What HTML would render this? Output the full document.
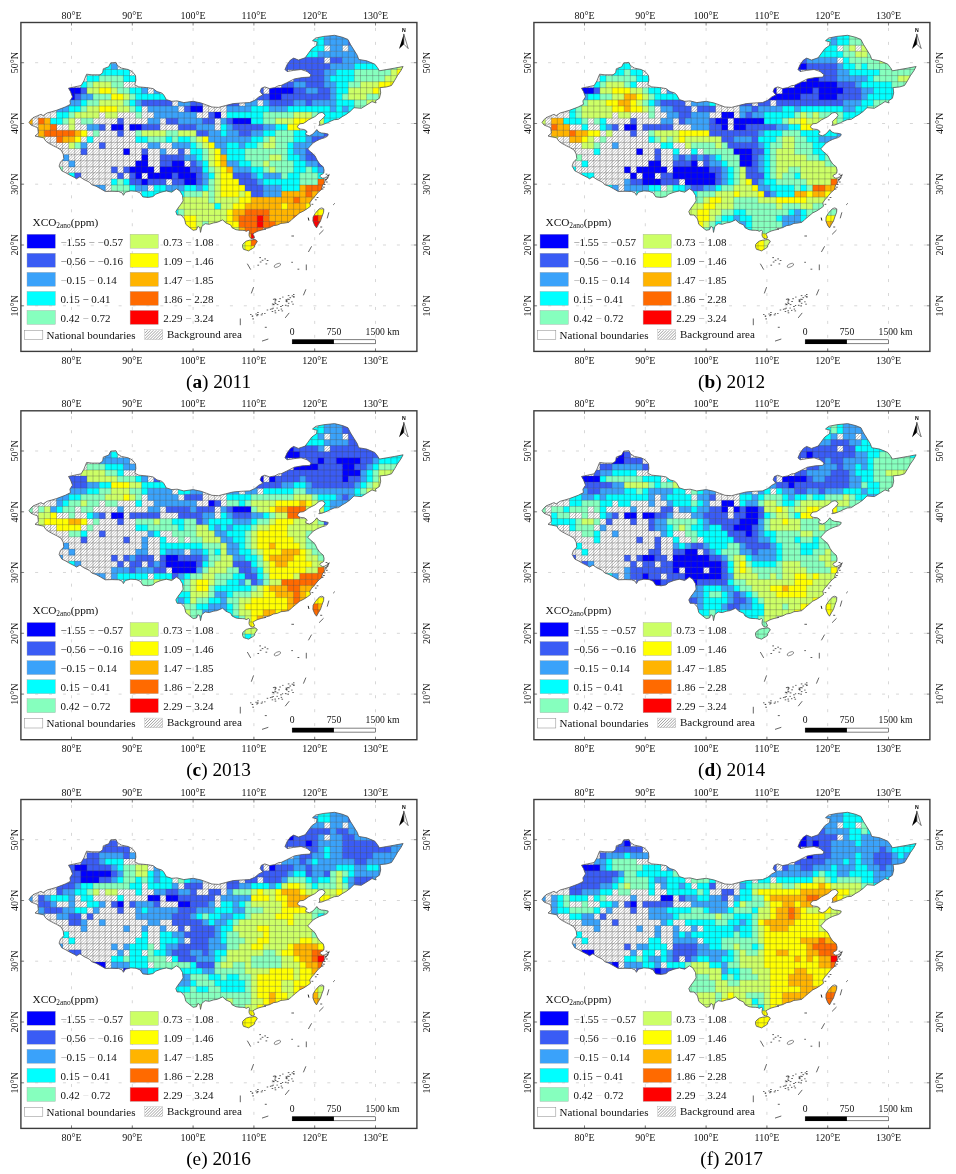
<!DOCTYPE html>
<html lang="en"><head><meta charset="utf-8"><title>XCO2 anomaly maps</title>
<style>html,body{margin:0;padding:0;background:#fff}svg{display:block}.t{font-family:"Liberation Serif",serif;fill:#111}.c{font-family:"Liberation Serif",serif;fill:#000;font-size:19.3px}</style></head><body>
<svg width="956" height="1174" viewBox="0 0 956 1174">
<defs>
<clipPath id="cn"><polygon points="29,122.4 31,119.7 33,117.7 37.7,115.7 41.1,114.3 43.1,115.7 47.1,113 51.8,111.7 56.5,110.3 65.2,107 70.5,104.3 69.9,100.9 72.5,96.9 70.5,91.6 68.5,88.2 74.5,86.9 81.2,85.5 83.9,80.9 86.6,74.2 91.9,74.8 100,74.8 102.7,72.8 103.3,68.8 108.7,66.8 110.7,62.8 116,62.4 117.4,65.5 121.4,68.1 128.1,69.5 132.1,71.5 135.5,75.5 135.9,80.2 134.8,84.9 138.8,86.9 146.8,87.6 153,88.6 157,91.6 161.7,92.9 163.7,94.9 166.4,99.6 171.7,101.3 177.1,100.9 183.8,102.6 193.2,101.3 201.2,103 206.6,105 211.9,107 218.6,107.4 225.3,105.6 233.3,103.6 241.4,103 249.4,102.6 254.8,100.3 258.8,96.9 262.8,94.9 260.1,91.6 261.4,88.2 264.8,86.9 269.5,88.6 274.8,87.6 278.9,85.5 281,85.5 286.4,82.9 294.4,78.9 302.4,77.5 309.8,77.1 311.1,74.8 307.1,71.5 301.1,69.5 293.7,70.4 287,71.5 285,69.5 287,64.8 290.4,60.1 293.7,58.1 298.4,60.1 305.1,57.8 307.8,54.1 311.8,48.7 316.5,45.4 317.1,42 312.5,40.7 315.8,38 323.8,36.4 334.6,35.3 342.6,37.3 347.9,39.4 350.6,44.7 354,50.1 357.3,55.4 358.7,59.4 366.7,60.8 374.7,64.1 377.4,67.5 379.4,70.8 386.8,69.5 394.8,68.1 403.1,66.5 400.8,70.8 397.5,75.5 394.8,80.2 391.5,85.5 386.8,86.9 380.1,87.6 380.7,92.9 379.4,98.3 375.4,100.9 376.1,103 372,101.6 366.7,105 361.3,108.3 354,107.7 350.2,111.4 346.2,114.4 342.2,116.7 338.2,119.4 334.2,119.7 330.2,121.4 327.5,122.8 324.1,124.1 321.5,125.1 318.8,125.4 319.8,124.1 319.5,121.4 321.5,119.4 323.5,117.7 325.1,115.4 324.1,113.7 322.1,112.4 319.1,113.1 316.8,115.1 314.8,116.7 311.4,118.4 308.1,120.1 306.1,121.8 303.4,123.4 300,123.8 298.4,125.1 297.4,126.8 298.7,128.4 300.7,129.1 304.4,129.5 306.4,130.8 307.1,132.1 305.7,133.5 306.1,134.8 309.4,135.8 312.1,134.5 314.8,132.1 316.8,129.5 318.8,132 321.5,133 324.8,133.3 328.2,134.1 327.8,135.8 325.5,137.5 322.1,138.5 319.5,139.5 316.8,140.8 313.4,142.8 310.1,146.2 307.7,148.9 310.1,151.5 312.8,153.5 314.8,156 315.1,156 317.1,160.1 319.8,164.1 323.2,166.8 324.1,170.1 323.8,173 322.6,174 320.5,174.9 319.9,176.1 320.9,177.4 322.6,178.2 324.3,178 326.8,176.7 329.3,174.4 327.2,179 325.1,180.9 324.3,183.4 322.6,185.1 322,187.2 321.8,189.3 319.7,191 317.6,193.1 315.5,195.6 313.8,197.7 311.7,200 309.8,202.9 310.5,206.2 307.8,208.3 303.8,210.9 299.7,212.9 295.7,216.3 291.7,219.6 289,222.3 285,223 281,223.4 277.5,225 273.5,225.7 269.5,227.7 264.1,229 266,229.1 264.2,229.5 261.1,230.2 258,231.1 256.1,232 254.2,233 252.9,234.2 253.9,235.8 254.5,237.7 252.6,238.8 250.7,238.3 249.5,236.7 249,235.2 249.2,233 249.5,231.4 248.6,230.2 246,231.4 245.1,230.6 242.3,230.3 239.1,230.2 236,229.7 232,227.7 230.7,225 226,223 222.6,219.9 217.3,222.3 213.2,223 209.2,224.3 205.2,223.7 201.9,226.3 200.5,232.4 199.9,227.7 197.9,226.3 196.5,229.7 193.2,230.3 189.8,227.7 185.8,224.3 184.5,219 181.1,215 177.1,215 175.8,211.6 177.8,208.3 180.4,204.9 183.1,200.9 182.5,195.5 179.8,190.9 176.4,188.8 171.7,192.2 166.4,190.9 161,192.2 155.7,194.2 153,196.6 148.2,197.5 142.8,196.9 140.1,192.9 136.1,191.3 130.8,190.9 125.4,192.2 123.4,195.3 122.1,192.9 118.7,191.5 112,191.3 105.3,191.5 100.6,188.8 96,186.2 91.9,184.8 89.3,182.1 83.9,179.5 79.9,176.8 76.5,178.8 74.5,177.5 69.2,174.8 65.8,172.8 61.8,170.8 59.1,166.1 60.5,162.1 63.8,158.7 63.2,154 61.1,150 56.5,147.3 53.8,146 48.4,143.1 45.8,141.1 43.7,137.8 38.4,136.8 35,136 38.4,133.1 37.7,127.7 34.4,126.4 31,125"/><polygon points="249.5,240.2 252.3,239.9 254.8,239.4 256.7,240.5 257.3,241.5 256.1,243.3 254.8,245.2 254.5,247.1 252.3,248.7 250.1,249.9 248.6,250.9 246.4,250.2 243.5,249.3 242.6,247.1 242.6,244.6 244.2,242.7 246.4,241.1"/><polygon points="321.8,207.9 323.8,208.9 323.6,212.3 321.8,217 320.5,221 318.5,224.3 316.5,227.9 314.5,225 312.9,221 313.1,217 315.1,213.6 317.8,210.3 319.8,208.5"/></clipPath><clipPath id="lg"><rect x="145" y="330.2" width="17.8" height="9.2"/></clipPath></defs>
<rect width="956" height="1174" fill="#fff"/>
<g transform="translate(0 0)">
<path d="M71.5 22.5V351.4M132.3 22.5V351.4M193.1 22.5V351.4M253.9 22.5V351.4M314.7 22.5V351.4M375.5 22.5V351.4" stroke="#cdcdcd" stroke-width="0.8" stroke-dasharray="3 10.95" stroke-dashoffset="8.5" fill="none"/><path d="M20.9 305.8H416.9M20.9 245H416.9M20.9 184.2H416.9M20.9 123.5H416.9M20.9 62.7H416.9" stroke="#cdcdcd" stroke-width="0.8" stroke-dasharray="3 10.914" stroke-dashoffset="13.6" fill="none"/><path d="M71.5 22.5v3M71.5 351.4v-3M132.3 22.5v3M132.3 351.4v-3M193.1 22.5v3M193.1 351.4v-3M253.9 22.5v3M253.9 351.4v-3M314.7 22.5v3M314.7 351.4v-3M375.5 22.5v3M375.5 351.4v-3M20.9 305.8h3M416.9 305.8h-3M20.9 245h3M416.9 245h-3M20.9 184.2h3M416.9 184.2h-3M20.9 123.5h3M416.9 123.5h-3M20.9 62.7h3M416.9 62.7h-3" stroke="#666" stroke-width="0.8" fill="none"/>
<g clip-path="url(#cn)">
<path d="M-196 260l224 -224M-193.1 260l224 -224M-190.2 260l224 -224M-187.3 260l224 -224M-184.4 260l224 -224M-181.5 260l224 -224M-178.6 260l224 -224M-175.7 260l224 -224M-172.8 260l224 -224M-169.9 260l224 -224M-167 260l224 -224M-164.1 260l224 -224M-161.2 260l224 -224M-158.3 260l224 -224M-155.4 260l224 -224M-152.5 260l224 -224M-149.6 260l224 -224M-146.7 260l224 -224M-143.8 260l224 -224M-140.9 260l224 -224M-138 260l224 -224M-135.1 260l224 -224M-132.2 260l224 -224M-129.3 260l224 -224M-126.4 260l224 -224M-123.5 260l224 -224M-120.6 260l224 -224M-117.7 260l224 -224M-114.8 260l224 -224M-111.9 260l224 -224M-109 260l224 -224M-106.1 260l224 -224M-103.2 260l224 -224M-100.3 260l224 -224M-97.4 260l224 -224M-94.5 260l224 -224M-91.6 260l224 -224M-88.7 260l224 -224M-85.8 260l224 -224M-82.9 260l224 -224M-80 260l224 -224M-77.1 260l224 -224M-74.2 260l224 -224M-71.3 260l224 -224M-68.4 260l224 -224M-65.5 260l224 -224M-62.6 260l224 -224M-59.7 260l224 -224M-56.8 260l224 -224M-53.9 260l224 -224M-51 260l224 -224M-48.1 260l224 -224M-45.2 260l224 -224M-42.3 260l224 -224M-39.4 260l224 -224M-36.5 260l224 -224M-33.6 260l224 -224M-30.7 260l224 -224M-27.8 260l224 -224M-24.9 260l224 -224M-22 260l224 -224M-19.1 260l224 -224M-16.2 260l224 -224M-13.3 260l224 -224M-10.4 260l224 -224M-7.5 260l224 -224M-4.6 260l224 -224M-1.7 260l224 -224M1.2 260l224 -224M4.1 260l224 -224M7 260l224 -224M9.9 260l224 -224M12.8 260l224 -224M15.7 260l224 -224M18.6 260l224 -224M21.5 260l224 -224M24.4 260l224 -224M27.3 260l224 -224M30.2 260l224 -224M33.1 260l224 -224M36 260l224 -224M38.9 260l224 -224M41.8 260l224 -224M44.7 260l224 -224M47.6 260l224 -224M50.5 260l224 -224M53.4 260l224 -224M56.3 260l224 -224M59.2 260l224 -224M62.1 260l224 -224M65 260l224 -224M67.9 260l224 -224M70.8 260l224 -224M73.7 260l224 -224M76.6 260l224 -224M79.5 260l224 -224M82.4 260l224 -224M85.3 260l224 -224M88.2 260l224 -224M91.1 260l224 -224M94 260l224 -224M96.9 260l224 -224M99.8 260l224 -224M102.7 260l224 -224M105.6 260l224 -224M108.5 260l224 -224M111.4 260l224 -224M114.3 260l224 -224M117.2 260l224 -224M120.1 260l224 -224M123 260l224 -224M125.9 260l224 -224M128.8 260l224 -224M131.7 260l224 -224M134.6 260l224 -224M137.5 260l224 -224M140.4 260l224 -224M143.3 260l224 -224M146.2 260l224 -224M149.1 260l224 -224M152 260l224 -224M154.9 260l224 -224M157.8 260l224 -224M160.7 260l224 -224M163.6 260l224 -224M166.5 260l224 -224M169.4 260l224 -224M172.3 260l224 -224M175.2 260l224 -224M178.1 260l224 -224M181 260l224 -224M183.9 260l224 -224M186.8 260l224 -224M189.7 260l224 -224M192.6 260l224 -224M195.5 260l224 -224M198.4 260l224 -224M201.3 260l224 -224M204.2 260l224 -224M207.1 260l224 -224M210 260l224 -224M212.9 260l224 -224M215.8 260l224 -224M218.7 260l224 -224M221.6 260l224 -224M224.5 260l224 -224M227.4 260l224 -224M230.3 260l224 -224M233.2 260l224 -224M236.1 260l224 -224M239 260l224 -224M241.9 260l224 -224M244.8 260l224 -224M247.7 260l224 -224M250.6 260l224 -224M253.5 260l224 -224M256.4 260l224 -224M259.3 260l224 -224M262.2 260l224 -224M265.1 260l224 -224M268 260l224 -224M270.9 260l224 -224M273.8 260l224 -224M276.7 260l224 -224M279.6 260l224 -224M282.5 260l224 -224M285.4 260l224 -224M288.3 260l224 -224M291.2 260l224 -224M294.1 260l224 -224M297 260l224 -224M299.9 260l224 -224M302.8 260l224 -224M305.7 260l224 -224M308.6 260l224 -224M311.5 260l224 -224M314.4 260l224 -224M317.3 260l224 -224M320.2 260l224 -224M323.1 260l224 -224M326 260l224 -224M328.9 260l224 -224M331.8 260l224 -224M334.7 260l224 -224M337.6 260l224 -224M340.5 260l224 -224M343.4 260l224 -224M346.3 260l224 -224M349.2 260l224 -224M352.1 260l224 -224M355 260l224 -224M357.9 260l224 -224M360.8 260l224 -224M363.7 260l224 -224M366.6 260l224 -224M369.5 260l224 -224M372.4 260l224 -224M375.3 260l224 -224M378.2 260l224 -224M381.1 260l224 -224M384 260l224 -224M386.9 260l224 -224M389.8 260l224 -224M392.7 260l224 -224M395.6 260l224 -224M398.5 260l224 -224M401.4 260l224 -224M404.3 260l224 -224" stroke="#585858" stroke-width="0.4" fill="none"/>
<rect x="317.9" y="33" width="6.4" height="6.4" fill="#00ffff"/>
<rect x="324" y="33" width="24.6" height="6.4" fill="#3aa2fa"/>
<rect x="311.9" y="39.1" width="12.5" height="6.4" fill="#00ffff"/>
<rect x="324" y="39.1" width="24.6" height="6.4" fill="#3aa2fa"/>
<rect x="348.3" y="39.1" width="6.4" height="6.4" fill="#3a5cf5"/>
<rect x="305.8" y="45.2" width="18.5" height="6.4" fill="#00ffff"/>
<rect x="330.1" y="45.2" width="12.5" height="6.4" fill="#3aa2fa"/>
<rect x="348.3" y="45.2" width="12.5" height="6.4" fill="#3aa2fa"/>
<rect x="305.8" y="51.3" width="12.5" height="6.4" fill="#00ffff"/>
<rect x="317.9" y="51.3" width="42.9" height="6.4" fill="#3aa2fa"/>
<rect x="287.5" y="57.3" width="36.8" height="6.4" fill="#3a5cf5"/>
<rect x="330.1" y="57.3" width="12.5" height="6.4" fill="#3a5cf5"/>
<rect x="342.3" y="57.3" width="30.7" height="6.4" fill="#3aa2fa"/>
<rect x="105.1" y="63.4" width="6.4" height="6.4" fill="#00ffff"/>
<rect x="111.2" y="63.4" width="6.4" height="6.4" fill="#3aa2fa"/>
<rect x="281.5" y="63.4" width="48.9" height="6.4" fill="#3a5cf5"/>
<rect x="330.1" y="63.4" width="24.6" height="6.4" fill="#3aa2fa"/>
<rect x="354.4" y="63.4" width="24.6" height="6.4" fill="#00ffff"/>
<rect x="390.9" y="63.4" width="6.4" height="6.4" fill="#86ffbe"/>
<rect x="397" y="63.4" width="6.4" height="6.4" fill="#ccff66"/>
<rect x="99.1" y="69.5" width="30.7" height="6.4" fill="#00ffff"/>
<rect x="281.5" y="69.5" width="6.4" height="6.4" fill="#3a5cf5"/>
<rect x="305.8" y="69.5" width="18.5" height="6.4" fill="#3a5cf5"/>
<rect x="324" y="69.5" width="12.5" height="6.4" fill="#3aa2fa"/>
<rect x="336.2" y="69.5" width="18.5" height="6.4" fill="#00ffff"/>
<rect x="354.4" y="69.5" width="36.8" height="6.4" fill="#86ffbe"/>
<rect x="390.9" y="69.5" width="6.4" height="6.4" fill="#ccff66"/>
<rect x="397" y="69.5" width="6.4" height="6.4" fill="#ffff00"/>
<rect x="86.9" y="75.6" width="12.5" height="6.4" fill="#00ffff"/>
<rect x="99.1" y="75.6" width="24.6" height="6.4" fill="#86ffbe"/>
<rect x="123.4" y="75.6" width="12.5" height="6.4" fill="#00ffff"/>
<rect x="293.6" y="75.6" width="30.7" height="6.4" fill="#3a5cf5"/>
<rect x="324" y="75.6" width="6.4" height="6.4" fill="#3aa2fa"/>
<rect x="330.1" y="75.6" width="24.6" height="6.4" fill="#00ffff"/>
<rect x="354.4" y="75.6" width="30.7" height="6.4" fill="#86ffbe"/>
<rect x="384.8" y="75.6" width="12.5" height="6.4" fill="#ccff66"/>
<rect x="80.8" y="81.7" width="6.4" height="6.4" fill="#00ffff"/>
<rect x="86.9" y="81.7" width="6.4" height="6.4" fill="#86ffbe"/>
<rect x="93" y="81.7" width="18.5" height="6.4" fill="#ccff66"/>
<rect x="111.2" y="81.7" width="12.5" height="6.4" fill="#86ffbe"/>
<rect x="281.5" y="81.7" width="12.5" height="6.4" fill="#3a5cf5"/>
<rect x="293.6" y="81.7" width="12.5" height="6.4" fill="#3aa2fa"/>
<rect x="305.8" y="81.7" width="18.5" height="6.4" fill="#3a5cf5"/>
<rect x="324" y="81.7" width="12.5" height="6.4" fill="#3aa2fa"/>
<rect x="336.2" y="81.7" width="12.5" height="6.4" fill="#00ffff"/>
<rect x="348.3" y="81.7" width="12.5" height="6.4" fill="#86ffbe"/>
<rect x="360.5" y="81.7" width="18.5" height="6.4" fill="#ccff66"/>
<rect x="378.7" y="81.7" width="18.5" height="6.4" fill="#ffff00"/>
<rect x="68.7" y="87.7" width="12.5" height="6.4" fill="#0000ff"/>
<rect x="80.8" y="87.7" width="6.4" height="6.4" fill="#3a5cf5"/>
<rect x="86.9" y="87.7" width="12.5" height="6.4" fill="#ccff66"/>
<rect x="99.1" y="87.7" width="12.5" height="6.4" fill="#ffff00"/>
<rect x="111.2" y="87.7" width="6.4" height="6.4" fill="#ccff66"/>
<rect x="117.3" y="87.7" width="12.5" height="6.4" fill="#86ffbe"/>
<rect x="129.5" y="87.7" width="12.5" height="6.4" fill="#00ffff"/>
<rect x="141.6" y="87.7" width="6.4" height="6.4" fill="#3aa2fa"/>
<rect x="153.8" y="87.7" width="6.4" height="6.4" fill="#3aa2fa"/>
<rect x="257.1" y="87.7" width="6.4" height="6.4" fill="#3a5cf5"/>
<rect x="269.3" y="87.7" width="24.6" height="6.4" fill="#0000ff"/>
<rect x="293.6" y="87.7" width="12.5" height="6.4" fill="#3a5cf5"/>
<rect x="305.8" y="87.7" width="12.5" height="6.4" fill="#3aa2fa"/>
<rect x="317.9" y="87.7" width="12.5" height="6.4" fill="#3a5cf5"/>
<rect x="330.1" y="87.7" width="6.4" height="6.4" fill="#3aa2fa"/>
<rect x="336.2" y="87.7" width="12.5" height="6.4" fill="#00ffff"/>
<rect x="348.3" y="87.7" width="24.6" height="6.4" fill="#ccff66"/>
<rect x="372.7" y="87.7" width="6.4" height="6.4" fill="#ffff00"/>
<rect x="378.7" y="87.7" width="6.4" height="6.4" fill="#ccff66"/>
<rect x="68.7" y="93.8" width="6.4" height="6.4" fill="#0000ff"/>
<rect x="74.7" y="93.8" width="6.4" height="6.4" fill="#3a5cf5"/>
<rect x="80.8" y="93.8" width="12.5" height="6.4" fill="#3aa2fa"/>
<rect x="93" y="93.8" width="18.5" height="6.4" fill="#86ffbe"/>
<rect x="111.2" y="93.8" width="12.5" height="6.4" fill="#ffff00"/>
<rect x="123.4" y="93.8" width="6.4" height="6.4" fill="#ccff66"/>
<rect x="129.5" y="93.8" width="6.4" height="6.4" fill="#86ffbe"/>
<rect x="135.5" y="93.8" width="30.7" height="6.4" fill="#00ffff"/>
<rect x="251.1" y="93.8" width="6.4" height="6.4" fill="#3aa2fa"/>
<rect x="257.1" y="93.8" width="12.5" height="6.4" fill="#3a5cf5"/>
<rect x="269.3" y="93.8" width="12.5" height="6.4" fill="#0000ff"/>
<rect x="281.5" y="93.8" width="48.9" height="6.4" fill="#3a5cf5"/>
<rect x="330.1" y="93.8" width="6.4" height="6.4" fill="#3aa2fa"/>
<rect x="336.2" y="93.8" width="6.4" height="6.4" fill="#00ffff"/>
<rect x="342.3" y="93.8" width="6.4" height="6.4" fill="#86ffbe"/>
<rect x="348.3" y="93.8" width="18.5" height="6.4" fill="#ccff66"/>
<rect x="366.6" y="93.8" width="12.5" height="6.4" fill="#86ffbe"/>
<rect x="378.7" y="93.8" width="6.4" height="6.4" fill="#ccff66"/>
<rect x="68.7" y="99.9" width="12.5" height="6.4" fill="#3aa2fa"/>
<rect x="80.8" y="99.9" width="6.4" height="6.4" fill="#00ffff"/>
<rect x="86.9" y="99.9" width="12.5" height="6.4" fill="#86ffbe"/>
<rect x="99.1" y="99.9" width="24.6" height="6.4" fill="#ccff66"/>
<rect x="123.4" y="99.9" width="6.4" height="6.4" fill="#86ffbe"/>
<rect x="129.5" y="99.9" width="6.4" height="6.4" fill="#00ffff"/>
<rect x="135.5" y="99.9" width="6.4" height="6.4" fill="#3aa2fa"/>
<rect x="141.6" y="99.9" width="30.7" height="6.4" fill="#3a5cf5"/>
<rect x="178.1" y="99.9" width="12.5" height="6.4" fill="#3aa2fa"/>
<rect x="190.3" y="99.9" width="12.5" height="6.4" fill="#3a5cf5"/>
<rect x="226.7" y="99.9" width="12.5" height="6.4" fill="#3a5cf5"/>
<rect x="245" y="99.9" width="12.5" height="6.4" fill="#3aa2fa"/>
<rect x="263.2" y="99.9" width="6.4" height="6.4" fill="#3aa2fa"/>
<rect x="269.3" y="99.9" width="24.6" height="6.4" fill="#3a5cf5"/>
<rect x="293.6" y="99.9" width="12.5" height="6.4" fill="#3aa2fa"/>
<rect x="305.8" y="99.9" width="6.4" height="6.4" fill="#3a5cf5"/>
<rect x="311.9" y="99.9" width="24.6" height="6.4" fill="#3aa2fa"/>
<rect x="336.2" y="99.9" width="18.5" height="6.4" fill="#00ffff"/>
<rect x="354.4" y="99.9" width="12.5" height="6.4" fill="#86ffbe"/>
<rect x="366.6" y="99.9" width="12.5" height="6.4" fill="#ccff66"/>
<rect x="56.5" y="106" width="12.5" height="6.4" fill="#3aa2fa"/>
<rect x="68.7" y="106" width="12.5" height="6.4" fill="#00ffff"/>
<rect x="80.8" y="106" width="6.4" height="6.4" fill="#86ffbe"/>
<rect x="86.9" y="106" width="12.5" height="6.4" fill="#ccff66"/>
<rect x="99.1" y="106" width="18.5" height="6.4" fill="#ffff00"/>
<rect x="117.3" y="106" width="12.5" height="6.4" fill="#ccff66"/>
<rect x="129.5" y="106" width="6.4" height="6.4" fill="#86ffbe"/>
<rect x="135.5" y="106" width="6.4" height="6.4" fill="#00ffff"/>
<rect x="147.7" y="106" width="30.7" height="6.4" fill="#3aa2fa"/>
<rect x="184.2" y="106" width="6.4" height="6.4" fill="#3a5cf5"/>
<rect x="190.3" y="106" width="12.5" height="6.4" fill="#0000ff"/>
<rect x="226.7" y="106" width="24.6" height="6.4" fill="#3aa2fa"/>
<rect x="251.1" y="106" width="18.5" height="6.4" fill="#00ffff"/>
<rect x="269.3" y="106" width="18.5" height="6.4" fill="#3aa2fa"/>
<rect x="287.5" y="106" width="42.9" height="6.4" fill="#00ffff"/>
<rect x="330.1" y="106" width="6.4" height="6.4" fill="#3aa2fa"/>
<rect x="336.2" y="106" width="6.4" height="6.4" fill="#00ffff"/>
<rect x="342.3" y="106" width="6.4" height="6.4" fill="#3aa2fa"/>
<rect x="348.3" y="106" width="6.4" height="6.4" fill="#00ffff"/>
<rect x="354.4" y="106" width="12.5" height="6.4" fill="#86ffbe"/>
<rect x="56.5" y="112" width="12.5" height="6.4" fill="#00ffff"/>
<rect x="68.7" y="112" width="6.4" height="6.4" fill="#86ffbe"/>
<rect x="74.7" y="112" width="24.6" height="6.4" fill="#ccff66"/>
<rect x="105.1" y="112" width="12.5" height="6.4" fill="#ccff66"/>
<rect x="135.5" y="112" width="6.4" height="6.4" fill="#86ffbe"/>
<rect x="153.8" y="112" width="42.9" height="6.4" fill="#3aa2fa"/>
<rect x="208.5" y="112" width="6.4" height="6.4" fill="#3a5cf5"/>
<rect x="214.6" y="112" width="6.4" height="6.4" fill="#0000ff"/>
<rect x="226.7" y="112" width="36.8" height="6.4" fill="#00ffff"/>
<rect x="263.2" y="112" width="30.7" height="6.4" fill="#86ffbe"/>
<rect x="293.6" y="112" width="18.5" height="6.4" fill="#ccff66"/>
<rect x="311.9" y="112" width="6.4" height="6.4" fill="#86ffbe"/>
<rect x="317.9" y="112" width="36.8" height="6.4" fill="#00ffff"/>
<rect x="26.1" y="118.1" width="6.4" height="6.4" fill="#ffb400"/>
<rect x="38.3" y="118.1" width="6.4" height="6.4" fill="#ff6a00"/>
<rect x="44.3" y="118.1" width="6.4" height="6.4" fill="#ffb400"/>
<rect x="50.4" y="118.1" width="12.5" height="6.4" fill="#00ffff"/>
<rect x="62.6" y="118.1" width="6.4" height="6.4" fill="#86ffbe"/>
<rect x="68.7" y="118.1" width="6.4" height="6.4" fill="#ccff66"/>
<rect x="80.8" y="118.1" width="12.5" height="6.4" fill="#86ffbe"/>
<rect x="117.3" y="118.1" width="6.4" height="6.4" fill="#3a5cf5"/>
<rect x="147.7" y="118.1" width="12.5" height="6.4" fill="#3aa2fa"/>
<rect x="165.9" y="118.1" width="12.5" height="6.4" fill="#3a5cf5"/>
<rect x="178.1" y="118.1" width="24.6" height="6.4" fill="#3aa2fa"/>
<rect x="202.4" y="118.1" width="12.5" height="6.4" fill="#3a5cf5"/>
<rect x="220.7" y="118.1" width="6.4" height="6.4" fill="#3aa2fa"/>
<rect x="226.7" y="118.1" width="6.4" height="6.4" fill="#3a5cf5"/>
<rect x="232.8" y="118.1" width="18.5" height="6.4" fill="#0000ff"/>
<rect x="251.1" y="118.1" width="12.5" height="6.4" fill="#00ffff"/>
<rect x="263.2" y="118.1" width="12.5" height="6.4" fill="#86ffbe"/>
<rect x="275.4" y="118.1" width="18.5" height="6.4" fill="#ccff66"/>
<rect x="293.6" y="118.1" width="18.5" height="6.4" fill="#ffff00"/>
<rect x="311.9" y="118.1" width="12.5" height="6.4" fill="#ccff66"/>
<rect x="324" y="118.1" width="12.5" height="6.4" fill="#00ffff"/>
<rect x="38.3" y="124.2" width="12.5" height="6.4" fill="#ffb400"/>
<rect x="50.4" y="124.2" width="6.4" height="6.4" fill="#ff6a00"/>
<rect x="68.7" y="124.2" width="6.4" height="6.4" fill="#ccff66"/>
<rect x="86.9" y="124.2" width="12.5" height="6.4" fill="#3aa2fa"/>
<rect x="99.1" y="124.2" width="6.4" height="6.4" fill="#3a5cf5"/>
<rect x="111.2" y="124.2" width="12.5" height="6.4" fill="#0000ff"/>
<rect x="129.5" y="124.2" width="12.5" height="6.4" fill="#0000ff"/>
<rect x="141.6" y="124.2" width="18.5" height="6.4" fill="#3a5cf5"/>
<rect x="178.1" y="124.2" width="18.5" height="6.4" fill="#3a5cf5"/>
<rect x="196.3" y="124.2" width="18.5" height="6.4" fill="#3aa2fa"/>
<rect x="220.7" y="124.2" width="6.4" height="6.4" fill="#00ffff"/>
<rect x="226.7" y="124.2" width="6.4" height="6.4" fill="#3aa2fa"/>
<rect x="232.8" y="124.2" width="30.7" height="6.4" fill="#3a5cf5"/>
<rect x="263.2" y="124.2" width="12.5" height="6.4" fill="#3aa2fa"/>
<rect x="275.4" y="124.2" width="12.5" height="6.4" fill="#00ffff"/>
<rect x="287.5" y="124.2" width="12.5" height="6.4" fill="#ffff00"/>
<rect x="38.3" y="130.3" width="6.4" height="6.4" fill="#ffb400"/>
<rect x="44.3" y="130.3" width="30.7" height="6.4" fill="#ff6a00"/>
<rect x="74.7" y="130.3" width="6.4" height="6.4" fill="#ffb400"/>
<rect x="80.8" y="130.3" width="6.4" height="6.4" fill="#ffff00"/>
<rect x="93" y="130.3" width="6.4" height="6.4" fill="#86ffbe"/>
<rect x="117.3" y="130.3" width="6.4" height="6.4" fill="#3a5cf5"/>
<rect x="135.5" y="130.3" width="6.4" height="6.4" fill="#86ffbe"/>
<rect x="141.6" y="130.3" width="24.6" height="6.4" fill="#ccff66"/>
<rect x="165.9" y="130.3" width="12.5" height="6.4" fill="#86ffbe"/>
<rect x="178.1" y="130.3" width="18.5" height="6.4" fill="#ccff66"/>
<rect x="196.3" y="130.3" width="12.5" height="6.4" fill="#3a5cf5"/>
<rect x="208.5" y="130.3" width="12.5" height="6.4" fill="#3aa2fa"/>
<rect x="220.7" y="130.3" width="6.4" height="6.4" fill="#00ffff"/>
<rect x="226.7" y="130.3" width="12.5" height="6.4" fill="#3aa2fa"/>
<rect x="238.9" y="130.3" width="12.5" height="6.4" fill="#3a5cf5"/>
<rect x="251.1" y="130.3" width="12.5" height="6.4" fill="#3aa2fa"/>
<rect x="263.2" y="130.3" width="12.5" height="6.4" fill="#00ffff"/>
<rect x="275.4" y="130.3" width="18.5" height="6.4" fill="#86ffbe"/>
<rect x="293.6" y="130.3" width="12.5" height="6.4" fill="#00ffff"/>
<rect x="305.8" y="130.3" width="18.5" height="6.4" fill="#3aa2fa"/>
<rect x="324" y="130.3" width="6.4" height="6.4" fill="#3a5cf5"/>
<rect x="38.3" y="136.4" width="6.4" height="6.4" fill="#ffff00"/>
<rect x="56.5" y="136.4" width="6.4" height="6.4" fill="#ff6a00"/>
<rect x="62.6" y="136.4" width="12.5" height="6.4" fill="#ffb400"/>
<rect x="74.7" y="136.4" width="6.4" height="6.4" fill="#ffff00"/>
<rect x="86.9" y="136.4" width="6.4" height="6.4" fill="#00ffff"/>
<rect x="135.5" y="136.4" width="12.5" height="6.4" fill="#00ffff"/>
<rect x="147.7" y="136.4" width="18.5" height="6.4" fill="#86ffbe"/>
<rect x="165.9" y="136.4" width="6.4" height="6.4" fill="#00ffff"/>
<rect x="172" y="136.4" width="6.4" height="6.4" fill="#86ffbe"/>
<rect x="178.1" y="136.4" width="12.5" height="6.4" fill="#00ffff"/>
<rect x="190.3" y="136.4" width="6.4" height="6.4" fill="#86ffbe"/>
<rect x="196.3" y="136.4" width="6.4" height="6.4" fill="#ccff66"/>
<rect x="202.4" y="136.4" width="6.4" height="6.4" fill="#ffff00"/>
<rect x="208.5" y="136.4" width="42.9" height="6.4" fill="#3aa2fa"/>
<rect x="251.1" y="136.4" width="12.5" height="6.4" fill="#00ffff"/>
<rect x="263.2" y="136.4" width="6.4" height="6.4" fill="#86ffbe"/>
<rect x="269.3" y="136.4" width="6.4" height="6.4" fill="#ccff66"/>
<rect x="275.4" y="136.4" width="18.5" height="6.4" fill="#86ffbe"/>
<rect x="293.6" y="136.4" width="12.5" height="6.4" fill="#00ffff"/>
<rect x="305.8" y="136.4" width="6.4" height="6.4" fill="#3aa2fa"/>
<rect x="311.9" y="136.4" width="12.5" height="6.4" fill="#3a5cf5"/>
<rect x="68.7" y="142.4" width="6.4" height="6.4" fill="#ccff66"/>
<rect x="74.7" y="142.4" width="6.4" height="6.4" fill="#86ffbe"/>
<rect x="80.8" y="142.4" width="6.4" height="6.4" fill="#3aa2fa"/>
<rect x="99.1" y="142.4" width="6.4" height="6.4" fill="#3a5cf5"/>
<rect x="147.7" y="142.4" width="12.5" height="6.4" fill="#3aa2fa"/>
<rect x="172" y="142.4" width="18.5" height="6.4" fill="#3aa2fa"/>
<rect x="190.3" y="142.4" width="6.4" height="6.4" fill="#00ffff"/>
<rect x="196.3" y="142.4" width="6.4" height="6.4" fill="#86ffbe"/>
<rect x="202.4" y="142.4" width="6.4" height="6.4" fill="#ccff66"/>
<rect x="208.5" y="142.4" width="6.4" height="6.4" fill="#ffff00"/>
<rect x="214.6" y="142.4" width="12.5" height="6.4" fill="#3aa2fa"/>
<rect x="226.7" y="142.4" width="12.5" height="6.4" fill="#00ffff"/>
<rect x="238.9" y="142.4" width="6.4" height="6.4" fill="#3aa2fa"/>
<rect x="245" y="142.4" width="12.5" height="6.4" fill="#00ffff"/>
<rect x="257.1" y="142.4" width="6.4" height="6.4" fill="#86ffbe"/>
<rect x="263.2" y="142.4" width="12.5" height="6.4" fill="#ccff66"/>
<rect x="275.4" y="142.4" width="12.5" height="6.4" fill="#86ffbe"/>
<rect x="287.5" y="142.4" width="6.4" height="6.4" fill="#00ffff"/>
<rect x="293.6" y="142.4" width="18.5" height="6.4" fill="#3aa2fa"/>
<rect x="80.8" y="148.5" width="6.4" height="6.4" fill="#3a5cf5"/>
<rect x="123.4" y="148.5" width="6.4" height="6.4" fill="#0000ff"/>
<rect x="141.6" y="148.5" width="6.4" height="6.4" fill="#3a5cf5"/>
<rect x="159.9" y="148.5" width="6.4" height="6.4" fill="#3aa2fa"/>
<rect x="178.1" y="148.5" width="6.4" height="6.4" fill="#3a5cf5"/>
<rect x="190.3" y="148.5" width="12.5" height="6.4" fill="#00ffff"/>
<rect x="202.4" y="148.5" width="6.4" height="6.4" fill="#86ffbe"/>
<rect x="208.5" y="148.5" width="6.4" height="6.4" fill="#ccff66"/>
<rect x="214.6" y="148.5" width="6.4" height="6.4" fill="#ffff00"/>
<rect x="220.7" y="148.5" width="6.4" height="6.4" fill="#3aa2fa"/>
<rect x="226.7" y="148.5" width="18.5" height="6.4" fill="#00ffff"/>
<rect x="245" y="148.5" width="42.9" height="6.4" fill="#86ffbe"/>
<rect x="287.5" y="148.5" width="6.4" height="6.4" fill="#00ffff"/>
<rect x="293.6" y="148.5" width="12.5" height="6.4" fill="#3aa2fa"/>
<rect x="305.8" y="148.5" width="12.5" height="6.4" fill="#3a5cf5"/>
<rect x="62.6" y="154.6" width="6.4" height="6.4" fill="#3aa2fa"/>
<rect x="141.6" y="154.6" width="6.4" height="6.4" fill="#0000ff"/>
<rect x="159.9" y="154.6" width="24.6" height="6.4" fill="#3a5cf5"/>
<rect x="184.2" y="154.6" width="12.5" height="6.4" fill="#3aa2fa"/>
<rect x="196.3" y="154.6" width="6.4" height="6.4" fill="#00ffff"/>
<rect x="202.4" y="154.6" width="6.4" height="6.4" fill="#86ffbe"/>
<rect x="208.5" y="154.6" width="6.4" height="6.4" fill="#ccff66"/>
<rect x="214.6" y="154.6" width="6.4" height="6.4" fill="#ffff00"/>
<rect x="220.7" y="154.6" width="6.4" height="6.4" fill="#ffb400"/>
<rect x="226.7" y="154.6" width="18.5" height="6.4" fill="#00ffff"/>
<rect x="245" y="154.6" width="24.6" height="6.4" fill="#86ffbe"/>
<rect x="269.3" y="154.6" width="12.5" height="6.4" fill="#ccff66"/>
<rect x="281.5" y="154.6" width="6.4" height="6.4" fill="#86ffbe"/>
<rect x="287.5" y="154.6" width="12.5" height="6.4" fill="#00ffff"/>
<rect x="299.7" y="154.6" width="6.4" height="6.4" fill="#3aa2fa"/>
<rect x="305.8" y="154.6" width="12.5" height="6.4" fill="#3a5cf5"/>
<rect x="68.7" y="160.7" width="6.4" height="6.4" fill="#3aa2fa"/>
<rect x="135.5" y="160.7" width="12.5" height="6.4" fill="#0000ff"/>
<rect x="159.9" y="160.7" width="12.5" height="6.4" fill="#3a5cf5"/>
<rect x="172" y="160.7" width="12.5" height="6.4" fill="#0000ff"/>
<rect x="190.3" y="160.7" width="6.4" height="6.4" fill="#3a5cf5"/>
<rect x="196.3" y="160.7" width="6.4" height="6.4" fill="#3aa2fa"/>
<rect x="202.4" y="160.7" width="6.4" height="6.4" fill="#00ffff"/>
<rect x="208.5" y="160.7" width="6.4" height="6.4" fill="#ccff66"/>
<rect x="214.6" y="160.7" width="6.4" height="6.4" fill="#ffff00"/>
<rect x="220.7" y="160.7" width="6.4" height="6.4" fill="#ffb400"/>
<rect x="226.7" y="160.7" width="12.5" height="6.4" fill="#3aa2fa"/>
<rect x="238.9" y="160.7" width="12.5" height="6.4" fill="#00ffff"/>
<rect x="251.1" y="160.7" width="12.5" height="6.4" fill="#86ffbe"/>
<rect x="263.2" y="160.7" width="6.4" height="6.4" fill="#ccff66"/>
<rect x="269.3" y="160.7" width="24.6" height="6.4" fill="#86ffbe"/>
<rect x="293.6" y="160.7" width="12.5" height="6.4" fill="#00ffff"/>
<rect x="305.8" y="160.7" width="12.5" height="6.4" fill="#3aa2fa"/>
<rect x="317.9" y="160.7" width="6.4" height="6.4" fill="#3a5cf5"/>
<rect x="56.5" y="166.7" width="6.4" height="6.4" fill="#86ffbe"/>
<rect x="111.2" y="166.7" width="6.4" height="6.4" fill="#3a5cf5"/>
<rect x="123.4" y="166.7" width="6.4" height="6.4" fill="#3a5cf5"/>
<rect x="129.5" y="166.7" width="24.6" height="6.4" fill="#0000ff"/>
<rect x="159.9" y="166.7" width="30.7" height="6.4" fill="#0000ff"/>
<rect x="190.3" y="166.7" width="12.5" height="6.4" fill="#3a5cf5"/>
<rect x="202.4" y="166.7" width="6.4" height="6.4" fill="#00ffff"/>
<rect x="208.5" y="166.7" width="6.4" height="6.4" fill="#86ffbe"/>
<rect x="214.6" y="166.7" width="6.4" height="6.4" fill="#ccff66"/>
<rect x="220.7" y="166.7" width="6.4" height="6.4" fill="#ffff00"/>
<rect x="226.7" y="166.7" width="6.4" height="6.4" fill="#ffb400"/>
<rect x="232.8" y="166.7" width="18.5" height="6.4" fill="#3aa2fa"/>
<rect x="251.1" y="166.7" width="12.5" height="6.4" fill="#00ffff"/>
<rect x="263.2" y="166.7" width="6.4" height="6.4" fill="#86ffbe"/>
<rect x="269.3" y="166.7" width="6.4" height="6.4" fill="#ccff66"/>
<rect x="275.4" y="166.7" width="18.5" height="6.4" fill="#86ffbe"/>
<rect x="293.6" y="166.7" width="12.5" height="6.4" fill="#00ffff"/>
<rect x="305.8" y="166.7" width="6.4" height="6.4" fill="#86ffbe"/>
<rect x="311.9" y="166.7" width="6.4" height="6.4" fill="#00ffff"/>
<rect x="317.9" y="166.7" width="6.4" height="6.4" fill="#3aa2fa"/>
<rect x="68.7" y="172.8" width="6.4" height="6.4" fill="#00ffff"/>
<rect x="74.7" y="172.8" width="6.4" height="6.4" fill="#3a5cf5"/>
<rect x="117.3" y="172.8" width="6.4" height="6.4" fill="#3a5cf5"/>
<rect x="129.5" y="172.8" width="6.4" height="6.4" fill="#3a5cf5"/>
<rect x="135.5" y="172.8" width="6.4" height="6.4" fill="#0000ff"/>
<rect x="147.7" y="172.8" width="24.6" height="6.4" fill="#0000ff"/>
<rect x="172" y="172.8" width="6.4" height="6.4" fill="#3a5cf5"/>
<rect x="178.1" y="172.8" width="18.5" height="6.4" fill="#0000ff"/>
<rect x="196.3" y="172.8" width="6.4" height="6.4" fill="#3a5cf5"/>
<rect x="202.4" y="172.8" width="6.4" height="6.4" fill="#3aa2fa"/>
<rect x="208.5" y="172.8" width="6.4" height="6.4" fill="#00ffff"/>
<rect x="214.6" y="172.8" width="6.4" height="6.4" fill="#ccff66"/>
<rect x="220.7" y="172.8" width="12.5" height="6.4" fill="#ffff00"/>
<rect x="232.8" y="172.8" width="18.5" height="6.4" fill="#3a5cf5"/>
<rect x="251.1" y="172.8" width="6.4" height="6.4" fill="#3aa2fa"/>
<rect x="257.1" y="172.8" width="6.4" height="6.4" fill="#00ffff"/>
<rect x="263.2" y="172.8" width="18.5" height="6.4" fill="#3aa2fa"/>
<rect x="281.5" y="172.8" width="6.4" height="6.4" fill="#86ffbe"/>
<rect x="287.5" y="172.8" width="12.5" height="6.4" fill="#00ffff"/>
<rect x="299.7" y="172.8" width="18.5" height="6.4" fill="#86ffbe"/>
<rect x="317.9" y="172.8" width="6.4" height="6.4" fill="#00ffff"/>
<rect x="111.2" y="178.9" width="6.4" height="6.4" fill="#00ffff"/>
<rect x="117.3" y="178.9" width="6.4" height="6.4" fill="#86ffbe"/>
<rect x="123.4" y="178.9" width="6.4" height="6.4" fill="#00ffff"/>
<rect x="129.5" y="178.9" width="12.5" height="6.4" fill="#3a5cf5"/>
<rect x="141.6" y="178.9" width="6.4" height="6.4" fill="#0000ff"/>
<rect x="147.7" y="178.9" width="18.5" height="6.4" fill="#3a5cf5"/>
<rect x="172" y="178.9" width="12.5" height="6.4" fill="#3a5cf5"/>
<rect x="184.2" y="178.9" width="12.5" height="6.4" fill="#0000ff"/>
<rect x="196.3" y="178.9" width="6.4" height="6.4" fill="#3a5cf5"/>
<rect x="202.4" y="178.9" width="6.4" height="6.4" fill="#3aa2fa"/>
<rect x="208.5" y="178.9" width="6.4" height="6.4" fill="#86ffbe"/>
<rect x="214.6" y="178.9" width="6.4" height="6.4" fill="#ccff66"/>
<rect x="220.7" y="178.9" width="18.5" height="6.4" fill="#ffff00"/>
<rect x="238.9" y="178.9" width="18.5" height="6.4" fill="#3a5cf5"/>
<rect x="257.1" y="178.9" width="6.4" height="6.4" fill="#3aa2fa"/>
<rect x="263.2" y="178.9" width="36.8" height="6.4" fill="#00ffff"/>
<rect x="299.7" y="178.9" width="18.5" height="6.4" fill="#86ffbe"/>
<rect x="317.9" y="178.9" width="6.4" height="6.4" fill="#ff6a00"/>
<rect x="93" y="185" width="12.5" height="6.4" fill="#3aa2fa"/>
<rect x="111.2" y="185" width="18.5" height="6.4" fill="#86ffbe"/>
<rect x="129.5" y="185" width="6.4" height="6.4" fill="#00ffff"/>
<rect x="135.5" y="185" width="12.5" height="6.4" fill="#3aa2fa"/>
<rect x="153.8" y="185" width="12.5" height="6.4" fill="#00ffff"/>
<rect x="165.9" y="185" width="18.5" height="6.4" fill="#3aa2fa"/>
<rect x="184.2" y="185" width="12.5" height="6.4" fill="#00ffff"/>
<rect x="196.3" y="185" width="6.4" height="6.4" fill="#3aa2fa"/>
<rect x="202.4" y="185" width="6.4" height="6.4" fill="#00ffff"/>
<rect x="208.5" y="185" width="6.4" height="6.4" fill="#86ffbe"/>
<rect x="214.6" y="185" width="6.4" height="6.4" fill="#ccff66"/>
<rect x="220.7" y="185" width="24.6" height="6.4" fill="#ffff00"/>
<rect x="245" y="185" width="18.5" height="6.4" fill="#3a5cf5"/>
<rect x="263.2" y="185" width="18.5" height="6.4" fill="#3aa2fa"/>
<rect x="281.5" y="185" width="18.5" height="6.4" fill="#00ffff"/>
<rect x="299.7" y="185" width="6.4" height="6.4" fill="#ffb400"/>
<rect x="305.8" y="185" width="18.5" height="6.4" fill="#ff6a00"/>
<rect x="123.4" y="191.1" width="6.4" height="6.4" fill="#86ffbe"/>
<rect x="141.6" y="191.1" width="42.9" height="6.4" fill="#00ffff"/>
<rect x="184.2" y="191.1" width="18.5" height="6.4" fill="#86ffbe"/>
<rect x="202.4" y="191.1" width="6.4" height="6.4" fill="#ccff66"/>
<rect x="208.5" y="191.1" width="6.4" height="6.4" fill="#86ffbe"/>
<rect x="214.6" y="191.1" width="6.4" height="6.4" fill="#ccff66"/>
<rect x="220.7" y="191.1" width="18.5" height="6.4" fill="#ffff00"/>
<rect x="238.9" y="191.1" width="6.4" height="6.4" fill="#ccff66"/>
<rect x="245" y="191.1" width="6.4" height="6.4" fill="#ffff00"/>
<rect x="251.1" y="191.1" width="12.5" height="6.4" fill="#3a5cf5"/>
<rect x="263.2" y="191.1" width="18.5" height="6.4" fill="#3aa2fa"/>
<rect x="281.5" y="191.1" width="24.6" height="6.4" fill="#ffb400"/>
<rect x="305.8" y="191.1" width="6.4" height="6.4" fill="#ff6a00"/>
<rect x="311.9" y="191.1" width="6.4" height="6.4" fill="#ffb400"/>
<rect x="178.1" y="197.1" width="30.7" height="6.4" fill="#ccff66"/>
<rect x="208.5" y="197.1" width="6.4" height="6.4" fill="#86ffbe"/>
<rect x="214.6" y="197.1" width="24.6" height="6.4" fill="#ccff66"/>
<rect x="238.9" y="197.1" width="12.5" height="6.4" fill="#ffff00"/>
<rect x="251.1" y="197.1" width="42.9" height="6.4" fill="#ffb400"/>
<rect x="293.6" y="197.1" width="6.4" height="6.4" fill="#ff6a00"/>
<rect x="299.7" y="197.1" width="18.5" height="6.4" fill="#ffb400"/>
<rect x="178.1" y="203.2" width="36.8" height="6.4" fill="#ccff66"/>
<rect x="214.6" y="203.2" width="6.4" height="6.4" fill="#00ffff"/>
<rect x="220.7" y="203.2" width="12.5" height="6.4" fill="#ccff66"/>
<rect x="232.8" y="203.2" width="12.5" height="6.4" fill="#ffff00"/>
<rect x="245" y="203.2" width="36.8" height="6.4" fill="#ffb400"/>
<rect x="281.5" y="203.2" width="6.4" height="6.4" fill="#ffff00"/>
<rect x="287.5" y="203.2" width="18.5" height="6.4" fill="#ffb400"/>
<rect x="305.8" y="203.2" width="6.4" height="6.4" fill="#ffff00"/>
<rect x="172" y="209.3" width="6.4" height="6.4" fill="#00ffff"/>
<rect x="178.1" y="209.3" width="6.4" height="6.4" fill="#86ffbe"/>
<rect x="184.2" y="209.3" width="42.9" height="6.4" fill="#ccff66"/>
<rect x="226.7" y="209.3" width="6.4" height="6.4" fill="#ffff00"/>
<rect x="232.8" y="209.3" width="12.5" height="6.4" fill="#ffb400"/>
<rect x="245" y="209.3" width="24.6" height="6.4" fill="#ff6a00"/>
<rect x="269.3" y="209.3" width="42.9" height="6.4" fill="#ffb400"/>
<rect x="311.9" y="209.3" width="12.5" height="6.4" fill="#ffff00"/>
<rect x="184.2" y="215.4" width="12.5" height="6.4" fill="#ffff00"/>
<rect x="196.3" y="215.4" width="30.7" height="6.4" fill="#ccff66"/>
<rect x="226.7" y="215.4" width="6.4" height="6.4" fill="#ffff00"/>
<rect x="232.8" y="215.4" width="6.4" height="6.4" fill="#ffb400"/>
<rect x="238.9" y="215.4" width="18.5" height="6.4" fill="#ff6a00"/>
<rect x="257.1" y="215.4" width="6.4" height="6.4" fill="#ff0000"/>
<rect x="263.2" y="215.4" width="6.4" height="6.4" fill="#ff6a00"/>
<rect x="269.3" y="215.4" width="24.6" height="6.4" fill="#ffb400"/>
<rect x="293.6" y="215.4" width="6.4" height="6.4" fill="#ff6a00"/>
<rect x="311.9" y="215.4" width="6.4" height="6.4" fill="#ff0000"/>
<rect x="317.9" y="215.4" width="6.4" height="6.4" fill="#ff6a00"/>
<rect x="184.2" y="221.4" width="12.5" height="6.4" fill="#ffff00"/>
<rect x="196.3" y="221.4" width="6.4" height="6.4" fill="#ccff66"/>
<rect x="202.4" y="221.4" width="6.4" height="6.4" fill="#86ffbe"/>
<rect x="208.5" y="221.4" width="18.5" height="6.4" fill="#ccff66"/>
<rect x="226.7" y="221.4" width="12.5" height="6.4" fill="#ffff00"/>
<rect x="238.9" y="221.4" width="18.5" height="6.4" fill="#ff6a00"/>
<rect x="257.1" y="221.4" width="6.4" height="6.4" fill="#ff0000"/>
<rect x="263.2" y="221.4" width="12.5" height="6.4" fill="#ff6a00"/>
<rect x="275.4" y="221.4" width="12.5" height="6.4" fill="#ffb400"/>
<rect x="311.9" y="221.4" width="12.5" height="6.4" fill="#ff0000"/>
<rect x="190.3" y="227.5" width="6.4" height="6.4" fill="#ffff00"/>
<rect x="196.3" y="227.5" width="6.4" height="6.4" fill="#ccff66"/>
<rect x="232.8" y="227.5" width="6.4" height="6.4" fill="#ccff66"/>
<rect x="238.9" y="227.5" width="6.4" height="6.4" fill="#ffb400"/>
<rect x="245" y="227.5" width="18.5" height="6.4" fill="#ff6a00"/>
<rect x="245" y="233.6" width="6.4" height="6.4" fill="#ffb400"/>
<rect x="251.1" y="233.6" width="6.4" height="6.4" fill="#ff0000"/>
<rect x="238.9" y="239.7" width="6.4" height="6.4" fill="#ccff66"/>
<rect x="245" y="239.7" width="6.4" height="6.4" fill="#ffff00"/>
<rect x="251.1" y="239.7" width="6.4" height="6.4" fill="#ff6a00"/>
<rect x="238.9" y="245.8" width="6.4" height="6.4" fill="#ccff66"/>
<rect x="245" y="245.8" width="12.5" height="6.4" fill="#ffff00"/>
<path d="M26.1 33V264M32.2 33V264M38.3 33V264M44.3 33V264M50.4 33V264M56.5 33V264M62.6 33V264M68.7 33V264M74.7 33V264M80.8 33V264M86.9 33V264M93 33V264M99.1 33V264M105.1 33V264M111.2 33V264M117.3 33V264M123.4 33V264M129.5 33V264M135.5 33V264M141.6 33V264M147.7 33V264M153.8 33V264M159.9 33V264M165.9 33V264M172 33V264M178.1 33V264M184.2 33V264M190.3 33V264M196.3 33V264M202.4 33V264M208.5 33V264M214.6 33V264M220.7 33V264M226.7 33V264M232.8 33V264M238.9 33V264M245 33V264M251.1 33V264M257.1 33V264M263.2 33V264M269.3 33V264M275.4 33V264M281.5 33V264M287.5 33V264M293.6 33V264M299.7 33V264M305.8 33V264M311.9 33V264M317.9 33V264M324 33V264M330.1 33V264M336.2 33V264M342.3 33V264M348.3 33V264M354.4 33V264M360.5 33V264M366.6 33V264M372.7 33V264M378.7 33V264M384.8 33V264M390.9 33V264M397 33V264M403.1 33V264M409.1 33V264M415.2 33V264M26.1 264H415.2M26.1 257.9H415.2M26.1 251.8H415.2M26.1 245.8H415.2M26.1 239.7H415.2M26.1 233.6H415.2M26.1 227.5H415.2M26.1 221.4H415.2M26.1 215.4H415.2M26.1 209.3H415.2M26.1 203.2H415.2M26.1 197.1H415.2M26.1 191.1H415.2M26.1 185H415.2M26.1 178.9H415.2M26.1 172.8H415.2M26.1 166.7H415.2M26.1 160.7H415.2M26.1 154.6H415.2M26.1 148.5H415.2M26.1 142.4H415.2M26.1 136.4H415.2M26.1 130.3H415.2M26.1 124.2H415.2M26.1 118.1H415.2M26.1 112H415.2M26.1 106H415.2M26.1 99.9H415.2M26.1 93.8H415.2M26.1 87.7H415.2M26.1 81.7H415.2M26.1 75.6H415.2M26.1 69.5H415.2M26.1 63.4H415.2M26.1 57.3H415.2M26.1 51.3H415.2M26.1 45.2H415.2M26.1 39.1H415.2M26.1 33H415.2" stroke="#444" stroke-opacity="0.6" stroke-width="0.5" fill="none"/>
</g>
<polygon points="29,122.4 31,119.7 33,117.7 37.7,115.7 41.1,114.3 43.1,115.7 47.1,113 51.8,111.7 56.5,110.3 65.2,107 70.5,104.3 69.9,100.9 72.5,96.9 70.5,91.6 68.5,88.2 74.5,86.9 81.2,85.5 83.9,80.9 86.6,74.2 91.9,74.8 100,74.8 102.7,72.8 103.3,68.8 108.7,66.8 110.7,62.8 116,62.4 117.4,65.5 121.4,68.1 128.1,69.5 132.1,71.5 135.5,75.5 135.9,80.2 134.8,84.9 138.8,86.9 146.8,87.6 153,88.6 157,91.6 161.7,92.9 163.7,94.9 166.4,99.6 171.7,101.3 177.1,100.9 183.8,102.6 193.2,101.3 201.2,103 206.6,105 211.9,107 218.6,107.4 225.3,105.6 233.3,103.6 241.4,103 249.4,102.6 254.8,100.3 258.8,96.9 262.8,94.9 260.1,91.6 261.4,88.2 264.8,86.9 269.5,88.6 274.8,87.6 278.9,85.5 281,85.5 286.4,82.9 294.4,78.9 302.4,77.5 309.8,77.1 311.1,74.8 307.1,71.5 301.1,69.5 293.7,70.4 287,71.5 285,69.5 287,64.8 290.4,60.1 293.7,58.1 298.4,60.1 305.1,57.8 307.8,54.1 311.8,48.7 316.5,45.4 317.1,42 312.5,40.7 315.8,38 323.8,36.4 334.6,35.3 342.6,37.3 347.9,39.4 350.6,44.7 354,50.1 357.3,55.4 358.7,59.4 366.7,60.8 374.7,64.1 377.4,67.5 379.4,70.8 386.8,69.5 394.8,68.1 403.1,66.5 400.8,70.8 397.5,75.5 394.8,80.2 391.5,85.5 386.8,86.9 380.1,87.6 380.7,92.9 379.4,98.3 375.4,100.9 376.1,103 372,101.6 366.7,105 361.3,108.3 354,107.7 350.2,111.4 346.2,114.4 342.2,116.7 338.2,119.4 334.2,119.7 330.2,121.4 327.5,122.8 324.1,124.1 321.5,125.1 318.8,125.4 319.8,124.1 319.5,121.4 321.5,119.4 323.5,117.7 325.1,115.4 324.1,113.7 322.1,112.4 319.1,113.1 316.8,115.1 314.8,116.7 311.4,118.4 308.1,120.1 306.1,121.8 303.4,123.4 300,123.8 298.4,125.1 297.4,126.8 298.7,128.4 300.7,129.1 304.4,129.5 306.4,130.8 307.1,132.1 305.7,133.5 306.1,134.8 309.4,135.8 312.1,134.5 314.8,132.1 316.8,129.5 318.8,132 321.5,133 324.8,133.3 328.2,134.1 327.8,135.8 325.5,137.5 322.1,138.5 319.5,139.5 316.8,140.8 313.4,142.8 310.1,146.2 307.7,148.9 310.1,151.5 312.8,153.5 314.8,156 315.1,156 317.1,160.1 319.8,164.1 323.2,166.8 324.1,170.1 323.8,173 322.6,174 320.5,174.9 319.9,176.1 320.9,177.4 322.6,178.2 324.3,178 326.8,176.7 329.3,174.4 327.2,179 325.1,180.9 324.3,183.4 322.6,185.1 322,187.2 321.8,189.3 319.7,191 317.6,193.1 315.5,195.6 313.8,197.7 311.7,200 309.8,202.9 310.5,206.2 307.8,208.3 303.8,210.9 299.7,212.9 295.7,216.3 291.7,219.6 289,222.3 285,223 281,223.4 277.5,225 273.5,225.7 269.5,227.7 264.1,229 266,229.1 264.2,229.5 261.1,230.2 258,231.1 256.1,232 254.2,233 252.9,234.2 253.9,235.8 254.5,237.7 252.6,238.8 250.7,238.3 249.5,236.7 249,235.2 249.2,233 249.5,231.4 248.6,230.2 246,231.4 245.1,230.6 242.3,230.3 239.1,230.2 236,229.7 232,227.7 230.7,225 226,223 222.6,219.9 217.3,222.3 213.2,223 209.2,224.3 205.2,223.7 201.9,226.3 200.5,232.4 199.9,227.7 197.9,226.3 196.5,229.7 193.2,230.3 189.8,227.7 185.8,224.3 184.5,219 181.1,215 177.1,215 175.8,211.6 177.8,208.3 180.4,204.9 183.1,200.9 182.5,195.5 179.8,190.9 176.4,188.8 171.7,192.2 166.4,190.9 161,192.2 155.7,194.2 153,196.6 148.2,197.5 142.8,196.9 140.1,192.9 136.1,191.3 130.8,190.9 125.4,192.2 123.4,195.3 122.1,192.9 118.7,191.5 112,191.3 105.3,191.5 100.6,188.8 96,186.2 91.9,184.8 89.3,182.1 83.9,179.5 79.9,176.8 76.5,178.8 74.5,177.5 69.2,174.8 65.8,172.8 61.8,170.8 59.1,166.1 60.5,162.1 63.8,158.7 63.2,154 61.1,150 56.5,147.3 53.8,146 48.4,143.1 45.8,141.1 43.7,137.8 38.4,136.8 35,136 38.4,133.1 37.7,127.7 34.4,126.4 31,125" fill="none" stroke="#555" stroke-width="0.8" stroke-linejoin="round"/>
<polygon points="249.5,240.2 252.3,239.9 254.8,239.4 256.7,240.5 257.3,241.5 256.1,243.3 254.8,245.2 254.5,247.1 252.3,248.7 250.1,249.9 248.6,250.9 246.4,250.2 243.5,249.3 242.6,247.1 242.6,244.6 244.2,242.7 246.4,241.1" fill="none" stroke="#555" stroke-width="0.8" stroke-linejoin="round"/>
<polygon points="321.8,207.9 323.8,208.9 323.6,212.3 321.8,217 320.5,221 318.5,224.3 316.5,227.9 314.5,225 312.9,221 313.1,217 315.1,213.6 317.8,210.3 319.8,208.5" fill="none" stroke="#555" stroke-width="0.8" stroke-linejoin="round"/>
<path d="M319.1 234.4L323.5 230.0M308.4 252.0L311.6 246.3M306.3 264.5L306.3 270.2M303.4 295.3L305.9 289.3M285.2 317.9L289.2 312.9M262.0 341.1L268.3 339.0M240.3 318.5L240.3 325.2M251.3 293.4L253.6 287.1M247.3 263.7L250.7 269.6M327.2 218.3L328.9 212.3M333.2 204.9L334.8 203.3" stroke="#222" stroke-width="0.7" fill="none"/>
<path d="M291.8 236.0h1.8M297.9 269.2h1.0M291.7 262.3h0.8M320.6 227.0h1.2M265.2 327.3h1.2M260.2 262.0h0.9M264.7 258.9h0.9M259.7 257.6h0.9M265.9 263.9h0.9M257.8 265.2h0.9M262.1 260.3h0.9M267.1 260.5h0.9M279.7 298.7h0.8M273.5 304.5h0.6M273.2 304.3h0.5M282.6 297.1h0.5M282.3 305.5h0.5M277.1 304.6h0.9M286.0 299.8h0.9M272.9 308.2h0.6M275.3 299.4h0.6M292.0 295.9h0.7M287.6 299.2h0.7M273.3 299.3h0.6M288.7 299.5h0.6M286.3 300.4h0.6M291.6 301.8h0.6M285.9 301.2h0.9M289.8 297.7h0.9M274.6 302.9h0.8M275.5 303.5h0.5M288.3 303.3h0.7M293.5 297.0h0.8M286.5 301.7h0.7M292.7 304.2h0.7M288.2 295.6h0.8M287.8 305.9h0.8M278.7 301.5h0.8M272.3 304.0h0.6M274.5 299.0h0.8M274.9 301.0h0.7M293.4 294.5h0.7M285.3 305.3h0.8M293.3 296.7h0.7M280.5 306.5h0.9M275.5 300.0h0.6M256.6 315.7h0.7M257.6 312.5h0.7M261.1 314.9h0.9M272.1 311.5h0.7M271.6 308.9h0.9M275.1 312.8h0.8M262.1 313.7h0.5M270.3 309.3h0.5M255.8 314.0h0.6M250.5 314.5h0.6M252.2 316.2h0.5M278.4 310.4h0.6M257.3 314.7h0.6M252.7 318.9h0.9M264.6 313.5h0.5M252.2 316.1h0.6M276.9 308.1h0.5M281.1 309.1h0.6M267.1 310.0h0.7M281.9 310.9h0.8M257.6 314.7h0.6M274.8 310.8h0.8M326.0 174.2h1.0M327.7 175.5h1.0M326.9 177.8h1.0M325.4 179.6h1.0M326.3 182.0h1.0M324.1 184.5h1.0M323.4 187.2h1.0M322.0 189.0h1.0M317.0 197.5h1.0M315.3 199.8h1.0M311.9 204.3h1.0" stroke="#333" stroke-width="0.8" stroke-linecap="round" fill="none"/>
<path d="M308.2 217.6L308.9 220.6" stroke="#222" stroke-width="1" fill="none"/>
<ellipse cx="277.4" cy="265.4" rx="3.5" ry="1.6" transform="rotate(-25 277.4 265.4)" fill="none" stroke="#333" stroke-width="0.5"/>
<text x="32.5" y="226.1" class="t" font-size="11.3">XCO<tspan font-size="7.4" dy="1.9">2ano</tspan><tspan dy="-1.9">(ppm)</tspan></text>
<rect x="27" y="234.2" width="28.4" height="14" fill="#0000ff" stroke="#aaa" stroke-width="0.4"/>
<rect x="130.1" y="234.2" width="28.2" height="14" fill="#ccff66" stroke="#aaa" stroke-width="0.4"/>
<text x="60.4" y="245.7" class="t" font-size="11"><tspan fill="#7a7a7a">−</tspan>1.55 <tspan fill="#7a7a7a">−</tspan> <tspan fill="#7a7a7a">−</tspan>0.57</text>
<text x="163.3" y="245.7" class="t" font-size="11">0.73 <tspan fill="#7a7a7a">−</tspan> 1.08</text>
<rect x="27" y="253.2" width="28.4" height="14" fill="#3a5cf5" stroke="#aaa" stroke-width="0.4"/>
<rect x="130.1" y="253.2" width="28.2" height="14" fill="#ffff00" stroke="#aaa" stroke-width="0.4"/>
<text x="60.4" y="264.8" class="t" font-size="11"><tspan fill="#555">−</tspan>0.56 <tspan fill="#555">−</tspan> <tspan fill="#555">−</tspan>0.16</text>
<text x="163.3" y="264.8" class="t" font-size="11">1.09 <tspan fill="#555">−</tspan> 1.46</text>
<rect x="27" y="272.3" width="28.4" height="14" fill="#3aa2fa" stroke="#aaa" stroke-width="0.4"/>
<rect x="130.1" y="272.3" width="28.2" height="14" fill="#ffb400" stroke="#aaa" stroke-width="0.4"/>
<text x="60.4" y="283.8" class="t" font-size="11"><tspan fill="#9a9a9a">−</tspan>0.15 <tspan fill="#9a9a9a">−</tspan> 0.14</text>
<text x="163.3" y="283.8" class="t" font-size="11">1.47 <tspan fill="#9a9a9a">−</tspan> 1.85</text>
<rect x="27" y="291.4" width="28.4" height="14" fill="#00ffff" stroke="#aaa" stroke-width="0.4"/>
<rect x="130.1" y="291.4" width="28.2" height="14" fill="#ff6a00" stroke="#aaa" stroke-width="0.4"/>
<text x="60.4" y="302.9" class="t" font-size="11">0.15 <tspan fill="#222">−</tspan> 0.41</text>
<text x="163.3" y="302.9" class="t" font-size="11">1.86 <tspan fill="#222">−</tspan> 2.28</text>
<rect x="27" y="310.4" width="28.4" height="14" fill="#86ffbe" stroke="#aaa" stroke-width="0.4"/>
<rect x="130.1" y="310.4" width="28.2" height="14" fill="#ff0000" stroke="#aaa" stroke-width="0.4"/>
<text x="60.4" y="321.9" class="t" font-size="11">0.42 <tspan fill="#9a9a9a">−</tspan> 0.72</text>
<text x="163.3" y="321.9" class="t" font-size="11">2.29 <tspan fill="#9a9a9a">−</tspan> 3.24</text>
<rect x="24.6" y="330.4" width="18.2" height="9.3" fill="#fff" stroke="#888" stroke-width="0.5"/>
<text x="46.6" y="338.5" class="t" font-size="11">National boundaries</text>
<path clip-path="url(#lg)" d="M135 340l10 -10M137.9 340l10 -10M140.8 340l10 -10M143.7 340l10 -10M146.6 340l10 -10M149.5 340l10 -10M152.4 340l10 -10M155.3 340l10 -10M158.2 340l10 -10M161.1 340l10 -10" stroke="#404040" stroke-width="0.5" fill="none"/>
<rect x="144.7" y="329.8" width="18" height="9.4" fill="none" stroke="#aaa" stroke-width="0.4"/>
<text x="167" y="338.2" class="t" font-size="11">Background area</text>
<rect x="292.2" y="339.8" width="83.4" height="4" fill="#fff" stroke="#000" stroke-width="0.5"/>
<rect x="292.2" y="339.6" width="41.7" height="4.4" fill="#000"/>
<text x="292.2" y="335" class="t" font-size="9.6" text-anchor="middle">0</text>
<text x="334" y="335" class="t" font-size="9.6" text-anchor="middle">750</text>
<text x="365.6" y="335" class="t" font-size="9.6">1500 km</text>
<text x="403.9" y="32" font-family="'Liberation Sans',sans-serif" font-weight="bold" font-size="5.2" text-anchor="middle" fill="#000">N</text>
<path d="M403.8 33.9L399 49L403.9 44.2Z" fill="#000"/><path d="M403.8 33.9L408.2 48.6L403.9 44.2Z" fill="#fff" stroke="#000" stroke-width="0.5"/>
<rect x="20.9" y="22.5" width="396" height="328.9" fill="none" stroke="#3c3c3c" stroke-width="1.4"/>
<text x="71.5" y="18.9" class="t" font-size="10" text-anchor="middle">80°E</text>
<text x="71.5" y="363.8" class="t" font-size="10" text-anchor="middle">80°E</text>
<text x="132.3" y="18.9" class="t" font-size="10" text-anchor="middle">90°E</text>
<text x="132.3" y="363.8" class="t" font-size="10" text-anchor="middle">90°E</text>
<text x="193.1" y="18.9" class="t" font-size="10" text-anchor="middle">100°E</text>
<text x="193.1" y="363.8" class="t" font-size="10" text-anchor="middle">100°E</text>
<text x="253.9" y="18.9" class="t" font-size="10" text-anchor="middle">110°E</text>
<text x="253.9" y="363.8" class="t" font-size="10" text-anchor="middle">110°E</text>
<text x="314.7" y="18.9" class="t" font-size="10" text-anchor="middle">120°E</text>
<text x="314.7" y="363.8" class="t" font-size="10" text-anchor="middle">120°E</text>
<text x="375.5" y="18.9" class="t" font-size="10" text-anchor="middle">130°E</text>
<text x="375.5" y="363.8" class="t" font-size="10" text-anchor="middle">130°E</text>
<text transform="translate(17.8 305.8) rotate(-90)" class="t" font-size="10" text-anchor="middle">10°N</text>
<text transform="translate(429.6 305.8) rotate(-90)" class="t" font-size="10" text-anchor="middle">10°N</text>
<text transform="translate(17.8 245) rotate(-90)" class="t" font-size="10" text-anchor="middle">20°N</text>
<text transform="translate(429.6 245) rotate(-90)" class="t" font-size="10" text-anchor="middle">20°N</text>
<text transform="translate(17.8 184.2) rotate(-90)" class="t" font-size="10" text-anchor="middle">30°N</text>
<text transform="translate(429.6 184.2) rotate(-90)" class="t" font-size="10" text-anchor="middle">30°N</text>
<text transform="translate(17.8 123.5) rotate(-90)" class="t" font-size="10" text-anchor="middle">40°N</text>
<text transform="translate(429.6 123.5) rotate(-90)" class="t" font-size="10" text-anchor="middle">40°N</text>
<text transform="translate(17.8 62.7) rotate(-90)" class="t" font-size="10" text-anchor="middle">50°N</text>
<text transform="translate(429.6 62.7) rotate(-90)" class="t" font-size="10" text-anchor="middle">50°N</text>
<text x="218.6" y="388.2" class="c" text-anchor="middle"><tspan>(</tspan><tspan font-weight="bold">a</tspan><tspan>) 2011</tspan></text>
</g>
<g transform="translate(513 0)">
<path d="M71.5 22.5V351.4M132.3 22.5V351.4M193.1 22.5V351.4M253.9 22.5V351.4M314.7 22.5V351.4M375.5 22.5V351.4" stroke="#cdcdcd" stroke-width="0.8" stroke-dasharray="3 10.95" stroke-dashoffset="8.5" fill="none"/><path d="M20.9 305.8H416.9M20.9 245H416.9M20.9 184.2H416.9M20.9 123.5H416.9M20.9 62.7H416.9" stroke="#cdcdcd" stroke-width="0.8" stroke-dasharray="3 10.914" stroke-dashoffset="13.6" fill="none"/><path d="M71.5 22.5v3M71.5 351.4v-3M132.3 22.5v3M132.3 351.4v-3M193.1 22.5v3M193.1 351.4v-3M253.9 22.5v3M253.9 351.4v-3M314.7 22.5v3M314.7 351.4v-3M375.5 22.5v3M375.5 351.4v-3M20.9 305.8h3M416.9 305.8h-3M20.9 245h3M416.9 245h-3M20.9 184.2h3M416.9 184.2h-3M20.9 123.5h3M416.9 123.5h-3M20.9 62.7h3M416.9 62.7h-3" stroke="#666" stroke-width="0.8" fill="none"/>
<g clip-path="url(#cn)">
<path d="M-196 260l224 -224M-193.1 260l224 -224M-190.2 260l224 -224M-187.3 260l224 -224M-184.4 260l224 -224M-181.5 260l224 -224M-178.6 260l224 -224M-175.7 260l224 -224M-172.8 260l224 -224M-169.9 260l224 -224M-167 260l224 -224M-164.1 260l224 -224M-161.2 260l224 -224M-158.3 260l224 -224M-155.4 260l224 -224M-152.5 260l224 -224M-149.6 260l224 -224M-146.7 260l224 -224M-143.8 260l224 -224M-140.9 260l224 -224M-138 260l224 -224M-135.1 260l224 -224M-132.2 260l224 -224M-129.3 260l224 -224M-126.4 260l224 -224M-123.5 260l224 -224M-120.6 260l224 -224M-117.7 260l224 -224M-114.8 260l224 -224M-111.9 260l224 -224M-109 260l224 -224M-106.1 260l224 -224M-103.2 260l224 -224M-100.3 260l224 -224M-97.4 260l224 -224M-94.5 260l224 -224M-91.6 260l224 -224M-88.7 260l224 -224M-85.8 260l224 -224M-82.9 260l224 -224M-80 260l224 -224M-77.1 260l224 -224M-74.2 260l224 -224M-71.3 260l224 -224M-68.4 260l224 -224M-65.5 260l224 -224M-62.6 260l224 -224M-59.7 260l224 -224M-56.8 260l224 -224M-53.9 260l224 -224M-51 260l224 -224M-48.1 260l224 -224M-45.2 260l224 -224M-42.3 260l224 -224M-39.4 260l224 -224M-36.5 260l224 -224M-33.6 260l224 -224M-30.7 260l224 -224M-27.8 260l224 -224M-24.9 260l224 -224M-22 260l224 -224M-19.1 260l224 -224M-16.2 260l224 -224M-13.3 260l224 -224M-10.4 260l224 -224M-7.5 260l224 -224M-4.6 260l224 -224M-1.7 260l224 -224M1.2 260l224 -224M4.1 260l224 -224M7 260l224 -224M9.9 260l224 -224M12.8 260l224 -224M15.7 260l224 -224M18.6 260l224 -224M21.5 260l224 -224M24.4 260l224 -224M27.3 260l224 -224M30.2 260l224 -224M33.1 260l224 -224M36 260l224 -224M38.9 260l224 -224M41.8 260l224 -224M44.7 260l224 -224M47.6 260l224 -224M50.5 260l224 -224M53.4 260l224 -224M56.3 260l224 -224M59.2 260l224 -224M62.1 260l224 -224M65 260l224 -224M67.9 260l224 -224M70.8 260l224 -224M73.7 260l224 -224M76.6 260l224 -224M79.5 260l224 -224M82.4 260l224 -224M85.3 260l224 -224M88.2 260l224 -224M91.1 260l224 -224M94 260l224 -224M96.9 260l224 -224M99.8 260l224 -224M102.7 260l224 -224M105.6 260l224 -224M108.5 260l224 -224M111.4 260l224 -224M114.3 260l224 -224M117.2 260l224 -224M120.1 260l224 -224M123 260l224 -224M125.9 260l224 -224M128.8 260l224 -224M131.7 260l224 -224M134.6 260l224 -224M137.5 260l224 -224M140.4 260l224 -224M143.3 260l224 -224M146.2 260l224 -224M149.1 260l224 -224M152 260l224 -224M154.9 260l224 -224M157.8 260l224 -224M160.7 260l224 -224M163.6 260l224 -224M166.5 260l224 -224M169.4 260l224 -224M172.3 260l224 -224M175.2 260l224 -224M178.1 260l224 -224M181 260l224 -224M183.9 260l224 -224M186.8 260l224 -224M189.7 260l224 -224M192.6 260l224 -224M195.5 260l224 -224M198.4 260l224 -224M201.3 260l224 -224M204.2 260l224 -224M207.1 260l224 -224M210 260l224 -224M212.9 260l224 -224M215.8 260l224 -224M218.7 260l224 -224M221.6 260l224 -224M224.5 260l224 -224M227.4 260l224 -224M230.3 260l224 -224M233.2 260l224 -224M236.1 260l224 -224M239 260l224 -224M241.9 260l224 -224M244.8 260l224 -224M247.7 260l224 -224M250.6 260l224 -224M253.5 260l224 -224M256.4 260l224 -224M259.3 260l224 -224M262.2 260l224 -224M265.1 260l224 -224M268 260l224 -224M270.9 260l224 -224M273.8 260l224 -224M276.7 260l224 -224M279.6 260l224 -224M282.5 260l224 -224M285.4 260l224 -224M288.3 260l224 -224M291.2 260l224 -224M294.1 260l224 -224M297 260l224 -224M299.9 260l224 -224M302.8 260l224 -224M305.7 260l224 -224M308.6 260l224 -224M311.5 260l224 -224M314.4 260l224 -224M317.3 260l224 -224M320.2 260l224 -224M323.1 260l224 -224M326 260l224 -224M328.9 260l224 -224M331.8 260l224 -224M334.7 260l224 -224M337.6 260l224 -224M340.5 260l224 -224M343.4 260l224 -224M346.3 260l224 -224M349.2 260l224 -224M352.1 260l224 -224M355 260l224 -224M357.9 260l224 -224M360.8 260l224 -224M363.7 260l224 -224M366.6 260l224 -224M369.5 260l224 -224M372.4 260l224 -224M375.3 260l224 -224M378.2 260l224 -224M381.1 260l224 -224M384 260l224 -224M386.9 260l224 -224M389.8 260l224 -224M392.7 260l224 -224M395.6 260l224 -224M398.5 260l224 -224M401.4 260l224 -224M404.3 260l224 -224" stroke="#585858" stroke-width="0.4" fill="none"/>
<rect x="317.9" y="33" width="6.4" height="6.4" fill="#3aa2fa"/>
<rect x="324" y="33" width="12.5" height="6.4" fill="#00ffff"/>
<rect x="336.2" y="33" width="12.5" height="6.4" fill="#86ffbe"/>
<rect x="311.9" y="39.1" width="6.4" height="6.4" fill="#00ffff"/>
<rect x="317.9" y="39.1" width="6.4" height="6.4" fill="#3aa2fa"/>
<rect x="324" y="39.1" width="12.5" height="6.4" fill="#00ffff"/>
<rect x="336.2" y="39.1" width="18.5" height="6.4" fill="#86ffbe"/>
<rect x="305.8" y="45.2" width="18.5" height="6.4" fill="#00ffff"/>
<rect x="330.1" y="45.2" width="6.4" height="6.4" fill="#86ffbe"/>
<rect x="336.2" y="45.2" width="6.4" height="6.4" fill="#ccff66"/>
<rect x="348.3" y="45.2" width="6.4" height="6.4" fill="#ccff66"/>
<rect x="354.4" y="45.2" width="6.4" height="6.4" fill="#86ffbe"/>
<rect x="305.8" y="51.3" width="24.6" height="6.4" fill="#00ffff"/>
<rect x="330.1" y="51.3" width="12.5" height="6.4" fill="#86ffbe"/>
<rect x="342.3" y="51.3" width="12.5" height="6.4" fill="#ccff66"/>
<rect x="354.4" y="51.3" width="6.4" height="6.4" fill="#86ffbe"/>
<rect x="287.5" y="57.3" width="6.4" height="6.4" fill="#3a5cf5"/>
<rect x="293.6" y="57.3" width="30.7" height="6.4" fill="#3aa2fa"/>
<rect x="330.1" y="57.3" width="6.4" height="6.4" fill="#00ffff"/>
<rect x="336.2" y="57.3" width="30.7" height="6.4" fill="#86ffbe"/>
<rect x="366.6" y="57.3" width="6.4" height="6.4" fill="#ccff66"/>
<rect x="105.1" y="63.4" width="12.5" height="6.4" fill="#00ffff"/>
<rect x="281.5" y="63.4" width="12.5" height="6.4" fill="#0000ff"/>
<rect x="293.6" y="63.4" width="30.7" height="6.4" fill="#3a5cf5"/>
<rect x="324" y="63.4" width="6.4" height="6.4" fill="#3aa2fa"/>
<rect x="330.1" y="63.4" width="12.5" height="6.4" fill="#00ffff"/>
<rect x="342.3" y="63.4" width="6.4" height="6.4" fill="#86ffbe"/>
<rect x="348.3" y="63.4" width="6.4" height="6.4" fill="#00ffff"/>
<rect x="354.4" y="63.4" width="24.6" height="6.4" fill="#86ffbe"/>
<rect x="390.9" y="63.4" width="12.5" height="6.4" fill="#86ffbe"/>
<rect x="99.1" y="69.5" width="12.5" height="6.4" fill="#00ffff"/>
<rect x="111.2" y="69.5" width="6.4" height="6.4" fill="#86ffbe"/>
<rect x="117.3" y="69.5" width="12.5" height="6.4" fill="#00ffff"/>
<rect x="281.5" y="69.5" width="6.4" height="6.4" fill="#3a5cf5"/>
<rect x="305.8" y="69.5" width="18.5" height="6.4" fill="#3a5cf5"/>
<rect x="324" y="69.5" width="12.5" height="6.4" fill="#3aa2fa"/>
<rect x="336.2" y="69.5" width="30.7" height="6.4" fill="#00ffff"/>
<rect x="366.6" y="69.5" width="36.8" height="6.4" fill="#86ffbe"/>
<rect x="86.9" y="75.6" width="6.4" height="6.4" fill="#00ffff"/>
<rect x="93" y="75.6" width="30.7" height="6.4" fill="#86ffbe"/>
<rect x="123.4" y="75.6" width="12.5" height="6.4" fill="#00ffff"/>
<rect x="293.6" y="75.6" width="12.5" height="6.4" fill="#0000ff"/>
<rect x="305.8" y="75.6" width="18.5" height="6.4" fill="#3a5cf5"/>
<rect x="324" y="75.6" width="30.7" height="6.4" fill="#3aa2fa"/>
<rect x="354.4" y="75.6" width="6.4" height="6.4" fill="#00ffff"/>
<rect x="360.5" y="75.6" width="24.6" height="6.4" fill="#86ffbe"/>
<rect x="384.8" y="75.6" width="12.5" height="6.4" fill="#ccff66"/>
<rect x="80.8" y="81.7" width="6.4" height="6.4" fill="#00ffff"/>
<rect x="86.9" y="81.7" width="6.4" height="6.4" fill="#86ffbe"/>
<rect x="93" y="81.7" width="18.5" height="6.4" fill="#ccff66"/>
<rect x="111.2" y="81.7" width="6.4" height="6.4" fill="#86ffbe"/>
<rect x="117.3" y="81.7" width="6.4" height="6.4" fill="#00ffff"/>
<rect x="281.5" y="81.7" width="42.9" height="6.4" fill="#0000ff"/>
<rect x="324" y="81.7" width="18.5" height="6.4" fill="#3a5cf5"/>
<rect x="342.3" y="81.7" width="6.4" height="6.4" fill="#3aa2fa"/>
<rect x="348.3" y="81.7" width="30.7" height="6.4" fill="#00ffff"/>
<rect x="378.7" y="81.7" width="18.5" height="6.4" fill="#86ffbe"/>
<rect x="68.7" y="87.7" width="12.5" height="6.4" fill="#0000ff"/>
<rect x="80.8" y="87.7" width="6.4" height="6.4" fill="#3a5cf5"/>
<rect x="86.9" y="87.7" width="12.5" height="6.4" fill="#ccff66"/>
<rect x="99.1" y="87.7" width="18.5" height="6.4" fill="#ffff00"/>
<rect x="117.3" y="87.7" width="12.5" height="6.4" fill="#ccff66"/>
<rect x="129.5" y="87.7" width="6.4" height="6.4" fill="#86ffbe"/>
<rect x="135.5" y="87.7" width="12.5" height="6.4" fill="#00ffff"/>
<rect x="153.8" y="87.7" width="6.4" height="6.4" fill="#3aa2fa"/>
<rect x="257.1" y="87.7" width="6.4" height="6.4" fill="#0000ff"/>
<rect x="269.3" y="87.7" width="30.7" height="6.4" fill="#0000ff"/>
<rect x="299.7" y="87.7" width="6.4" height="6.4" fill="#3a5cf5"/>
<rect x="305.8" y="87.7" width="24.6" height="6.4" fill="#0000ff"/>
<rect x="330.1" y="87.7" width="18.5" height="6.4" fill="#3a5cf5"/>
<rect x="348.3" y="87.7" width="12.5" height="6.4" fill="#3aa2fa"/>
<rect x="360.5" y="87.7" width="24.6" height="6.4" fill="#00ffff"/>
<rect x="68.7" y="93.8" width="6.4" height="6.4" fill="#3aa2fa"/>
<rect x="74.7" y="93.8" width="12.5" height="6.4" fill="#00ffff"/>
<rect x="86.9" y="93.8" width="12.5" height="6.4" fill="#86ffbe"/>
<rect x="99.1" y="93.8" width="12.5" height="6.4" fill="#ccff66"/>
<rect x="111.2" y="93.8" width="12.5" height="6.4" fill="#ffb400"/>
<rect x="123.4" y="93.8" width="6.4" height="6.4" fill="#ffff00"/>
<rect x="129.5" y="93.8" width="6.4" height="6.4" fill="#ccff66"/>
<rect x="135.5" y="93.8" width="6.4" height="6.4" fill="#86ffbe"/>
<rect x="141.6" y="93.8" width="24.6" height="6.4" fill="#00ffff"/>
<rect x="251.1" y="93.8" width="36.8" height="6.4" fill="#0000ff"/>
<rect x="287.5" y="93.8" width="18.5" height="6.4" fill="#3a5cf5"/>
<rect x="305.8" y="93.8" width="18.5" height="6.4" fill="#0000ff"/>
<rect x="324" y="93.8" width="24.6" height="6.4" fill="#3a5cf5"/>
<rect x="348.3" y="93.8" width="6.4" height="6.4" fill="#3aa2fa"/>
<rect x="354.4" y="93.8" width="30.7" height="6.4" fill="#00ffff"/>
<rect x="68.7" y="99.9" width="6.4" height="6.4" fill="#86ffbe"/>
<rect x="74.7" y="99.9" width="18.5" height="6.4" fill="#ccff66"/>
<rect x="93" y="99.9" width="12.5" height="6.4" fill="#ffff00"/>
<rect x="105.1" y="99.9" width="12.5" height="6.4" fill="#ffb400"/>
<rect x="117.3" y="99.9" width="6.4" height="6.4" fill="#ffff00"/>
<rect x="123.4" y="99.9" width="6.4" height="6.4" fill="#ccff66"/>
<rect x="129.5" y="99.9" width="6.4" height="6.4" fill="#86ffbe"/>
<rect x="135.5" y="99.9" width="6.4" height="6.4" fill="#00ffff"/>
<rect x="141.6" y="99.9" width="6.4" height="6.4" fill="#3aa2fa"/>
<rect x="147.7" y="99.9" width="24.6" height="6.4" fill="#3a5cf5"/>
<rect x="178.1" y="99.9" width="18.5" height="6.4" fill="#3aa2fa"/>
<rect x="196.3" y="99.9" width="6.4" height="6.4" fill="#00ffff"/>
<rect x="226.7" y="99.9" width="12.5" height="6.4" fill="#3a5cf5"/>
<rect x="245" y="99.9" width="12.5" height="6.4" fill="#3a5cf5"/>
<rect x="263.2" y="99.9" width="67.2" height="6.4" fill="#3a5cf5"/>
<rect x="330.1" y="99.9" width="18.5" height="6.4" fill="#3aa2fa"/>
<rect x="348.3" y="99.9" width="12.5" height="6.4" fill="#00ffff"/>
<rect x="360.5" y="99.9" width="18.5" height="6.4" fill="#86ffbe"/>
<rect x="56.5" y="106" width="6.4" height="6.4" fill="#00ffff"/>
<rect x="62.6" y="106" width="6.4" height="6.4" fill="#86ffbe"/>
<rect x="68.7" y="106" width="30.7" height="6.4" fill="#ccff66"/>
<rect x="99.1" y="106" width="12.5" height="6.4" fill="#ffff00"/>
<rect x="111.2" y="106" width="6.4" height="6.4" fill="#ffb400"/>
<rect x="117.3" y="106" width="12.5" height="6.4" fill="#ffff00"/>
<rect x="129.5" y="106" width="6.4" height="6.4" fill="#ccff66"/>
<rect x="135.5" y="106" width="6.4" height="6.4" fill="#86ffbe"/>
<rect x="147.7" y="106" width="12.5" height="6.4" fill="#3aa2fa"/>
<rect x="159.9" y="106" width="18.5" height="6.4" fill="#3a5cf5"/>
<rect x="184.2" y="106" width="18.5" height="6.4" fill="#3a5cf5"/>
<rect x="226.7" y="106" width="12.5" height="6.4" fill="#3aa2fa"/>
<rect x="238.9" y="106" width="6.4" height="6.4" fill="#3a5cf5"/>
<rect x="245" y="106" width="24.6" height="6.4" fill="#3aa2fa"/>
<rect x="269.3" y="106" width="12.5" height="6.4" fill="#00ffff"/>
<rect x="281.5" y="106" width="6.4" height="6.4" fill="#3aa2fa"/>
<rect x="287.5" y="106" width="42.9" height="6.4" fill="#00ffff"/>
<rect x="330.1" y="106" width="12.5" height="6.4" fill="#3aa2fa"/>
<rect x="342.3" y="106" width="12.5" height="6.4" fill="#00ffff"/>
<rect x="354.4" y="106" width="12.5" height="6.4" fill="#86ffbe"/>
<rect x="56.5" y="112" width="6.4" height="6.4" fill="#00ffff"/>
<rect x="62.6" y="112" width="6.4" height="6.4" fill="#86ffbe"/>
<rect x="68.7" y="112" width="30.7" height="6.4" fill="#ccff66"/>
<rect x="105.1" y="112" width="12.5" height="6.4" fill="#ccff66"/>
<rect x="135.5" y="112" width="6.4" height="6.4" fill="#86ffbe"/>
<rect x="153.8" y="112" width="12.5" height="6.4" fill="#3aa2fa"/>
<rect x="165.9" y="112" width="12.5" height="6.4" fill="#3a5cf5"/>
<rect x="178.1" y="112" width="18.5" height="6.4" fill="#3aa2fa"/>
<rect x="208.5" y="112" width="12.5" height="6.4" fill="#0000ff"/>
<rect x="226.7" y="112" width="6.4" height="6.4" fill="#3aa2fa"/>
<rect x="232.8" y="112" width="6.4" height="6.4" fill="#3a5cf5"/>
<rect x="238.9" y="112" width="12.5" height="6.4" fill="#3aa2fa"/>
<rect x="251.1" y="112" width="30.7" height="6.4" fill="#00ffff"/>
<rect x="281.5" y="112" width="6.4" height="6.4" fill="#86ffbe"/>
<rect x="287.5" y="112" width="6.4" height="6.4" fill="#ccff66"/>
<rect x="293.6" y="112" width="6.4" height="6.4" fill="#86ffbe"/>
<rect x="299.7" y="112" width="6.4" height="6.4" fill="#ccff66"/>
<rect x="305.8" y="112" width="24.6" height="6.4" fill="#86ffbe"/>
<rect x="330.1" y="112" width="24.6" height="6.4" fill="#00ffff"/>
<rect x="26.1" y="118.1" width="6.4" height="6.4" fill="#ccff66"/>
<rect x="38.3" y="118.1" width="12.5" height="6.4" fill="#ffb400"/>
<rect x="50.4" y="118.1" width="18.5" height="6.4" fill="#00ffff"/>
<rect x="68.7" y="118.1" width="6.4" height="6.4" fill="#86ffbe"/>
<rect x="80.8" y="118.1" width="6.4" height="6.4" fill="#86ffbe"/>
<rect x="86.9" y="118.1" width="6.4" height="6.4" fill="#00ffff"/>
<rect x="117.3" y="118.1" width="6.4" height="6.4" fill="#3a5cf5"/>
<rect x="147.7" y="118.1" width="12.5" height="6.4" fill="#3aa2fa"/>
<rect x="165.9" y="118.1" width="6.4" height="6.4" fill="#3a5cf5"/>
<rect x="172" y="118.1" width="24.6" height="6.4" fill="#3aa2fa"/>
<rect x="196.3" y="118.1" width="6.4" height="6.4" fill="#3a5cf5"/>
<rect x="202.4" y="118.1" width="12.5" height="6.4" fill="#0000ff"/>
<rect x="220.7" y="118.1" width="30.7" height="6.4" fill="#0000ff"/>
<rect x="251.1" y="118.1" width="18.5" height="6.4" fill="#00ffff"/>
<rect x="269.3" y="118.1" width="6.4" height="6.4" fill="#86ffbe"/>
<rect x="275.4" y="118.1" width="12.5" height="6.4" fill="#ccff66"/>
<rect x="287.5" y="118.1" width="6.4" height="6.4" fill="#ffff00"/>
<rect x="293.6" y="118.1" width="30.7" height="6.4" fill="#ccff66"/>
<rect x="324" y="118.1" width="6.4" height="6.4" fill="#86ffbe"/>
<rect x="330.1" y="118.1" width="6.4" height="6.4" fill="#00ffff"/>
<rect x="38.3" y="124.2" width="6.4" height="6.4" fill="#ff6a00"/>
<rect x="44.3" y="124.2" width="12.5" height="6.4" fill="#ffb400"/>
<rect x="68.7" y="124.2" width="6.4" height="6.4" fill="#00ffff"/>
<rect x="86.9" y="124.2" width="6.4" height="6.4" fill="#00ffff"/>
<rect x="93" y="124.2" width="6.4" height="6.4" fill="#3aa2fa"/>
<rect x="99.1" y="124.2" width="6.4" height="6.4" fill="#3a5cf5"/>
<rect x="111.2" y="124.2" width="12.5" height="6.4" fill="#0000ff"/>
<rect x="129.5" y="124.2" width="30.7" height="6.4" fill="#3a5cf5"/>
<rect x="178.1" y="124.2" width="18.5" height="6.4" fill="#3aa2fa"/>
<rect x="196.3" y="124.2" width="12.5" height="6.4" fill="#3a5cf5"/>
<rect x="208.5" y="124.2" width="6.4" height="6.4" fill="#0000ff"/>
<rect x="220.7" y="124.2" width="12.5" height="6.4" fill="#0000ff"/>
<rect x="232.8" y="124.2" width="30.7" height="6.4" fill="#3a5cf5"/>
<rect x="263.2" y="124.2" width="12.5" height="6.4" fill="#3aa2fa"/>
<rect x="275.4" y="124.2" width="12.5" height="6.4" fill="#00ffff"/>
<rect x="287.5" y="124.2" width="12.5" height="6.4" fill="#ffff00"/>
<rect x="38.3" y="130.3" width="18.5" height="6.4" fill="#ffb400"/>
<rect x="56.5" y="130.3" width="6.4" height="6.4" fill="#ff6a00"/>
<rect x="62.6" y="130.3" width="12.5" height="6.4" fill="#ffb400"/>
<rect x="74.7" y="130.3" width="12.5" height="6.4" fill="#ffff00"/>
<rect x="93" y="130.3" width="6.4" height="6.4" fill="#ccff66"/>
<rect x="117.3" y="130.3" width="6.4" height="6.4" fill="#3a5cf5"/>
<rect x="135.5" y="130.3" width="6.4" height="6.4" fill="#86ffbe"/>
<rect x="141.6" y="130.3" width="24.6" height="6.4" fill="#ccff66"/>
<rect x="165.9" y="130.3" width="30.7" height="6.4" fill="#ffff00"/>
<rect x="196.3" y="130.3" width="48.9" height="6.4" fill="#3a5cf5"/>
<rect x="245" y="130.3" width="6.4" height="6.4" fill="#3aa2fa"/>
<rect x="251.1" y="130.3" width="18.5" height="6.4" fill="#00ffff"/>
<rect x="269.3" y="130.3" width="18.5" height="6.4" fill="#86ffbe"/>
<rect x="287.5" y="130.3" width="36.8" height="6.4" fill="#00ffff"/>
<rect x="324" y="130.3" width="6.4" height="6.4" fill="#3aa2fa"/>
<rect x="38.3" y="136.4" width="6.4" height="6.4" fill="#ffff00"/>
<rect x="56.5" y="136.4" width="12.5" height="6.4" fill="#ffb400"/>
<rect x="68.7" y="136.4" width="6.4" height="6.4" fill="#ffff00"/>
<rect x="74.7" y="136.4" width="6.4" height="6.4" fill="#ccff66"/>
<rect x="86.9" y="136.4" width="6.4" height="6.4" fill="#86ffbe"/>
<rect x="135.5" y="136.4" width="6.4" height="6.4" fill="#00ffff"/>
<rect x="141.6" y="136.4" width="6.4" height="6.4" fill="#86ffbe"/>
<rect x="147.7" y="136.4" width="6.4" height="6.4" fill="#ccff66"/>
<rect x="153.8" y="136.4" width="6.4" height="6.4" fill="#86ffbe"/>
<rect x="159.9" y="136.4" width="6.4" height="6.4" fill="#ccff66"/>
<rect x="165.9" y="136.4" width="6.4" height="6.4" fill="#ffff00"/>
<rect x="172" y="136.4" width="36.8" height="6.4" fill="#ccff66"/>
<rect x="208.5" y="136.4" width="12.5" height="6.4" fill="#3a5cf5"/>
<rect x="220.7" y="136.4" width="18.5" height="6.4" fill="#3aa2fa"/>
<rect x="238.9" y="136.4" width="6.4" height="6.4" fill="#3a5cf5"/>
<rect x="245" y="136.4" width="18.5" height="6.4" fill="#00ffff"/>
<rect x="263.2" y="136.4" width="6.4" height="6.4" fill="#86ffbe"/>
<rect x="269.3" y="136.4" width="12.5" height="6.4" fill="#ccff66"/>
<rect x="281.5" y="136.4" width="12.5" height="6.4" fill="#86ffbe"/>
<rect x="293.6" y="136.4" width="12.5" height="6.4" fill="#00ffff"/>
<rect x="305.8" y="136.4" width="18.5" height="6.4" fill="#3aa2fa"/>
<rect x="68.7" y="142.4" width="12.5" height="6.4" fill="#ccff66"/>
<rect x="80.8" y="142.4" width="6.4" height="6.4" fill="#86ffbe"/>
<rect x="99.1" y="142.4" width="6.4" height="6.4" fill="#3aa2fa"/>
<rect x="147.7" y="142.4" width="12.5" height="6.4" fill="#00ffff"/>
<rect x="172" y="142.4" width="6.4" height="6.4" fill="#ccff66"/>
<rect x="178.1" y="142.4" width="24.6" height="6.4" fill="#86ffbe"/>
<rect x="202.4" y="142.4" width="6.4" height="6.4" fill="#ccff66"/>
<rect x="208.5" y="142.4" width="6.4" height="6.4" fill="#86ffbe"/>
<rect x="214.6" y="142.4" width="30.7" height="6.4" fill="#3a5cf5"/>
<rect x="245" y="142.4" width="6.4" height="6.4" fill="#3aa2fa"/>
<rect x="251.1" y="142.4" width="6.4" height="6.4" fill="#00ffff"/>
<rect x="257.1" y="142.4" width="12.5" height="6.4" fill="#86ffbe"/>
<rect x="269.3" y="142.4" width="12.5" height="6.4" fill="#ccff66"/>
<rect x="281.5" y="142.4" width="18.5" height="6.4" fill="#86ffbe"/>
<rect x="299.7" y="142.4" width="12.5" height="6.4" fill="#00ffff"/>
<rect x="80.8" y="148.5" width="6.4" height="6.4" fill="#00ffff"/>
<rect x="123.4" y="148.5" width="6.4" height="6.4" fill="#0000ff"/>
<rect x="141.6" y="148.5" width="6.4" height="6.4" fill="#3a5cf5"/>
<rect x="159.9" y="148.5" width="6.4" height="6.4" fill="#00ffff"/>
<rect x="178.1" y="148.5" width="6.4" height="6.4" fill="#00ffff"/>
<rect x="190.3" y="148.5" width="30.7" height="6.4" fill="#86ffbe"/>
<rect x="220.7" y="148.5" width="18.5" height="6.4" fill="#0000ff"/>
<rect x="238.9" y="148.5" width="12.5" height="6.4" fill="#3a5cf5"/>
<rect x="251.1" y="148.5" width="6.4" height="6.4" fill="#00ffff"/>
<rect x="257.1" y="148.5" width="6.4" height="6.4" fill="#86ffbe"/>
<rect x="263.2" y="148.5" width="18.5" height="6.4" fill="#ccff66"/>
<rect x="281.5" y="148.5" width="18.5" height="6.4" fill="#86ffbe"/>
<rect x="299.7" y="148.5" width="18.5" height="6.4" fill="#00ffff"/>
<rect x="62.6" y="154.6" width="6.4" height="6.4" fill="#86ffbe"/>
<rect x="141.6" y="154.6" width="6.4" height="6.4" fill="#3a5cf5"/>
<rect x="159.9" y="154.6" width="6.4" height="6.4" fill="#3aa2fa"/>
<rect x="165.9" y="154.6" width="6.4" height="6.4" fill="#3a5cf5"/>
<rect x="172" y="154.6" width="6.4" height="6.4" fill="#3aa2fa"/>
<rect x="178.1" y="154.6" width="6.4" height="6.4" fill="#3a5cf5"/>
<rect x="184.2" y="154.6" width="6.4" height="6.4" fill="#3aa2fa"/>
<rect x="190.3" y="154.6" width="6.4" height="6.4" fill="#3a5cf5"/>
<rect x="196.3" y="154.6" width="6.4" height="6.4" fill="#3aa2fa"/>
<rect x="202.4" y="154.6" width="6.4" height="6.4" fill="#00ffff"/>
<rect x="208.5" y="154.6" width="18.5" height="6.4" fill="#86ffbe"/>
<rect x="226.7" y="154.6" width="12.5" height="6.4" fill="#0000ff"/>
<rect x="238.9" y="154.6" width="6.4" height="6.4" fill="#3a5cf5"/>
<rect x="245" y="154.6" width="6.4" height="6.4" fill="#3aa2fa"/>
<rect x="251.1" y="154.6" width="6.4" height="6.4" fill="#00ffff"/>
<rect x="257.1" y="154.6" width="6.4" height="6.4" fill="#86ffbe"/>
<rect x="263.2" y="154.6" width="30.7" height="6.4" fill="#ccff66"/>
<rect x="293.6" y="154.6" width="12.5" height="6.4" fill="#86ffbe"/>
<rect x="305.8" y="154.6" width="6.4" height="6.4" fill="#00ffff"/>
<rect x="311.9" y="154.6" width="6.4" height="6.4" fill="#86ffbe"/>
<rect x="68.7" y="160.7" width="6.4" height="6.4" fill="#00ffff"/>
<rect x="135.5" y="160.7" width="12.5" height="6.4" fill="#0000ff"/>
<rect x="159.9" y="160.7" width="18.5" height="6.4" fill="#3a5cf5"/>
<rect x="178.1" y="160.7" width="6.4" height="6.4" fill="#0000ff"/>
<rect x="190.3" y="160.7" width="6.4" height="6.4" fill="#3a5cf5"/>
<rect x="196.3" y="160.7" width="12.5" height="6.4" fill="#3aa2fa"/>
<rect x="208.5" y="160.7" width="6.4" height="6.4" fill="#00ffff"/>
<rect x="214.6" y="160.7" width="12.5" height="6.4" fill="#86ffbe"/>
<rect x="226.7" y="160.7" width="12.5" height="6.4" fill="#0000ff"/>
<rect x="238.9" y="160.7" width="6.4" height="6.4" fill="#3a5cf5"/>
<rect x="245" y="160.7" width="6.4" height="6.4" fill="#3aa2fa"/>
<rect x="251.1" y="160.7" width="6.4" height="6.4" fill="#00ffff"/>
<rect x="257.1" y="160.7" width="6.4" height="6.4" fill="#86ffbe"/>
<rect x="263.2" y="160.7" width="48.9" height="6.4" fill="#ccff66"/>
<rect x="311.9" y="160.7" width="12.5" height="6.4" fill="#86ffbe"/>
<rect x="56.5" y="166.7" width="6.4" height="6.4" fill="#00ffff"/>
<rect x="111.2" y="166.7" width="6.4" height="6.4" fill="#0000ff"/>
<rect x="123.4" y="166.7" width="30.7" height="6.4" fill="#0000ff"/>
<rect x="159.9" y="166.7" width="36.8" height="6.4" fill="#0000ff"/>
<rect x="196.3" y="166.7" width="12.5" height="6.4" fill="#3a5cf5"/>
<rect x="208.5" y="166.7" width="6.4" height="6.4" fill="#3aa2fa"/>
<rect x="214.6" y="166.7" width="6.4" height="6.4" fill="#00ffff"/>
<rect x="220.7" y="166.7" width="6.4" height="6.4" fill="#86ffbe"/>
<rect x="226.7" y="166.7" width="6.4" height="6.4" fill="#ccff66"/>
<rect x="232.8" y="166.7" width="12.5" height="6.4" fill="#3a5cf5"/>
<rect x="245" y="166.7" width="6.4" height="6.4" fill="#3aa2fa"/>
<rect x="251.1" y="166.7" width="6.4" height="6.4" fill="#00ffff"/>
<rect x="257.1" y="166.7" width="6.4" height="6.4" fill="#86ffbe"/>
<rect x="263.2" y="166.7" width="12.5" height="6.4" fill="#ccff66"/>
<rect x="275.4" y="166.7" width="12.5" height="6.4" fill="#86ffbe"/>
<rect x="287.5" y="166.7" width="36.8" height="6.4" fill="#ccff66"/>
<rect x="68.7" y="172.8" width="12.5" height="6.4" fill="#00ffff"/>
<rect x="117.3" y="172.8" width="6.4" height="6.4" fill="#0000ff"/>
<rect x="129.5" y="172.8" width="12.5" height="6.4" fill="#0000ff"/>
<rect x="147.7" y="172.8" width="12.5" height="6.4" fill="#3a5cf5"/>
<rect x="159.9" y="172.8" width="42.9" height="6.4" fill="#0000ff"/>
<rect x="202.4" y="172.8" width="6.4" height="6.4" fill="#3a5cf5"/>
<rect x="208.5" y="172.8" width="6.4" height="6.4" fill="#3aa2fa"/>
<rect x="214.6" y="172.8" width="6.4" height="6.4" fill="#00ffff"/>
<rect x="220.7" y="172.8" width="6.4" height="6.4" fill="#86ffbe"/>
<rect x="226.7" y="172.8" width="6.4" height="6.4" fill="#ccff66"/>
<rect x="232.8" y="172.8" width="18.5" height="6.4" fill="#3a5cf5"/>
<rect x="251.1" y="172.8" width="6.4" height="6.4" fill="#00ffff"/>
<rect x="257.1" y="172.8" width="6.4" height="6.4" fill="#86ffbe"/>
<rect x="263.2" y="172.8" width="6.4" height="6.4" fill="#ccff66"/>
<rect x="269.3" y="172.8" width="12.5" height="6.4" fill="#86ffbe"/>
<rect x="281.5" y="172.8" width="6.4" height="6.4" fill="#00ffff"/>
<rect x="287.5" y="172.8" width="36.8" height="6.4" fill="#ccff66"/>
<rect x="111.2" y="178.9" width="6.4" height="6.4" fill="#3aa2fa"/>
<rect x="117.3" y="178.9" width="12.5" height="6.4" fill="#3a5cf5"/>
<rect x="129.5" y="178.9" width="18.5" height="6.4" fill="#0000ff"/>
<rect x="147.7" y="178.9" width="18.5" height="6.4" fill="#3a5cf5"/>
<rect x="172" y="178.9" width="30.7" height="6.4" fill="#0000ff"/>
<rect x="202.4" y="178.9" width="6.4" height="6.4" fill="#3a5cf5"/>
<rect x="208.5" y="178.9" width="6.4" height="6.4" fill="#3aa2fa"/>
<rect x="214.6" y="178.9" width="6.4" height="6.4" fill="#00ffff"/>
<rect x="220.7" y="178.9" width="6.4" height="6.4" fill="#86ffbe"/>
<rect x="226.7" y="178.9" width="6.4" height="6.4" fill="#ccff66"/>
<rect x="232.8" y="178.9" width="6.4" height="6.4" fill="#ffff00"/>
<rect x="238.9" y="178.9" width="6.4" height="6.4" fill="#3a5cf5"/>
<rect x="245" y="178.9" width="6.4" height="6.4" fill="#3aa2fa"/>
<rect x="251.1" y="178.9" width="12.5" height="6.4" fill="#00ffff"/>
<rect x="263.2" y="178.9" width="30.7" height="6.4" fill="#86ffbe"/>
<rect x="293.6" y="178.9" width="24.6" height="6.4" fill="#ccff66"/>
<rect x="317.9" y="178.9" width="6.4" height="6.4" fill="#ff6a00"/>
<rect x="93" y="185" width="6.4" height="6.4" fill="#00ffff"/>
<rect x="99.1" y="185" width="6.4" height="6.4" fill="#3aa2fa"/>
<rect x="111.2" y="185" width="24.6" height="6.4" fill="#3aa2fa"/>
<rect x="135.5" y="185" width="12.5" height="6.4" fill="#00ffff"/>
<rect x="153.8" y="185" width="6.4" height="6.4" fill="#86ffbe"/>
<rect x="159.9" y="185" width="12.5" height="6.4" fill="#00ffff"/>
<rect x="172" y="185" width="6.4" height="6.4" fill="#3aa2fa"/>
<rect x="178.1" y="185" width="12.5" height="6.4" fill="#3a5cf5"/>
<rect x="190.3" y="185" width="12.5" height="6.4" fill="#3aa2fa"/>
<rect x="202.4" y="185" width="6.4" height="6.4" fill="#00ffff"/>
<rect x="208.5" y="185" width="12.5" height="6.4" fill="#86ffbe"/>
<rect x="220.7" y="185" width="18.5" height="6.4" fill="#ccff66"/>
<rect x="238.9" y="185" width="6.4" height="6.4" fill="#ffff00"/>
<rect x="245" y="185" width="12.5" height="6.4" fill="#3aa2fa"/>
<rect x="257.1" y="185" width="24.6" height="6.4" fill="#00ffff"/>
<rect x="281.5" y="185" width="6.4" height="6.4" fill="#86ffbe"/>
<rect x="287.5" y="185" width="6.4" height="6.4" fill="#00ffff"/>
<rect x="293.6" y="185" width="6.4" height="6.4" fill="#86ffbe"/>
<rect x="299.7" y="185" width="12.5" height="6.4" fill="#ff6a00"/>
<rect x="311.9" y="185" width="12.5" height="6.4" fill="#ffb400"/>
<rect x="123.4" y="191.1" width="6.4" height="6.4" fill="#00ffff"/>
<rect x="141.6" y="191.1" width="36.8" height="6.4" fill="#86ffbe"/>
<rect x="178.1" y="191.1" width="6.4" height="6.4" fill="#00ffff"/>
<rect x="184.2" y="191.1" width="18.5" height="6.4" fill="#86ffbe"/>
<rect x="202.4" y="191.1" width="18.5" height="6.4" fill="#ccff66"/>
<rect x="220.7" y="191.1" width="6.4" height="6.4" fill="#ffff00"/>
<rect x="226.7" y="191.1" width="18.5" height="6.4" fill="#ccff66"/>
<rect x="245" y="191.1" width="6.4" height="6.4" fill="#ffff00"/>
<rect x="251.1" y="191.1" width="6.4" height="6.4" fill="#3a5cf5"/>
<rect x="257.1" y="191.1" width="6.4" height="6.4" fill="#3aa2fa"/>
<rect x="263.2" y="191.1" width="18.5" height="6.4" fill="#00ffff"/>
<rect x="281.5" y="191.1" width="12.5" height="6.4" fill="#ffb400"/>
<rect x="293.6" y="191.1" width="6.4" height="6.4" fill="#ffff00"/>
<rect x="299.7" y="191.1" width="12.5" height="6.4" fill="#ffb400"/>
<rect x="311.9" y="191.1" width="6.4" height="6.4" fill="#ffff00"/>
<rect x="178.1" y="197.1" width="12.5" height="6.4" fill="#86ffbe"/>
<rect x="190.3" y="197.1" width="6.4" height="6.4" fill="#ccff66"/>
<rect x="196.3" y="197.1" width="12.5" height="6.4" fill="#ffff00"/>
<rect x="208.5" y="197.1" width="12.5" height="6.4" fill="#ccff66"/>
<rect x="220.7" y="197.1" width="24.6" height="6.4" fill="#86ffbe"/>
<rect x="245" y="197.1" width="18.5" height="6.4" fill="#ccff66"/>
<rect x="263.2" y="197.1" width="30.7" height="6.4" fill="#ffff00"/>
<rect x="293.6" y="197.1" width="24.6" height="6.4" fill="#ccff66"/>
<rect x="178.1" y="203.2" width="12.5" height="6.4" fill="#ccff66"/>
<rect x="190.3" y="203.2" width="12.5" height="6.4" fill="#ffff00"/>
<rect x="202.4" y="203.2" width="18.5" height="6.4" fill="#ccff66"/>
<rect x="220.7" y="203.2" width="42.9" height="6.4" fill="#86ffbe"/>
<rect x="263.2" y="203.2" width="6.4" height="6.4" fill="#ccff66"/>
<rect x="269.3" y="203.2" width="18.5" height="6.4" fill="#86ffbe"/>
<rect x="287.5" y="203.2" width="12.5" height="6.4" fill="#ccff66"/>
<rect x="299.7" y="203.2" width="12.5" height="6.4" fill="#86ffbe"/>
<rect x="172" y="209.3" width="12.5" height="6.4" fill="#ccff66"/>
<rect x="184.2" y="209.3" width="12.5" height="6.4" fill="#ffff00"/>
<rect x="196.3" y="209.3" width="12.5" height="6.4" fill="#ccff66"/>
<rect x="208.5" y="209.3" width="12.5" height="6.4" fill="#86ffbe"/>
<rect x="220.7" y="209.3" width="12.5" height="6.4" fill="#00ffff"/>
<rect x="232.8" y="209.3" width="42.9" height="6.4" fill="#86ffbe"/>
<rect x="275.4" y="209.3" width="6.4" height="6.4" fill="#00ffff"/>
<rect x="281.5" y="209.3" width="6.4" height="6.4" fill="#3aa2fa"/>
<rect x="287.5" y="209.3" width="6.4" height="6.4" fill="#00ffff"/>
<rect x="293.6" y="209.3" width="30.7" height="6.4" fill="#86ffbe"/>
<rect x="184.2" y="215.4" width="12.5" height="6.4" fill="#ffff00"/>
<rect x="196.3" y="215.4" width="6.4" height="6.4" fill="#ccff66"/>
<rect x="202.4" y="215.4" width="6.4" height="6.4" fill="#86ffbe"/>
<rect x="208.5" y="215.4" width="12.5" height="6.4" fill="#00ffff"/>
<rect x="220.7" y="215.4" width="6.4" height="6.4" fill="#3aa2fa"/>
<rect x="226.7" y="215.4" width="12.5" height="6.4" fill="#00ffff"/>
<rect x="238.9" y="215.4" width="24.6" height="6.4" fill="#86ffbe"/>
<rect x="263.2" y="215.4" width="6.4" height="6.4" fill="#00ffff"/>
<rect x="269.3" y="215.4" width="18.5" height="6.4" fill="#3aa2fa"/>
<rect x="287.5" y="215.4" width="6.4" height="6.4" fill="#00ffff"/>
<rect x="293.6" y="215.4" width="6.4" height="6.4" fill="#86ffbe"/>
<rect x="311.9" y="215.4" width="12.5" height="6.4" fill="#ffff00"/>
<rect x="184.2" y="221.4" width="6.4" height="6.4" fill="#ffff00"/>
<rect x="190.3" y="221.4" width="6.4" height="6.4" fill="#ccff66"/>
<rect x="196.3" y="221.4" width="6.4" height="6.4" fill="#86ffbe"/>
<rect x="202.4" y="221.4" width="6.4" height="6.4" fill="#00ffff"/>
<rect x="208.5" y="221.4" width="18.5" height="6.4" fill="#86ffbe"/>
<rect x="226.7" y="221.4" width="6.4" height="6.4" fill="#3aa2fa"/>
<rect x="232.8" y="221.4" width="6.4" height="6.4" fill="#00ffff"/>
<rect x="238.9" y="221.4" width="30.7" height="6.4" fill="#86ffbe"/>
<rect x="269.3" y="221.4" width="18.5" height="6.4" fill="#3aa2fa"/>
<rect x="311.9" y="221.4" width="12.5" height="6.4" fill="#ffb400"/>
<rect x="190.3" y="227.5" width="6.4" height="6.4" fill="#86ffbe"/>
<rect x="196.3" y="227.5" width="6.4" height="6.4" fill="#00ffff"/>
<rect x="232.8" y="227.5" width="6.4" height="6.4" fill="#00ffff"/>
<rect x="238.9" y="227.5" width="24.6" height="6.4" fill="#86ffbe"/>
<rect x="245" y="233.6" width="12.5" height="6.4" fill="#ffff00"/>
<rect x="238.9" y="239.7" width="12.5" height="6.4" fill="#ffff00"/>
<rect x="251.1" y="239.7" width="6.4" height="6.4" fill="#ccff66"/>
<rect x="238.9" y="245.8" width="12.5" height="6.4" fill="#ffff00"/>
<rect x="251.1" y="245.8" width="6.4" height="6.4" fill="#ccff66"/>
<path d="M26.1 33V264M32.2 33V264M38.3 33V264M44.3 33V264M50.4 33V264M56.5 33V264M62.6 33V264M68.7 33V264M74.7 33V264M80.8 33V264M86.9 33V264M93 33V264M99.1 33V264M105.1 33V264M111.2 33V264M117.3 33V264M123.4 33V264M129.5 33V264M135.5 33V264M141.6 33V264M147.7 33V264M153.8 33V264M159.9 33V264M165.9 33V264M172 33V264M178.1 33V264M184.2 33V264M190.3 33V264M196.3 33V264M202.4 33V264M208.5 33V264M214.6 33V264M220.7 33V264M226.7 33V264M232.8 33V264M238.9 33V264M245 33V264M251.1 33V264M257.1 33V264M263.2 33V264M269.3 33V264M275.4 33V264M281.5 33V264M287.5 33V264M293.6 33V264M299.7 33V264M305.8 33V264M311.9 33V264M317.9 33V264M324 33V264M330.1 33V264M336.2 33V264M342.3 33V264M348.3 33V264M354.4 33V264M360.5 33V264M366.6 33V264M372.7 33V264M378.7 33V264M384.8 33V264M390.9 33V264M397 33V264M403.1 33V264M409.1 33V264M415.2 33V264M26.1 264H415.2M26.1 257.9H415.2M26.1 251.8H415.2M26.1 245.8H415.2M26.1 239.7H415.2M26.1 233.6H415.2M26.1 227.5H415.2M26.1 221.4H415.2M26.1 215.4H415.2M26.1 209.3H415.2M26.1 203.2H415.2M26.1 197.1H415.2M26.1 191.1H415.2M26.1 185H415.2M26.1 178.9H415.2M26.1 172.8H415.2M26.1 166.7H415.2M26.1 160.7H415.2M26.1 154.6H415.2M26.1 148.5H415.2M26.1 142.4H415.2M26.1 136.4H415.2M26.1 130.3H415.2M26.1 124.2H415.2M26.1 118.1H415.2M26.1 112H415.2M26.1 106H415.2M26.1 99.9H415.2M26.1 93.8H415.2M26.1 87.7H415.2M26.1 81.7H415.2M26.1 75.6H415.2M26.1 69.5H415.2M26.1 63.4H415.2M26.1 57.3H415.2M26.1 51.3H415.2M26.1 45.2H415.2M26.1 39.1H415.2M26.1 33H415.2" stroke="#444" stroke-opacity="0.6" stroke-width="0.5" fill="none"/>
</g>
<polygon points="29,122.4 31,119.7 33,117.7 37.7,115.7 41.1,114.3 43.1,115.7 47.1,113 51.8,111.7 56.5,110.3 65.2,107 70.5,104.3 69.9,100.9 72.5,96.9 70.5,91.6 68.5,88.2 74.5,86.9 81.2,85.5 83.9,80.9 86.6,74.2 91.9,74.8 100,74.8 102.7,72.8 103.3,68.8 108.7,66.8 110.7,62.8 116,62.4 117.4,65.5 121.4,68.1 128.1,69.5 132.1,71.5 135.5,75.5 135.9,80.2 134.8,84.9 138.8,86.9 146.8,87.6 153,88.6 157,91.6 161.7,92.9 163.7,94.9 166.4,99.6 171.7,101.3 177.1,100.9 183.8,102.6 193.2,101.3 201.2,103 206.6,105 211.9,107 218.6,107.4 225.3,105.6 233.3,103.6 241.4,103 249.4,102.6 254.8,100.3 258.8,96.9 262.8,94.9 260.1,91.6 261.4,88.2 264.8,86.9 269.5,88.6 274.8,87.6 278.9,85.5 281,85.5 286.4,82.9 294.4,78.9 302.4,77.5 309.8,77.1 311.1,74.8 307.1,71.5 301.1,69.5 293.7,70.4 287,71.5 285,69.5 287,64.8 290.4,60.1 293.7,58.1 298.4,60.1 305.1,57.8 307.8,54.1 311.8,48.7 316.5,45.4 317.1,42 312.5,40.7 315.8,38 323.8,36.4 334.6,35.3 342.6,37.3 347.9,39.4 350.6,44.7 354,50.1 357.3,55.4 358.7,59.4 366.7,60.8 374.7,64.1 377.4,67.5 379.4,70.8 386.8,69.5 394.8,68.1 403.1,66.5 400.8,70.8 397.5,75.5 394.8,80.2 391.5,85.5 386.8,86.9 380.1,87.6 380.7,92.9 379.4,98.3 375.4,100.9 376.1,103 372,101.6 366.7,105 361.3,108.3 354,107.7 350.2,111.4 346.2,114.4 342.2,116.7 338.2,119.4 334.2,119.7 330.2,121.4 327.5,122.8 324.1,124.1 321.5,125.1 318.8,125.4 319.8,124.1 319.5,121.4 321.5,119.4 323.5,117.7 325.1,115.4 324.1,113.7 322.1,112.4 319.1,113.1 316.8,115.1 314.8,116.7 311.4,118.4 308.1,120.1 306.1,121.8 303.4,123.4 300,123.8 298.4,125.1 297.4,126.8 298.7,128.4 300.7,129.1 304.4,129.5 306.4,130.8 307.1,132.1 305.7,133.5 306.1,134.8 309.4,135.8 312.1,134.5 314.8,132.1 316.8,129.5 318.8,132 321.5,133 324.8,133.3 328.2,134.1 327.8,135.8 325.5,137.5 322.1,138.5 319.5,139.5 316.8,140.8 313.4,142.8 310.1,146.2 307.7,148.9 310.1,151.5 312.8,153.5 314.8,156 315.1,156 317.1,160.1 319.8,164.1 323.2,166.8 324.1,170.1 323.8,173 322.6,174 320.5,174.9 319.9,176.1 320.9,177.4 322.6,178.2 324.3,178 326.8,176.7 329.3,174.4 327.2,179 325.1,180.9 324.3,183.4 322.6,185.1 322,187.2 321.8,189.3 319.7,191 317.6,193.1 315.5,195.6 313.8,197.7 311.7,200 309.8,202.9 310.5,206.2 307.8,208.3 303.8,210.9 299.7,212.9 295.7,216.3 291.7,219.6 289,222.3 285,223 281,223.4 277.5,225 273.5,225.7 269.5,227.7 264.1,229 266,229.1 264.2,229.5 261.1,230.2 258,231.1 256.1,232 254.2,233 252.9,234.2 253.9,235.8 254.5,237.7 252.6,238.8 250.7,238.3 249.5,236.7 249,235.2 249.2,233 249.5,231.4 248.6,230.2 246,231.4 245.1,230.6 242.3,230.3 239.1,230.2 236,229.7 232,227.7 230.7,225 226,223 222.6,219.9 217.3,222.3 213.2,223 209.2,224.3 205.2,223.7 201.9,226.3 200.5,232.4 199.9,227.7 197.9,226.3 196.5,229.7 193.2,230.3 189.8,227.7 185.8,224.3 184.5,219 181.1,215 177.1,215 175.8,211.6 177.8,208.3 180.4,204.9 183.1,200.9 182.5,195.5 179.8,190.9 176.4,188.8 171.7,192.2 166.4,190.9 161,192.2 155.7,194.2 153,196.6 148.2,197.5 142.8,196.9 140.1,192.9 136.1,191.3 130.8,190.9 125.4,192.2 123.4,195.3 122.1,192.9 118.7,191.5 112,191.3 105.3,191.5 100.6,188.8 96,186.2 91.9,184.8 89.3,182.1 83.9,179.5 79.9,176.8 76.5,178.8 74.5,177.5 69.2,174.8 65.8,172.8 61.8,170.8 59.1,166.1 60.5,162.1 63.8,158.7 63.2,154 61.1,150 56.5,147.3 53.8,146 48.4,143.1 45.8,141.1 43.7,137.8 38.4,136.8 35,136 38.4,133.1 37.7,127.7 34.4,126.4 31,125" fill="none" stroke="#555" stroke-width="0.8" stroke-linejoin="round"/>
<polygon points="249.5,240.2 252.3,239.9 254.8,239.4 256.7,240.5 257.3,241.5 256.1,243.3 254.8,245.2 254.5,247.1 252.3,248.7 250.1,249.9 248.6,250.9 246.4,250.2 243.5,249.3 242.6,247.1 242.6,244.6 244.2,242.7 246.4,241.1" fill="none" stroke="#555" stroke-width="0.8" stroke-linejoin="round"/>
<polygon points="321.8,207.9 323.8,208.9 323.6,212.3 321.8,217 320.5,221 318.5,224.3 316.5,227.9 314.5,225 312.9,221 313.1,217 315.1,213.6 317.8,210.3 319.8,208.5" fill="none" stroke="#555" stroke-width="0.8" stroke-linejoin="round"/>
<path d="M319.1 234.4L323.5 230.0M308.4 252.0L311.6 246.3M306.3 264.5L306.3 270.2M303.4 295.3L305.9 289.3M285.2 317.9L289.2 312.9M262.0 341.1L268.3 339.0M240.3 318.5L240.3 325.2M251.3 293.4L253.6 287.1M247.3 263.7L250.7 269.6M327.2 218.3L328.9 212.3M333.2 204.9L334.8 203.3" stroke="#222" stroke-width="0.7" fill="none"/>
<path d="M291.8 236.0h1.8M297.9 269.2h1.0M291.7 262.3h0.8M320.6 227.0h1.2M265.2 327.3h1.2M260.2 262.0h0.9M264.7 258.9h0.9M259.7 257.6h0.9M265.9 263.9h0.9M257.8 265.2h0.9M262.1 260.3h0.9M267.1 260.5h0.9M279.7 298.7h0.8M273.5 304.5h0.6M273.2 304.3h0.5M282.6 297.1h0.5M282.3 305.5h0.5M277.1 304.6h0.9M286.0 299.8h0.9M272.9 308.2h0.6M275.3 299.4h0.6M292.0 295.9h0.7M287.6 299.2h0.7M273.3 299.3h0.6M288.7 299.5h0.6M286.3 300.4h0.6M291.6 301.8h0.6M285.9 301.2h0.9M289.8 297.7h0.9M274.6 302.9h0.8M275.5 303.5h0.5M288.3 303.3h0.7M293.5 297.0h0.8M286.5 301.7h0.7M292.7 304.2h0.7M288.2 295.6h0.8M287.8 305.9h0.8M278.7 301.5h0.8M272.3 304.0h0.6M274.5 299.0h0.8M274.9 301.0h0.7M293.4 294.5h0.7M285.3 305.3h0.8M293.3 296.7h0.7M280.5 306.5h0.9M275.5 300.0h0.6M256.6 315.7h0.7M257.6 312.5h0.7M261.1 314.9h0.9M272.1 311.5h0.7M271.6 308.9h0.9M275.1 312.8h0.8M262.1 313.7h0.5M270.3 309.3h0.5M255.8 314.0h0.6M250.5 314.5h0.6M252.2 316.2h0.5M278.4 310.4h0.6M257.3 314.7h0.6M252.7 318.9h0.9M264.6 313.5h0.5M252.2 316.1h0.6M276.9 308.1h0.5M281.1 309.1h0.6M267.1 310.0h0.7M281.9 310.9h0.8M257.6 314.7h0.6M274.8 310.8h0.8M326.0 174.2h1.0M327.7 175.5h1.0M326.9 177.8h1.0M325.4 179.6h1.0M326.3 182.0h1.0M324.1 184.5h1.0M323.4 187.2h1.0M322.0 189.0h1.0M317.0 197.5h1.0M315.3 199.8h1.0M311.9 204.3h1.0" stroke="#333" stroke-width="0.8" stroke-linecap="round" fill="none"/>
<path d="M308.2 217.6L308.9 220.6" stroke="#222" stroke-width="1" fill="none"/>
<ellipse cx="277.4" cy="265.4" rx="3.5" ry="1.6" transform="rotate(-25 277.4 265.4)" fill="none" stroke="#333" stroke-width="0.5"/>
<text x="32.5" y="226.1" class="t" font-size="11.3">XCO<tspan font-size="7.4" dy="1.9">2ano</tspan><tspan dy="-1.9">(ppm)</tspan></text>
<rect x="27" y="234.2" width="28.4" height="14" fill="#0000ff" stroke="#aaa" stroke-width="0.4"/>
<rect x="130.1" y="234.2" width="28.2" height="14" fill="#ccff66" stroke="#aaa" stroke-width="0.4"/>
<text x="60.4" y="245.7" class="t" font-size="11"><tspan fill="#7a7a7a">−</tspan>1.55 <tspan fill="#7a7a7a">−</tspan> <tspan fill="#7a7a7a">−</tspan>0.57</text>
<text x="163.3" y="245.7" class="t" font-size="11">0.73 <tspan fill="#7a7a7a">−</tspan> 1.08</text>
<rect x="27" y="253.2" width="28.4" height="14" fill="#3a5cf5" stroke="#aaa" stroke-width="0.4"/>
<rect x="130.1" y="253.2" width="28.2" height="14" fill="#ffff00" stroke="#aaa" stroke-width="0.4"/>
<text x="60.4" y="264.8" class="t" font-size="11"><tspan fill="#555">−</tspan>0.56 <tspan fill="#555">−</tspan> <tspan fill="#555">−</tspan>0.16</text>
<text x="163.3" y="264.8" class="t" font-size="11">1.09 <tspan fill="#555">−</tspan> 1.46</text>
<rect x="27" y="272.3" width="28.4" height="14" fill="#3aa2fa" stroke="#aaa" stroke-width="0.4"/>
<rect x="130.1" y="272.3" width="28.2" height="14" fill="#ffb400" stroke="#aaa" stroke-width="0.4"/>
<text x="60.4" y="283.8" class="t" font-size="11"><tspan fill="#9a9a9a">−</tspan>0.15 <tspan fill="#9a9a9a">−</tspan> 0.14</text>
<text x="163.3" y="283.8" class="t" font-size="11">1.47 <tspan fill="#9a9a9a">−</tspan> 1.85</text>
<rect x="27" y="291.4" width="28.4" height="14" fill="#00ffff" stroke="#aaa" stroke-width="0.4"/>
<rect x="130.1" y="291.4" width="28.2" height="14" fill="#ff6a00" stroke="#aaa" stroke-width="0.4"/>
<text x="60.4" y="302.9" class="t" font-size="11">0.15 <tspan fill="#222">−</tspan> 0.41</text>
<text x="163.3" y="302.9" class="t" font-size="11">1.86 <tspan fill="#222">−</tspan> 2.28</text>
<rect x="27" y="310.4" width="28.4" height="14" fill="#86ffbe" stroke="#aaa" stroke-width="0.4"/>
<rect x="130.1" y="310.4" width="28.2" height="14" fill="#ff0000" stroke="#aaa" stroke-width="0.4"/>
<text x="60.4" y="321.9" class="t" font-size="11">0.42 <tspan fill="#9a9a9a">−</tspan> 0.72</text>
<text x="163.3" y="321.9" class="t" font-size="11">2.29 <tspan fill="#9a9a9a">−</tspan> 3.24</text>
<rect x="24.6" y="330.4" width="18.2" height="9.3" fill="#fff" stroke="#888" stroke-width="0.5"/>
<text x="46.6" y="338.5" class="t" font-size="11">National boundaries</text>
<path clip-path="url(#lg)" d="M135 340l10 -10M137.9 340l10 -10M140.8 340l10 -10M143.7 340l10 -10M146.6 340l10 -10M149.5 340l10 -10M152.4 340l10 -10M155.3 340l10 -10M158.2 340l10 -10M161.1 340l10 -10" stroke="#404040" stroke-width="0.5" fill="none"/>
<rect x="144.7" y="329.8" width="18" height="9.4" fill="none" stroke="#aaa" stroke-width="0.4"/>
<text x="167" y="338.2" class="t" font-size="11">Background area</text>
<rect x="292.2" y="339.8" width="83.4" height="4" fill="#fff" stroke="#000" stroke-width="0.5"/>
<rect x="292.2" y="339.6" width="41.7" height="4.4" fill="#000"/>
<text x="292.2" y="335" class="t" font-size="9.6" text-anchor="middle">0</text>
<text x="334" y="335" class="t" font-size="9.6" text-anchor="middle">750</text>
<text x="365.6" y="335" class="t" font-size="9.6">1500 km</text>
<text x="403.9" y="32" font-family="'Liberation Sans',sans-serif" font-weight="bold" font-size="5.2" text-anchor="middle" fill="#000">N</text>
<path d="M403.8 33.9L399 49L403.9 44.2Z" fill="#000"/><path d="M403.8 33.9L408.2 48.6L403.9 44.2Z" fill="#fff" stroke="#000" stroke-width="0.5"/>
<rect x="20.9" y="22.5" width="396" height="328.9" fill="none" stroke="#3c3c3c" stroke-width="1.4"/>
<text x="71.5" y="18.9" class="t" font-size="10" text-anchor="middle">80°E</text>
<text x="71.5" y="363.8" class="t" font-size="10" text-anchor="middle">80°E</text>
<text x="132.3" y="18.9" class="t" font-size="10" text-anchor="middle">90°E</text>
<text x="132.3" y="363.8" class="t" font-size="10" text-anchor="middle">90°E</text>
<text x="193.1" y="18.9" class="t" font-size="10" text-anchor="middle">100°E</text>
<text x="193.1" y="363.8" class="t" font-size="10" text-anchor="middle">100°E</text>
<text x="253.9" y="18.9" class="t" font-size="10" text-anchor="middle">110°E</text>
<text x="253.9" y="363.8" class="t" font-size="10" text-anchor="middle">110°E</text>
<text x="314.7" y="18.9" class="t" font-size="10" text-anchor="middle">120°E</text>
<text x="314.7" y="363.8" class="t" font-size="10" text-anchor="middle">120°E</text>
<text x="375.5" y="18.9" class="t" font-size="10" text-anchor="middle">130°E</text>
<text x="375.5" y="363.8" class="t" font-size="10" text-anchor="middle">130°E</text>
<text transform="translate(17.8 305.8) rotate(-90)" class="t" font-size="10" text-anchor="middle">10°N</text>
<text transform="translate(429.6 305.8) rotate(-90)" class="t" font-size="10" text-anchor="middle">10°N</text>
<text transform="translate(17.8 245) rotate(-90)" class="t" font-size="10" text-anchor="middle">20°N</text>
<text transform="translate(429.6 245) rotate(-90)" class="t" font-size="10" text-anchor="middle">20°N</text>
<text transform="translate(17.8 184.2) rotate(-90)" class="t" font-size="10" text-anchor="middle">30°N</text>
<text transform="translate(429.6 184.2) rotate(-90)" class="t" font-size="10" text-anchor="middle">30°N</text>
<text transform="translate(17.8 123.5) rotate(-90)" class="t" font-size="10" text-anchor="middle">40°N</text>
<text transform="translate(429.6 123.5) rotate(-90)" class="t" font-size="10" text-anchor="middle">40°N</text>
<text transform="translate(17.8 62.7) rotate(-90)" class="t" font-size="10" text-anchor="middle">50°N</text>
<text transform="translate(429.6 62.7) rotate(-90)" class="t" font-size="10" text-anchor="middle">50°N</text>
<text x="218.6" y="388.2" class="c" text-anchor="middle"><tspan>(</tspan><tspan font-weight="bold">b</tspan><tspan>) 2012</tspan></text>
</g>
<g transform="translate(0 388.3)">
<path d="M71.5 22.5V351.4M132.3 22.5V351.4M193.1 22.5V351.4M253.9 22.5V351.4M314.7 22.5V351.4M375.5 22.5V351.4" stroke="#cdcdcd" stroke-width="0.8" stroke-dasharray="3 10.95" stroke-dashoffset="8.5" fill="none"/><path d="M20.9 305.8H416.9M20.9 245H416.9M20.9 184.2H416.9M20.9 123.5H416.9M20.9 62.7H416.9" stroke="#cdcdcd" stroke-width="0.8" stroke-dasharray="3 10.914" stroke-dashoffset="13.6" fill="none"/><path d="M71.5 22.5v3M71.5 351.4v-3M132.3 22.5v3M132.3 351.4v-3M193.1 22.5v3M193.1 351.4v-3M253.9 22.5v3M253.9 351.4v-3M314.7 22.5v3M314.7 351.4v-3M375.5 22.5v3M375.5 351.4v-3M20.9 305.8h3M416.9 305.8h-3M20.9 245h3M416.9 245h-3M20.9 184.2h3M416.9 184.2h-3M20.9 123.5h3M416.9 123.5h-3M20.9 62.7h3M416.9 62.7h-3" stroke="#666" stroke-width="0.8" fill="none"/>
<g clip-path="url(#cn)">
<path d="M-196 260l224 -224M-193.1 260l224 -224M-190.2 260l224 -224M-187.3 260l224 -224M-184.4 260l224 -224M-181.5 260l224 -224M-178.6 260l224 -224M-175.7 260l224 -224M-172.8 260l224 -224M-169.9 260l224 -224M-167 260l224 -224M-164.1 260l224 -224M-161.2 260l224 -224M-158.3 260l224 -224M-155.4 260l224 -224M-152.5 260l224 -224M-149.6 260l224 -224M-146.7 260l224 -224M-143.8 260l224 -224M-140.9 260l224 -224M-138 260l224 -224M-135.1 260l224 -224M-132.2 260l224 -224M-129.3 260l224 -224M-126.4 260l224 -224M-123.5 260l224 -224M-120.6 260l224 -224M-117.7 260l224 -224M-114.8 260l224 -224M-111.9 260l224 -224M-109 260l224 -224M-106.1 260l224 -224M-103.2 260l224 -224M-100.3 260l224 -224M-97.4 260l224 -224M-94.5 260l224 -224M-91.6 260l224 -224M-88.7 260l224 -224M-85.8 260l224 -224M-82.9 260l224 -224M-80 260l224 -224M-77.1 260l224 -224M-74.2 260l224 -224M-71.3 260l224 -224M-68.4 260l224 -224M-65.5 260l224 -224M-62.6 260l224 -224M-59.7 260l224 -224M-56.8 260l224 -224M-53.9 260l224 -224M-51 260l224 -224M-48.1 260l224 -224M-45.2 260l224 -224M-42.3 260l224 -224M-39.4 260l224 -224M-36.5 260l224 -224M-33.6 260l224 -224M-30.7 260l224 -224M-27.8 260l224 -224M-24.9 260l224 -224M-22 260l224 -224M-19.1 260l224 -224M-16.2 260l224 -224M-13.3 260l224 -224M-10.4 260l224 -224M-7.5 260l224 -224M-4.6 260l224 -224M-1.7 260l224 -224M1.2 260l224 -224M4.1 260l224 -224M7 260l224 -224M9.9 260l224 -224M12.8 260l224 -224M15.7 260l224 -224M18.6 260l224 -224M21.5 260l224 -224M24.4 260l224 -224M27.3 260l224 -224M30.2 260l224 -224M33.1 260l224 -224M36 260l224 -224M38.9 260l224 -224M41.8 260l224 -224M44.7 260l224 -224M47.6 260l224 -224M50.5 260l224 -224M53.4 260l224 -224M56.3 260l224 -224M59.2 260l224 -224M62.1 260l224 -224M65 260l224 -224M67.9 260l224 -224M70.8 260l224 -224M73.7 260l224 -224M76.6 260l224 -224M79.5 260l224 -224M82.4 260l224 -224M85.3 260l224 -224M88.2 260l224 -224M91.1 260l224 -224M94 260l224 -224M96.9 260l224 -224M99.8 260l224 -224M102.7 260l224 -224M105.6 260l224 -224M108.5 260l224 -224M111.4 260l224 -224M114.3 260l224 -224M117.2 260l224 -224M120.1 260l224 -224M123 260l224 -224M125.9 260l224 -224M128.8 260l224 -224M131.7 260l224 -224M134.6 260l224 -224M137.5 260l224 -224M140.4 260l224 -224M143.3 260l224 -224M146.2 260l224 -224M149.1 260l224 -224M152 260l224 -224M154.9 260l224 -224M157.8 260l224 -224M160.7 260l224 -224M163.6 260l224 -224M166.5 260l224 -224M169.4 260l224 -224M172.3 260l224 -224M175.2 260l224 -224M178.1 260l224 -224M181 260l224 -224M183.9 260l224 -224M186.8 260l224 -224M189.7 260l224 -224M192.6 260l224 -224M195.5 260l224 -224M198.4 260l224 -224M201.3 260l224 -224M204.2 260l224 -224M207.1 260l224 -224M210 260l224 -224M212.9 260l224 -224M215.8 260l224 -224M218.7 260l224 -224M221.6 260l224 -224M224.5 260l224 -224M227.4 260l224 -224M230.3 260l224 -224M233.2 260l224 -224M236.1 260l224 -224M239 260l224 -224M241.9 260l224 -224M244.8 260l224 -224M247.7 260l224 -224M250.6 260l224 -224M253.5 260l224 -224M256.4 260l224 -224M259.3 260l224 -224M262.2 260l224 -224M265.1 260l224 -224M268 260l224 -224M270.9 260l224 -224M273.8 260l224 -224M276.7 260l224 -224M279.6 260l224 -224M282.5 260l224 -224M285.4 260l224 -224M288.3 260l224 -224M291.2 260l224 -224M294.1 260l224 -224M297 260l224 -224M299.9 260l224 -224M302.8 260l224 -224M305.7 260l224 -224M308.6 260l224 -224M311.5 260l224 -224M314.4 260l224 -224M317.3 260l224 -224M320.2 260l224 -224M323.1 260l224 -224M326 260l224 -224M328.9 260l224 -224M331.8 260l224 -224M334.7 260l224 -224M337.6 260l224 -224M340.5 260l224 -224M343.4 260l224 -224M346.3 260l224 -224M349.2 260l224 -224M352.1 260l224 -224M355 260l224 -224M357.9 260l224 -224M360.8 260l224 -224M363.7 260l224 -224M366.6 260l224 -224M369.5 260l224 -224M372.4 260l224 -224M375.3 260l224 -224M378.2 260l224 -224M381.1 260l224 -224M384 260l224 -224M386.9 260l224 -224M389.8 260l224 -224M392.7 260l224 -224M395.6 260l224 -224M398.5 260l224 -224M401.4 260l224 -224M404.3 260l224 -224" stroke="#585858" stroke-width="0.4" fill="none"/>
<rect x="317.9" y="33" width="6.4" height="6.4" fill="#00ffff"/>
<rect x="324" y="33" width="18.5" height="6.4" fill="#3aa2fa"/>
<rect x="342.3" y="33" width="6.4" height="6.4" fill="#3a5cf5"/>
<rect x="311.9" y="39.1" width="12.5" height="6.4" fill="#00ffff"/>
<rect x="324" y="39.1" width="18.5" height="6.4" fill="#3aa2fa"/>
<rect x="342.3" y="39.1" width="12.5" height="6.4" fill="#3a5cf5"/>
<rect x="305.8" y="45.2" width="12.5" height="6.4" fill="#00ffff"/>
<rect x="317.9" y="45.2" width="6.4" height="6.4" fill="#3aa2fa"/>
<rect x="330.1" y="45.2" width="12.5" height="6.4" fill="#3aa2fa"/>
<rect x="348.3" y="45.2" width="12.5" height="6.4" fill="#3a5cf5"/>
<rect x="305.8" y="51.3" width="18.5" height="6.4" fill="#00ffff"/>
<rect x="324" y="51.3" width="24.6" height="6.4" fill="#3aa2fa"/>
<rect x="348.3" y="51.3" width="12.5" height="6.4" fill="#3a5cf5"/>
<rect x="287.5" y="57.3" width="6.4" height="6.4" fill="#0000ff"/>
<rect x="293.6" y="57.3" width="24.6" height="6.4" fill="#3a5cf5"/>
<rect x="317.9" y="57.3" width="6.4" height="6.4" fill="#3aa2fa"/>
<rect x="330.1" y="57.3" width="42.9" height="6.4" fill="#3a5cf5"/>
<rect x="105.1" y="63.4" width="6.4" height="6.4" fill="#3aa2fa"/>
<rect x="111.2" y="63.4" width="6.4" height="6.4" fill="#00ffff"/>
<rect x="281.5" y="63.4" width="18.5" height="6.4" fill="#0000ff"/>
<rect x="299.7" y="63.4" width="79.3" height="6.4" fill="#3a5cf5"/>
<rect x="390.9" y="63.4" width="12.5" height="6.4" fill="#00ffff"/>
<rect x="99.1" y="69.5" width="30.7" height="6.4" fill="#3aa2fa"/>
<rect x="281.5" y="69.5" width="6.4" height="6.4" fill="#3a5cf5"/>
<rect x="305.8" y="69.5" width="12.5" height="6.4" fill="#3a5cf5"/>
<rect x="317.9" y="69.5" width="6.4" height="6.4" fill="#0000ff"/>
<rect x="324" y="69.5" width="12.5" height="6.4" fill="#3a5cf5"/>
<rect x="336.2" y="69.5" width="24.6" height="6.4" fill="#0000ff"/>
<rect x="360.5" y="69.5" width="12.5" height="6.4" fill="#3a5cf5"/>
<rect x="372.7" y="69.5" width="6.4" height="6.4" fill="#3aa2fa"/>
<rect x="378.7" y="69.5" width="24.6" height="6.4" fill="#00ffff"/>
<rect x="86.9" y="75.6" width="18.5" height="6.4" fill="#86ffbe"/>
<rect x="105.1" y="75.6" width="18.5" height="6.4" fill="#00ffff"/>
<rect x="123.4" y="75.6" width="12.5" height="6.4" fill="#3aa2fa"/>
<rect x="293.6" y="75.6" width="24.6" height="6.4" fill="#0000ff"/>
<rect x="317.9" y="75.6" width="24.6" height="6.4" fill="#3a5cf5"/>
<rect x="342.3" y="75.6" width="12.5" height="6.4" fill="#0000ff"/>
<rect x="354.4" y="75.6" width="12.5" height="6.4" fill="#3a5cf5"/>
<rect x="366.6" y="75.6" width="6.4" height="6.4" fill="#3aa2fa"/>
<rect x="372.7" y="75.6" width="6.4" height="6.4" fill="#00ffff"/>
<rect x="378.7" y="75.6" width="18.5" height="6.4" fill="#86ffbe"/>
<rect x="80.8" y="81.7" width="24.6" height="6.4" fill="#ccff66"/>
<rect x="105.1" y="81.7" width="12.5" height="6.4" fill="#86ffbe"/>
<rect x="117.3" y="81.7" width="6.4" height="6.4" fill="#00ffff"/>
<rect x="281.5" y="81.7" width="61.1" height="6.4" fill="#3a5cf5"/>
<rect x="342.3" y="81.7" width="18.5" height="6.4" fill="#0000ff"/>
<rect x="360.5" y="81.7" width="6.4" height="6.4" fill="#3aa2fa"/>
<rect x="366.6" y="81.7" width="6.4" height="6.4" fill="#00ffff"/>
<rect x="372.7" y="81.7" width="6.4" height="6.4" fill="#86ffbe"/>
<rect x="378.7" y="81.7" width="18.5" height="6.4" fill="#ccff66"/>
<rect x="68.7" y="87.7" width="18.5" height="6.4" fill="#3a5cf5"/>
<rect x="86.9" y="87.7" width="30.7" height="6.4" fill="#ccff66"/>
<rect x="117.3" y="87.7" width="18.5" height="6.4" fill="#86ffbe"/>
<rect x="135.5" y="87.7" width="6.4" height="6.4" fill="#00ffff"/>
<rect x="141.6" y="87.7" width="6.4" height="6.4" fill="#3aa2fa"/>
<rect x="153.8" y="87.7" width="6.4" height="6.4" fill="#3a5cf5"/>
<rect x="257.1" y="87.7" width="6.4" height="6.4" fill="#0000ff"/>
<rect x="269.3" y="87.7" width="6.4" height="6.4" fill="#0000ff"/>
<rect x="275.4" y="87.7" width="24.6" height="6.4" fill="#3a5cf5"/>
<rect x="299.7" y="87.7" width="6.4" height="6.4" fill="#3aa2fa"/>
<rect x="305.8" y="87.7" width="36.8" height="6.4" fill="#3a5cf5"/>
<rect x="342.3" y="87.7" width="6.4" height="6.4" fill="#0000ff"/>
<rect x="348.3" y="87.7" width="12.5" height="6.4" fill="#3a5cf5"/>
<rect x="360.5" y="87.7" width="6.4" height="6.4" fill="#3aa2fa"/>
<rect x="366.6" y="87.7" width="6.4" height="6.4" fill="#00ffff"/>
<rect x="372.7" y="87.7" width="6.4" height="6.4" fill="#86ffbe"/>
<rect x="378.7" y="87.7" width="6.4" height="6.4" fill="#ccff66"/>
<rect x="68.7" y="93.8" width="18.5" height="6.4" fill="#3a5cf5"/>
<rect x="86.9" y="93.8" width="12.5" height="6.4" fill="#3aa2fa"/>
<rect x="99.1" y="93.8" width="12.5" height="6.4" fill="#00ffff"/>
<rect x="111.2" y="93.8" width="18.5" height="6.4" fill="#ffff00"/>
<rect x="129.5" y="93.8" width="12.5" height="6.4" fill="#ccff66"/>
<rect x="141.6" y="93.8" width="24.6" height="6.4" fill="#00ffff"/>
<rect x="251.1" y="93.8" width="30.7" height="6.4" fill="#3a5cf5"/>
<rect x="281.5" y="93.8" width="12.5" height="6.4" fill="#3aa2fa"/>
<rect x="293.6" y="93.8" width="12.5" height="6.4" fill="#00ffff"/>
<rect x="305.8" y="93.8" width="6.4" height="6.4" fill="#3aa2fa"/>
<rect x="311.9" y="93.8" width="42.9" height="6.4" fill="#3a5cf5"/>
<rect x="354.4" y="93.8" width="6.4" height="6.4" fill="#3aa2fa"/>
<rect x="360.5" y="93.8" width="6.4" height="6.4" fill="#00ffff"/>
<rect x="366.6" y="93.8" width="6.4" height="6.4" fill="#86ffbe"/>
<rect x="372.7" y="93.8" width="12.5" height="6.4" fill="#ccff66"/>
<rect x="68.7" y="99.9" width="18.5" height="6.4" fill="#3aa2fa"/>
<rect x="86.9" y="99.9" width="12.5" height="6.4" fill="#00ffff"/>
<rect x="99.1" y="99.9" width="12.5" height="6.4" fill="#86ffbe"/>
<rect x="111.2" y="99.9" width="18.5" height="6.4" fill="#ccff66"/>
<rect x="129.5" y="99.9" width="12.5" height="6.4" fill="#86ffbe"/>
<rect x="141.6" y="99.9" width="6.4" height="6.4" fill="#00ffff"/>
<rect x="147.7" y="99.9" width="24.6" height="6.4" fill="#3aa2fa"/>
<rect x="178.1" y="99.9" width="12.5" height="6.4" fill="#00ffff"/>
<rect x="190.3" y="99.9" width="12.5" height="6.4" fill="#3aa2fa"/>
<rect x="226.7" y="99.9" width="12.5" height="6.4" fill="#3aa2fa"/>
<rect x="245" y="99.9" width="12.5" height="6.4" fill="#3aa2fa"/>
<rect x="263.2" y="99.9" width="30.7" height="6.4" fill="#00ffff"/>
<rect x="293.6" y="99.9" width="12.5" height="6.4" fill="#86ffbe"/>
<rect x="305.8" y="99.9" width="48.9" height="6.4" fill="#3aa2fa"/>
<rect x="354.4" y="99.9" width="6.4" height="6.4" fill="#00ffff"/>
<rect x="360.5" y="99.9" width="6.4" height="6.4" fill="#86ffbe"/>
<rect x="366.6" y="99.9" width="12.5" height="6.4" fill="#ccff66"/>
<rect x="56.5" y="106" width="12.5" height="6.4" fill="#3aa2fa"/>
<rect x="68.7" y="106" width="12.5" height="6.4" fill="#00ffff"/>
<rect x="80.8" y="106" width="24.6" height="6.4" fill="#86ffbe"/>
<rect x="105.1" y="106" width="18.5" height="6.4" fill="#ccff66"/>
<rect x="123.4" y="106" width="6.4" height="6.4" fill="#ffff00"/>
<rect x="129.5" y="106" width="6.4" height="6.4" fill="#ccff66"/>
<rect x="135.5" y="106" width="6.4" height="6.4" fill="#86ffbe"/>
<rect x="147.7" y="106" width="30.7" height="6.4" fill="#3aa2fa"/>
<rect x="184.2" y="106" width="18.5" height="6.4" fill="#3a5cf5"/>
<rect x="226.7" y="106" width="24.6" height="6.4" fill="#00ffff"/>
<rect x="251.1" y="106" width="42.9" height="6.4" fill="#86ffbe"/>
<rect x="293.6" y="106" width="18.5" height="6.4" fill="#ccff66"/>
<rect x="311.9" y="106" width="6.4" height="6.4" fill="#86ffbe"/>
<rect x="317.9" y="106" width="18.5" height="6.4" fill="#00ffff"/>
<rect x="336.2" y="106" width="6.4" height="6.4" fill="#3aa2fa"/>
<rect x="342.3" y="106" width="6.4" height="6.4" fill="#3a5cf5"/>
<rect x="348.3" y="106" width="6.4" height="6.4" fill="#3aa2fa"/>
<rect x="354.4" y="106" width="12.5" height="6.4" fill="#00ffff"/>
<rect x="56.5" y="112" width="6.4" height="6.4" fill="#3aa2fa"/>
<rect x="62.6" y="112" width="6.4" height="6.4" fill="#00ffff"/>
<rect x="68.7" y="112" width="12.5" height="6.4" fill="#86ffbe"/>
<rect x="80.8" y="112" width="6.4" height="6.4" fill="#ccff66"/>
<rect x="86.9" y="112" width="12.5" height="6.4" fill="#86ffbe"/>
<rect x="105.1" y="112" width="12.5" height="6.4" fill="#86ffbe"/>
<rect x="135.5" y="112" width="6.4" height="6.4" fill="#00ffff"/>
<rect x="153.8" y="112" width="42.9" height="6.4" fill="#3aa2fa"/>
<rect x="208.5" y="112" width="6.4" height="6.4" fill="#0000ff"/>
<rect x="214.6" y="112" width="6.4" height="6.4" fill="#3a5cf5"/>
<rect x="226.7" y="112" width="12.5" height="6.4" fill="#86ffbe"/>
<rect x="238.9" y="112" width="6.4" height="6.4" fill="#00ffff"/>
<rect x="245" y="112" width="6.4" height="6.4" fill="#86ffbe"/>
<rect x="251.1" y="112" width="24.6" height="6.4" fill="#ccff66"/>
<rect x="275.4" y="112" width="24.6" height="6.4" fill="#ffff00"/>
<rect x="299.7" y="112" width="6.4" height="6.4" fill="#ffb400"/>
<rect x="305.8" y="112" width="6.4" height="6.4" fill="#ffff00"/>
<rect x="311.9" y="112" width="6.4" height="6.4" fill="#ccff66"/>
<rect x="317.9" y="112" width="6.4" height="6.4" fill="#86ffbe"/>
<rect x="324" y="112" width="6.4" height="6.4" fill="#00ffff"/>
<rect x="330.1" y="112" width="24.6" height="6.4" fill="#3aa2fa"/>
<rect x="26.1" y="118.1" width="6.4" height="6.4" fill="#86ffbe"/>
<rect x="38.3" y="118.1" width="6.4" height="6.4" fill="#86ffbe"/>
<rect x="44.3" y="118.1" width="6.4" height="6.4" fill="#ccff66"/>
<rect x="50.4" y="118.1" width="6.4" height="6.4" fill="#3aa2fa"/>
<rect x="56.5" y="118.1" width="6.4" height="6.4" fill="#00ffff"/>
<rect x="62.6" y="118.1" width="12.5" height="6.4" fill="#86ffbe"/>
<rect x="80.8" y="118.1" width="12.5" height="6.4" fill="#86ffbe"/>
<rect x="117.3" y="118.1" width="6.4" height="6.4" fill="#3aa2fa"/>
<rect x="147.7" y="118.1" width="12.5" height="6.4" fill="#3aa2fa"/>
<rect x="165.9" y="118.1" width="24.6" height="6.4" fill="#3a5cf5"/>
<rect x="190.3" y="118.1" width="6.4" height="6.4" fill="#3aa2fa"/>
<rect x="196.3" y="118.1" width="18.5" height="6.4" fill="#3a5cf5"/>
<rect x="220.7" y="118.1" width="6.4" height="6.4" fill="#3aa2fa"/>
<rect x="226.7" y="118.1" width="6.4" height="6.4" fill="#3a5cf5"/>
<rect x="232.8" y="118.1" width="18.5" height="6.4" fill="#0000ff"/>
<rect x="251.1" y="118.1" width="6.4" height="6.4" fill="#86ffbe"/>
<rect x="257.1" y="118.1" width="12.5" height="6.4" fill="#ccff66"/>
<rect x="269.3" y="118.1" width="6.4" height="6.4" fill="#ffff00"/>
<rect x="275.4" y="118.1" width="12.5" height="6.4" fill="#ffb400"/>
<rect x="287.5" y="118.1" width="18.5" height="6.4" fill="#ff6a00"/>
<rect x="305.8" y="118.1" width="18.5" height="6.4" fill="#ccff66"/>
<rect x="324" y="118.1" width="6.4" height="6.4" fill="#00ffff"/>
<rect x="330.1" y="118.1" width="6.4" height="6.4" fill="#3aa2fa"/>
<rect x="38.3" y="124.2" width="12.5" height="6.4" fill="#ccff66"/>
<rect x="50.4" y="124.2" width="6.4" height="6.4" fill="#ffff00"/>
<rect x="68.7" y="124.2" width="6.4" height="6.4" fill="#86ffbe"/>
<rect x="86.9" y="124.2" width="6.4" height="6.4" fill="#00ffff"/>
<rect x="93" y="124.2" width="6.4" height="6.4" fill="#3aa2fa"/>
<rect x="99.1" y="124.2" width="6.4" height="6.4" fill="#3a5cf5"/>
<rect x="111.2" y="124.2" width="12.5" height="6.4" fill="#0000ff"/>
<rect x="129.5" y="124.2" width="30.7" height="6.4" fill="#3a5cf5"/>
<rect x="178.1" y="124.2" width="24.6" height="6.4" fill="#3a5cf5"/>
<rect x="202.4" y="124.2" width="12.5" height="6.4" fill="#3aa2fa"/>
<rect x="220.7" y="124.2" width="6.4" height="6.4" fill="#00ffff"/>
<rect x="226.7" y="124.2" width="6.4" height="6.4" fill="#3aa2fa"/>
<rect x="232.8" y="124.2" width="18.5" height="6.4" fill="#3a5cf5"/>
<rect x="251.1" y="124.2" width="12.5" height="6.4" fill="#3aa2fa"/>
<rect x="263.2" y="124.2" width="6.4" height="6.4" fill="#00ffff"/>
<rect x="269.3" y="124.2" width="6.4" height="6.4" fill="#86ffbe"/>
<rect x="275.4" y="124.2" width="12.5" height="6.4" fill="#ccff66"/>
<rect x="287.5" y="124.2" width="12.5" height="6.4" fill="#ff6a00"/>
<rect x="38.3" y="130.3" width="6.4" height="6.4" fill="#ccff66"/>
<rect x="44.3" y="130.3" width="24.6" height="6.4" fill="#ffff00"/>
<rect x="68.7" y="130.3" width="12.5" height="6.4" fill="#ffb400"/>
<rect x="80.8" y="130.3" width="6.4" height="6.4" fill="#ffff00"/>
<rect x="93" y="130.3" width="6.4" height="6.4" fill="#86ffbe"/>
<rect x="117.3" y="130.3" width="6.4" height="6.4" fill="#3a5cf5"/>
<rect x="135.5" y="130.3" width="18.5" height="6.4" fill="#86ffbe"/>
<rect x="153.8" y="130.3" width="6.4" height="6.4" fill="#ccff66"/>
<rect x="159.9" y="130.3" width="12.5" height="6.4" fill="#86ffbe"/>
<rect x="172" y="130.3" width="12.5" height="6.4" fill="#00ffff"/>
<rect x="184.2" y="130.3" width="12.5" height="6.4" fill="#86ffbe"/>
<rect x="196.3" y="130.3" width="6.4" height="6.4" fill="#3a5cf5"/>
<rect x="202.4" y="130.3" width="6.4" height="6.4" fill="#3aa2fa"/>
<rect x="208.5" y="130.3" width="24.6" height="6.4" fill="#00ffff"/>
<rect x="232.8" y="130.3" width="18.5" height="6.4" fill="#3aa2fa"/>
<rect x="251.1" y="130.3" width="6.4" height="6.4" fill="#00ffff"/>
<rect x="257.1" y="130.3" width="12.5" height="6.4" fill="#86ffbe"/>
<rect x="269.3" y="130.3" width="6.4" height="6.4" fill="#ccff66"/>
<rect x="275.4" y="130.3" width="18.5" height="6.4" fill="#ffff00"/>
<rect x="293.6" y="130.3" width="24.6" height="6.4" fill="#ccff66"/>
<rect x="317.9" y="130.3" width="6.4" height="6.4" fill="#86ffbe"/>
<rect x="324" y="130.3" width="6.4" height="6.4" fill="#3a5cf5"/>
<rect x="38.3" y="136.4" width="6.4" height="6.4" fill="#ccff66"/>
<rect x="56.5" y="136.4" width="24.6" height="6.4" fill="#ffff00"/>
<rect x="86.9" y="136.4" width="6.4" height="6.4" fill="#86ffbe"/>
<rect x="135.5" y="136.4" width="12.5" height="6.4" fill="#00ffff"/>
<rect x="147.7" y="136.4" width="30.7" height="6.4" fill="#86ffbe"/>
<rect x="178.1" y="136.4" width="6.4" height="6.4" fill="#00ffff"/>
<rect x="184.2" y="136.4" width="12.5" height="6.4" fill="#86ffbe"/>
<rect x="196.3" y="136.4" width="12.5" height="6.4" fill="#ccff66"/>
<rect x="208.5" y="136.4" width="6.4" height="6.4" fill="#00ffff"/>
<rect x="214.6" y="136.4" width="6.4" height="6.4" fill="#3aa2fa"/>
<rect x="220.7" y="136.4" width="6.4" height="6.4" fill="#00ffff"/>
<rect x="226.7" y="136.4" width="6.4" height="6.4" fill="#3aa2fa"/>
<rect x="232.8" y="136.4" width="18.5" height="6.4" fill="#00ffff"/>
<rect x="251.1" y="136.4" width="6.4" height="6.4" fill="#86ffbe"/>
<rect x="257.1" y="136.4" width="12.5" height="6.4" fill="#ccff66"/>
<rect x="269.3" y="136.4" width="18.5" height="6.4" fill="#ffff00"/>
<rect x="287.5" y="136.4" width="36.8" height="6.4" fill="#ccff66"/>
<rect x="68.7" y="142.4" width="12.5" height="6.4" fill="#86ffbe"/>
<rect x="80.8" y="142.4" width="6.4" height="6.4" fill="#00ffff"/>
<rect x="99.1" y="142.4" width="6.4" height="6.4" fill="#3a5cf5"/>
<rect x="147.7" y="142.4" width="6.4" height="6.4" fill="#3aa2fa"/>
<rect x="153.8" y="142.4" width="6.4" height="6.4" fill="#00ffff"/>
<rect x="172" y="142.4" width="24.6" height="6.4" fill="#86ffbe"/>
<rect x="196.3" y="142.4" width="18.5" height="6.4" fill="#ccff66"/>
<rect x="214.6" y="142.4" width="12.5" height="6.4" fill="#3aa2fa"/>
<rect x="226.7" y="142.4" width="18.5" height="6.4" fill="#00ffff"/>
<rect x="245" y="142.4" width="6.4" height="6.4" fill="#86ffbe"/>
<rect x="251.1" y="142.4" width="6.4" height="6.4" fill="#ccff66"/>
<rect x="257.1" y="142.4" width="30.7" height="6.4" fill="#ffff00"/>
<rect x="287.5" y="142.4" width="18.5" height="6.4" fill="#ccff66"/>
<rect x="305.8" y="142.4" width="6.4" height="6.4" fill="#86ffbe"/>
<rect x="80.8" y="148.5" width="6.4" height="6.4" fill="#3a5cf5"/>
<rect x="123.4" y="148.5" width="6.4" height="6.4" fill="#3a5cf5"/>
<rect x="141.6" y="148.5" width="6.4" height="6.4" fill="#3aa2fa"/>
<rect x="159.9" y="148.5" width="6.4" height="6.4" fill="#00ffff"/>
<rect x="178.1" y="148.5" width="6.4" height="6.4" fill="#86ffbe"/>
<rect x="190.3" y="148.5" width="12.5" height="6.4" fill="#86ffbe"/>
<rect x="202.4" y="148.5" width="18.5" height="6.4" fill="#ccff66"/>
<rect x="220.7" y="148.5" width="12.5" height="6.4" fill="#3aa2fa"/>
<rect x="232.8" y="148.5" width="12.5" height="6.4" fill="#00ffff"/>
<rect x="245" y="148.5" width="6.4" height="6.4" fill="#86ffbe"/>
<rect x="251.1" y="148.5" width="6.4" height="6.4" fill="#ccff66"/>
<rect x="257.1" y="148.5" width="36.8" height="6.4" fill="#ffff00"/>
<rect x="293.6" y="148.5" width="12.5" height="6.4" fill="#ccff66"/>
<rect x="305.8" y="148.5" width="12.5" height="6.4" fill="#86ffbe"/>
<rect x="62.6" y="154.6" width="6.4" height="6.4" fill="#3aa2fa"/>
<rect x="141.6" y="154.6" width="6.4" height="6.4" fill="#3aa2fa"/>
<rect x="159.9" y="154.6" width="42.9" height="6.4" fill="#00ffff"/>
<rect x="202.4" y="154.6" width="18.5" height="6.4" fill="#86ffbe"/>
<rect x="220.7" y="154.6" width="6.4" height="6.4" fill="#ccff66"/>
<rect x="226.7" y="154.6" width="12.5" height="6.4" fill="#3aa2fa"/>
<rect x="238.9" y="154.6" width="6.4" height="6.4" fill="#00ffff"/>
<rect x="245" y="154.6" width="6.4" height="6.4" fill="#86ffbe"/>
<rect x="251.1" y="154.6" width="6.4" height="6.4" fill="#ccff66"/>
<rect x="257.1" y="154.6" width="12.5" height="6.4" fill="#ffff00"/>
<rect x="269.3" y="154.6" width="6.4" height="6.4" fill="#ffb400"/>
<rect x="275.4" y="154.6" width="24.6" height="6.4" fill="#ffff00"/>
<rect x="299.7" y="154.6" width="6.4" height="6.4" fill="#ccff66"/>
<rect x="305.8" y="154.6" width="12.5" height="6.4" fill="#86ffbe"/>
<rect x="68.7" y="160.7" width="6.4" height="6.4" fill="#3aa2fa"/>
<rect x="135.5" y="160.7" width="12.5" height="6.4" fill="#3aa2fa"/>
<rect x="159.9" y="160.7" width="6.4" height="6.4" fill="#00ffff"/>
<rect x="165.9" y="160.7" width="18.5" height="6.4" fill="#3aa2fa"/>
<rect x="190.3" y="160.7" width="12.5" height="6.4" fill="#3aa2fa"/>
<rect x="202.4" y="160.7" width="6.4" height="6.4" fill="#00ffff"/>
<rect x="208.5" y="160.7" width="6.4" height="6.4" fill="#86ffbe"/>
<rect x="214.6" y="160.7" width="6.4" height="6.4" fill="#00ffff"/>
<rect x="220.7" y="160.7" width="6.4" height="6.4" fill="#ccff66"/>
<rect x="226.7" y="160.7" width="12.5" height="6.4" fill="#3aa2fa"/>
<rect x="238.9" y="160.7" width="12.5" height="6.4" fill="#00ffff"/>
<rect x="251.1" y="160.7" width="6.4" height="6.4" fill="#86ffbe"/>
<rect x="257.1" y="160.7" width="6.4" height="6.4" fill="#ccff66"/>
<rect x="263.2" y="160.7" width="18.5" height="6.4" fill="#ffff00"/>
<rect x="281.5" y="160.7" width="18.5" height="6.4" fill="#ffb400"/>
<rect x="299.7" y="160.7" width="6.4" height="6.4" fill="#ffff00"/>
<rect x="305.8" y="160.7" width="6.4" height="6.4" fill="#ccff66"/>
<rect x="311.9" y="160.7" width="12.5" height="6.4" fill="#86ffbe"/>
<rect x="56.5" y="166.7" width="6.4" height="6.4" fill="#3aa2fa"/>
<rect x="111.2" y="166.7" width="6.4" height="6.4" fill="#3a5cf5"/>
<rect x="123.4" y="166.7" width="6.4" height="6.4" fill="#3a5cf5"/>
<rect x="129.5" y="166.7" width="6.4" height="6.4" fill="#3aa2fa"/>
<rect x="135.5" y="166.7" width="18.5" height="6.4" fill="#3a5cf5"/>
<rect x="159.9" y="166.7" width="6.4" height="6.4" fill="#3a5cf5"/>
<rect x="165.9" y="166.7" width="12.5" height="6.4" fill="#0000ff"/>
<rect x="178.1" y="166.7" width="24.6" height="6.4" fill="#3a5cf5"/>
<rect x="202.4" y="166.7" width="6.4" height="6.4" fill="#3aa2fa"/>
<rect x="208.5" y="166.7" width="12.5" height="6.4" fill="#86ffbe"/>
<rect x="220.7" y="166.7" width="12.5" height="6.4" fill="#ccff66"/>
<rect x="232.8" y="166.7" width="12.5" height="6.4" fill="#3aa2fa"/>
<rect x="245" y="166.7" width="12.5" height="6.4" fill="#00ffff"/>
<rect x="257.1" y="166.7" width="6.4" height="6.4" fill="#86ffbe"/>
<rect x="263.2" y="166.7" width="6.4" height="6.4" fill="#ffff00"/>
<rect x="269.3" y="166.7" width="24.6" height="6.4" fill="#ffb400"/>
<rect x="293.6" y="166.7" width="12.5" height="6.4" fill="#ffff00"/>
<rect x="305.8" y="166.7" width="12.5" height="6.4" fill="#ccff66"/>
<rect x="317.9" y="166.7" width="6.4" height="6.4" fill="#86ffbe"/>
<rect x="68.7" y="172.8" width="6.4" height="6.4" fill="#00ffff"/>
<rect x="74.7" y="172.8" width="6.4" height="6.4" fill="#3aa2fa"/>
<rect x="117.3" y="172.8" width="6.4" height="6.4" fill="#3a5cf5"/>
<rect x="129.5" y="172.8" width="12.5" height="6.4" fill="#3a5cf5"/>
<rect x="147.7" y="172.8" width="6.4" height="6.4" fill="#3a5cf5"/>
<rect x="153.8" y="172.8" width="6.4" height="6.4" fill="#3aa2fa"/>
<rect x="159.9" y="172.8" width="6.4" height="6.4" fill="#3a5cf5"/>
<rect x="165.9" y="172.8" width="30.7" height="6.4" fill="#0000ff"/>
<rect x="196.3" y="172.8" width="6.4" height="6.4" fill="#3a5cf5"/>
<rect x="202.4" y="172.8" width="6.4" height="6.4" fill="#00ffff"/>
<rect x="208.5" y="172.8" width="6.4" height="6.4" fill="#86ffbe"/>
<rect x="214.6" y="172.8" width="18.5" height="6.4" fill="#ccff66"/>
<rect x="232.8" y="172.8" width="18.5" height="6.4" fill="#3a5cf5"/>
<rect x="251.1" y="172.8" width="6.4" height="6.4" fill="#00ffff"/>
<rect x="257.1" y="172.8" width="6.4" height="6.4" fill="#86ffbe"/>
<rect x="263.2" y="172.8" width="6.4" height="6.4" fill="#ccff66"/>
<rect x="269.3" y="172.8" width="6.4" height="6.4" fill="#ffff00"/>
<rect x="275.4" y="172.8" width="12.5" height="6.4" fill="#ffb400"/>
<rect x="287.5" y="172.8" width="24.6" height="6.4" fill="#ffff00"/>
<rect x="311.9" y="172.8" width="12.5" height="6.4" fill="#ccff66"/>
<rect x="111.2" y="178.9" width="18.5" height="6.4" fill="#3aa2fa"/>
<rect x="129.5" y="178.9" width="6.4" height="6.4" fill="#3a5cf5"/>
<rect x="135.5" y="178.9" width="18.5" height="6.4" fill="#3aa2fa"/>
<rect x="153.8" y="178.9" width="12.5" height="6.4" fill="#3a5cf5"/>
<rect x="172" y="178.9" width="24.6" height="6.4" fill="#0000ff"/>
<rect x="196.3" y="178.9" width="6.4" height="6.4" fill="#3aa2fa"/>
<rect x="202.4" y="178.9" width="6.4" height="6.4" fill="#86ffbe"/>
<rect x="208.5" y="178.9" width="18.5" height="6.4" fill="#ccff66"/>
<rect x="226.7" y="178.9" width="12.5" height="6.4" fill="#86ffbe"/>
<rect x="238.9" y="178.9" width="12.5" height="6.4" fill="#3a5cf5"/>
<rect x="251.1" y="178.9" width="6.4" height="6.4" fill="#3aa2fa"/>
<rect x="257.1" y="178.9" width="6.4" height="6.4" fill="#00ffff"/>
<rect x="263.2" y="178.9" width="6.4" height="6.4" fill="#ccff66"/>
<rect x="269.3" y="178.9" width="36.8" height="6.4" fill="#ffff00"/>
<rect x="305.8" y="178.9" width="12.5" height="6.4" fill="#ccff66"/>
<rect x="317.9" y="178.9" width="6.4" height="6.4" fill="#ff6a00"/>
<rect x="93" y="185" width="12.5" height="6.4" fill="#3aa2fa"/>
<rect x="111.2" y="185" width="6.4" height="6.4" fill="#3aa2fa"/>
<rect x="117.3" y="185" width="30.7" height="6.4" fill="#00ffff"/>
<rect x="153.8" y="185" width="18.5" height="6.4" fill="#00ffff"/>
<rect x="172" y="185" width="6.4" height="6.4" fill="#3a5cf5"/>
<rect x="178.1" y="185" width="6.4" height="6.4" fill="#3aa2fa"/>
<rect x="184.2" y="185" width="6.4" height="6.4" fill="#00ffff"/>
<rect x="190.3" y="185" width="12.5" height="6.4" fill="#86ffbe"/>
<rect x="202.4" y="185" width="12.5" height="6.4" fill="#ccff66"/>
<rect x="214.6" y="185" width="18.5" height="6.4" fill="#86ffbe"/>
<rect x="232.8" y="185" width="12.5" height="6.4" fill="#00ffff"/>
<rect x="245" y="185" width="12.5" height="6.4" fill="#3a5cf5"/>
<rect x="257.1" y="185" width="6.4" height="6.4" fill="#00ffff"/>
<rect x="263.2" y="185" width="6.4" height="6.4" fill="#86ffbe"/>
<rect x="269.3" y="185" width="24.6" height="6.4" fill="#ffff00"/>
<rect x="293.6" y="185" width="6.4" height="6.4" fill="#ccff66"/>
<rect x="299.7" y="185" width="24.6" height="6.4" fill="#ff6a00"/>
<rect x="123.4" y="191.1" width="6.4" height="6.4" fill="#00ffff"/>
<rect x="141.6" y="191.1" width="12.5" height="6.4" fill="#86ffbe"/>
<rect x="153.8" y="191.1" width="24.6" height="6.4" fill="#ccff66"/>
<rect x="178.1" y="191.1" width="6.4" height="6.4" fill="#00ffff"/>
<rect x="184.2" y="191.1" width="6.4" height="6.4" fill="#86ffbe"/>
<rect x="190.3" y="191.1" width="6.4" height="6.4" fill="#ccff66"/>
<rect x="196.3" y="191.1" width="12.5" height="6.4" fill="#ffff00"/>
<rect x="208.5" y="191.1" width="6.4" height="6.4" fill="#ccff66"/>
<rect x="214.6" y="191.1" width="12.5" height="6.4" fill="#86ffbe"/>
<rect x="226.7" y="191.1" width="12.5" height="6.4" fill="#00ffff"/>
<rect x="238.9" y="191.1" width="6.4" height="6.4" fill="#3aa2fa"/>
<rect x="245" y="191.1" width="6.4" height="6.4" fill="#86ffbe"/>
<rect x="251.1" y="191.1" width="6.4" height="6.4" fill="#3a5cf5"/>
<rect x="257.1" y="191.1" width="6.4" height="6.4" fill="#3aa2fa"/>
<rect x="263.2" y="191.1" width="6.4" height="6.4" fill="#86ffbe"/>
<rect x="269.3" y="191.1" width="12.5" height="6.4" fill="#ccff66"/>
<rect x="281.5" y="191.1" width="36.8" height="6.4" fill="#ff6a00"/>
<rect x="178.1" y="197.1" width="12.5" height="6.4" fill="#86ffbe"/>
<rect x="190.3" y="197.1" width="6.4" height="6.4" fill="#ccff66"/>
<rect x="196.3" y="197.1" width="12.5" height="6.4" fill="#ffff00"/>
<rect x="208.5" y="197.1" width="6.4" height="6.4" fill="#86ffbe"/>
<rect x="214.6" y="197.1" width="36.8" height="6.4" fill="#00ffff"/>
<rect x="251.1" y="197.1" width="6.4" height="6.4" fill="#86ffbe"/>
<rect x="257.1" y="197.1" width="6.4" height="6.4" fill="#ccff66"/>
<rect x="263.2" y="197.1" width="6.4" height="6.4" fill="#ffff00"/>
<rect x="269.3" y="197.1" width="18.5" height="6.4" fill="#ffb400"/>
<rect x="287.5" y="197.1" width="12.5" height="6.4" fill="#ff6a00"/>
<rect x="299.7" y="197.1" width="18.5" height="6.4" fill="#ffb400"/>
<rect x="178.1" y="203.2" width="12.5" height="6.4" fill="#00ffff"/>
<rect x="190.3" y="203.2" width="18.5" height="6.4" fill="#ccff66"/>
<rect x="208.5" y="203.2" width="6.4" height="6.4" fill="#86ffbe"/>
<rect x="214.6" y="203.2" width="12.5" height="6.4" fill="#3aa2fa"/>
<rect x="226.7" y="203.2" width="6.4" height="6.4" fill="#00ffff"/>
<rect x="232.8" y="203.2" width="18.5" height="6.4" fill="#86ffbe"/>
<rect x="251.1" y="203.2" width="12.5" height="6.4" fill="#ccff66"/>
<rect x="263.2" y="203.2" width="12.5" height="6.4" fill="#ffff00"/>
<rect x="275.4" y="203.2" width="18.5" height="6.4" fill="#ffb400"/>
<rect x="293.6" y="203.2" width="6.4" height="6.4" fill="#ff6a00"/>
<rect x="299.7" y="203.2" width="6.4" height="6.4" fill="#ffb400"/>
<rect x="305.8" y="203.2" width="6.4" height="6.4" fill="#ffff00"/>
<rect x="172" y="209.3" width="6.4" height="6.4" fill="#00ffff"/>
<rect x="178.1" y="209.3" width="6.4" height="6.4" fill="#3aa2fa"/>
<rect x="184.2" y="209.3" width="6.4" height="6.4" fill="#00ffff"/>
<rect x="190.3" y="209.3" width="6.4" height="6.4" fill="#ccff66"/>
<rect x="196.3" y="209.3" width="12.5" height="6.4" fill="#86ffbe"/>
<rect x="208.5" y="209.3" width="12.5" height="6.4" fill="#00ffff"/>
<rect x="220.7" y="209.3" width="6.4" height="6.4" fill="#3aa2fa"/>
<rect x="226.7" y="209.3" width="12.5" height="6.4" fill="#86ffbe"/>
<rect x="238.9" y="209.3" width="12.5" height="6.4" fill="#ccff66"/>
<rect x="251.1" y="209.3" width="36.8" height="6.4" fill="#ffff00"/>
<rect x="287.5" y="209.3" width="6.4" height="6.4" fill="#ffb400"/>
<rect x="293.6" y="209.3" width="6.4" height="6.4" fill="#ff6a00"/>
<rect x="299.7" y="209.3" width="12.5" height="6.4" fill="#ffb400"/>
<rect x="311.9" y="209.3" width="12.5" height="6.4" fill="#ffff00"/>
<rect x="184.2" y="215.4" width="12.5" height="6.4" fill="#86ffbe"/>
<rect x="196.3" y="215.4" width="12.5" height="6.4" fill="#00ffff"/>
<rect x="208.5" y="215.4" width="18.5" height="6.4" fill="#3aa2fa"/>
<rect x="226.7" y="215.4" width="6.4" height="6.4" fill="#00ffff"/>
<rect x="232.8" y="215.4" width="6.4" height="6.4" fill="#86ffbe"/>
<rect x="238.9" y="215.4" width="6.4" height="6.4" fill="#ccff66"/>
<rect x="245" y="215.4" width="42.9" height="6.4" fill="#ffff00"/>
<rect x="287.5" y="215.4" width="12.5" height="6.4" fill="#ffb400"/>
<rect x="311.9" y="215.4" width="6.4" height="6.4" fill="#ff6a00"/>
<rect x="317.9" y="215.4" width="6.4" height="6.4" fill="#ffb400"/>
<rect x="184.2" y="221.4" width="6.4" height="6.4" fill="#ccff66"/>
<rect x="190.3" y="221.4" width="12.5" height="6.4" fill="#86ffbe"/>
<rect x="202.4" y="221.4" width="24.6" height="6.4" fill="#3aa2fa"/>
<rect x="226.7" y="221.4" width="6.4" height="6.4" fill="#00ffff"/>
<rect x="232.8" y="221.4" width="6.4" height="6.4" fill="#86ffbe"/>
<rect x="238.9" y="221.4" width="12.5" height="6.4" fill="#ccff66"/>
<rect x="251.1" y="221.4" width="12.5" height="6.4" fill="#ffff00"/>
<rect x="263.2" y="221.4" width="12.5" height="6.4" fill="#ffb400"/>
<rect x="275.4" y="221.4" width="6.4" height="6.4" fill="#ffff00"/>
<rect x="281.5" y="221.4" width="6.4" height="6.4" fill="#ffb400"/>
<rect x="311.9" y="221.4" width="12.5" height="6.4" fill="#ff6a00"/>
<rect x="190.3" y="227.5" width="6.4" height="6.4" fill="#86ffbe"/>
<rect x="196.3" y="227.5" width="6.4" height="6.4" fill="#00ffff"/>
<rect x="232.8" y="227.5" width="6.4" height="6.4" fill="#00ffff"/>
<rect x="238.9" y="227.5" width="6.4" height="6.4" fill="#86ffbe"/>
<rect x="245" y="227.5" width="6.4" height="6.4" fill="#ccff66"/>
<rect x="251.1" y="227.5" width="6.4" height="6.4" fill="#ffff00"/>
<rect x="257.1" y="227.5" width="6.4" height="6.4" fill="#ffb400"/>
<rect x="245" y="233.6" width="12.5" height="6.4" fill="#ffff00"/>
<rect x="238.9" y="239.7" width="6.4" height="6.4" fill="#86ffbe"/>
<rect x="245" y="239.7" width="12.5" height="6.4" fill="#ccff66"/>
<rect x="238.9" y="245.8" width="6.4" height="6.4" fill="#86ffbe"/>
<rect x="245" y="245.8" width="6.4" height="6.4" fill="#00ffff"/>
<rect x="251.1" y="245.8" width="6.4" height="6.4" fill="#86ffbe"/>
<path d="M26.1 33V264M32.2 33V264M38.3 33V264M44.3 33V264M50.4 33V264M56.5 33V264M62.6 33V264M68.7 33V264M74.7 33V264M80.8 33V264M86.9 33V264M93 33V264M99.1 33V264M105.1 33V264M111.2 33V264M117.3 33V264M123.4 33V264M129.5 33V264M135.5 33V264M141.6 33V264M147.7 33V264M153.8 33V264M159.9 33V264M165.9 33V264M172 33V264M178.1 33V264M184.2 33V264M190.3 33V264M196.3 33V264M202.4 33V264M208.5 33V264M214.6 33V264M220.7 33V264M226.7 33V264M232.8 33V264M238.9 33V264M245 33V264M251.1 33V264M257.1 33V264M263.2 33V264M269.3 33V264M275.4 33V264M281.5 33V264M287.5 33V264M293.6 33V264M299.7 33V264M305.8 33V264M311.9 33V264M317.9 33V264M324 33V264M330.1 33V264M336.2 33V264M342.3 33V264M348.3 33V264M354.4 33V264M360.5 33V264M366.6 33V264M372.7 33V264M378.7 33V264M384.8 33V264M390.9 33V264M397 33V264M403.1 33V264M409.1 33V264M415.2 33V264M26.1 264H415.2M26.1 257.9H415.2M26.1 251.8H415.2M26.1 245.8H415.2M26.1 239.7H415.2M26.1 233.6H415.2M26.1 227.5H415.2M26.1 221.4H415.2M26.1 215.4H415.2M26.1 209.3H415.2M26.1 203.2H415.2M26.1 197.1H415.2M26.1 191.1H415.2M26.1 185H415.2M26.1 178.9H415.2M26.1 172.8H415.2M26.1 166.7H415.2M26.1 160.7H415.2M26.1 154.6H415.2M26.1 148.5H415.2M26.1 142.4H415.2M26.1 136.4H415.2M26.1 130.3H415.2M26.1 124.2H415.2M26.1 118.1H415.2M26.1 112H415.2M26.1 106H415.2M26.1 99.9H415.2M26.1 93.8H415.2M26.1 87.7H415.2M26.1 81.7H415.2M26.1 75.6H415.2M26.1 69.5H415.2M26.1 63.4H415.2M26.1 57.3H415.2M26.1 51.3H415.2M26.1 45.2H415.2M26.1 39.1H415.2M26.1 33H415.2" stroke="#444" stroke-opacity="0.6" stroke-width="0.5" fill="none"/>
</g>
<polygon points="29,122.4 31,119.7 33,117.7 37.7,115.7 41.1,114.3 43.1,115.7 47.1,113 51.8,111.7 56.5,110.3 65.2,107 70.5,104.3 69.9,100.9 72.5,96.9 70.5,91.6 68.5,88.2 74.5,86.9 81.2,85.5 83.9,80.9 86.6,74.2 91.9,74.8 100,74.8 102.7,72.8 103.3,68.8 108.7,66.8 110.7,62.8 116,62.4 117.4,65.5 121.4,68.1 128.1,69.5 132.1,71.5 135.5,75.5 135.9,80.2 134.8,84.9 138.8,86.9 146.8,87.6 153,88.6 157,91.6 161.7,92.9 163.7,94.9 166.4,99.6 171.7,101.3 177.1,100.9 183.8,102.6 193.2,101.3 201.2,103 206.6,105 211.9,107 218.6,107.4 225.3,105.6 233.3,103.6 241.4,103 249.4,102.6 254.8,100.3 258.8,96.9 262.8,94.9 260.1,91.6 261.4,88.2 264.8,86.9 269.5,88.6 274.8,87.6 278.9,85.5 281,85.5 286.4,82.9 294.4,78.9 302.4,77.5 309.8,77.1 311.1,74.8 307.1,71.5 301.1,69.5 293.7,70.4 287,71.5 285,69.5 287,64.8 290.4,60.1 293.7,58.1 298.4,60.1 305.1,57.8 307.8,54.1 311.8,48.7 316.5,45.4 317.1,42 312.5,40.7 315.8,38 323.8,36.4 334.6,35.3 342.6,37.3 347.9,39.4 350.6,44.7 354,50.1 357.3,55.4 358.7,59.4 366.7,60.8 374.7,64.1 377.4,67.5 379.4,70.8 386.8,69.5 394.8,68.1 403.1,66.5 400.8,70.8 397.5,75.5 394.8,80.2 391.5,85.5 386.8,86.9 380.1,87.6 380.7,92.9 379.4,98.3 375.4,100.9 376.1,103 372,101.6 366.7,105 361.3,108.3 354,107.7 350.2,111.4 346.2,114.4 342.2,116.7 338.2,119.4 334.2,119.7 330.2,121.4 327.5,122.8 324.1,124.1 321.5,125.1 318.8,125.4 319.8,124.1 319.5,121.4 321.5,119.4 323.5,117.7 325.1,115.4 324.1,113.7 322.1,112.4 319.1,113.1 316.8,115.1 314.8,116.7 311.4,118.4 308.1,120.1 306.1,121.8 303.4,123.4 300,123.8 298.4,125.1 297.4,126.8 298.7,128.4 300.7,129.1 304.4,129.5 306.4,130.8 307.1,132.1 305.7,133.5 306.1,134.8 309.4,135.8 312.1,134.5 314.8,132.1 316.8,129.5 318.8,132 321.5,133 324.8,133.3 328.2,134.1 327.8,135.8 325.5,137.5 322.1,138.5 319.5,139.5 316.8,140.8 313.4,142.8 310.1,146.2 307.7,148.9 310.1,151.5 312.8,153.5 314.8,156 315.1,156 317.1,160.1 319.8,164.1 323.2,166.8 324.1,170.1 323.8,173 322.6,174 320.5,174.9 319.9,176.1 320.9,177.4 322.6,178.2 324.3,178 326.8,176.7 329.3,174.4 327.2,179 325.1,180.9 324.3,183.4 322.6,185.1 322,187.2 321.8,189.3 319.7,191 317.6,193.1 315.5,195.6 313.8,197.7 311.7,200 309.8,202.9 310.5,206.2 307.8,208.3 303.8,210.9 299.7,212.9 295.7,216.3 291.7,219.6 289,222.3 285,223 281,223.4 277.5,225 273.5,225.7 269.5,227.7 264.1,229 266,229.1 264.2,229.5 261.1,230.2 258,231.1 256.1,232 254.2,233 252.9,234.2 253.9,235.8 254.5,237.7 252.6,238.8 250.7,238.3 249.5,236.7 249,235.2 249.2,233 249.5,231.4 248.6,230.2 246,231.4 245.1,230.6 242.3,230.3 239.1,230.2 236,229.7 232,227.7 230.7,225 226,223 222.6,219.9 217.3,222.3 213.2,223 209.2,224.3 205.2,223.7 201.9,226.3 200.5,232.4 199.9,227.7 197.9,226.3 196.5,229.7 193.2,230.3 189.8,227.7 185.8,224.3 184.5,219 181.1,215 177.1,215 175.8,211.6 177.8,208.3 180.4,204.9 183.1,200.9 182.5,195.5 179.8,190.9 176.4,188.8 171.7,192.2 166.4,190.9 161,192.2 155.7,194.2 153,196.6 148.2,197.5 142.8,196.9 140.1,192.9 136.1,191.3 130.8,190.9 125.4,192.2 123.4,195.3 122.1,192.9 118.7,191.5 112,191.3 105.3,191.5 100.6,188.8 96,186.2 91.9,184.8 89.3,182.1 83.9,179.5 79.9,176.8 76.5,178.8 74.5,177.5 69.2,174.8 65.8,172.8 61.8,170.8 59.1,166.1 60.5,162.1 63.8,158.7 63.2,154 61.1,150 56.5,147.3 53.8,146 48.4,143.1 45.8,141.1 43.7,137.8 38.4,136.8 35,136 38.4,133.1 37.7,127.7 34.4,126.4 31,125" fill="none" stroke="#555" stroke-width="0.8" stroke-linejoin="round"/>
<polygon points="249.5,240.2 252.3,239.9 254.8,239.4 256.7,240.5 257.3,241.5 256.1,243.3 254.8,245.2 254.5,247.1 252.3,248.7 250.1,249.9 248.6,250.9 246.4,250.2 243.5,249.3 242.6,247.1 242.6,244.6 244.2,242.7 246.4,241.1" fill="none" stroke="#555" stroke-width="0.8" stroke-linejoin="round"/>
<polygon points="321.8,207.9 323.8,208.9 323.6,212.3 321.8,217 320.5,221 318.5,224.3 316.5,227.9 314.5,225 312.9,221 313.1,217 315.1,213.6 317.8,210.3 319.8,208.5" fill="none" stroke="#555" stroke-width="0.8" stroke-linejoin="round"/>
<path d="M319.1 234.4L323.5 230.0M308.4 252.0L311.6 246.3M306.3 264.5L306.3 270.2M303.4 295.3L305.9 289.3M285.2 317.9L289.2 312.9M262.0 341.1L268.3 339.0M240.3 318.5L240.3 325.2M251.3 293.4L253.6 287.1M247.3 263.7L250.7 269.6M327.2 218.3L328.9 212.3M333.2 204.9L334.8 203.3" stroke="#222" stroke-width="0.7" fill="none"/>
<path d="M291.8 236.0h1.8M297.9 269.2h1.0M291.7 262.3h0.8M320.6 227.0h1.2M265.2 327.3h1.2M260.2 262.0h0.9M264.7 258.9h0.9M259.7 257.6h0.9M265.9 263.9h0.9M257.8 265.2h0.9M262.1 260.3h0.9M267.1 260.5h0.9M279.7 298.7h0.8M273.5 304.5h0.6M273.2 304.3h0.5M282.6 297.1h0.5M282.3 305.5h0.5M277.1 304.6h0.9M286.0 299.8h0.9M272.9 308.2h0.6M275.3 299.4h0.6M292.0 295.9h0.7M287.6 299.2h0.7M273.3 299.3h0.6M288.7 299.5h0.6M286.3 300.4h0.6M291.6 301.8h0.6M285.9 301.2h0.9M289.8 297.7h0.9M274.6 302.9h0.8M275.5 303.5h0.5M288.3 303.3h0.7M293.5 297.0h0.8M286.5 301.7h0.7M292.7 304.2h0.7M288.2 295.6h0.8M287.8 305.9h0.8M278.7 301.5h0.8M272.3 304.0h0.6M274.5 299.0h0.8M274.9 301.0h0.7M293.4 294.5h0.7M285.3 305.3h0.8M293.3 296.7h0.7M280.5 306.5h0.9M275.5 300.0h0.6M256.6 315.7h0.7M257.6 312.5h0.7M261.1 314.9h0.9M272.1 311.5h0.7M271.6 308.9h0.9M275.1 312.8h0.8M262.1 313.7h0.5M270.3 309.3h0.5M255.8 314.0h0.6M250.5 314.5h0.6M252.2 316.2h0.5M278.4 310.4h0.6M257.3 314.7h0.6M252.7 318.9h0.9M264.6 313.5h0.5M252.2 316.1h0.6M276.9 308.1h0.5M281.1 309.1h0.6M267.1 310.0h0.7M281.9 310.9h0.8M257.6 314.7h0.6M274.8 310.8h0.8M326.0 174.2h1.0M327.7 175.5h1.0M326.9 177.8h1.0M325.4 179.6h1.0M326.3 182.0h1.0M324.1 184.5h1.0M323.4 187.2h1.0M322.0 189.0h1.0M317.0 197.5h1.0M315.3 199.8h1.0M311.9 204.3h1.0" stroke="#333" stroke-width="0.8" stroke-linecap="round" fill="none"/>
<path d="M308.2 217.6L308.9 220.6" stroke="#222" stroke-width="1" fill="none"/>
<ellipse cx="277.4" cy="265.4" rx="3.5" ry="1.6" transform="rotate(-25 277.4 265.4)" fill="none" stroke="#333" stroke-width="0.5"/>
<text x="32.5" y="226.1" class="t" font-size="11.3">XCO<tspan font-size="7.4" dy="1.9">2ano</tspan><tspan dy="-1.9">(ppm)</tspan></text>
<rect x="27" y="234.2" width="28.4" height="14" fill="#0000ff" stroke="#aaa" stroke-width="0.4"/>
<rect x="130.1" y="234.2" width="28.2" height="14" fill="#ccff66" stroke="#aaa" stroke-width="0.4"/>
<text x="60.4" y="245.7" class="t" font-size="11"><tspan fill="#222">−</tspan>1.55 <tspan fill="#222">−</tspan> <tspan fill="#222">−</tspan>0.57</text>
<text x="163.3" y="245.7" class="t" font-size="11">0.73 <tspan fill="#222">−</tspan> 1.08</text>
<rect x="27" y="253.2" width="28.4" height="14" fill="#3a5cf5" stroke="#aaa" stroke-width="0.4"/>
<rect x="130.1" y="253.2" width="28.2" height="14" fill="#ffff00" stroke="#aaa" stroke-width="0.4"/>
<text x="60.4" y="264.8" class="t" font-size="11"><tspan fill="#222">−</tspan>0.56 <tspan fill="#222">−</tspan> <tspan fill="#222">−</tspan>0.16</text>
<text x="163.3" y="264.8" class="t" font-size="11">1.09 <tspan fill="#222">−</tspan> 1.46</text>
<rect x="27" y="272.3" width="28.4" height="14" fill="#3aa2fa" stroke="#aaa" stroke-width="0.4"/>
<rect x="130.1" y="272.3" width="28.2" height="14" fill="#ffb400" stroke="#aaa" stroke-width="0.4"/>
<text x="60.4" y="283.8" class="t" font-size="11"><tspan fill="#222">−</tspan>0.15 <tspan fill="#222">−</tspan> 0.14</text>
<text x="163.3" y="283.8" class="t" font-size="11">1.47 <tspan fill="#222">−</tspan> 1.85</text>
<rect x="27" y="291.4" width="28.4" height="14" fill="#00ffff" stroke="#aaa" stroke-width="0.4"/>
<rect x="130.1" y="291.4" width="28.2" height="14" fill="#ff6a00" stroke="#aaa" stroke-width="0.4"/>
<text x="60.4" y="302.9" class="t" font-size="11">0.15 <tspan fill="#222">−</tspan> 0.41</text>
<text x="163.3" y="302.9" class="t" font-size="11">1.86 <tspan fill="#222">−</tspan> 2.28</text>
<rect x="27" y="310.4" width="28.4" height="14" fill="#86ffbe" stroke="#aaa" stroke-width="0.4"/>
<rect x="130.1" y="310.4" width="28.2" height="14" fill="#ff0000" stroke="#aaa" stroke-width="0.4"/>
<text x="60.4" y="321.9" class="t" font-size="11">0.42 <tspan fill="#222">−</tspan> 0.72</text>
<text x="163.3" y="321.9" class="t" font-size="11">2.29 <tspan fill="#222">−</tspan> 3.24</text>
<rect x="24.6" y="330.4" width="18.2" height="9.3" fill="#fff" stroke="#888" stroke-width="0.5"/>
<text x="46.6" y="338.5" class="t" font-size="11">National boundaries</text>
<path clip-path="url(#lg)" d="M135 340l10 -10M137.9 340l10 -10M140.8 340l10 -10M143.7 340l10 -10M146.6 340l10 -10M149.5 340l10 -10M152.4 340l10 -10M155.3 340l10 -10M158.2 340l10 -10M161.1 340l10 -10" stroke="#404040" stroke-width="0.5" fill="none"/>
<rect x="144.7" y="329.8" width="18" height="9.4" fill="none" stroke="#aaa" stroke-width="0.4"/>
<text x="167" y="338.2" class="t" font-size="11">Background area</text>
<rect x="292.2" y="339.8" width="83.4" height="4" fill="#fff" stroke="#000" stroke-width="0.5"/>
<rect x="292.2" y="339.6" width="41.7" height="4.4" fill="#000"/>
<text x="292.2" y="335" class="t" font-size="9.6" text-anchor="middle">0</text>
<text x="334" y="335" class="t" font-size="9.6" text-anchor="middle">750</text>
<text x="365.6" y="335" class="t" font-size="9.6">1500 km</text>
<text x="403.9" y="32" font-family="'Liberation Sans',sans-serif" font-weight="bold" font-size="5.2" text-anchor="middle" fill="#000">N</text>
<path d="M403.8 33.9L399 49L403.9 44.2Z" fill="#000"/><path d="M403.8 33.9L408.2 48.6L403.9 44.2Z" fill="#fff" stroke="#000" stroke-width="0.5"/>
<rect x="20.9" y="22.5" width="396" height="328.9" fill="none" stroke="#3c3c3c" stroke-width="1.4"/>
<text x="71.5" y="18.9" class="t" font-size="10" text-anchor="middle">80°E</text>
<text x="71.5" y="363.8" class="t" font-size="10" text-anchor="middle">80°E</text>
<text x="132.3" y="18.9" class="t" font-size="10" text-anchor="middle">90°E</text>
<text x="132.3" y="363.8" class="t" font-size="10" text-anchor="middle">90°E</text>
<text x="193.1" y="18.9" class="t" font-size="10" text-anchor="middle">100°E</text>
<text x="193.1" y="363.8" class="t" font-size="10" text-anchor="middle">100°E</text>
<text x="253.9" y="18.9" class="t" font-size="10" text-anchor="middle">110°E</text>
<text x="253.9" y="363.8" class="t" font-size="10" text-anchor="middle">110°E</text>
<text x="314.7" y="18.9" class="t" font-size="10" text-anchor="middle">120°E</text>
<text x="314.7" y="363.8" class="t" font-size="10" text-anchor="middle">120°E</text>
<text x="375.5" y="18.9" class="t" font-size="10" text-anchor="middle">130°E</text>
<text x="375.5" y="363.8" class="t" font-size="10" text-anchor="middle">130°E</text>
<text transform="translate(17.8 305.8) rotate(-90)" class="t" font-size="10" text-anchor="middle">10°N</text>
<text transform="translate(429.6 305.8) rotate(-90)" class="t" font-size="10" text-anchor="middle">10°N</text>
<text transform="translate(17.8 245) rotate(-90)" class="t" font-size="10" text-anchor="middle">20°N</text>
<text transform="translate(429.6 245) rotate(-90)" class="t" font-size="10" text-anchor="middle">20°N</text>
<text transform="translate(17.8 184.2) rotate(-90)" class="t" font-size="10" text-anchor="middle">30°N</text>
<text transform="translate(429.6 184.2) rotate(-90)" class="t" font-size="10" text-anchor="middle">30°N</text>
<text transform="translate(17.8 123.5) rotate(-90)" class="t" font-size="10" text-anchor="middle">40°N</text>
<text transform="translate(429.6 123.5) rotate(-90)" class="t" font-size="10" text-anchor="middle">40°N</text>
<text transform="translate(17.8 62.7) rotate(-90)" class="t" font-size="10" text-anchor="middle">50°N</text>
<text transform="translate(429.6 62.7) rotate(-90)" class="t" font-size="10" text-anchor="middle">50°N</text>
<text x="218.6" y="388.2" class="c" text-anchor="middle"><tspan>(</tspan><tspan font-weight="bold">c</tspan><tspan>) 2013</tspan></text>
</g>
<g transform="translate(513 388.3)">
<path d="M71.5 22.5V351.4M132.3 22.5V351.4M193.1 22.5V351.4M253.9 22.5V351.4M314.7 22.5V351.4M375.5 22.5V351.4" stroke="#cdcdcd" stroke-width="0.8" stroke-dasharray="3 10.95" stroke-dashoffset="8.5" fill="none"/><path d="M20.9 305.8H416.9M20.9 245H416.9M20.9 184.2H416.9M20.9 123.5H416.9M20.9 62.7H416.9" stroke="#cdcdcd" stroke-width="0.8" stroke-dasharray="3 10.914" stroke-dashoffset="13.6" fill="none"/><path d="M71.5 22.5v3M71.5 351.4v-3M132.3 22.5v3M132.3 351.4v-3M193.1 22.5v3M193.1 351.4v-3M253.9 22.5v3M253.9 351.4v-3M314.7 22.5v3M314.7 351.4v-3M375.5 22.5v3M375.5 351.4v-3M20.9 305.8h3M416.9 305.8h-3M20.9 245h3M416.9 245h-3M20.9 184.2h3M416.9 184.2h-3M20.9 123.5h3M416.9 123.5h-3M20.9 62.7h3M416.9 62.7h-3" stroke="#666" stroke-width="0.8" fill="none"/>
<g clip-path="url(#cn)">
<path d="M-196 260l224 -224M-193.1 260l224 -224M-190.2 260l224 -224M-187.3 260l224 -224M-184.4 260l224 -224M-181.5 260l224 -224M-178.6 260l224 -224M-175.7 260l224 -224M-172.8 260l224 -224M-169.9 260l224 -224M-167 260l224 -224M-164.1 260l224 -224M-161.2 260l224 -224M-158.3 260l224 -224M-155.4 260l224 -224M-152.5 260l224 -224M-149.6 260l224 -224M-146.7 260l224 -224M-143.8 260l224 -224M-140.9 260l224 -224M-138 260l224 -224M-135.1 260l224 -224M-132.2 260l224 -224M-129.3 260l224 -224M-126.4 260l224 -224M-123.5 260l224 -224M-120.6 260l224 -224M-117.7 260l224 -224M-114.8 260l224 -224M-111.9 260l224 -224M-109 260l224 -224M-106.1 260l224 -224M-103.2 260l224 -224M-100.3 260l224 -224M-97.4 260l224 -224M-94.5 260l224 -224M-91.6 260l224 -224M-88.7 260l224 -224M-85.8 260l224 -224M-82.9 260l224 -224M-80 260l224 -224M-77.1 260l224 -224M-74.2 260l224 -224M-71.3 260l224 -224M-68.4 260l224 -224M-65.5 260l224 -224M-62.6 260l224 -224M-59.7 260l224 -224M-56.8 260l224 -224M-53.9 260l224 -224M-51 260l224 -224M-48.1 260l224 -224M-45.2 260l224 -224M-42.3 260l224 -224M-39.4 260l224 -224M-36.5 260l224 -224M-33.6 260l224 -224M-30.7 260l224 -224M-27.8 260l224 -224M-24.9 260l224 -224M-22 260l224 -224M-19.1 260l224 -224M-16.2 260l224 -224M-13.3 260l224 -224M-10.4 260l224 -224M-7.5 260l224 -224M-4.6 260l224 -224M-1.7 260l224 -224M1.2 260l224 -224M4.1 260l224 -224M7 260l224 -224M9.9 260l224 -224M12.8 260l224 -224M15.7 260l224 -224M18.6 260l224 -224M21.5 260l224 -224M24.4 260l224 -224M27.3 260l224 -224M30.2 260l224 -224M33.1 260l224 -224M36 260l224 -224M38.9 260l224 -224M41.8 260l224 -224M44.7 260l224 -224M47.6 260l224 -224M50.5 260l224 -224M53.4 260l224 -224M56.3 260l224 -224M59.2 260l224 -224M62.1 260l224 -224M65 260l224 -224M67.9 260l224 -224M70.8 260l224 -224M73.7 260l224 -224M76.6 260l224 -224M79.5 260l224 -224M82.4 260l224 -224M85.3 260l224 -224M88.2 260l224 -224M91.1 260l224 -224M94 260l224 -224M96.9 260l224 -224M99.8 260l224 -224M102.7 260l224 -224M105.6 260l224 -224M108.5 260l224 -224M111.4 260l224 -224M114.3 260l224 -224M117.2 260l224 -224M120.1 260l224 -224M123 260l224 -224M125.9 260l224 -224M128.8 260l224 -224M131.7 260l224 -224M134.6 260l224 -224M137.5 260l224 -224M140.4 260l224 -224M143.3 260l224 -224M146.2 260l224 -224M149.1 260l224 -224M152 260l224 -224M154.9 260l224 -224M157.8 260l224 -224M160.7 260l224 -224M163.6 260l224 -224M166.5 260l224 -224M169.4 260l224 -224M172.3 260l224 -224M175.2 260l224 -224M178.1 260l224 -224M181 260l224 -224M183.9 260l224 -224M186.8 260l224 -224M189.7 260l224 -224M192.6 260l224 -224M195.5 260l224 -224M198.4 260l224 -224M201.3 260l224 -224M204.2 260l224 -224M207.1 260l224 -224M210 260l224 -224M212.9 260l224 -224M215.8 260l224 -224M218.7 260l224 -224M221.6 260l224 -224M224.5 260l224 -224M227.4 260l224 -224M230.3 260l224 -224M233.2 260l224 -224M236.1 260l224 -224M239 260l224 -224M241.9 260l224 -224M244.8 260l224 -224M247.7 260l224 -224M250.6 260l224 -224M253.5 260l224 -224M256.4 260l224 -224M259.3 260l224 -224M262.2 260l224 -224M265.1 260l224 -224M268 260l224 -224M270.9 260l224 -224M273.8 260l224 -224M276.7 260l224 -224M279.6 260l224 -224M282.5 260l224 -224M285.4 260l224 -224M288.3 260l224 -224M291.2 260l224 -224M294.1 260l224 -224M297 260l224 -224M299.9 260l224 -224M302.8 260l224 -224M305.7 260l224 -224M308.6 260l224 -224M311.5 260l224 -224M314.4 260l224 -224M317.3 260l224 -224M320.2 260l224 -224M323.1 260l224 -224M326 260l224 -224M328.9 260l224 -224M331.8 260l224 -224M334.7 260l224 -224M337.6 260l224 -224M340.5 260l224 -224M343.4 260l224 -224M346.3 260l224 -224M349.2 260l224 -224M352.1 260l224 -224M355 260l224 -224M357.9 260l224 -224M360.8 260l224 -224M363.7 260l224 -224M366.6 260l224 -224M369.5 260l224 -224M372.4 260l224 -224M375.3 260l224 -224M378.2 260l224 -224M381.1 260l224 -224M384 260l224 -224M386.9 260l224 -224M389.8 260l224 -224M392.7 260l224 -224M395.6 260l224 -224M398.5 260l224 -224M401.4 260l224 -224M404.3 260l224 -224" stroke="#585858" stroke-width="0.4" fill="none"/>
<rect x="317.9" y="33" width="6.4" height="6.4" fill="#86ffbe"/>
<rect x="324" y="33" width="6.4" height="6.4" fill="#00ffff"/>
<rect x="330.1" y="33" width="18.5" height="6.4" fill="#3aa2fa"/>
<rect x="311.9" y="39.1" width="6.4" height="6.4" fill="#00ffff"/>
<rect x="317.9" y="39.1" width="6.4" height="6.4" fill="#86ffbe"/>
<rect x="324" y="39.1" width="6.4" height="6.4" fill="#00ffff"/>
<rect x="330.1" y="39.1" width="24.6" height="6.4" fill="#3aa2fa"/>
<rect x="305.8" y="45.2" width="12.5" height="6.4" fill="#00ffff"/>
<rect x="317.9" y="45.2" width="6.4" height="6.4" fill="#3aa2fa"/>
<rect x="330.1" y="45.2" width="12.5" height="6.4" fill="#3aa2fa"/>
<rect x="348.3" y="45.2" width="6.4" height="6.4" fill="#3aa2fa"/>
<rect x="354.4" y="45.2" width="6.4" height="6.4" fill="#00ffff"/>
<rect x="305.8" y="51.3" width="12.5" height="6.4" fill="#3aa2fa"/>
<rect x="317.9" y="51.3" width="18.5" height="6.4" fill="#3a5cf5"/>
<rect x="336.2" y="51.3" width="12.5" height="6.4" fill="#3aa2fa"/>
<rect x="348.3" y="51.3" width="12.5" height="6.4" fill="#00ffff"/>
<rect x="287.5" y="57.3" width="36.8" height="6.4" fill="#3a5cf5"/>
<rect x="330.1" y="57.3" width="12.5" height="6.4" fill="#3a5cf5"/>
<rect x="342.3" y="57.3" width="30.7" height="6.4" fill="#00ffff"/>
<rect x="105.1" y="63.4" width="6.4" height="6.4" fill="#0000ff"/>
<rect x="111.2" y="63.4" width="6.4" height="6.4" fill="#3a5cf5"/>
<rect x="281.5" y="63.4" width="12.5" height="6.4" fill="#3a5cf5"/>
<rect x="293.6" y="63.4" width="6.4" height="6.4" fill="#0000ff"/>
<rect x="299.7" y="63.4" width="42.9" height="6.4" fill="#3a5cf5"/>
<rect x="342.3" y="63.4" width="12.5" height="6.4" fill="#3aa2fa"/>
<rect x="354.4" y="63.4" width="12.5" height="6.4" fill="#00ffff"/>
<rect x="366.6" y="63.4" width="12.5" height="6.4" fill="#86ffbe"/>
<rect x="390.9" y="63.4" width="6.4" height="6.4" fill="#86ffbe"/>
<rect x="397" y="63.4" width="6.4" height="6.4" fill="#00ffff"/>
<rect x="99.1" y="69.5" width="12.5" height="6.4" fill="#0000ff"/>
<rect x="111.2" y="69.5" width="18.5" height="6.4" fill="#3a5cf5"/>
<rect x="281.5" y="69.5" width="6.4" height="6.4" fill="#3a5cf5"/>
<rect x="305.8" y="69.5" width="6.4" height="6.4" fill="#3a5cf5"/>
<rect x="311.9" y="69.5" width="6.4" height="6.4" fill="#3aa2fa"/>
<rect x="317.9" y="69.5" width="12.5" height="6.4" fill="#3a5cf5"/>
<rect x="330.1" y="69.5" width="24.6" height="6.4" fill="#3aa2fa"/>
<rect x="354.4" y="69.5" width="6.4" height="6.4" fill="#00ffff"/>
<rect x="360.5" y="69.5" width="42.9" height="6.4" fill="#86ffbe"/>
<rect x="86.9" y="75.6" width="12.5" height="6.4" fill="#3a5cf5"/>
<rect x="99.1" y="75.6" width="30.7" height="6.4" fill="#3aa2fa"/>
<rect x="129.5" y="75.6" width="6.4" height="6.4" fill="#3a5cf5"/>
<rect x="293.6" y="75.6" width="12.5" height="6.4" fill="#3a5cf5"/>
<rect x="305.8" y="75.6" width="18.5" height="6.4" fill="#3aa2fa"/>
<rect x="324" y="75.6" width="6.4" height="6.4" fill="#3a5cf5"/>
<rect x="330.1" y="75.6" width="12.5" height="6.4" fill="#3aa2fa"/>
<rect x="342.3" y="75.6" width="6.4" height="6.4" fill="#00ffff"/>
<rect x="348.3" y="75.6" width="6.4" height="6.4" fill="#3aa2fa"/>
<rect x="354.4" y="75.6" width="6.4" height="6.4" fill="#00ffff"/>
<rect x="360.5" y="75.6" width="36.8" height="6.4" fill="#86ffbe"/>
<rect x="80.8" y="81.7" width="6.4" height="6.4" fill="#3a5cf5"/>
<rect x="86.9" y="81.7" width="12.5" height="6.4" fill="#3aa2fa"/>
<rect x="99.1" y="81.7" width="24.6" height="6.4" fill="#00ffff"/>
<rect x="281.5" y="81.7" width="12.5" height="6.4" fill="#3a5cf5"/>
<rect x="293.6" y="81.7" width="24.6" height="6.4" fill="#3aa2fa"/>
<rect x="317.9" y="81.7" width="18.5" height="6.4" fill="#3a5cf5"/>
<rect x="336.2" y="81.7" width="6.4" height="6.4" fill="#3aa2fa"/>
<rect x="342.3" y="81.7" width="18.5" height="6.4" fill="#00ffff"/>
<rect x="360.5" y="81.7" width="12.5" height="6.4" fill="#86ffbe"/>
<rect x="372.7" y="81.7" width="24.6" height="6.4" fill="#ccff66"/>
<rect x="68.7" y="87.7" width="18.5" height="6.4" fill="#0000ff"/>
<rect x="86.9" y="87.7" width="6.4" height="6.4" fill="#00ffff"/>
<rect x="93" y="87.7" width="36.8" height="6.4" fill="#86ffbe"/>
<rect x="129.5" y="87.7" width="18.5" height="6.4" fill="#00ffff"/>
<rect x="153.8" y="87.7" width="6.4" height="6.4" fill="#00ffff"/>
<rect x="257.1" y="87.7" width="6.4" height="6.4" fill="#3a5cf5"/>
<rect x="269.3" y="87.7" width="24.6" height="6.4" fill="#0000ff"/>
<rect x="293.6" y="87.7" width="6.4" height="6.4" fill="#3a5cf5"/>
<rect x="299.7" y="87.7" width="12.5" height="6.4" fill="#3aa2fa"/>
<rect x="311.9" y="87.7" width="24.6" height="6.4" fill="#3a5cf5"/>
<rect x="336.2" y="87.7" width="12.5" height="6.4" fill="#3aa2fa"/>
<rect x="348.3" y="87.7" width="12.5" height="6.4" fill="#00ffff"/>
<rect x="360.5" y="87.7" width="24.6" height="6.4" fill="#86ffbe"/>
<rect x="68.7" y="93.8" width="30.7" height="6.4" fill="#3a5cf5"/>
<rect x="99.1" y="93.8" width="12.5" height="6.4" fill="#3aa2fa"/>
<rect x="111.2" y="93.8" width="24.6" height="6.4" fill="#ccff66"/>
<rect x="135.5" y="93.8" width="6.4" height="6.4" fill="#86ffbe"/>
<rect x="141.6" y="93.8" width="6.4" height="6.4" fill="#00ffff"/>
<rect x="147.7" y="93.8" width="12.5" height="6.4" fill="#86ffbe"/>
<rect x="159.9" y="93.8" width="6.4" height="6.4" fill="#ccff66"/>
<rect x="251.1" y="93.8" width="12.5" height="6.4" fill="#3aa2fa"/>
<rect x="263.2" y="93.8" width="12.5" height="6.4" fill="#3a5cf5"/>
<rect x="275.4" y="93.8" width="6.4" height="6.4" fill="#0000ff"/>
<rect x="281.5" y="93.8" width="55" height="6.4" fill="#3a5cf5"/>
<rect x="336.2" y="93.8" width="12.5" height="6.4" fill="#3aa2fa"/>
<rect x="348.3" y="93.8" width="6.4" height="6.4" fill="#86ffbe"/>
<rect x="354.4" y="93.8" width="12.5" height="6.4" fill="#00ffff"/>
<rect x="366.6" y="93.8" width="18.5" height="6.4" fill="#86ffbe"/>
<rect x="68.7" y="99.9" width="6.4" height="6.4" fill="#3aa2fa"/>
<rect x="74.7" y="99.9" width="12.5" height="6.4" fill="#3a5cf5"/>
<rect x="86.9" y="99.9" width="24.6" height="6.4" fill="#3aa2fa"/>
<rect x="111.2" y="99.9" width="12.5" height="6.4" fill="#00ffff"/>
<rect x="123.4" y="99.9" width="6.4" height="6.4" fill="#86ffbe"/>
<rect x="129.5" y="99.9" width="6.4" height="6.4" fill="#00ffff"/>
<rect x="135.5" y="99.9" width="24.6" height="6.4" fill="#3aa2fa"/>
<rect x="159.9" y="99.9" width="12.5" height="6.4" fill="#00ffff"/>
<rect x="178.1" y="99.9" width="6.4" height="6.4" fill="#86ffbe"/>
<rect x="184.2" y="99.9" width="6.4" height="6.4" fill="#00ffff"/>
<rect x="190.3" y="99.9" width="12.5" height="6.4" fill="#3aa2fa"/>
<rect x="226.7" y="99.9" width="12.5" height="6.4" fill="#3aa2fa"/>
<rect x="245" y="99.9" width="6.4" height="6.4" fill="#3aa2fa"/>
<rect x="251.1" y="99.9" width="6.4" height="6.4" fill="#00ffff"/>
<rect x="263.2" y="99.9" width="6.4" height="6.4" fill="#00ffff"/>
<rect x="269.3" y="99.9" width="12.5" height="6.4" fill="#3aa2fa"/>
<rect x="281.5" y="99.9" width="12.5" height="6.4" fill="#3a5cf5"/>
<rect x="293.6" y="99.9" width="12.5" height="6.4" fill="#3aa2fa"/>
<rect x="305.8" y="99.9" width="6.4" height="6.4" fill="#3a5cf5"/>
<rect x="311.9" y="99.9" width="18.5" height="6.4" fill="#3aa2fa"/>
<rect x="330.1" y="99.9" width="18.5" height="6.4" fill="#00ffff"/>
<rect x="348.3" y="99.9" width="6.4" height="6.4" fill="#3aa2fa"/>
<rect x="354.4" y="99.9" width="12.5" height="6.4" fill="#00ffff"/>
<rect x="366.6" y="99.9" width="12.5" height="6.4" fill="#86ffbe"/>
<rect x="56.5" y="106" width="12.5" height="6.4" fill="#00ffff"/>
<rect x="68.7" y="106" width="12.5" height="6.4" fill="#3aa2fa"/>
<rect x="80.8" y="106" width="6.4" height="6.4" fill="#00ffff"/>
<rect x="86.9" y="106" width="6.4" height="6.4" fill="#3aa2fa"/>
<rect x="93" y="106" width="42.9" height="6.4" fill="#00ffff"/>
<rect x="135.5" y="106" width="6.4" height="6.4" fill="#3aa2fa"/>
<rect x="147.7" y="106" width="6.4" height="6.4" fill="#3aa2fa"/>
<rect x="153.8" y="106" width="24.6" height="6.4" fill="#00ffff"/>
<rect x="184.2" y="106" width="12.5" height="6.4" fill="#3aa2fa"/>
<rect x="196.3" y="106" width="6.4" height="6.4" fill="#3a5cf5"/>
<rect x="226.7" y="106" width="12.5" height="6.4" fill="#00ffff"/>
<rect x="238.9" y="106" width="6.4" height="6.4" fill="#3aa2fa"/>
<rect x="245" y="106" width="6.4" height="6.4" fill="#00ffff"/>
<rect x="251.1" y="106" width="18.5" height="6.4" fill="#86ffbe"/>
<rect x="269.3" y="106" width="6.4" height="6.4" fill="#00ffff"/>
<rect x="275.4" y="106" width="6.4" height="6.4" fill="#3aa2fa"/>
<rect x="281.5" y="106" width="12.5" height="6.4" fill="#00ffff"/>
<rect x="293.6" y="106" width="6.4" height="6.4" fill="#86ffbe"/>
<rect x="299.7" y="106" width="12.5" height="6.4" fill="#00ffff"/>
<rect x="311.9" y="106" width="18.5" height="6.4" fill="#86ffbe"/>
<rect x="330.1" y="106" width="6.4" height="6.4" fill="#ccff66"/>
<rect x="336.2" y="106" width="6.4" height="6.4" fill="#86ffbe"/>
<rect x="342.3" y="106" width="12.5" height="6.4" fill="#00ffff"/>
<rect x="354.4" y="106" width="12.5" height="6.4" fill="#3aa2fa"/>
<rect x="56.5" y="112" width="12.5" height="6.4" fill="#00ffff"/>
<rect x="68.7" y="112" width="18.5" height="6.4" fill="#86ffbe"/>
<rect x="86.9" y="112" width="12.5" height="6.4" fill="#00ffff"/>
<rect x="105.1" y="112" width="12.5" height="6.4" fill="#00ffff"/>
<rect x="135.5" y="112" width="6.4" height="6.4" fill="#3aa2fa"/>
<rect x="153.8" y="112" width="6.4" height="6.4" fill="#3aa2fa"/>
<rect x="159.9" y="112" width="18.5" height="6.4" fill="#00ffff"/>
<rect x="178.1" y="112" width="6.4" height="6.4" fill="#86ffbe"/>
<rect x="184.2" y="112" width="6.4" height="6.4" fill="#00ffff"/>
<rect x="190.3" y="112" width="6.4" height="6.4" fill="#3aa2fa"/>
<rect x="208.5" y="112" width="12.5" height="6.4" fill="#0000ff"/>
<rect x="226.7" y="112" width="6.4" height="6.4" fill="#00ffff"/>
<rect x="232.8" y="112" width="12.5" height="6.4" fill="#3aa2fa"/>
<rect x="245" y="112" width="6.4" height="6.4" fill="#86ffbe"/>
<rect x="251.1" y="112" width="12.5" height="6.4" fill="#ccff66"/>
<rect x="263.2" y="112" width="6.4" height="6.4" fill="#86ffbe"/>
<rect x="269.3" y="112" width="12.5" height="6.4" fill="#00ffff"/>
<rect x="281.5" y="112" width="6.4" height="6.4" fill="#86ffbe"/>
<rect x="287.5" y="112" width="30.7" height="6.4" fill="#ccff66"/>
<rect x="317.9" y="112" width="6.4" height="6.4" fill="#86ffbe"/>
<rect x="324" y="112" width="12.5" height="6.4" fill="#ccff66"/>
<rect x="336.2" y="112" width="12.5" height="6.4" fill="#86ffbe"/>
<rect x="348.3" y="112" width="6.4" height="6.4" fill="#00ffff"/>
<rect x="26.1" y="118.1" width="6.4" height="6.4" fill="#86ffbe"/>
<rect x="38.3" y="118.1" width="12.5" height="6.4" fill="#86ffbe"/>
<rect x="50.4" y="118.1" width="6.4" height="6.4" fill="#00ffff"/>
<rect x="56.5" y="118.1" width="18.5" height="6.4" fill="#86ffbe"/>
<rect x="80.8" y="118.1" width="6.4" height="6.4" fill="#86ffbe"/>
<rect x="86.9" y="118.1" width="6.4" height="6.4" fill="#00ffff"/>
<rect x="117.3" y="118.1" width="6.4" height="6.4" fill="#3aa2fa"/>
<rect x="147.7" y="118.1" width="12.5" height="6.4" fill="#3a5cf5"/>
<rect x="165.9" y="118.1" width="12.5" height="6.4" fill="#3aa2fa"/>
<rect x="178.1" y="118.1" width="6.4" height="6.4" fill="#00ffff"/>
<rect x="184.2" y="118.1" width="12.5" height="6.4" fill="#3aa2fa"/>
<rect x="196.3" y="118.1" width="12.5" height="6.4" fill="#3a5cf5"/>
<rect x="208.5" y="118.1" width="6.4" height="6.4" fill="#0000ff"/>
<rect x="220.7" y="118.1" width="6.4" height="6.4" fill="#0000ff"/>
<rect x="226.7" y="118.1" width="6.4" height="6.4" fill="#3a5cf5"/>
<rect x="232.8" y="118.1" width="12.5" height="6.4" fill="#0000ff"/>
<rect x="245" y="118.1" width="6.4" height="6.4" fill="#3a5cf5"/>
<rect x="251.1" y="118.1" width="12.5" height="6.4" fill="#ccff66"/>
<rect x="263.2" y="118.1" width="6.4" height="6.4" fill="#ffff00"/>
<rect x="269.3" y="118.1" width="6.4" height="6.4" fill="#ccff66"/>
<rect x="275.4" y="118.1" width="6.4" height="6.4" fill="#86ffbe"/>
<rect x="281.5" y="118.1" width="12.5" height="6.4" fill="#ccff66"/>
<rect x="293.6" y="118.1" width="12.5" height="6.4" fill="#ffff00"/>
<rect x="305.8" y="118.1" width="12.5" height="6.4" fill="#ccff66"/>
<rect x="317.9" y="118.1" width="6.4" height="6.4" fill="#ffff00"/>
<rect x="324" y="118.1" width="12.5" height="6.4" fill="#86ffbe"/>
<rect x="38.3" y="124.2" width="6.4" height="6.4" fill="#00ffff"/>
<rect x="44.3" y="124.2" width="12.5" height="6.4" fill="#86ffbe"/>
<rect x="68.7" y="124.2" width="6.4" height="6.4" fill="#86ffbe"/>
<rect x="86.9" y="124.2" width="6.4" height="6.4" fill="#00ffff"/>
<rect x="93" y="124.2" width="6.4" height="6.4" fill="#3aa2fa"/>
<rect x="99.1" y="124.2" width="6.4" height="6.4" fill="#3a5cf5"/>
<rect x="111.2" y="124.2" width="12.5" height="6.4" fill="#0000ff"/>
<rect x="129.5" y="124.2" width="12.5" height="6.4" fill="#0000ff"/>
<rect x="141.6" y="124.2" width="12.5" height="6.4" fill="#3a5cf5"/>
<rect x="153.8" y="124.2" width="6.4" height="6.4" fill="#3aa2fa"/>
<rect x="178.1" y="124.2" width="12.5" height="6.4" fill="#3aa2fa"/>
<rect x="190.3" y="124.2" width="24.6" height="6.4" fill="#3a5cf5"/>
<rect x="220.7" y="124.2" width="12.5" height="6.4" fill="#3a5cf5"/>
<rect x="232.8" y="124.2" width="12.5" height="6.4" fill="#0000ff"/>
<rect x="245" y="124.2" width="6.4" height="6.4" fill="#3a5cf5"/>
<rect x="251.1" y="124.2" width="6.4" height="6.4" fill="#00ffff"/>
<rect x="257.1" y="124.2" width="6.4" height="6.4" fill="#86ffbe"/>
<rect x="263.2" y="124.2" width="12.5" height="6.4" fill="#ccff66"/>
<rect x="275.4" y="124.2" width="6.4" height="6.4" fill="#86ffbe"/>
<rect x="281.5" y="124.2" width="6.4" height="6.4" fill="#00ffff"/>
<rect x="287.5" y="124.2" width="12.5" height="6.4" fill="#ffff00"/>
<rect x="38.3" y="130.3" width="24.6" height="6.4" fill="#00ffff"/>
<rect x="62.6" y="130.3" width="6.4" height="6.4" fill="#86ffbe"/>
<rect x="68.7" y="130.3" width="12.5" height="6.4" fill="#ccff66"/>
<rect x="80.8" y="130.3" width="6.4" height="6.4" fill="#86ffbe"/>
<rect x="93" y="130.3" width="6.4" height="6.4" fill="#3a5cf5"/>
<rect x="117.3" y="130.3" width="6.4" height="6.4" fill="#3a5cf5"/>
<rect x="135.5" y="130.3" width="6.4" height="6.4" fill="#3a5cf5"/>
<rect x="141.6" y="130.3" width="12.5" height="6.4" fill="#3aa2fa"/>
<rect x="153.8" y="130.3" width="30.7" height="6.4" fill="#86ffbe"/>
<rect x="184.2" y="130.3" width="6.4" height="6.4" fill="#00ffff"/>
<rect x="190.3" y="130.3" width="6.4" height="6.4" fill="#3aa2fa"/>
<rect x="196.3" y="130.3" width="30.7" height="6.4" fill="#3a5cf5"/>
<rect x="226.7" y="130.3" width="18.5" height="6.4" fill="#0000ff"/>
<rect x="245" y="130.3" width="6.4" height="6.4" fill="#3aa2fa"/>
<rect x="251.1" y="130.3" width="6.4" height="6.4" fill="#86ffbe"/>
<rect x="257.1" y="130.3" width="12.5" height="6.4" fill="#ccff66"/>
<rect x="269.3" y="130.3" width="6.4" height="6.4" fill="#ffff00"/>
<rect x="275.4" y="130.3" width="12.5" height="6.4" fill="#ccff66"/>
<rect x="287.5" y="130.3" width="42.9" height="6.4" fill="#86ffbe"/>
<rect x="38.3" y="136.4" width="6.4" height="6.4" fill="#00ffff"/>
<rect x="56.5" y="136.4" width="6.4" height="6.4" fill="#00ffff"/>
<rect x="62.6" y="136.4" width="18.5" height="6.4" fill="#86ffbe"/>
<rect x="86.9" y="136.4" width="6.4" height="6.4" fill="#3aa2fa"/>
<rect x="135.5" y="136.4" width="6.4" height="6.4" fill="#3a5cf5"/>
<rect x="141.6" y="136.4" width="12.5" height="6.4" fill="#3aa2fa"/>
<rect x="153.8" y="136.4" width="6.4" height="6.4" fill="#00ffff"/>
<rect x="159.9" y="136.4" width="6.4" height="6.4" fill="#86ffbe"/>
<rect x="165.9" y="136.4" width="6.4" height="6.4" fill="#ccff66"/>
<rect x="172" y="136.4" width="6.4" height="6.4" fill="#86ffbe"/>
<rect x="178.1" y="136.4" width="12.5" height="6.4" fill="#00ffff"/>
<rect x="190.3" y="136.4" width="6.4" height="6.4" fill="#3aa2fa"/>
<rect x="196.3" y="136.4" width="12.5" height="6.4" fill="#00ffff"/>
<rect x="208.5" y="136.4" width="12.5" height="6.4" fill="#3a5cf5"/>
<rect x="220.7" y="136.4" width="18.5" height="6.4" fill="#0000ff"/>
<rect x="238.9" y="136.4" width="6.4" height="6.4" fill="#3a5cf5"/>
<rect x="245" y="136.4" width="6.4" height="6.4" fill="#3aa2fa"/>
<rect x="251.1" y="136.4" width="6.4" height="6.4" fill="#86ffbe"/>
<rect x="257.1" y="136.4" width="30.7" height="6.4" fill="#ccff66"/>
<rect x="287.5" y="136.4" width="18.5" height="6.4" fill="#86ffbe"/>
<rect x="305.8" y="136.4" width="6.4" height="6.4" fill="#ccff66"/>
<rect x="311.9" y="136.4" width="12.5" height="6.4" fill="#86ffbe"/>
<rect x="68.7" y="142.4" width="12.5" height="6.4" fill="#86ffbe"/>
<rect x="80.8" y="142.4" width="6.4" height="6.4" fill="#00ffff"/>
<rect x="99.1" y="142.4" width="6.4" height="6.4" fill="#3aa2fa"/>
<rect x="147.7" y="142.4" width="6.4" height="6.4" fill="#3aa2fa"/>
<rect x="153.8" y="142.4" width="6.4" height="6.4" fill="#00ffff"/>
<rect x="172" y="142.4" width="12.5" height="6.4" fill="#86ffbe"/>
<rect x="184.2" y="142.4" width="30.7" height="6.4" fill="#00ffff"/>
<rect x="214.6" y="142.4" width="18.5" height="6.4" fill="#3a5cf5"/>
<rect x="232.8" y="142.4" width="6.4" height="6.4" fill="#0000ff"/>
<rect x="238.9" y="142.4" width="6.4" height="6.4" fill="#3a5cf5"/>
<rect x="245" y="142.4" width="6.4" height="6.4" fill="#3aa2fa"/>
<rect x="251.1" y="142.4" width="12.5" height="6.4" fill="#00ffff"/>
<rect x="263.2" y="142.4" width="24.6" height="6.4" fill="#86ffbe"/>
<rect x="287.5" y="142.4" width="12.5" height="6.4" fill="#ccff66"/>
<rect x="299.7" y="142.4" width="12.5" height="6.4" fill="#86ffbe"/>
<rect x="80.8" y="148.5" width="6.4" height="6.4" fill="#00ffff"/>
<rect x="123.4" y="148.5" width="6.4" height="6.4" fill="#3a5cf5"/>
<rect x="141.6" y="148.5" width="6.4" height="6.4" fill="#3a5cf5"/>
<rect x="159.9" y="148.5" width="6.4" height="6.4" fill="#00ffff"/>
<rect x="178.1" y="148.5" width="6.4" height="6.4" fill="#86ffbe"/>
<rect x="190.3" y="148.5" width="30.7" height="6.4" fill="#00ffff"/>
<rect x="220.7" y="148.5" width="24.6" height="6.4" fill="#3a5cf5"/>
<rect x="245" y="148.5" width="12.5" height="6.4" fill="#3aa2fa"/>
<rect x="257.1" y="148.5" width="6.4" height="6.4" fill="#00ffff"/>
<rect x="263.2" y="148.5" width="18.5" height="6.4" fill="#86ffbe"/>
<rect x="281.5" y="148.5" width="6.4" height="6.4" fill="#00ffff"/>
<rect x="287.5" y="148.5" width="12.5" height="6.4" fill="#86ffbe"/>
<rect x="299.7" y="148.5" width="6.4" height="6.4" fill="#00ffff"/>
<rect x="305.8" y="148.5" width="12.5" height="6.4" fill="#86ffbe"/>
<rect x="62.6" y="154.6" width="6.4" height="6.4" fill="#00ffff"/>
<rect x="141.6" y="154.6" width="6.4" height="6.4" fill="#3a5cf5"/>
<rect x="159.9" y="154.6" width="6.4" height="6.4" fill="#3aa2fa"/>
<rect x="165.9" y="154.6" width="6.4" height="6.4" fill="#00ffff"/>
<rect x="172" y="154.6" width="6.4" height="6.4" fill="#3aa2fa"/>
<rect x="178.1" y="154.6" width="12.5" height="6.4" fill="#3a5cf5"/>
<rect x="190.3" y="154.6" width="6.4" height="6.4" fill="#3aa2fa"/>
<rect x="196.3" y="154.6" width="18.5" height="6.4" fill="#00ffff"/>
<rect x="214.6" y="154.6" width="12.5" height="6.4" fill="#86ffbe"/>
<rect x="226.7" y="154.6" width="6.4" height="6.4" fill="#3aa2fa"/>
<rect x="232.8" y="154.6" width="24.6" height="6.4" fill="#3a5cf5"/>
<rect x="257.1" y="154.6" width="6.4" height="6.4" fill="#3aa2fa"/>
<rect x="263.2" y="154.6" width="6.4" height="6.4" fill="#00ffff"/>
<rect x="269.3" y="154.6" width="18.5" height="6.4" fill="#86ffbe"/>
<rect x="287.5" y="154.6" width="18.5" height="6.4" fill="#00ffff"/>
<rect x="305.8" y="154.6" width="12.5" height="6.4" fill="#86ffbe"/>
<rect x="68.7" y="160.7" width="6.4" height="6.4" fill="#00ffff"/>
<rect x="135.5" y="160.7" width="12.5" height="6.4" fill="#3a5cf5"/>
<rect x="159.9" y="160.7" width="12.5" height="6.4" fill="#3a5cf5"/>
<rect x="172" y="160.7" width="12.5" height="6.4" fill="#0000ff"/>
<rect x="190.3" y="160.7" width="6.4" height="6.4" fill="#3a5cf5"/>
<rect x="196.3" y="160.7" width="6.4" height="6.4" fill="#3aa2fa"/>
<rect x="202.4" y="160.7" width="6.4" height="6.4" fill="#00ffff"/>
<rect x="208.5" y="160.7" width="18.5" height="6.4" fill="#86ffbe"/>
<rect x="226.7" y="160.7" width="12.5" height="6.4" fill="#3aa2fa"/>
<rect x="238.9" y="160.7" width="6.4" height="6.4" fill="#3a5cf5"/>
<rect x="245" y="160.7" width="18.5" height="6.4" fill="#3aa2fa"/>
<rect x="263.2" y="160.7" width="6.4" height="6.4" fill="#00ffff"/>
<rect x="269.3" y="160.7" width="18.5" height="6.4" fill="#86ffbe"/>
<rect x="287.5" y="160.7" width="12.5" height="6.4" fill="#00ffff"/>
<rect x="299.7" y="160.7" width="12.5" height="6.4" fill="#86ffbe"/>
<rect x="311.9" y="160.7" width="6.4" height="6.4" fill="#ccff66"/>
<rect x="317.9" y="160.7" width="6.4" height="6.4" fill="#86ffbe"/>
<rect x="56.5" y="166.7" width="6.4" height="6.4" fill="#3a5cf5"/>
<rect x="111.2" y="166.7" width="6.4" height="6.4" fill="#3a5cf5"/>
<rect x="123.4" y="166.7" width="6.4" height="6.4" fill="#3a5cf5"/>
<rect x="129.5" y="166.7" width="12.5" height="6.4" fill="#0000ff"/>
<rect x="141.6" y="166.7" width="12.5" height="6.4" fill="#3a5cf5"/>
<rect x="159.9" y="166.7" width="36.8" height="6.4" fill="#0000ff"/>
<rect x="196.3" y="166.7" width="12.5" height="6.4" fill="#3a5cf5"/>
<rect x="208.5" y="166.7" width="6.4" height="6.4" fill="#3aa2fa"/>
<rect x="214.6" y="166.7" width="6.4" height="6.4" fill="#86ffbe"/>
<rect x="220.7" y="166.7" width="12.5" height="6.4" fill="#ccff66"/>
<rect x="232.8" y="166.7" width="6.4" height="6.4" fill="#00ffff"/>
<rect x="238.9" y="166.7" width="24.6" height="6.4" fill="#3aa2fa"/>
<rect x="263.2" y="166.7" width="6.4" height="6.4" fill="#00ffff"/>
<rect x="269.3" y="166.7" width="36.8" height="6.4" fill="#86ffbe"/>
<rect x="305.8" y="166.7" width="12.5" height="6.4" fill="#ccff66"/>
<rect x="317.9" y="166.7" width="6.4" height="6.4" fill="#86ffbe"/>
<rect x="68.7" y="172.8" width="6.4" height="6.4" fill="#3a5cf5"/>
<rect x="74.7" y="172.8" width="6.4" height="6.4" fill="#3aa2fa"/>
<rect x="117.3" y="172.8" width="6.4" height="6.4" fill="#3a5cf5"/>
<rect x="129.5" y="172.8" width="12.5" height="6.4" fill="#3a5cf5"/>
<rect x="147.7" y="172.8" width="12.5" height="6.4" fill="#3a5cf5"/>
<rect x="159.9" y="172.8" width="48.9" height="6.4" fill="#0000ff"/>
<rect x="208.5" y="172.8" width="6.4" height="6.4" fill="#3a5cf5"/>
<rect x="214.6" y="172.8" width="6.4" height="6.4" fill="#00ffff"/>
<rect x="220.7" y="172.8" width="6.4" height="6.4" fill="#ccff66"/>
<rect x="226.7" y="172.8" width="6.4" height="6.4" fill="#ffff00"/>
<rect x="232.8" y="172.8" width="6.4" height="6.4" fill="#86ffbe"/>
<rect x="238.9" y="172.8" width="24.6" height="6.4" fill="#00ffff"/>
<rect x="263.2" y="172.8" width="6.4" height="6.4" fill="#86ffbe"/>
<rect x="269.3" y="172.8" width="18.5" height="6.4" fill="#ccff66"/>
<rect x="287.5" y="172.8" width="24.6" height="6.4" fill="#86ffbe"/>
<rect x="311.9" y="172.8" width="12.5" height="6.4" fill="#ccff66"/>
<rect x="111.2" y="178.9" width="6.4" height="6.4" fill="#3aa2fa"/>
<rect x="117.3" y="178.9" width="42.9" height="6.4" fill="#3a5cf5"/>
<rect x="159.9" y="178.9" width="6.4" height="6.4" fill="#0000ff"/>
<rect x="172" y="178.9" width="18.5" height="6.4" fill="#0000ff"/>
<rect x="196.3" y="178.9" width="12.5" height="6.4" fill="#0000ff"/>
<rect x="208.5" y="178.9" width="6.4" height="6.4" fill="#3a5cf5"/>
<rect x="214.6" y="178.9" width="6.4" height="6.4" fill="#00ffff"/>
<rect x="220.7" y="178.9" width="6.4" height="6.4" fill="#ccff66"/>
<rect x="226.7" y="178.9" width="6.4" height="6.4" fill="#ffff00"/>
<rect x="232.8" y="178.9" width="6.4" height="6.4" fill="#ccff66"/>
<rect x="238.9" y="178.9" width="30.7" height="6.4" fill="#86ffbe"/>
<rect x="269.3" y="178.9" width="24.6" height="6.4" fill="#ccff66"/>
<rect x="293.6" y="178.9" width="24.6" height="6.4" fill="#86ffbe"/>
<rect x="317.9" y="178.9" width="6.4" height="6.4" fill="#ffff00"/>
<rect x="93" y="185" width="6.4" height="6.4" fill="#00ffff"/>
<rect x="99.1" y="185" width="6.4" height="6.4" fill="#3aa2fa"/>
<rect x="111.2" y="185" width="6.4" height="6.4" fill="#3aa2fa"/>
<rect x="117.3" y="185" width="12.5" height="6.4" fill="#3a5cf5"/>
<rect x="129.5" y="185" width="6.4" height="6.4" fill="#0000ff"/>
<rect x="135.5" y="185" width="12.5" height="6.4" fill="#3a5cf5"/>
<rect x="153.8" y="185" width="18.5" height="6.4" fill="#3a5cf5"/>
<rect x="172" y="185" width="36.8" height="6.4" fill="#0000ff"/>
<rect x="208.5" y="185" width="6.4" height="6.4" fill="#3a5cf5"/>
<rect x="214.6" y="185" width="6.4" height="6.4" fill="#3aa2fa"/>
<rect x="220.7" y="185" width="24.6" height="6.4" fill="#ccff66"/>
<rect x="245" y="185" width="12.5" height="6.4" fill="#86ffbe"/>
<rect x="257.1" y="185" width="6.4" height="6.4" fill="#ccff66"/>
<rect x="263.2" y="185" width="6.4" height="6.4" fill="#86ffbe"/>
<rect x="269.3" y="185" width="12.5" height="6.4" fill="#ccff66"/>
<rect x="281.5" y="185" width="12.5" height="6.4" fill="#ffff00"/>
<rect x="293.6" y="185" width="6.4" height="6.4" fill="#ccff66"/>
<rect x="299.7" y="185" width="6.4" height="6.4" fill="#ffff00"/>
<rect x="305.8" y="185" width="18.5" height="6.4" fill="#ccff66"/>
<rect x="123.4" y="191.1" width="6.4" height="6.4" fill="#3a5cf5"/>
<rect x="135.5" y="191.1" width="12.5" height="6.4" fill="#0000ff"/>
<rect x="147.7" y="191.1" width="30.7" height="6.4" fill="#3a5cf5"/>
<rect x="178.1" y="191.1" width="6.4" height="6.4" fill="#0000ff"/>
<rect x="184.2" y="191.1" width="30.7" height="6.4" fill="#3a5cf5"/>
<rect x="214.6" y="191.1" width="6.4" height="6.4" fill="#00ffff"/>
<rect x="220.7" y="191.1" width="12.5" height="6.4" fill="#86ffbe"/>
<rect x="232.8" y="191.1" width="48.9" height="6.4" fill="#ccff66"/>
<rect x="281.5" y="191.1" width="18.5" height="6.4" fill="#ffff00"/>
<rect x="299.7" y="191.1" width="18.5" height="6.4" fill="#ccff66"/>
<rect x="178.1" y="197.1" width="12.5" height="6.4" fill="#3aa2fa"/>
<rect x="190.3" y="197.1" width="18.5" height="6.4" fill="#00ffff"/>
<rect x="208.5" y="197.1" width="12.5" height="6.4" fill="#3aa2fa"/>
<rect x="220.7" y="197.1" width="6.4" height="6.4" fill="#00ffff"/>
<rect x="226.7" y="197.1" width="12.5" height="6.4" fill="#86ffbe"/>
<rect x="238.9" y="197.1" width="18.5" height="6.4" fill="#ccff66"/>
<rect x="257.1" y="197.1" width="12.5" height="6.4" fill="#ffff00"/>
<rect x="269.3" y="197.1" width="6.4" height="6.4" fill="#ffb400"/>
<rect x="275.4" y="197.1" width="18.5" height="6.4" fill="#ffff00"/>
<rect x="293.6" y="197.1" width="24.6" height="6.4" fill="#ccff66"/>
<rect x="178.1" y="203.2" width="12.5" height="6.4" fill="#3aa2fa"/>
<rect x="190.3" y="203.2" width="6.4" height="6.4" fill="#00ffff"/>
<rect x="196.3" y="203.2" width="12.5" height="6.4" fill="#86ffbe"/>
<rect x="208.5" y="203.2" width="6.4" height="6.4" fill="#00ffff"/>
<rect x="214.6" y="203.2" width="6.4" height="6.4" fill="#3aa2fa"/>
<rect x="220.7" y="203.2" width="6.4" height="6.4" fill="#3a5cf5"/>
<rect x="226.7" y="203.2" width="6.4" height="6.4" fill="#3aa2fa"/>
<rect x="232.8" y="203.2" width="6.4" height="6.4" fill="#00ffff"/>
<rect x="238.9" y="203.2" width="6.4" height="6.4" fill="#86ffbe"/>
<rect x="245" y="203.2" width="18.5" height="6.4" fill="#ccff66"/>
<rect x="263.2" y="203.2" width="30.7" height="6.4" fill="#ffff00"/>
<rect x="293.6" y="203.2" width="18.5" height="6.4" fill="#ccff66"/>
<rect x="172" y="209.3" width="12.5" height="6.4" fill="#3a5cf5"/>
<rect x="184.2" y="209.3" width="6.4" height="6.4" fill="#3aa2fa"/>
<rect x="190.3" y="209.3" width="24.6" height="6.4" fill="#00ffff"/>
<rect x="214.6" y="209.3" width="6.4" height="6.4" fill="#3aa2fa"/>
<rect x="220.7" y="209.3" width="12.5" height="6.4" fill="#3a5cf5"/>
<rect x="232.8" y="209.3" width="6.4" height="6.4" fill="#3aa2fa"/>
<rect x="238.9" y="209.3" width="6.4" height="6.4" fill="#00ffff"/>
<rect x="245" y="209.3" width="6.4" height="6.4" fill="#86ffbe"/>
<rect x="251.1" y="209.3" width="48.9" height="6.4" fill="#ccff66"/>
<rect x="299.7" y="209.3" width="6.4" height="6.4" fill="#ffff00"/>
<rect x="305.8" y="209.3" width="18.5" height="6.4" fill="#ccff66"/>
<rect x="184.2" y="215.4" width="6.4" height="6.4" fill="#3aa2fa"/>
<rect x="190.3" y="215.4" width="18.5" height="6.4" fill="#00ffff"/>
<rect x="208.5" y="215.4" width="6.4" height="6.4" fill="#3aa2fa"/>
<rect x="214.6" y="215.4" width="12.5" height="6.4" fill="#3a5cf5"/>
<rect x="226.7" y="215.4" width="12.5" height="6.4" fill="#3aa2fa"/>
<rect x="238.9" y="215.4" width="12.5" height="6.4" fill="#00ffff"/>
<rect x="251.1" y="215.4" width="18.5" height="6.4" fill="#ccff66"/>
<rect x="269.3" y="215.4" width="6.4" height="6.4" fill="#86ffbe"/>
<rect x="275.4" y="215.4" width="12.5" height="6.4" fill="#ccff66"/>
<rect x="287.5" y="215.4" width="12.5" height="6.4" fill="#ffff00"/>
<rect x="311.9" y="215.4" width="6.4" height="6.4" fill="#ffff00"/>
<rect x="317.9" y="215.4" width="6.4" height="6.4" fill="#ccff66"/>
<rect x="184.2" y="221.4" width="12.5" height="6.4" fill="#00ffff"/>
<rect x="196.3" y="221.4" width="6.4" height="6.4" fill="#86ffbe"/>
<rect x="202.4" y="221.4" width="12.5" height="6.4" fill="#00ffff"/>
<rect x="214.6" y="221.4" width="12.5" height="6.4" fill="#3aa2fa"/>
<rect x="226.7" y="221.4" width="24.6" height="6.4" fill="#00ffff"/>
<rect x="251.1" y="221.4" width="30.7" height="6.4" fill="#ccff66"/>
<rect x="281.5" y="221.4" width="6.4" height="6.4" fill="#ffff00"/>
<rect x="311.9" y="221.4" width="12.5" height="6.4" fill="#ffff00"/>
<rect x="190.3" y="227.5" width="12.5" height="6.4" fill="#86ffbe"/>
<rect x="232.8" y="227.5" width="12.5" height="6.4" fill="#00ffff"/>
<rect x="245" y="227.5" width="6.4" height="6.4" fill="#86ffbe"/>
<rect x="251.1" y="227.5" width="12.5" height="6.4" fill="#ccff66"/>
<rect x="245" y="233.6" width="12.5" height="6.4" fill="#86ffbe"/>
<rect x="238.9" y="239.7" width="18.5" height="6.4" fill="#86ffbe"/>
<rect x="238.9" y="245.8" width="18.5" height="6.4" fill="#86ffbe"/>
<path d="M26.1 33V264M32.2 33V264M38.3 33V264M44.3 33V264M50.4 33V264M56.5 33V264M62.6 33V264M68.7 33V264M74.7 33V264M80.8 33V264M86.9 33V264M93 33V264M99.1 33V264M105.1 33V264M111.2 33V264M117.3 33V264M123.4 33V264M129.5 33V264M135.5 33V264M141.6 33V264M147.7 33V264M153.8 33V264M159.9 33V264M165.9 33V264M172 33V264M178.1 33V264M184.2 33V264M190.3 33V264M196.3 33V264M202.4 33V264M208.5 33V264M214.6 33V264M220.7 33V264M226.7 33V264M232.8 33V264M238.9 33V264M245 33V264M251.1 33V264M257.1 33V264M263.2 33V264M269.3 33V264M275.4 33V264M281.5 33V264M287.5 33V264M293.6 33V264M299.7 33V264M305.8 33V264M311.9 33V264M317.9 33V264M324 33V264M330.1 33V264M336.2 33V264M342.3 33V264M348.3 33V264M354.4 33V264M360.5 33V264M366.6 33V264M372.7 33V264M378.7 33V264M384.8 33V264M390.9 33V264M397 33V264M403.1 33V264M409.1 33V264M415.2 33V264M26.1 264H415.2M26.1 257.9H415.2M26.1 251.8H415.2M26.1 245.8H415.2M26.1 239.7H415.2M26.1 233.6H415.2M26.1 227.5H415.2M26.1 221.4H415.2M26.1 215.4H415.2M26.1 209.3H415.2M26.1 203.2H415.2M26.1 197.1H415.2M26.1 191.1H415.2M26.1 185H415.2M26.1 178.9H415.2M26.1 172.8H415.2M26.1 166.7H415.2M26.1 160.7H415.2M26.1 154.6H415.2M26.1 148.5H415.2M26.1 142.4H415.2M26.1 136.4H415.2M26.1 130.3H415.2M26.1 124.2H415.2M26.1 118.1H415.2M26.1 112H415.2M26.1 106H415.2M26.1 99.9H415.2M26.1 93.8H415.2M26.1 87.7H415.2M26.1 81.7H415.2M26.1 75.6H415.2M26.1 69.5H415.2M26.1 63.4H415.2M26.1 57.3H415.2M26.1 51.3H415.2M26.1 45.2H415.2M26.1 39.1H415.2M26.1 33H415.2" stroke="#444" stroke-opacity="0.6" stroke-width="0.5" fill="none"/>
</g>
<polygon points="29,122.4 31,119.7 33,117.7 37.7,115.7 41.1,114.3 43.1,115.7 47.1,113 51.8,111.7 56.5,110.3 65.2,107 70.5,104.3 69.9,100.9 72.5,96.9 70.5,91.6 68.5,88.2 74.5,86.9 81.2,85.5 83.9,80.9 86.6,74.2 91.9,74.8 100,74.8 102.7,72.8 103.3,68.8 108.7,66.8 110.7,62.8 116,62.4 117.4,65.5 121.4,68.1 128.1,69.5 132.1,71.5 135.5,75.5 135.9,80.2 134.8,84.9 138.8,86.9 146.8,87.6 153,88.6 157,91.6 161.7,92.9 163.7,94.9 166.4,99.6 171.7,101.3 177.1,100.9 183.8,102.6 193.2,101.3 201.2,103 206.6,105 211.9,107 218.6,107.4 225.3,105.6 233.3,103.6 241.4,103 249.4,102.6 254.8,100.3 258.8,96.9 262.8,94.9 260.1,91.6 261.4,88.2 264.8,86.9 269.5,88.6 274.8,87.6 278.9,85.5 281,85.5 286.4,82.9 294.4,78.9 302.4,77.5 309.8,77.1 311.1,74.8 307.1,71.5 301.1,69.5 293.7,70.4 287,71.5 285,69.5 287,64.8 290.4,60.1 293.7,58.1 298.4,60.1 305.1,57.8 307.8,54.1 311.8,48.7 316.5,45.4 317.1,42 312.5,40.7 315.8,38 323.8,36.4 334.6,35.3 342.6,37.3 347.9,39.4 350.6,44.7 354,50.1 357.3,55.4 358.7,59.4 366.7,60.8 374.7,64.1 377.4,67.5 379.4,70.8 386.8,69.5 394.8,68.1 403.1,66.5 400.8,70.8 397.5,75.5 394.8,80.2 391.5,85.5 386.8,86.9 380.1,87.6 380.7,92.9 379.4,98.3 375.4,100.9 376.1,103 372,101.6 366.7,105 361.3,108.3 354,107.7 350.2,111.4 346.2,114.4 342.2,116.7 338.2,119.4 334.2,119.7 330.2,121.4 327.5,122.8 324.1,124.1 321.5,125.1 318.8,125.4 319.8,124.1 319.5,121.4 321.5,119.4 323.5,117.7 325.1,115.4 324.1,113.7 322.1,112.4 319.1,113.1 316.8,115.1 314.8,116.7 311.4,118.4 308.1,120.1 306.1,121.8 303.4,123.4 300,123.8 298.4,125.1 297.4,126.8 298.7,128.4 300.7,129.1 304.4,129.5 306.4,130.8 307.1,132.1 305.7,133.5 306.1,134.8 309.4,135.8 312.1,134.5 314.8,132.1 316.8,129.5 318.8,132 321.5,133 324.8,133.3 328.2,134.1 327.8,135.8 325.5,137.5 322.1,138.5 319.5,139.5 316.8,140.8 313.4,142.8 310.1,146.2 307.7,148.9 310.1,151.5 312.8,153.5 314.8,156 315.1,156 317.1,160.1 319.8,164.1 323.2,166.8 324.1,170.1 323.8,173 322.6,174 320.5,174.9 319.9,176.1 320.9,177.4 322.6,178.2 324.3,178 326.8,176.7 329.3,174.4 327.2,179 325.1,180.9 324.3,183.4 322.6,185.1 322,187.2 321.8,189.3 319.7,191 317.6,193.1 315.5,195.6 313.8,197.7 311.7,200 309.8,202.9 310.5,206.2 307.8,208.3 303.8,210.9 299.7,212.9 295.7,216.3 291.7,219.6 289,222.3 285,223 281,223.4 277.5,225 273.5,225.7 269.5,227.7 264.1,229 266,229.1 264.2,229.5 261.1,230.2 258,231.1 256.1,232 254.2,233 252.9,234.2 253.9,235.8 254.5,237.7 252.6,238.8 250.7,238.3 249.5,236.7 249,235.2 249.2,233 249.5,231.4 248.6,230.2 246,231.4 245.1,230.6 242.3,230.3 239.1,230.2 236,229.7 232,227.7 230.7,225 226,223 222.6,219.9 217.3,222.3 213.2,223 209.2,224.3 205.2,223.7 201.9,226.3 200.5,232.4 199.9,227.7 197.9,226.3 196.5,229.7 193.2,230.3 189.8,227.7 185.8,224.3 184.5,219 181.1,215 177.1,215 175.8,211.6 177.8,208.3 180.4,204.9 183.1,200.9 182.5,195.5 179.8,190.9 176.4,188.8 171.7,192.2 166.4,190.9 161,192.2 155.7,194.2 153,196.6 148.2,197.5 142.8,196.9 140.1,192.9 136.1,191.3 130.8,190.9 125.4,192.2 123.4,195.3 122.1,192.9 118.7,191.5 112,191.3 105.3,191.5 100.6,188.8 96,186.2 91.9,184.8 89.3,182.1 83.9,179.5 79.9,176.8 76.5,178.8 74.5,177.5 69.2,174.8 65.8,172.8 61.8,170.8 59.1,166.1 60.5,162.1 63.8,158.7 63.2,154 61.1,150 56.5,147.3 53.8,146 48.4,143.1 45.8,141.1 43.7,137.8 38.4,136.8 35,136 38.4,133.1 37.7,127.7 34.4,126.4 31,125" fill="none" stroke="#555" stroke-width="0.8" stroke-linejoin="round"/>
<polygon points="249.5,240.2 252.3,239.9 254.8,239.4 256.7,240.5 257.3,241.5 256.1,243.3 254.8,245.2 254.5,247.1 252.3,248.7 250.1,249.9 248.6,250.9 246.4,250.2 243.5,249.3 242.6,247.1 242.6,244.6 244.2,242.7 246.4,241.1" fill="none" stroke="#555" stroke-width="0.8" stroke-linejoin="round"/>
<polygon points="321.8,207.9 323.8,208.9 323.6,212.3 321.8,217 320.5,221 318.5,224.3 316.5,227.9 314.5,225 312.9,221 313.1,217 315.1,213.6 317.8,210.3 319.8,208.5" fill="none" stroke="#555" stroke-width="0.8" stroke-linejoin="round"/>
<path d="M319.1 234.4L323.5 230.0M308.4 252.0L311.6 246.3M306.3 264.5L306.3 270.2M303.4 295.3L305.9 289.3M285.2 317.9L289.2 312.9M262.0 341.1L268.3 339.0M240.3 318.5L240.3 325.2M251.3 293.4L253.6 287.1M247.3 263.7L250.7 269.6M327.2 218.3L328.9 212.3M333.2 204.9L334.8 203.3" stroke="#222" stroke-width="0.7" fill="none"/>
<path d="M291.8 236.0h1.8M297.9 269.2h1.0M291.7 262.3h0.8M320.6 227.0h1.2M265.2 327.3h1.2M260.2 262.0h0.9M264.7 258.9h0.9M259.7 257.6h0.9M265.9 263.9h0.9M257.8 265.2h0.9M262.1 260.3h0.9M267.1 260.5h0.9M279.7 298.7h0.8M273.5 304.5h0.6M273.2 304.3h0.5M282.6 297.1h0.5M282.3 305.5h0.5M277.1 304.6h0.9M286.0 299.8h0.9M272.9 308.2h0.6M275.3 299.4h0.6M292.0 295.9h0.7M287.6 299.2h0.7M273.3 299.3h0.6M288.7 299.5h0.6M286.3 300.4h0.6M291.6 301.8h0.6M285.9 301.2h0.9M289.8 297.7h0.9M274.6 302.9h0.8M275.5 303.5h0.5M288.3 303.3h0.7M293.5 297.0h0.8M286.5 301.7h0.7M292.7 304.2h0.7M288.2 295.6h0.8M287.8 305.9h0.8M278.7 301.5h0.8M272.3 304.0h0.6M274.5 299.0h0.8M274.9 301.0h0.7M293.4 294.5h0.7M285.3 305.3h0.8M293.3 296.7h0.7M280.5 306.5h0.9M275.5 300.0h0.6M256.6 315.7h0.7M257.6 312.5h0.7M261.1 314.9h0.9M272.1 311.5h0.7M271.6 308.9h0.9M275.1 312.8h0.8M262.1 313.7h0.5M270.3 309.3h0.5M255.8 314.0h0.6M250.5 314.5h0.6M252.2 316.2h0.5M278.4 310.4h0.6M257.3 314.7h0.6M252.7 318.9h0.9M264.6 313.5h0.5M252.2 316.1h0.6M276.9 308.1h0.5M281.1 309.1h0.6M267.1 310.0h0.7M281.9 310.9h0.8M257.6 314.7h0.6M274.8 310.8h0.8M326.0 174.2h1.0M327.7 175.5h1.0M326.9 177.8h1.0M325.4 179.6h1.0M326.3 182.0h1.0M324.1 184.5h1.0M323.4 187.2h1.0M322.0 189.0h1.0M317.0 197.5h1.0M315.3 199.8h1.0M311.9 204.3h1.0" stroke="#333" stroke-width="0.8" stroke-linecap="round" fill="none"/>
<path d="M308.2 217.6L308.9 220.6" stroke="#222" stroke-width="1" fill="none"/>
<ellipse cx="277.4" cy="265.4" rx="3.5" ry="1.6" transform="rotate(-25 277.4 265.4)" fill="none" stroke="#333" stroke-width="0.5"/>
<text x="32.5" y="226.1" class="t" font-size="11.3">XCO<tspan font-size="7.4" dy="1.9">2ano</tspan><tspan dy="-1.9">(ppm)</tspan></text>
<rect x="27" y="234.2" width="28.4" height="14" fill="#0000ff" stroke="#aaa" stroke-width="0.4"/>
<rect x="130.1" y="234.2" width="28.2" height="14" fill="#ccff66" stroke="#aaa" stroke-width="0.4"/>
<text x="60.4" y="245.7" class="t" font-size="11"><tspan fill="#222">−</tspan>1.55 <tspan fill="#222">−</tspan> <tspan fill="#222">−</tspan>0.57</text>
<text x="163.3" y="245.7" class="t" font-size="11">0.73 <tspan fill="#222">−</tspan> 1.08</text>
<rect x="27" y="253.2" width="28.4" height="14" fill="#3a5cf5" stroke="#aaa" stroke-width="0.4"/>
<rect x="130.1" y="253.2" width="28.2" height="14" fill="#ffff00" stroke="#aaa" stroke-width="0.4"/>
<text x="60.4" y="264.8" class="t" font-size="11"><tspan fill="#222">−</tspan>0.56 <tspan fill="#222">−</tspan> <tspan fill="#222">−</tspan>0.16</text>
<text x="163.3" y="264.8" class="t" font-size="11">1.09 <tspan fill="#222">−</tspan> 1.46</text>
<rect x="27" y="272.3" width="28.4" height="14" fill="#3aa2fa" stroke="#aaa" stroke-width="0.4"/>
<rect x="130.1" y="272.3" width="28.2" height="14" fill="#ffb400" stroke="#aaa" stroke-width="0.4"/>
<text x="60.4" y="283.8" class="t" font-size="11"><tspan fill="#222">−</tspan>0.15 <tspan fill="#222">−</tspan> 0.14</text>
<text x="163.3" y="283.8" class="t" font-size="11">1.47 <tspan fill="#222">−</tspan> 1.85</text>
<rect x="27" y="291.4" width="28.4" height="14" fill="#00ffff" stroke="#aaa" stroke-width="0.4"/>
<rect x="130.1" y="291.4" width="28.2" height="14" fill="#ff6a00" stroke="#aaa" stroke-width="0.4"/>
<text x="60.4" y="302.9" class="t" font-size="11">0.15 <tspan fill="#222">−</tspan> 0.41</text>
<text x="163.3" y="302.9" class="t" font-size="11">1.86 <tspan fill="#222">−</tspan> 2.28</text>
<rect x="27" y="310.4" width="28.4" height="14" fill="#86ffbe" stroke="#aaa" stroke-width="0.4"/>
<rect x="130.1" y="310.4" width="28.2" height="14" fill="#ff0000" stroke="#aaa" stroke-width="0.4"/>
<text x="60.4" y="321.9" class="t" font-size="11">0.42 <tspan fill="#222">−</tspan> 0.72</text>
<text x="163.3" y="321.9" class="t" font-size="11">2.29 <tspan fill="#222">−</tspan> 3.24</text>
<rect x="24.6" y="330.4" width="18.2" height="9.3" fill="#fff" stroke="#888" stroke-width="0.5"/>
<text x="46.6" y="338.5" class="t" font-size="11">National boundaries</text>
<path clip-path="url(#lg)" d="M135 340l10 -10M137.9 340l10 -10M140.8 340l10 -10M143.7 340l10 -10M146.6 340l10 -10M149.5 340l10 -10M152.4 340l10 -10M155.3 340l10 -10M158.2 340l10 -10M161.1 340l10 -10" stroke="#404040" stroke-width="0.5" fill="none"/>
<rect x="144.7" y="329.8" width="18" height="9.4" fill="none" stroke="#aaa" stroke-width="0.4"/>
<text x="167" y="338.2" class="t" font-size="11">Background area</text>
<rect x="292.2" y="339.8" width="83.4" height="4" fill="#fff" stroke="#000" stroke-width="0.5"/>
<rect x="292.2" y="339.6" width="41.7" height="4.4" fill="#000"/>
<text x="292.2" y="335" class="t" font-size="9.6" text-anchor="middle">0</text>
<text x="334" y="335" class="t" font-size="9.6" text-anchor="middle">750</text>
<text x="365.6" y="335" class="t" font-size="9.6">1500 km</text>
<text x="403.9" y="32" font-family="'Liberation Sans',sans-serif" font-weight="bold" font-size="5.2" text-anchor="middle" fill="#000">N</text>
<path d="M403.8 33.9L399 49L403.9 44.2Z" fill="#000"/><path d="M403.8 33.9L408.2 48.6L403.9 44.2Z" fill="#fff" stroke="#000" stroke-width="0.5"/>
<rect x="20.9" y="22.5" width="396" height="328.9" fill="none" stroke="#3c3c3c" stroke-width="1.4"/>
<text x="71.5" y="18.9" class="t" font-size="10" text-anchor="middle">80°E</text>
<text x="71.5" y="363.8" class="t" font-size="10" text-anchor="middle">80°E</text>
<text x="132.3" y="18.9" class="t" font-size="10" text-anchor="middle">90°E</text>
<text x="132.3" y="363.8" class="t" font-size="10" text-anchor="middle">90°E</text>
<text x="193.1" y="18.9" class="t" font-size="10" text-anchor="middle">100°E</text>
<text x="193.1" y="363.8" class="t" font-size="10" text-anchor="middle">100°E</text>
<text x="253.9" y="18.9" class="t" font-size="10" text-anchor="middle">110°E</text>
<text x="253.9" y="363.8" class="t" font-size="10" text-anchor="middle">110°E</text>
<text x="314.7" y="18.9" class="t" font-size="10" text-anchor="middle">120°E</text>
<text x="314.7" y="363.8" class="t" font-size="10" text-anchor="middle">120°E</text>
<text x="375.5" y="18.9" class="t" font-size="10" text-anchor="middle">130°E</text>
<text x="375.5" y="363.8" class="t" font-size="10" text-anchor="middle">130°E</text>
<text transform="translate(17.8 305.8) rotate(-90)" class="t" font-size="10" text-anchor="middle">10°N</text>
<text transform="translate(429.6 305.8) rotate(-90)" class="t" font-size="10" text-anchor="middle">10°N</text>
<text transform="translate(17.8 245) rotate(-90)" class="t" font-size="10" text-anchor="middle">20°N</text>
<text transform="translate(429.6 245) rotate(-90)" class="t" font-size="10" text-anchor="middle">20°N</text>
<text transform="translate(17.8 184.2) rotate(-90)" class="t" font-size="10" text-anchor="middle">30°N</text>
<text transform="translate(429.6 184.2) rotate(-90)" class="t" font-size="10" text-anchor="middle">30°N</text>
<text transform="translate(17.8 123.5) rotate(-90)" class="t" font-size="10" text-anchor="middle">40°N</text>
<text transform="translate(429.6 123.5) rotate(-90)" class="t" font-size="10" text-anchor="middle">40°N</text>
<text transform="translate(17.8 62.7) rotate(-90)" class="t" font-size="10" text-anchor="middle">50°N</text>
<text transform="translate(429.6 62.7) rotate(-90)" class="t" font-size="10" text-anchor="middle">50°N</text>
<text x="218.6" y="388.2" class="c" text-anchor="middle"><tspan>(</tspan><tspan font-weight="bold">d</tspan><tspan>) 2014</tspan></text>
</g>
<g transform="translate(0 777)">
<path d="M71.5 22.5V351.4M132.3 22.5V351.4M193.1 22.5V351.4M253.9 22.5V351.4M314.7 22.5V351.4M375.5 22.5V351.4" stroke="#cdcdcd" stroke-width="0.8" stroke-dasharray="3 10.95" stroke-dashoffset="8.5" fill="none"/><path d="M20.9 305.8H416.9M20.9 245H416.9M20.9 184.2H416.9M20.9 123.5H416.9M20.9 62.7H416.9" stroke="#cdcdcd" stroke-width="0.8" stroke-dasharray="3 10.914" stroke-dashoffset="13.6" fill="none"/><path d="M71.5 22.5v3M71.5 351.4v-3M132.3 22.5v3M132.3 351.4v-3M193.1 22.5v3M193.1 351.4v-3M253.9 22.5v3M253.9 351.4v-3M314.7 22.5v3M314.7 351.4v-3M375.5 22.5v3M375.5 351.4v-3M20.9 305.8h3M416.9 305.8h-3M20.9 245h3M416.9 245h-3M20.9 184.2h3M416.9 184.2h-3M20.9 123.5h3M416.9 123.5h-3M20.9 62.7h3M416.9 62.7h-3" stroke="#666" stroke-width="0.8" fill="none"/>
<g clip-path="url(#cn)">
<path d="M-196 260l224 -224M-193.1 260l224 -224M-190.2 260l224 -224M-187.3 260l224 -224M-184.4 260l224 -224M-181.5 260l224 -224M-178.6 260l224 -224M-175.7 260l224 -224M-172.8 260l224 -224M-169.9 260l224 -224M-167 260l224 -224M-164.1 260l224 -224M-161.2 260l224 -224M-158.3 260l224 -224M-155.4 260l224 -224M-152.5 260l224 -224M-149.6 260l224 -224M-146.7 260l224 -224M-143.8 260l224 -224M-140.9 260l224 -224M-138 260l224 -224M-135.1 260l224 -224M-132.2 260l224 -224M-129.3 260l224 -224M-126.4 260l224 -224M-123.5 260l224 -224M-120.6 260l224 -224M-117.7 260l224 -224M-114.8 260l224 -224M-111.9 260l224 -224M-109 260l224 -224M-106.1 260l224 -224M-103.2 260l224 -224M-100.3 260l224 -224M-97.4 260l224 -224M-94.5 260l224 -224M-91.6 260l224 -224M-88.7 260l224 -224M-85.8 260l224 -224M-82.9 260l224 -224M-80 260l224 -224M-77.1 260l224 -224M-74.2 260l224 -224M-71.3 260l224 -224M-68.4 260l224 -224M-65.5 260l224 -224M-62.6 260l224 -224M-59.7 260l224 -224M-56.8 260l224 -224M-53.9 260l224 -224M-51 260l224 -224M-48.1 260l224 -224M-45.2 260l224 -224M-42.3 260l224 -224M-39.4 260l224 -224M-36.5 260l224 -224M-33.6 260l224 -224M-30.7 260l224 -224M-27.8 260l224 -224M-24.9 260l224 -224M-22 260l224 -224M-19.1 260l224 -224M-16.2 260l224 -224M-13.3 260l224 -224M-10.4 260l224 -224M-7.5 260l224 -224M-4.6 260l224 -224M-1.7 260l224 -224M1.2 260l224 -224M4.1 260l224 -224M7 260l224 -224M9.9 260l224 -224M12.8 260l224 -224M15.7 260l224 -224M18.6 260l224 -224M21.5 260l224 -224M24.4 260l224 -224M27.3 260l224 -224M30.2 260l224 -224M33.1 260l224 -224M36 260l224 -224M38.9 260l224 -224M41.8 260l224 -224M44.7 260l224 -224M47.6 260l224 -224M50.5 260l224 -224M53.4 260l224 -224M56.3 260l224 -224M59.2 260l224 -224M62.1 260l224 -224M65 260l224 -224M67.9 260l224 -224M70.8 260l224 -224M73.7 260l224 -224M76.6 260l224 -224M79.5 260l224 -224M82.4 260l224 -224M85.3 260l224 -224M88.2 260l224 -224M91.1 260l224 -224M94 260l224 -224M96.9 260l224 -224M99.8 260l224 -224M102.7 260l224 -224M105.6 260l224 -224M108.5 260l224 -224M111.4 260l224 -224M114.3 260l224 -224M117.2 260l224 -224M120.1 260l224 -224M123 260l224 -224M125.9 260l224 -224M128.8 260l224 -224M131.7 260l224 -224M134.6 260l224 -224M137.5 260l224 -224M140.4 260l224 -224M143.3 260l224 -224M146.2 260l224 -224M149.1 260l224 -224M152 260l224 -224M154.9 260l224 -224M157.8 260l224 -224M160.7 260l224 -224M163.6 260l224 -224M166.5 260l224 -224M169.4 260l224 -224M172.3 260l224 -224M175.2 260l224 -224M178.1 260l224 -224M181 260l224 -224M183.9 260l224 -224M186.8 260l224 -224M189.7 260l224 -224M192.6 260l224 -224M195.5 260l224 -224M198.4 260l224 -224M201.3 260l224 -224M204.2 260l224 -224M207.1 260l224 -224M210 260l224 -224M212.9 260l224 -224M215.8 260l224 -224M218.7 260l224 -224M221.6 260l224 -224M224.5 260l224 -224M227.4 260l224 -224M230.3 260l224 -224M233.2 260l224 -224M236.1 260l224 -224M239 260l224 -224M241.9 260l224 -224M244.8 260l224 -224M247.7 260l224 -224M250.6 260l224 -224M253.5 260l224 -224M256.4 260l224 -224M259.3 260l224 -224M262.2 260l224 -224M265.1 260l224 -224M268 260l224 -224M270.9 260l224 -224M273.8 260l224 -224M276.7 260l224 -224M279.6 260l224 -224M282.5 260l224 -224M285.4 260l224 -224M288.3 260l224 -224M291.2 260l224 -224M294.1 260l224 -224M297 260l224 -224M299.9 260l224 -224M302.8 260l224 -224M305.7 260l224 -224M308.6 260l224 -224M311.5 260l224 -224M314.4 260l224 -224M317.3 260l224 -224M320.2 260l224 -224M323.1 260l224 -224M326 260l224 -224M328.9 260l224 -224M331.8 260l224 -224M334.7 260l224 -224M337.6 260l224 -224M340.5 260l224 -224M343.4 260l224 -224M346.3 260l224 -224M349.2 260l224 -224M352.1 260l224 -224M355 260l224 -224M357.9 260l224 -224M360.8 260l224 -224M363.7 260l224 -224M366.6 260l224 -224M369.5 260l224 -224M372.4 260l224 -224M375.3 260l224 -224M378.2 260l224 -224M381.1 260l224 -224M384 260l224 -224M386.9 260l224 -224M389.8 260l224 -224M392.7 260l224 -224M395.6 260l224 -224M398.5 260l224 -224M401.4 260l224 -224M404.3 260l224 -224" stroke="#585858" stroke-width="0.4" fill="none"/>
<rect x="317.9" y="33" width="12.5" height="6.4" fill="#00ffff"/>
<rect x="330.1" y="33" width="18.5" height="6.4" fill="#3aa2fa"/>
<rect x="311.9" y="39.1" width="6.4" height="6.4" fill="#3aa2fa"/>
<rect x="317.9" y="39.1" width="12.5" height="6.4" fill="#00ffff"/>
<rect x="330.1" y="39.1" width="18.5" height="6.4" fill="#3aa2fa"/>
<rect x="348.3" y="39.1" width="6.4" height="6.4" fill="#3a5cf5"/>
<rect x="305.8" y="45.2" width="18.5" height="6.4" fill="#3aa2fa"/>
<rect x="330.1" y="45.2" width="12.5" height="6.4" fill="#3aa2fa"/>
<rect x="348.3" y="45.2" width="12.5" height="6.4" fill="#3aa2fa"/>
<rect x="305.8" y="51.3" width="24.6" height="6.4" fill="#3a5cf5"/>
<rect x="330.1" y="51.3" width="6.4" height="6.4" fill="#3aa2fa"/>
<rect x="336.2" y="51.3" width="12.5" height="6.4" fill="#3a5cf5"/>
<rect x="348.3" y="51.3" width="12.5" height="6.4" fill="#3aa2fa"/>
<rect x="287.5" y="57.3" width="6.4" height="6.4" fill="#0000ff"/>
<rect x="293.6" y="57.3" width="24.6" height="6.4" fill="#3a5cf5"/>
<rect x="317.9" y="57.3" width="6.4" height="6.4" fill="#3aa2fa"/>
<rect x="330.1" y="57.3" width="12.5" height="6.4" fill="#3aa2fa"/>
<rect x="342.3" y="57.3" width="12.5" height="6.4" fill="#3a5cf5"/>
<rect x="354.4" y="57.3" width="18.5" height="6.4" fill="#3aa2fa"/>
<rect x="105.1" y="63.4" width="12.5" height="6.4" fill="#3a5cf5"/>
<rect x="281.5" y="63.4" width="24.6" height="6.4" fill="#3a5cf5"/>
<rect x="305.8" y="63.4" width="6.4" height="6.4" fill="#0000ff"/>
<rect x="311.9" y="63.4" width="6.4" height="6.4" fill="#3a5cf5"/>
<rect x="317.9" y="63.4" width="24.6" height="6.4" fill="#3aa2fa"/>
<rect x="342.3" y="63.4" width="36.8" height="6.4" fill="#3a5cf5"/>
<rect x="390.9" y="63.4" width="12.5" height="6.4" fill="#3aa2fa"/>
<rect x="99.1" y="69.5" width="30.7" height="6.4" fill="#3a5cf5"/>
<rect x="281.5" y="69.5" width="6.4" height="6.4" fill="#3a5cf5"/>
<rect x="305.8" y="69.5" width="12.5" height="6.4" fill="#3a5cf5"/>
<rect x="317.9" y="69.5" width="6.4" height="6.4" fill="#3aa2fa"/>
<rect x="324" y="69.5" width="6.4" height="6.4" fill="#00ffff"/>
<rect x="330.1" y="69.5" width="12.5" height="6.4" fill="#3aa2fa"/>
<rect x="342.3" y="69.5" width="48.9" height="6.4" fill="#3a5cf5"/>
<rect x="390.9" y="69.5" width="12.5" height="6.4" fill="#3aa2fa"/>
<rect x="86.9" y="75.6" width="12.5" height="6.4" fill="#3a5cf5"/>
<rect x="99.1" y="75.6" width="24.6" height="6.4" fill="#3aa2fa"/>
<rect x="123.4" y="75.6" width="6.4" height="6.4" fill="#3a5cf5"/>
<rect x="129.5" y="75.6" width="6.4" height="6.4" fill="#3aa2fa"/>
<rect x="293.6" y="75.6" width="6.4" height="6.4" fill="#3aa2fa"/>
<rect x="299.7" y="75.6" width="12.5" height="6.4" fill="#3a5cf5"/>
<rect x="311.9" y="75.6" width="12.5" height="6.4" fill="#3aa2fa"/>
<rect x="324" y="75.6" width="6.4" height="6.4" fill="#00ffff"/>
<rect x="330.1" y="75.6" width="12.5" height="6.4" fill="#3aa2fa"/>
<rect x="342.3" y="75.6" width="30.7" height="6.4" fill="#3a5cf5"/>
<rect x="372.7" y="75.6" width="24.6" height="6.4" fill="#3aa2fa"/>
<rect x="80.8" y="81.7" width="18.5" height="6.4" fill="#3a5cf5"/>
<rect x="99.1" y="81.7" width="6.4" height="6.4" fill="#3aa2fa"/>
<rect x="105.1" y="81.7" width="18.5" height="6.4" fill="#00ffff"/>
<rect x="281.5" y="81.7" width="18.5" height="6.4" fill="#3aa2fa"/>
<rect x="299.7" y="81.7" width="6.4" height="6.4" fill="#3a5cf5"/>
<rect x="305.8" y="81.7" width="6.4" height="6.4" fill="#3aa2fa"/>
<rect x="311.9" y="81.7" width="6.4" height="6.4" fill="#00ffff"/>
<rect x="317.9" y="81.7" width="36.8" height="6.4" fill="#3aa2fa"/>
<rect x="354.4" y="81.7" width="12.5" height="6.4" fill="#3a5cf5"/>
<rect x="366.6" y="81.7" width="30.7" height="6.4" fill="#3aa2fa"/>
<rect x="68.7" y="87.7" width="6.4" height="6.4" fill="#3a5cf5"/>
<rect x="74.7" y="87.7" width="12.5" height="6.4" fill="#0000ff"/>
<rect x="86.9" y="87.7" width="24.6" height="6.4" fill="#3a5cf5"/>
<rect x="111.2" y="87.7" width="6.4" height="6.4" fill="#3aa2fa"/>
<rect x="117.3" y="87.7" width="6.4" height="6.4" fill="#00ffff"/>
<rect x="123.4" y="87.7" width="12.5" height="6.4" fill="#86ffbe"/>
<rect x="135.5" y="87.7" width="12.5" height="6.4" fill="#ccff66"/>
<rect x="153.8" y="87.7" width="6.4" height="6.4" fill="#3aa2fa"/>
<rect x="257.1" y="87.7" width="6.4" height="6.4" fill="#3a5cf5"/>
<rect x="269.3" y="87.7" width="6.4" height="6.4" fill="#0000ff"/>
<rect x="275.4" y="87.7" width="18.5" height="6.4" fill="#3a5cf5"/>
<rect x="293.6" y="87.7" width="12.5" height="6.4" fill="#3aa2fa"/>
<rect x="305.8" y="87.7" width="6.4" height="6.4" fill="#3a5cf5"/>
<rect x="311.9" y="87.7" width="24.6" height="6.4" fill="#3aa2fa"/>
<rect x="336.2" y="87.7" width="18.5" height="6.4" fill="#00ffff"/>
<rect x="354.4" y="87.7" width="12.5" height="6.4" fill="#3aa2fa"/>
<rect x="366.6" y="87.7" width="12.5" height="6.4" fill="#00ffff"/>
<rect x="378.7" y="87.7" width="6.4" height="6.4" fill="#3aa2fa"/>
<rect x="68.7" y="93.8" width="12.5" height="6.4" fill="#3a5cf5"/>
<rect x="80.8" y="93.8" width="30.7" height="6.4" fill="#0000ff"/>
<rect x="111.2" y="93.8" width="6.4" height="6.4" fill="#3a5cf5"/>
<rect x="117.3" y="93.8" width="6.4" height="6.4" fill="#3aa2fa"/>
<rect x="123.4" y="93.8" width="12.5" height="6.4" fill="#86ffbe"/>
<rect x="135.5" y="93.8" width="12.5" height="6.4" fill="#ccff66"/>
<rect x="147.7" y="93.8" width="6.4" height="6.4" fill="#00ffff"/>
<rect x="153.8" y="93.8" width="6.4" height="6.4" fill="#3aa2fa"/>
<rect x="159.9" y="93.8" width="6.4" height="6.4" fill="#00ffff"/>
<rect x="251.1" y="93.8" width="36.8" height="6.4" fill="#3a5cf5"/>
<rect x="287.5" y="93.8" width="6.4" height="6.4" fill="#3aa2fa"/>
<rect x="293.6" y="93.8" width="12.5" height="6.4" fill="#00ffff"/>
<rect x="305.8" y="93.8" width="6.4" height="6.4" fill="#3a5cf5"/>
<rect x="311.9" y="93.8" width="12.5" height="6.4" fill="#3aa2fa"/>
<rect x="324" y="93.8" width="6.4" height="6.4" fill="#3a5cf5"/>
<rect x="330.1" y="93.8" width="6.4" height="6.4" fill="#86ffbe"/>
<rect x="336.2" y="93.8" width="6.4" height="6.4" fill="#ccff66"/>
<rect x="342.3" y="93.8" width="6.4" height="6.4" fill="#86ffbe"/>
<rect x="348.3" y="93.8" width="6.4" height="6.4" fill="#00ffff"/>
<rect x="354.4" y="93.8" width="30.7" height="6.4" fill="#3aa2fa"/>
<rect x="68.7" y="99.9" width="12.5" height="6.4" fill="#3a5cf5"/>
<rect x="80.8" y="99.9" width="18.5" height="6.4" fill="#0000ff"/>
<rect x="99.1" y="99.9" width="12.5" height="6.4" fill="#3a5cf5"/>
<rect x="111.2" y="99.9" width="6.4" height="6.4" fill="#3aa2fa"/>
<rect x="117.3" y="99.9" width="6.4" height="6.4" fill="#00ffff"/>
<rect x="123.4" y="99.9" width="12.5" height="6.4" fill="#86ffbe"/>
<rect x="135.5" y="99.9" width="6.4" height="6.4" fill="#00ffff"/>
<rect x="141.6" y="99.9" width="6.4" height="6.4" fill="#86ffbe"/>
<rect x="147.7" y="99.9" width="6.4" height="6.4" fill="#00ffff"/>
<rect x="153.8" y="99.9" width="6.4" height="6.4" fill="#3aa2fa"/>
<rect x="159.9" y="99.9" width="12.5" height="6.4" fill="#00ffff"/>
<rect x="178.1" y="99.9" width="6.4" height="6.4" fill="#86ffbe"/>
<rect x="184.2" y="99.9" width="6.4" height="6.4" fill="#00ffff"/>
<rect x="190.3" y="99.9" width="12.5" height="6.4" fill="#3aa2fa"/>
<rect x="226.7" y="99.9" width="12.5" height="6.4" fill="#3a5cf5"/>
<rect x="245" y="99.9" width="12.5" height="6.4" fill="#3a5cf5"/>
<rect x="263.2" y="99.9" width="18.5" height="6.4" fill="#3a5cf5"/>
<rect x="281.5" y="99.9" width="6.4" height="6.4" fill="#3aa2fa"/>
<rect x="287.5" y="99.9" width="18.5" height="6.4" fill="#86ffbe"/>
<rect x="305.8" y="99.9" width="6.4" height="6.4" fill="#00ffff"/>
<rect x="311.9" y="99.9" width="6.4" height="6.4" fill="#3aa2fa"/>
<rect x="317.9" y="99.9" width="12.5" height="6.4" fill="#00ffff"/>
<rect x="330.1" y="99.9" width="6.4" height="6.4" fill="#86ffbe"/>
<rect x="336.2" y="99.9" width="6.4" height="6.4" fill="#ccff66"/>
<rect x="342.3" y="99.9" width="6.4" height="6.4" fill="#00ffff"/>
<rect x="348.3" y="99.9" width="6.4" height="6.4" fill="#3aa2fa"/>
<rect x="354.4" y="99.9" width="18.5" height="6.4" fill="#3a5cf5"/>
<rect x="372.7" y="99.9" width="6.4" height="6.4" fill="#3aa2fa"/>
<rect x="56.5" y="106" width="18.5" height="6.4" fill="#3a5cf5"/>
<rect x="74.7" y="106" width="6.4" height="6.4" fill="#3aa2fa"/>
<rect x="80.8" y="106" width="12.5" height="6.4" fill="#00ffff"/>
<rect x="93" y="106" width="36.8" height="6.4" fill="#86ffbe"/>
<rect x="129.5" y="106" width="12.5" height="6.4" fill="#00ffff"/>
<rect x="147.7" y="106" width="24.6" height="6.4" fill="#00ffff"/>
<rect x="172" y="106" width="6.4" height="6.4" fill="#3aa2fa"/>
<rect x="184.2" y="106" width="18.5" height="6.4" fill="#3a5cf5"/>
<rect x="226.7" y="106" width="12.5" height="6.4" fill="#3a5cf5"/>
<rect x="238.9" y="106" width="12.5" height="6.4" fill="#3aa2fa"/>
<rect x="251.1" y="106" width="18.5" height="6.4" fill="#00ffff"/>
<rect x="269.3" y="106" width="6.4" height="6.4" fill="#3aa2fa"/>
<rect x="275.4" y="106" width="6.4" height="6.4" fill="#00ffff"/>
<rect x="281.5" y="106" width="6.4" height="6.4" fill="#ccff66"/>
<rect x="287.5" y="106" width="12.5" height="6.4" fill="#ffff00"/>
<rect x="299.7" y="106" width="6.4" height="6.4" fill="#ccff66"/>
<rect x="305.8" y="106" width="6.4" height="6.4" fill="#86ffbe"/>
<rect x="311.9" y="106" width="6.4" height="6.4" fill="#00ffff"/>
<rect x="317.9" y="106" width="18.5" height="6.4" fill="#86ffbe"/>
<rect x="336.2" y="106" width="6.4" height="6.4" fill="#ccff66"/>
<rect x="342.3" y="106" width="6.4" height="6.4" fill="#86ffbe"/>
<rect x="348.3" y="106" width="6.4" height="6.4" fill="#3aa2fa"/>
<rect x="354.4" y="106" width="12.5" height="6.4" fill="#3a5cf5"/>
<rect x="56.5" y="112" width="6.4" height="6.4" fill="#3a5cf5"/>
<rect x="62.6" y="112" width="12.5" height="6.4" fill="#3aa2fa"/>
<rect x="74.7" y="112" width="12.5" height="6.4" fill="#00ffff"/>
<rect x="86.9" y="112" width="6.4" height="6.4" fill="#86ffbe"/>
<rect x="93" y="112" width="6.4" height="6.4" fill="#ccff66"/>
<rect x="105.1" y="112" width="12.5" height="6.4" fill="#ccff66"/>
<rect x="135.5" y="112" width="6.4" height="6.4" fill="#00ffff"/>
<rect x="153.8" y="112" width="12.5" height="6.4" fill="#3aa2fa"/>
<rect x="165.9" y="112" width="12.5" height="6.4" fill="#3a5cf5"/>
<rect x="178.1" y="112" width="12.5" height="6.4" fill="#3aa2fa"/>
<rect x="190.3" y="112" width="6.4" height="6.4" fill="#3a5cf5"/>
<rect x="208.5" y="112" width="12.5" height="6.4" fill="#3a5cf5"/>
<rect x="226.7" y="112" width="6.4" height="6.4" fill="#3aa2fa"/>
<rect x="232.8" y="112" width="18.5" height="6.4" fill="#86ffbe"/>
<rect x="251.1" y="112" width="6.4" height="6.4" fill="#ccff66"/>
<rect x="257.1" y="112" width="6.4" height="6.4" fill="#ffff00"/>
<rect x="263.2" y="112" width="12.5" height="6.4" fill="#ccff66"/>
<rect x="275.4" y="112" width="6.4" height="6.4" fill="#ffff00"/>
<rect x="281.5" y="112" width="18.5" height="6.4" fill="#ffb400"/>
<rect x="299.7" y="112" width="6.4" height="6.4" fill="#ffff00"/>
<rect x="305.8" y="112" width="12.5" height="6.4" fill="#ccff66"/>
<rect x="317.9" y="112" width="6.4" height="6.4" fill="#86ffbe"/>
<rect x="324" y="112" width="12.5" height="6.4" fill="#ccff66"/>
<rect x="336.2" y="112" width="6.4" height="6.4" fill="#ffff00"/>
<rect x="342.3" y="112" width="6.4" height="6.4" fill="#ccff66"/>
<rect x="348.3" y="112" width="6.4" height="6.4" fill="#86ffbe"/>
<rect x="26.1" y="118.1" width="6.4" height="6.4" fill="#3aa2fa"/>
<rect x="38.3" y="118.1" width="6.4" height="6.4" fill="#3a5cf5"/>
<rect x="44.3" y="118.1" width="6.4" height="6.4" fill="#3aa2fa"/>
<rect x="50.4" y="118.1" width="18.5" height="6.4" fill="#00ffff"/>
<rect x="68.7" y="118.1" width="6.4" height="6.4" fill="#3aa2fa"/>
<rect x="80.8" y="118.1" width="12.5" height="6.4" fill="#00ffff"/>
<rect x="117.3" y="118.1" width="6.4" height="6.4" fill="#00ffff"/>
<rect x="147.7" y="118.1" width="12.5" height="6.4" fill="#0000ff"/>
<rect x="165.9" y="118.1" width="12.5" height="6.4" fill="#0000ff"/>
<rect x="178.1" y="118.1" width="36.8" height="6.4" fill="#3a5cf5"/>
<rect x="220.7" y="118.1" width="30.7" height="6.4" fill="#3aa2fa"/>
<rect x="251.1" y="118.1" width="18.5" height="6.4" fill="#ffff00"/>
<rect x="269.3" y="118.1" width="6.4" height="6.4" fill="#ccff66"/>
<rect x="275.4" y="118.1" width="12.5" height="6.4" fill="#ffff00"/>
<rect x="287.5" y="118.1" width="30.7" height="6.4" fill="#ffb400"/>
<rect x="317.9" y="118.1" width="12.5" height="6.4" fill="#ffff00"/>
<rect x="330.1" y="118.1" width="6.4" height="6.4" fill="#ccff66"/>
<rect x="38.3" y="124.2" width="12.5" height="6.4" fill="#3a5cf5"/>
<rect x="50.4" y="124.2" width="6.4" height="6.4" fill="#3aa2fa"/>
<rect x="68.7" y="124.2" width="6.4" height="6.4" fill="#3aa2fa"/>
<rect x="86.9" y="124.2" width="12.5" height="6.4" fill="#00ffff"/>
<rect x="99.1" y="124.2" width="6.4" height="6.4" fill="#3aa2fa"/>
<rect x="111.2" y="124.2" width="6.4" height="6.4" fill="#3a5cf5"/>
<rect x="117.3" y="124.2" width="6.4" height="6.4" fill="#0000ff"/>
<rect x="129.5" y="124.2" width="6.4" height="6.4" fill="#3a5cf5"/>
<rect x="135.5" y="124.2" width="18.5" height="6.4" fill="#3aa2fa"/>
<rect x="153.8" y="124.2" width="6.4" height="6.4" fill="#3a5cf5"/>
<rect x="178.1" y="124.2" width="12.5" height="6.4" fill="#0000ff"/>
<rect x="190.3" y="124.2" width="18.5" height="6.4" fill="#3a5cf5"/>
<rect x="208.5" y="124.2" width="6.4" height="6.4" fill="#3aa2fa"/>
<rect x="220.7" y="124.2" width="12.5" height="6.4" fill="#00ffff"/>
<rect x="232.8" y="124.2" width="6.4" height="6.4" fill="#3aa2fa"/>
<rect x="238.9" y="124.2" width="6.4" height="6.4" fill="#00ffff"/>
<rect x="245" y="124.2" width="6.4" height="6.4" fill="#86ffbe"/>
<rect x="251.1" y="124.2" width="30.7" height="6.4" fill="#ccff66"/>
<rect x="281.5" y="124.2" width="6.4" height="6.4" fill="#ffff00"/>
<rect x="287.5" y="124.2" width="12.5" height="6.4" fill="#ffb400"/>
<rect x="38.3" y="130.3" width="6.4" height="6.4" fill="#3aa2fa"/>
<rect x="44.3" y="130.3" width="18.5" height="6.4" fill="#3a5cf5"/>
<rect x="62.6" y="130.3" width="12.5" height="6.4" fill="#3aa2fa"/>
<rect x="74.7" y="130.3" width="12.5" height="6.4" fill="#00ffff"/>
<rect x="93" y="130.3" width="6.4" height="6.4" fill="#3aa2fa"/>
<rect x="117.3" y="130.3" width="6.4" height="6.4" fill="#3a5cf5"/>
<rect x="135.5" y="130.3" width="6.4" height="6.4" fill="#3aa2fa"/>
<rect x="141.6" y="130.3" width="6.4" height="6.4" fill="#00ffff"/>
<rect x="147.7" y="130.3" width="30.7" height="6.4" fill="#3aa2fa"/>
<rect x="178.1" y="130.3" width="18.5" height="6.4" fill="#3a5cf5"/>
<rect x="196.3" y="130.3" width="18.5" height="6.4" fill="#3aa2fa"/>
<rect x="214.6" y="130.3" width="18.5" height="6.4" fill="#00ffff"/>
<rect x="232.8" y="130.3" width="12.5" height="6.4" fill="#3aa2fa"/>
<rect x="245" y="130.3" width="18.5" height="6.4" fill="#86ffbe"/>
<rect x="263.2" y="130.3" width="18.5" height="6.4" fill="#ccff66"/>
<rect x="281.5" y="130.3" width="24.6" height="6.4" fill="#ffff00"/>
<rect x="305.8" y="130.3" width="6.4" height="6.4" fill="#ccff66"/>
<rect x="311.9" y="130.3" width="18.5" height="6.4" fill="#86ffbe"/>
<rect x="38.3" y="136.4" width="6.4" height="6.4" fill="#3aa2fa"/>
<rect x="56.5" y="136.4" width="12.5" height="6.4" fill="#3aa2fa"/>
<rect x="68.7" y="136.4" width="12.5" height="6.4" fill="#3a5cf5"/>
<rect x="86.9" y="136.4" width="6.4" height="6.4" fill="#3a5cf5"/>
<rect x="135.5" y="136.4" width="36.8" height="6.4" fill="#3aa2fa"/>
<rect x="172" y="136.4" width="18.5" height="6.4" fill="#3a5cf5"/>
<rect x="190.3" y="136.4" width="6.4" height="6.4" fill="#3aa2fa"/>
<rect x="196.3" y="136.4" width="6.4" height="6.4" fill="#00ffff"/>
<rect x="202.4" y="136.4" width="6.4" height="6.4" fill="#86ffbe"/>
<rect x="208.5" y="136.4" width="12.5" height="6.4" fill="#00ffff"/>
<rect x="220.7" y="136.4" width="12.5" height="6.4" fill="#3aa2fa"/>
<rect x="232.8" y="136.4" width="12.5" height="6.4" fill="#00ffff"/>
<rect x="245" y="136.4" width="6.4" height="6.4" fill="#86ffbe"/>
<rect x="251.1" y="136.4" width="24.6" height="6.4" fill="#ccff66"/>
<rect x="275.4" y="136.4" width="18.5" height="6.4" fill="#ffff00"/>
<rect x="293.6" y="136.4" width="18.5" height="6.4" fill="#ccff66"/>
<rect x="311.9" y="136.4" width="6.4" height="6.4" fill="#86ffbe"/>
<rect x="317.9" y="136.4" width="6.4" height="6.4" fill="#00ffff"/>
<rect x="68.7" y="142.4" width="12.5" height="6.4" fill="#3a5cf5"/>
<rect x="80.8" y="142.4" width="6.4" height="6.4" fill="#3aa2fa"/>
<rect x="99.1" y="142.4" width="6.4" height="6.4" fill="#3aa2fa"/>
<rect x="147.7" y="142.4" width="12.5" height="6.4" fill="#3aa2fa"/>
<rect x="172" y="142.4" width="30.7" height="6.4" fill="#3a5cf5"/>
<rect x="202.4" y="142.4" width="6.4" height="6.4" fill="#3aa2fa"/>
<rect x="208.5" y="142.4" width="6.4" height="6.4" fill="#00ffff"/>
<rect x="214.6" y="142.4" width="12.5" height="6.4" fill="#3aa2fa"/>
<rect x="226.7" y="142.4" width="6.4" height="6.4" fill="#00ffff"/>
<rect x="232.8" y="142.4" width="6.4" height="6.4" fill="#86ffbe"/>
<rect x="238.9" y="142.4" width="48.9" height="6.4" fill="#ccff66"/>
<rect x="287.5" y="142.4" width="6.4" height="6.4" fill="#ffff00"/>
<rect x="293.6" y="142.4" width="18.5" height="6.4" fill="#ccff66"/>
<rect x="80.8" y="148.5" width="6.4" height="6.4" fill="#3aa2fa"/>
<rect x="123.4" y="148.5" width="6.4" height="6.4" fill="#3aa2fa"/>
<rect x="141.6" y="148.5" width="6.4" height="6.4" fill="#3aa2fa"/>
<rect x="159.9" y="148.5" width="6.4" height="6.4" fill="#3aa2fa"/>
<rect x="178.1" y="148.5" width="6.4" height="6.4" fill="#3a5cf5"/>
<rect x="190.3" y="148.5" width="24.6" height="6.4" fill="#3a5cf5"/>
<rect x="214.6" y="148.5" width="6.4" height="6.4" fill="#3aa2fa"/>
<rect x="220.7" y="148.5" width="12.5" height="6.4" fill="#00ffff"/>
<rect x="232.8" y="148.5" width="24.6" height="6.4" fill="#ccff66"/>
<rect x="257.1" y="148.5" width="12.5" height="6.4" fill="#ffff00"/>
<rect x="269.3" y="148.5" width="48.9" height="6.4" fill="#ccff66"/>
<rect x="62.6" y="154.6" width="6.4" height="6.4" fill="#00ffff"/>
<rect x="141.6" y="154.6" width="6.4" height="6.4" fill="#00ffff"/>
<rect x="159.9" y="154.6" width="12.5" height="6.4" fill="#00ffff"/>
<rect x="172" y="154.6" width="12.5" height="6.4" fill="#3aa2fa"/>
<rect x="184.2" y="154.6" width="30.7" height="6.4" fill="#3a5cf5"/>
<rect x="214.6" y="154.6" width="6.4" height="6.4" fill="#3aa2fa"/>
<rect x="220.7" y="154.6" width="6.4" height="6.4" fill="#00ffff"/>
<rect x="226.7" y="154.6" width="12.5" height="6.4" fill="#86ffbe"/>
<rect x="238.9" y="154.6" width="24.6" height="6.4" fill="#ccff66"/>
<rect x="263.2" y="154.6" width="6.4" height="6.4" fill="#ffff00"/>
<rect x="269.3" y="154.6" width="42.9" height="6.4" fill="#ccff66"/>
<rect x="311.9" y="154.6" width="6.4" height="6.4" fill="#86ffbe"/>
<rect x="68.7" y="160.7" width="6.4" height="6.4" fill="#00ffff"/>
<rect x="135.5" y="160.7" width="12.5" height="6.4" fill="#00ffff"/>
<rect x="159.9" y="160.7" width="18.5" height="6.4" fill="#00ffff"/>
<rect x="178.1" y="160.7" width="6.4" height="6.4" fill="#3aa2fa"/>
<rect x="190.3" y="160.7" width="18.5" height="6.4" fill="#3a5cf5"/>
<rect x="208.5" y="160.7" width="12.5" height="6.4" fill="#3aa2fa"/>
<rect x="220.7" y="160.7" width="6.4" height="6.4" fill="#00ffff"/>
<rect x="226.7" y="160.7" width="18.5" height="6.4" fill="#86ffbe"/>
<rect x="245" y="160.7" width="12.5" height="6.4" fill="#ccff66"/>
<rect x="257.1" y="160.7" width="12.5" height="6.4" fill="#ffff00"/>
<rect x="269.3" y="160.7" width="30.7" height="6.4" fill="#ccff66"/>
<rect x="299.7" y="160.7" width="12.5" height="6.4" fill="#ffff00"/>
<rect x="311.9" y="160.7" width="12.5" height="6.4" fill="#ccff66"/>
<rect x="56.5" y="166.7" width="6.4" height="6.4" fill="#3aa2fa"/>
<rect x="111.2" y="166.7" width="6.4" height="6.4" fill="#3aa2fa"/>
<rect x="123.4" y="166.7" width="6.4" height="6.4" fill="#3aa2fa"/>
<rect x="129.5" y="166.7" width="18.5" height="6.4" fill="#00ffff"/>
<rect x="147.7" y="166.7" width="6.4" height="6.4" fill="#86ffbe"/>
<rect x="159.9" y="166.7" width="6.4" height="6.4" fill="#00ffff"/>
<rect x="165.9" y="166.7" width="12.5" height="6.4" fill="#3aa2fa"/>
<rect x="178.1" y="166.7" width="30.7" height="6.4" fill="#3a5cf5"/>
<rect x="208.5" y="166.7" width="18.5" height="6.4" fill="#3aa2fa"/>
<rect x="226.7" y="166.7" width="12.5" height="6.4" fill="#86ffbe"/>
<rect x="238.9" y="166.7" width="12.5" height="6.4" fill="#ccff66"/>
<rect x="251.1" y="166.7" width="12.5" height="6.4" fill="#ffff00"/>
<rect x="263.2" y="166.7" width="24.6" height="6.4" fill="#ccff66"/>
<rect x="287.5" y="166.7" width="6.4" height="6.4" fill="#ffff00"/>
<rect x="293.6" y="166.7" width="24.6" height="6.4" fill="#ffb400"/>
<rect x="317.9" y="166.7" width="6.4" height="6.4" fill="#ffff00"/>
<rect x="68.7" y="172.8" width="12.5" height="6.4" fill="#3a5cf5"/>
<rect x="117.3" y="172.8" width="6.4" height="6.4" fill="#3aa2fa"/>
<rect x="129.5" y="172.8" width="12.5" height="6.4" fill="#00ffff"/>
<rect x="147.7" y="172.8" width="6.4" height="6.4" fill="#86ffbe"/>
<rect x="153.8" y="172.8" width="12.5" height="6.4" fill="#00ffff"/>
<rect x="165.9" y="172.8" width="6.4" height="6.4" fill="#3aa2fa"/>
<rect x="172" y="172.8" width="18.5" height="6.4" fill="#3a5cf5"/>
<rect x="190.3" y="172.8" width="12.5" height="6.4" fill="#3aa2fa"/>
<rect x="202.4" y="172.8" width="6.4" height="6.4" fill="#3a5cf5"/>
<rect x="208.5" y="172.8" width="6.4" height="6.4" fill="#3aa2fa"/>
<rect x="214.6" y="172.8" width="12.5" height="6.4" fill="#00ffff"/>
<rect x="226.7" y="172.8" width="36.8" height="6.4" fill="#ccff66"/>
<rect x="263.2" y="172.8" width="12.5" height="6.4" fill="#86ffbe"/>
<rect x="275.4" y="172.8" width="6.4" height="6.4" fill="#ccff66"/>
<rect x="281.5" y="172.8" width="12.5" height="6.4" fill="#ffff00"/>
<rect x="293.6" y="172.8" width="18.5" height="6.4" fill="#ffb400"/>
<rect x="311.9" y="172.8" width="12.5" height="6.4" fill="#ff6a00"/>
<rect x="111.2" y="178.9" width="12.5" height="6.4" fill="#00ffff"/>
<rect x="123.4" y="178.9" width="6.4" height="6.4" fill="#86ffbe"/>
<rect x="129.5" y="178.9" width="18.5" height="6.4" fill="#00ffff"/>
<rect x="147.7" y="178.9" width="18.5" height="6.4" fill="#86ffbe"/>
<rect x="172" y="178.9" width="6.4" height="6.4" fill="#00ffff"/>
<rect x="178.1" y="178.9" width="18.5" height="6.4" fill="#3a5cf5"/>
<rect x="196.3" y="178.9" width="18.5" height="6.4" fill="#3aa2fa"/>
<rect x="214.6" y="178.9" width="6.4" height="6.4" fill="#00ffff"/>
<rect x="220.7" y="178.9" width="6.4" height="6.4" fill="#86ffbe"/>
<rect x="226.7" y="178.9" width="24.6" height="6.4" fill="#ccff66"/>
<rect x="251.1" y="178.9" width="30.7" height="6.4" fill="#86ffbe"/>
<rect x="281.5" y="178.9" width="12.5" height="6.4" fill="#ccff66"/>
<rect x="293.6" y="178.9" width="6.4" height="6.4" fill="#ffff00"/>
<rect x="299.7" y="178.9" width="12.5" height="6.4" fill="#ffb400"/>
<rect x="311.9" y="178.9" width="6.4" height="6.4" fill="#ff6a00"/>
<rect x="317.9" y="178.9" width="6.4" height="6.4" fill="#ff0000"/>
<rect x="93" y="185" width="12.5" height="6.4" fill="#0000ff"/>
<rect x="111.2" y="185" width="18.5" height="6.4" fill="#3aa2fa"/>
<rect x="129.5" y="185" width="18.5" height="6.4" fill="#00ffff"/>
<rect x="153.8" y="185" width="36.8" height="6.4" fill="#86ffbe"/>
<rect x="190.3" y="185" width="6.4" height="6.4" fill="#00ffff"/>
<rect x="196.3" y="185" width="18.5" height="6.4" fill="#3a5cf5"/>
<rect x="214.6" y="185" width="6.4" height="6.4" fill="#86ffbe"/>
<rect x="220.7" y="185" width="12.5" height="6.4" fill="#ccff66"/>
<rect x="232.8" y="185" width="12.5" height="6.4" fill="#86ffbe"/>
<rect x="245" y="185" width="6.4" height="6.4" fill="#ccff66"/>
<rect x="251.1" y="185" width="30.7" height="6.4" fill="#86ffbe"/>
<rect x="281.5" y="185" width="18.5" height="6.4" fill="#ccff66"/>
<rect x="299.7" y="185" width="6.4" height="6.4" fill="#ffff00"/>
<rect x="305.8" y="185" width="12.5" height="6.4" fill="#ffb400"/>
<rect x="317.9" y="185" width="6.4" height="6.4" fill="#ff6a00"/>
<rect x="111.2" y="191.1" width="6.4" height="6.4" fill="#0000ff"/>
<rect x="123.4" y="191.1" width="6.4" height="6.4" fill="#0000ff"/>
<rect x="135.5" y="191.1" width="12.5" height="6.4" fill="#3aa2fa"/>
<rect x="147.7" y="191.1" width="55" height="6.4" fill="#00ffff"/>
<rect x="202.4" y="191.1" width="12.5" height="6.4" fill="#3aa2fa"/>
<rect x="214.6" y="191.1" width="30.7" height="6.4" fill="#86ffbe"/>
<rect x="245" y="191.1" width="24.6" height="6.4" fill="#ccff66"/>
<rect x="269.3" y="191.1" width="24.6" height="6.4" fill="#ffff00"/>
<rect x="293.6" y="191.1" width="6.4" height="6.4" fill="#ccff66"/>
<rect x="299.7" y="191.1" width="12.5" height="6.4" fill="#ffff00"/>
<rect x="311.9" y="191.1" width="6.4" height="6.4" fill="#ffb400"/>
<rect x="178.1" y="197.1" width="12.5" height="6.4" fill="#3aa2fa"/>
<rect x="190.3" y="197.1" width="18.5" height="6.4" fill="#86ffbe"/>
<rect x="208.5" y="197.1" width="12.5" height="6.4" fill="#00ffff"/>
<rect x="220.7" y="197.1" width="6.4" height="6.4" fill="#86ffbe"/>
<rect x="226.7" y="197.1" width="12.5" height="6.4" fill="#00ffff"/>
<rect x="238.9" y="197.1" width="12.5" height="6.4" fill="#86ffbe"/>
<rect x="251.1" y="197.1" width="6.4" height="6.4" fill="#ccff66"/>
<rect x="257.1" y="197.1" width="36.8" height="6.4" fill="#ffff00"/>
<rect x="293.6" y="197.1" width="6.4" height="6.4" fill="#ccff66"/>
<rect x="299.7" y="197.1" width="18.5" height="6.4" fill="#ffff00"/>
<rect x="178.1" y="203.2" width="12.5" height="6.4" fill="#3aa2fa"/>
<rect x="190.3" y="203.2" width="6.4" height="6.4" fill="#00ffff"/>
<rect x="196.3" y="203.2" width="18.5" height="6.4" fill="#86ffbe"/>
<rect x="214.6" y="203.2" width="30.7" height="6.4" fill="#00ffff"/>
<rect x="245" y="203.2" width="6.4" height="6.4" fill="#86ffbe"/>
<rect x="251.1" y="203.2" width="6.4" height="6.4" fill="#ccff66"/>
<rect x="257.1" y="203.2" width="24.6" height="6.4" fill="#ffff00"/>
<rect x="281.5" y="203.2" width="12.5" height="6.4" fill="#ccff66"/>
<rect x="293.6" y="203.2" width="18.5" height="6.4" fill="#ffff00"/>
<rect x="172" y="209.3" width="18.5" height="6.4" fill="#00ffff"/>
<rect x="190.3" y="209.3" width="6.4" height="6.4" fill="#86ffbe"/>
<rect x="196.3" y="209.3" width="12.5" height="6.4" fill="#00ffff"/>
<rect x="208.5" y="209.3" width="12.5" height="6.4" fill="#86ffbe"/>
<rect x="220.7" y="209.3" width="24.6" height="6.4" fill="#00ffff"/>
<rect x="245" y="209.3" width="6.4" height="6.4" fill="#86ffbe"/>
<rect x="251.1" y="209.3" width="6.4" height="6.4" fill="#ccff66"/>
<rect x="257.1" y="209.3" width="24.6" height="6.4" fill="#ffff00"/>
<rect x="281.5" y="209.3" width="12.5" height="6.4" fill="#ccff66"/>
<rect x="293.6" y="209.3" width="6.4" height="6.4" fill="#ffff00"/>
<rect x="299.7" y="209.3" width="6.4" height="6.4" fill="#ffb400"/>
<rect x="305.8" y="209.3" width="12.5" height="6.4" fill="#ffff00"/>
<rect x="317.9" y="209.3" width="6.4" height="6.4" fill="#ccff66"/>
<rect x="184.2" y="215.4" width="67.2" height="6.4" fill="#86ffbe"/>
<rect x="251.1" y="215.4" width="6.4" height="6.4" fill="#ccff66"/>
<rect x="257.1" y="215.4" width="12.5" height="6.4" fill="#ffff00"/>
<rect x="269.3" y="215.4" width="6.4" height="6.4" fill="#ffb400"/>
<rect x="275.4" y="215.4" width="12.5" height="6.4" fill="#ffff00"/>
<rect x="287.5" y="215.4" width="6.4" height="6.4" fill="#ccff66"/>
<rect x="293.6" y="215.4" width="6.4" height="6.4" fill="#ffff00"/>
<rect x="311.9" y="215.4" width="6.4" height="6.4" fill="#ffb400"/>
<rect x="317.9" y="215.4" width="6.4" height="6.4" fill="#ccff66"/>
<rect x="184.2" y="221.4" width="42.9" height="6.4" fill="#86ffbe"/>
<rect x="226.7" y="221.4" width="6.4" height="6.4" fill="#ccff66"/>
<rect x="232.8" y="221.4" width="18.5" height="6.4" fill="#86ffbe"/>
<rect x="251.1" y="221.4" width="12.5" height="6.4" fill="#ccff66"/>
<rect x="263.2" y="221.4" width="6.4" height="6.4" fill="#ffff00"/>
<rect x="269.3" y="221.4" width="6.4" height="6.4" fill="#ffb400"/>
<rect x="275.4" y="221.4" width="12.5" height="6.4" fill="#ffff00"/>
<rect x="311.9" y="221.4" width="12.5" height="6.4" fill="#ffb400"/>
<rect x="190.3" y="227.5" width="6.4" height="6.4" fill="#86ffbe"/>
<rect x="196.3" y="227.5" width="6.4" height="6.4" fill="#ccff66"/>
<rect x="232.8" y="227.5" width="12.5" height="6.4" fill="#86ffbe"/>
<rect x="245" y="227.5" width="12.5" height="6.4" fill="#ccff66"/>
<rect x="257.1" y="227.5" width="6.4" height="6.4" fill="#ffff00"/>
<rect x="245" y="233.6" width="12.5" height="6.4" fill="#ffff00"/>
<rect x="238.9" y="239.7" width="18.5" height="6.4" fill="#ffff00"/>
<rect x="238.9" y="245.8" width="18.5" height="6.4" fill="#ffff00"/>
<path d="M26.1 33V264M32.2 33V264M38.3 33V264M44.3 33V264M50.4 33V264M56.5 33V264M62.6 33V264M68.7 33V264M74.7 33V264M80.8 33V264M86.9 33V264M93 33V264M99.1 33V264M105.1 33V264M111.2 33V264M117.3 33V264M123.4 33V264M129.5 33V264M135.5 33V264M141.6 33V264M147.7 33V264M153.8 33V264M159.9 33V264M165.9 33V264M172 33V264M178.1 33V264M184.2 33V264M190.3 33V264M196.3 33V264M202.4 33V264M208.5 33V264M214.6 33V264M220.7 33V264M226.7 33V264M232.8 33V264M238.9 33V264M245 33V264M251.1 33V264M257.1 33V264M263.2 33V264M269.3 33V264M275.4 33V264M281.5 33V264M287.5 33V264M293.6 33V264M299.7 33V264M305.8 33V264M311.9 33V264M317.9 33V264M324 33V264M330.1 33V264M336.2 33V264M342.3 33V264M348.3 33V264M354.4 33V264M360.5 33V264M366.6 33V264M372.7 33V264M378.7 33V264M384.8 33V264M390.9 33V264M397 33V264M403.1 33V264M409.1 33V264M415.2 33V264M26.1 264H415.2M26.1 257.9H415.2M26.1 251.8H415.2M26.1 245.8H415.2M26.1 239.7H415.2M26.1 233.6H415.2M26.1 227.5H415.2M26.1 221.4H415.2M26.1 215.4H415.2M26.1 209.3H415.2M26.1 203.2H415.2M26.1 197.1H415.2M26.1 191.1H415.2M26.1 185H415.2M26.1 178.9H415.2M26.1 172.8H415.2M26.1 166.7H415.2M26.1 160.7H415.2M26.1 154.6H415.2M26.1 148.5H415.2M26.1 142.4H415.2M26.1 136.4H415.2M26.1 130.3H415.2M26.1 124.2H415.2M26.1 118.1H415.2M26.1 112H415.2M26.1 106H415.2M26.1 99.9H415.2M26.1 93.8H415.2M26.1 87.7H415.2M26.1 81.7H415.2M26.1 75.6H415.2M26.1 69.5H415.2M26.1 63.4H415.2M26.1 57.3H415.2M26.1 51.3H415.2M26.1 45.2H415.2M26.1 39.1H415.2M26.1 33H415.2" stroke="#444" stroke-opacity="0.6" stroke-width="0.5" fill="none"/>
</g>
<polygon points="29,122.4 31,119.7 33,117.7 37.7,115.7 41.1,114.3 43.1,115.7 47.1,113 51.8,111.7 56.5,110.3 65.2,107 70.5,104.3 69.9,100.9 72.5,96.9 70.5,91.6 68.5,88.2 74.5,86.9 81.2,85.5 83.9,80.9 86.6,74.2 91.9,74.8 100,74.8 102.7,72.8 103.3,68.8 108.7,66.8 110.7,62.8 116,62.4 117.4,65.5 121.4,68.1 128.1,69.5 132.1,71.5 135.5,75.5 135.9,80.2 134.8,84.9 138.8,86.9 146.8,87.6 153,88.6 157,91.6 161.7,92.9 163.7,94.9 166.4,99.6 171.7,101.3 177.1,100.9 183.8,102.6 193.2,101.3 201.2,103 206.6,105 211.9,107 218.6,107.4 225.3,105.6 233.3,103.6 241.4,103 249.4,102.6 254.8,100.3 258.8,96.9 262.8,94.9 260.1,91.6 261.4,88.2 264.8,86.9 269.5,88.6 274.8,87.6 278.9,85.5 281,85.5 286.4,82.9 294.4,78.9 302.4,77.5 309.8,77.1 311.1,74.8 307.1,71.5 301.1,69.5 293.7,70.4 287,71.5 285,69.5 287,64.8 290.4,60.1 293.7,58.1 298.4,60.1 305.1,57.8 307.8,54.1 311.8,48.7 316.5,45.4 317.1,42 312.5,40.7 315.8,38 323.8,36.4 334.6,35.3 342.6,37.3 347.9,39.4 350.6,44.7 354,50.1 357.3,55.4 358.7,59.4 366.7,60.8 374.7,64.1 377.4,67.5 379.4,70.8 386.8,69.5 394.8,68.1 403.1,66.5 400.8,70.8 397.5,75.5 394.8,80.2 391.5,85.5 386.8,86.9 380.1,87.6 380.7,92.9 379.4,98.3 375.4,100.9 376.1,103 372,101.6 366.7,105 361.3,108.3 354,107.7 350.2,111.4 346.2,114.4 342.2,116.7 338.2,119.4 334.2,119.7 330.2,121.4 327.5,122.8 324.1,124.1 321.5,125.1 318.8,125.4 319.8,124.1 319.5,121.4 321.5,119.4 323.5,117.7 325.1,115.4 324.1,113.7 322.1,112.4 319.1,113.1 316.8,115.1 314.8,116.7 311.4,118.4 308.1,120.1 306.1,121.8 303.4,123.4 300,123.8 298.4,125.1 297.4,126.8 298.7,128.4 300.7,129.1 304.4,129.5 306.4,130.8 307.1,132.1 305.7,133.5 306.1,134.8 309.4,135.8 312.1,134.5 314.8,132.1 316.8,129.5 318.8,132 321.5,133 324.8,133.3 328.2,134.1 327.8,135.8 325.5,137.5 322.1,138.5 319.5,139.5 316.8,140.8 313.4,142.8 310.1,146.2 307.7,148.9 310.1,151.5 312.8,153.5 314.8,156 315.1,156 317.1,160.1 319.8,164.1 323.2,166.8 324.1,170.1 323.8,173 322.6,174 320.5,174.9 319.9,176.1 320.9,177.4 322.6,178.2 324.3,178 326.8,176.7 329.3,174.4 327.2,179 325.1,180.9 324.3,183.4 322.6,185.1 322,187.2 321.8,189.3 319.7,191 317.6,193.1 315.5,195.6 313.8,197.7 311.7,200 309.8,202.9 310.5,206.2 307.8,208.3 303.8,210.9 299.7,212.9 295.7,216.3 291.7,219.6 289,222.3 285,223 281,223.4 277.5,225 273.5,225.7 269.5,227.7 264.1,229 266,229.1 264.2,229.5 261.1,230.2 258,231.1 256.1,232 254.2,233 252.9,234.2 253.9,235.8 254.5,237.7 252.6,238.8 250.7,238.3 249.5,236.7 249,235.2 249.2,233 249.5,231.4 248.6,230.2 246,231.4 245.1,230.6 242.3,230.3 239.1,230.2 236,229.7 232,227.7 230.7,225 226,223 222.6,219.9 217.3,222.3 213.2,223 209.2,224.3 205.2,223.7 201.9,226.3 200.5,232.4 199.9,227.7 197.9,226.3 196.5,229.7 193.2,230.3 189.8,227.7 185.8,224.3 184.5,219 181.1,215 177.1,215 175.8,211.6 177.8,208.3 180.4,204.9 183.1,200.9 182.5,195.5 179.8,190.9 176.4,188.8 171.7,192.2 166.4,190.9 161,192.2 155.7,194.2 153,196.6 148.2,197.5 142.8,196.9 140.1,192.9 136.1,191.3 130.8,190.9 125.4,192.2 123.4,195.3 122.1,192.9 118.7,191.5 112,191.3 105.3,191.5 100.6,188.8 96,186.2 91.9,184.8 89.3,182.1 83.9,179.5 79.9,176.8 76.5,178.8 74.5,177.5 69.2,174.8 65.8,172.8 61.8,170.8 59.1,166.1 60.5,162.1 63.8,158.7 63.2,154 61.1,150 56.5,147.3 53.8,146 48.4,143.1 45.8,141.1 43.7,137.8 38.4,136.8 35,136 38.4,133.1 37.7,127.7 34.4,126.4 31,125" fill="none" stroke="#555" stroke-width="0.8" stroke-linejoin="round"/>
<polygon points="249.5,240.2 252.3,239.9 254.8,239.4 256.7,240.5 257.3,241.5 256.1,243.3 254.8,245.2 254.5,247.1 252.3,248.7 250.1,249.9 248.6,250.9 246.4,250.2 243.5,249.3 242.6,247.1 242.6,244.6 244.2,242.7 246.4,241.1" fill="none" stroke="#555" stroke-width="0.8" stroke-linejoin="round"/>
<polygon points="321.8,207.9 323.8,208.9 323.6,212.3 321.8,217 320.5,221 318.5,224.3 316.5,227.9 314.5,225 312.9,221 313.1,217 315.1,213.6 317.8,210.3 319.8,208.5" fill="none" stroke="#555" stroke-width="0.8" stroke-linejoin="round"/>
<path d="M319.1 234.4L323.5 230.0M308.4 252.0L311.6 246.3M306.3 264.5L306.3 270.2M303.4 295.3L305.9 289.3M285.2 317.9L289.2 312.9M262.0 341.1L268.3 339.0M240.3 318.5L240.3 325.2M251.3 293.4L253.6 287.1M247.3 263.7L250.7 269.6M327.2 218.3L328.9 212.3M333.2 204.9L334.8 203.3" stroke="#222" stroke-width="0.7" fill="none"/>
<path d="M291.8 236.0h1.8M297.9 269.2h1.0M291.7 262.3h0.8M320.6 227.0h1.2M265.2 327.3h1.2M260.2 262.0h0.9M264.7 258.9h0.9M259.7 257.6h0.9M265.9 263.9h0.9M257.8 265.2h0.9M262.1 260.3h0.9M267.1 260.5h0.9M279.7 298.7h0.8M273.5 304.5h0.6M273.2 304.3h0.5M282.6 297.1h0.5M282.3 305.5h0.5M277.1 304.6h0.9M286.0 299.8h0.9M272.9 308.2h0.6M275.3 299.4h0.6M292.0 295.9h0.7M287.6 299.2h0.7M273.3 299.3h0.6M288.7 299.5h0.6M286.3 300.4h0.6M291.6 301.8h0.6M285.9 301.2h0.9M289.8 297.7h0.9M274.6 302.9h0.8M275.5 303.5h0.5M288.3 303.3h0.7M293.5 297.0h0.8M286.5 301.7h0.7M292.7 304.2h0.7M288.2 295.6h0.8M287.8 305.9h0.8M278.7 301.5h0.8M272.3 304.0h0.6M274.5 299.0h0.8M274.9 301.0h0.7M293.4 294.5h0.7M285.3 305.3h0.8M293.3 296.7h0.7M280.5 306.5h0.9M275.5 300.0h0.6M256.6 315.7h0.7M257.6 312.5h0.7M261.1 314.9h0.9M272.1 311.5h0.7M271.6 308.9h0.9M275.1 312.8h0.8M262.1 313.7h0.5M270.3 309.3h0.5M255.8 314.0h0.6M250.5 314.5h0.6M252.2 316.2h0.5M278.4 310.4h0.6M257.3 314.7h0.6M252.7 318.9h0.9M264.6 313.5h0.5M252.2 316.1h0.6M276.9 308.1h0.5M281.1 309.1h0.6M267.1 310.0h0.7M281.9 310.9h0.8M257.6 314.7h0.6M274.8 310.8h0.8M326.0 174.2h1.0M327.7 175.5h1.0M326.9 177.8h1.0M325.4 179.6h1.0M326.3 182.0h1.0M324.1 184.5h1.0M323.4 187.2h1.0M322.0 189.0h1.0M317.0 197.5h1.0M315.3 199.8h1.0M311.9 204.3h1.0" stroke="#333" stroke-width="0.8" stroke-linecap="round" fill="none"/>
<path d="M308.2 217.6L308.9 220.6" stroke="#222" stroke-width="1" fill="none"/>
<ellipse cx="277.4" cy="265.4" rx="3.5" ry="1.6" transform="rotate(-25 277.4 265.4)" fill="none" stroke="#333" stroke-width="0.5"/>
<text x="32.5" y="226.1" class="t" font-size="11.3">XCO<tspan font-size="7.4" dy="1.9">2ano</tspan><tspan dy="-1.9">(ppm)</tspan></text>
<rect x="27" y="234.2" width="28.4" height="14" fill="#0000ff" stroke="#aaa" stroke-width="0.4"/>
<rect x="130.1" y="234.2" width="28.2" height="14" fill="#ccff66" stroke="#aaa" stroke-width="0.4"/>
<text x="60.4" y="245.7" class="t" font-size="11"><tspan fill="#777">−</tspan>1.55 <tspan fill="#777">−</tspan> <tspan fill="#777">−</tspan>0.57</text>
<text x="163.3" y="245.7" class="t" font-size="11">0.73 <tspan fill="#777">−</tspan> 1.08</text>
<rect x="27" y="253.2" width="28.4" height="14" fill="#3a5cf5" stroke="#aaa" stroke-width="0.4"/>
<rect x="130.1" y="253.2" width="28.2" height="14" fill="#ffff00" stroke="#aaa" stroke-width="0.4"/>
<text x="60.4" y="264.8" class="t" font-size="11"><tspan fill="#a8a8a8">−</tspan>0.56 <tspan fill="#a8a8a8">−</tspan> <tspan fill="#a8a8a8">−</tspan>0.16</text>
<text x="163.3" y="264.8" class="t" font-size="11">1.09 <tspan fill="#a8a8a8">−</tspan> 1.46</text>
<rect x="27" y="272.3" width="28.4" height="14" fill="#3aa2fa" stroke="#aaa" stroke-width="0.4"/>
<rect x="130.1" y="272.3" width="28.2" height="14" fill="#ffb400" stroke="#aaa" stroke-width="0.4"/>
<text x="60.4" y="283.8" class="t" font-size="11"><tspan fill="#999">−</tspan>0.15 <tspan fill="#999">−</tspan> 0.14</text>
<text x="163.3" y="283.8" class="t" font-size="11">1.47 <tspan fill="#999">−</tspan> 1.85</text>
<rect x="27" y="291.4" width="28.4" height="14" fill="#00ffff" stroke="#aaa" stroke-width="0.4"/>
<rect x="130.1" y="291.4" width="28.2" height="14" fill="#ff6a00" stroke="#aaa" stroke-width="0.4"/>
<text x="60.4" y="302.9" class="t" font-size="11">0.15 <tspan fill="#222">−</tspan> 0.41</text>
<text x="163.3" y="302.9" class="t" font-size="11">1.86 <tspan fill="#222">−</tspan> 2.28</text>
<rect x="27" y="310.4" width="28.4" height="14" fill="#86ffbe" stroke="#aaa" stroke-width="0.4"/>
<rect x="130.1" y="310.4" width="28.2" height="14" fill="#ff0000" stroke="#aaa" stroke-width="0.4"/>
<text x="60.4" y="321.9" class="t" font-size="11">0.42 <tspan fill="#dcdcdc">−</tspan> 0.72</text>
<text x="163.3" y="321.9" class="t" font-size="11">2.29 <tspan fill="#dcdcdc">−</tspan> 3.24</text>
<rect x="24.6" y="330.4" width="18.2" height="9.3" fill="#fff" stroke="#888" stroke-width="0.5"/>
<text x="46.6" y="338.5" class="t" font-size="11">National boundaries</text>
<path clip-path="url(#lg)" d="M135 340l10 -10M137.9 340l10 -10M140.8 340l10 -10M143.7 340l10 -10M146.6 340l10 -10M149.5 340l10 -10M152.4 340l10 -10M155.3 340l10 -10M158.2 340l10 -10M161.1 340l10 -10" stroke="#404040" stroke-width="0.5" fill="none"/>
<rect x="144.7" y="329.8" width="18" height="9.4" fill="none" stroke="#aaa" stroke-width="0.4"/>
<text x="167" y="338.2" class="t" font-size="11">Background area</text>
<rect x="292.2" y="339.8" width="83.4" height="4" fill="#fff" stroke="#000" stroke-width="0.5"/>
<rect x="292.2" y="339.6" width="41.7" height="4.4" fill="#000"/>
<text x="292.2" y="335" class="t" font-size="9.6" text-anchor="middle">0</text>
<text x="334" y="335" class="t" font-size="9.6" text-anchor="middle">750</text>
<text x="365.6" y="335" class="t" font-size="9.6">1500 km</text>
<text x="403.9" y="32" font-family="'Liberation Sans',sans-serif" font-weight="bold" font-size="5.2" text-anchor="middle" fill="#000">N</text>
<path d="M403.8 33.9L399 49L403.9 44.2Z" fill="#000"/><path d="M403.8 33.9L408.2 48.6L403.9 44.2Z" fill="#fff" stroke="#000" stroke-width="0.5"/>
<rect x="20.9" y="22.5" width="396" height="328.9" fill="none" stroke="#3c3c3c" stroke-width="1.4"/>
<text x="71.5" y="18.9" class="t" font-size="10" text-anchor="middle">80°E</text>
<text x="71.5" y="363.8" class="t" font-size="10" text-anchor="middle">80°E</text>
<text x="132.3" y="18.9" class="t" font-size="10" text-anchor="middle">90°E</text>
<text x="132.3" y="363.8" class="t" font-size="10" text-anchor="middle">90°E</text>
<text x="193.1" y="18.9" class="t" font-size="10" text-anchor="middle">100°E</text>
<text x="193.1" y="363.8" class="t" font-size="10" text-anchor="middle">100°E</text>
<text x="253.9" y="18.9" class="t" font-size="10" text-anchor="middle">110°E</text>
<text x="253.9" y="363.8" class="t" font-size="10" text-anchor="middle">110°E</text>
<text x="314.7" y="18.9" class="t" font-size="10" text-anchor="middle">120°E</text>
<text x="314.7" y="363.8" class="t" font-size="10" text-anchor="middle">120°E</text>
<text x="375.5" y="18.9" class="t" font-size="10" text-anchor="middle">130°E</text>
<text x="375.5" y="363.8" class="t" font-size="10" text-anchor="middle">130°E</text>
<text transform="translate(17.8 305.8) rotate(-90)" class="t" font-size="10" text-anchor="middle">10°N</text>
<text transform="translate(429.6 305.8) rotate(-90)" class="t" font-size="10" text-anchor="middle">10°N</text>
<text transform="translate(17.8 245) rotate(-90)" class="t" font-size="10" text-anchor="middle">20°N</text>
<text transform="translate(429.6 245) rotate(-90)" class="t" font-size="10" text-anchor="middle">20°N</text>
<text transform="translate(17.8 184.2) rotate(-90)" class="t" font-size="10" text-anchor="middle">30°N</text>
<text transform="translate(429.6 184.2) rotate(-90)" class="t" font-size="10" text-anchor="middle">30°N</text>
<text transform="translate(17.8 123.5) rotate(-90)" class="t" font-size="10" text-anchor="middle">40°N</text>
<text transform="translate(429.6 123.5) rotate(-90)" class="t" font-size="10" text-anchor="middle">40°N</text>
<text transform="translate(17.8 62.7) rotate(-90)" class="t" font-size="10" text-anchor="middle">50°N</text>
<text transform="translate(429.6 62.7) rotate(-90)" class="t" font-size="10" text-anchor="middle">50°N</text>
<text x="218.6" y="388.2" class="c" text-anchor="middle"><tspan>(</tspan><tspan font-weight="normal">e</tspan><tspan>) 2016</tspan></text>
</g>
<g transform="translate(513 777)">
<path d="M71.5 22.5V351.4M132.3 22.5V351.4M193.1 22.5V351.4M253.9 22.5V351.4M314.7 22.5V351.4M375.5 22.5V351.4" stroke="#cdcdcd" stroke-width="0.8" stroke-dasharray="3 10.95" stroke-dashoffset="8.5" fill="none"/><path d="M20.9 305.8H416.9M20.9 245H416.9M20.9 184.2H416.9M20.9 123.5H416.9M20.9 62.7H416.9" stroke="#cdcdcd" stroke-width="0.8" stroke-dasharray="3 10.914" stroke-dashoffset="13.6" fill="none"/><path d="M71.5 22.5v3M71.5 351.4v-3M132.3 22.5v3M132.3 351.4v-3M193.1 22.5v3M193.1 351.4v-3M253.9 22.5v3M253.9 351.4v-3M314.7 22.5v3M314.7 351.4v-3M375.5 22.5v3M375.5 351.4v-3M20.9 305.8h3M416.9 305.8h-3M20.9 245h3M416.9 245h-3M20.9 184.2h3M416.9 184.2h-3M20.9 123.5h3M416.9 123.5h-3M20.9 62.7h3M416.9 62.7h-3" stroke="#666" stroke-width="0.8" fill="none"/>
<g clip-path="url(#cn)">
<path d="M-196 260l224 -224M-193.1 260l224 -224M-190.2 260l224 -224M-187.3 260l224 -224M-184.4 260l224 -224M-181.5 260l224 -224M-178.6 260l224 -224M-175.7 260l224 -224M-172.8 260l224 -224M-169.9 260l224 -224M-167 260l224 -224M-164.1 260l224 -224M-161.2 260l224 -224M-158.3 260l224 -224M-155.4 260l224 -224M-152.5 260l224 -224M-149.6 260l224 -224M-146.7 260l224 -224M-143.8 260l224 -224M-140.9 260l224 -224M-138 260l224 -224M-135.1 260l224 -224M-132.2 260l224 -224M-129.3 260l224 -224M-126.4 260l224 -224M-123.5 260l224 -224M-120.6 260l224 -224M-117.7 260l224 -224M-114.8 260l224 -224M-111.9 260l224 -224M-109 260l224 -224M-106.1 260l224 -224M-103.2 260l224 -224M-100.3 260l224 -224M-97.4 260l224 -224M-94.5 260l224 -224M-91.6 260l224 -224M-88.7 260l224 -224M-85.8 260l224 -224M-82.9 260l224 -224M-80 260l224 -224M-77.1 260l224 -224M-74.2 260l224 -224M-71.3 260l224 -224M-68.4 260l224 -224M-65.5 260l224 -224M-62.6 260l224 -224M-59.7 260l224 -224M-56.8 260l224 -224M-53.9 260l224 -224M-51 260l224 -224M-48.1 260l224 -224M-45.2 260l224 -224M-42.3 260l224 -224M-39.4 260l224 -224M-36.5 260l224 -224M-33.6 260l224 -224M-30.7 260l224 -224M-27.8 260l224 -224M-24.9 260l224 -224M-22 260l224 -224M-19.1 260l224 -224M-16.2 260l224 -224M-13.3 260l224 -224M-10.4 260l224 -224M-7.5 260l224 -224M-4.6 260l224 -224M-1.7 260l224 -224M1.2 260l224 -224M4.1 260l224 -224M7 260l224 -224M9.9 260l224 -224M12.8 260l224 -224M15.7 260l224 -224M18.6 260l224 -224M21.5 260l224 -224M24.4 260l224 -224M27.3 260l224 -224M30.2 260l224 -224M33.1 260l224 -224M36 260l224 -224M38.9 260l224 -224M41.8 260l224 -224M44.7 260l224 -224M47.6 260l224 -224M50.5 260l224 -224M53.4 260l224 -224M56.3 260l224 -224M59.2 260l224 -224M62.1 260l224 -224M65 260l224 -224M67.9 260l224 -224M70.8 260l224 -224M73.7 260l224 -224M76.6 260l224 -224M79.5 260l224 -224M82.4 260l224 -224M85.3 260l224 -224M88.2 260l224 -224M91.1 260l224 -224M94 260l224 -224M96.9 260l224 -224M99.8 260l224 -224M102.7 260l224 -224M105.6 260l224 -224M108.5 260l224 -224M111.4 260l224 -224M114.3 260l224 -224M117.2 260l224 -224M120.1 260l224 -224M123 260l224 -224M125.9 260l224 -224M128.8 260l224 -224M131.7 260l224 -224M134.6 260l224 -224M137.5 260l224 -224M140.4 260l224 -224M143.3 260l224 -224M146.2 260l224 -224M149.1 260l224 -224M152 260l224 -224M154.9 260l224 -224M157.8 260l224 -224M160.7 260l224 -224M163.6 260l224 -224M166.5 260l224 -224M169.4 260l224 -224M172.3 260l224 -224M175.2 260l224 -224M178.1 260l224 -224M181 260l224 -224M183.9 260l224 -224M186.8 260l224 -224M189.7 260l224 -224M192.6 260l224 -224M195.5 260l224 -224M198.4 260l224 -224M201.3 260l224 -224M204.2 260l224 -224M207.1 260l224 -224M210 260l224 -224M212.9 260l224 -224M215.8 260l224 -224M218.7 260l224 -224M221.6 260l224 -224M224.5 260l224 -224M227.4 260l224 -224M230.3 260l224 -224M233.2 260l224 -224M236.1 260l224 -224M239 260l224 -224M241.9 260l224 -224M244.8 260l224 -224M247.7 260l224 -224M250.6 260l224 -224M253.5 260l224 -224M256.4 260l224 -224M259.3 260l224 -224M262.2 260l224 -224M265.1 260l224 -224M268 260l224 -224M270.9 260l224 -224M273.8 260l224 -224M276.7 260l224 -224M279.6 260l224 -224M282.5 260l224 -224M285.4 260l224 -224M288.3 260l224 -224M291.2 260l224 -224M294.1 260l224 -224M297 260l224 -224M299.9 260l224 -224M302.8 260l224 -224M305.7 260l224 -224M308.6 260l224 -224M311.5 260l224 -224M314.4 260l224 -224M317.3 260l224 -224M320.2 260l224 -224M323.1 260l224 -224M326 260l224 -224M328.9 260l224 -224M331.8 260l224 -224M334.7 260l224 -224M337.6 260l224 -224M340.5 260l224 -224M343.4 260l224 -224M346.3 260l224 -224M349.2 260l224 -224M352.1 260l224 -224M355 260l224 -224M357.9 260l224 -224M360.8 260l224 -224M363.7 260l224 -224M366.6 260l224 -224M369.5 260l224 -224M372.4 260l224 -224M375.3 260l224 -224M378.2 260l224 -224M381.1 260l224 -224M384 260l224 -224M386.9 260l224 -224M389.8 260l224 -224M392.7 260l224 -224M395.6 260l224 -224M398.5 260l224 -224M401.4 260l224 -224M404.3 260l224 -224" stroke="#585858" stroke-width="0.4" fill="none"/>
<rect x="317.9" y="33" width="12.5" height="6.4" fill="#3aa2fa"/>
<rect x="330.1" y="33" width="18.5" height="6.4" fill="#00ffff"/>
<rect x="311.9" y="39.1" width="18.5" height="6.4" fill="#3aa2fa"/>
<rect x="330.1" y="39.1" width="24.6" height="6.4" fill="#00ffff"/>
<rect x="305.8" y="45.2" width="18.5" height="6.4" fill="#3aa2fa"/>
<rect x="330.1" y="45.2" width="12.5" height="6.4" fill="#00ffff"/>
<rect x="348.3" y="45.2" width="12.5" height="6.4" fill="#86ffbe"/>
<rect x="305.8" y="51.3" width="6.4" height="6.4" fill="#3a5cf5"/>
<rect x="311.9" y="51.3" width="24.6" height="6.4" fill="#3aa2fa"/>
<rect x="336.2" y="51.3" width="12.5" height="6.4" fill="#00ffff"/>
<rect x="348.3" y="51.3" width="6.4" height="6.4" fill="#86ffbe"/>
<rect x="354.4" y="51.3" width="6.4" height="6.4" fill="#00ffff"/>
<rect x="287.5" y="57.3" width="6.4" height="6.4" fill="#0000ff"/>
<rect x="293.6" y="57.3" width="30.7" height="6.4" fill="#3a5cf5"/>
<rect x="330.1" y="57.3" width="6.4" height="6.4" fill="#3aa2fa"/>
<rect x="336.2" y="57.3" width="12.5" height="6.4" fill="#00ffff"/>
<rect x="348.3" y="57.3" width="24.6" height="6.4" fill="#3aa2fa"/>
<rect x="105.1" y="63.4" width="6.4" height="6.4" fill="#3a5cf5"/>
<rect x="111.2" y="63.4" width="6.4" height="6.4" fill="#0000ff"/>
<rect x="281.5" y="63.4" width="12.5" height="6.4" fill="#0000ff"/>
<rect x="293.6" y="63.4" width="6.4" height="6.4" fill="#3a5cf5"/>
<rect x="299.7" y="63.4" width="6.4" height="6.4" fill="#0000ff"/>
<rect x="305.8" y="63.4" width="12.5" height="6.4" fill="#3a5cf5"/>
<rect x="317.9" y="63.4" width="24.6" height="6.4" fill="#3aa2fa"/>
<rect x="342.3" y="63.4" width="6.4" height="6.4" fill="#00ffff"/>
<rect x="348.3" y="63.4" width="30.7" height="6.4" fill="#3aa2fa"/>
<rect x="390.9" y="63.4" width="12.5" height="6.4" fill="#00ffff"/>
<rect x="99.1" y="69.5" width="30.7" height="6.4" fill="#3a5cf5"/>
<rect x="281.5" y="69.5" width="6.4" height="6.4" fill="#0000ff"/>
<rect x="305.8" y="69.5" width="12.5" height="6.4" fill="#3a5cf5"/>
<rect x="317.9" y="69.5" width="48.9" height="6.4" fill="#3aa2fa"/>
<rect x="366.6" y="69.5" width="6.4" height="6.4" fill="#3a5cf5"/>
<rect x="372.7" y="69.5" width="6.4" height="6.4" fill="#3aa2fa"/>
<rect x="378.7" y="69.5" width="24.6" height="6.4" fill="#00ffff"/>
<rect x="86.9" y="75.6" width="6.4" height="6.4" fill="#3a5cf5"/>
<rect x="93" y="75.6" width="18.5" height="6.4" fill="#3aa2fa"/>
<rect x="111.2" y="75.6" width="6.4" height="6.4" fill="#00ffff"/>
<rect x="117.3" y="75.6" width="18.5" height="6.4" fill="#3aa2fa"/>
<rect x="293.6" y="75.6" width="6.4" height="6.4" fill="#0000ff"/>
<rect x="299.7" y="75.6" width="18.5" height="6.4" fill="#3a5cf5"/>
<rect x="317.9" y="75.6" width="24.6" height="6.4" fill="#3aa2fa"/>
<rect x="342.3" y="75.6" width="6.4" height="6.4" fill="#00ffff"/>
<rect x="348.3" y="75.6" width="12.5" height="6.4" fill="#3aa2fa"/>
<rect x="360.5" y="75.6" width="18.5" height="6.4" fill="#3a5cf5"/>
<rect x="378.7" y="75.6" width="6.4" height="6.4" fill="#3aa2fa"/>
<rect x="384.8" y="75.6" width="6.4" height="6.4" fill="#00ffff"/>
<rect x="390.9" y="75.6" width="6.4" height="6.4" fill="#3aa2fa"/>
<rect x="80.8" y="81.7" width="12.5" height="6.4" fill="#3aa2fa"/>
<rect x="93" y="81.7" width="6.4" height="6.4" fill="#00ffff"/>
<rect x="99.1" y="81.7" width="24.6" height="6.4" fill="#86ffbe"/>
<rect x="281.5" y="81.7" width="30.7" height="6.4" fill="#3a5cf5"/>
<rect x="311.9" y="81.7" width="18.5" height="6.4" fill="#3aa2fa"/>
<rect x="330.1" y="81.7" width="6.4" height="6.4" fill="#00ffff"/>
<rect x="336.2" y="81.7" width="6.4" height="6.4" fill="#3aa2fa"/>
<rect x="342.3" y="81.7" width="6.4" height="6.4" fill="#00ffff"/>
<rect x="348.3" y="81.7" width="12.5" height="6.4" fill="#3aa2fa"/>
<rect x="360.5" y="81.7" width="18.5" height="6.4" fill="#3a5cf5"/>
<rect x="378.7" y="81.7" width="18.5" height="6.4" fill="#3aa2fa"/>
<rect x="68.7" y="87.7" width="18.5" height="6.4" fill="#0000ff"/>
<rect x="86.9" y="87.7" width="6.4" height="6.4" fill="#3aa2fa"/>
<rect x="93" y="87.7" width="6.4" height="6.4" fill="#00ffff"/>
<rect x="99.1" y="87.7" width="30.7" height="6.4" fill="#86ffbe"/>
<rect x="129.5" y="87.7" width="18.5" height="6.4" fill="#00ffff"/>
<rect x="153.8" y="87.7" width="6.4" height="6.4" fill="#3aa2fa"/>
<rect x="257.1" y="87.7" width="6.4" height="6.4" fill="#3a5cf5"/>
<rect x="269.3" y="87.7" width="6.4" height="6.4" fill="#3a5cf5"/>
<rect x="275.4" y="87.7" width="12.5" height="6.4" fill="#3aa2fa"/>
<rect x="287.5" y="87.7" width="12.5" height="6.4" fill="#3a5cf5"/>
<rect x="299.7" y="87.7" width="18.5" height="6.4" fill="#3aa2fa"/>
<rect x="317.9" y="87.7" width="6.4" height="6.4" fill="#00ffff"/>
<rect x="324" y="87.7" width="18.5" height="6.4" fill="#3aa2fa"/>
<rect x="342.3" y="87.7" width="12.5" height="6.4" fill="#00ffff"/>
<rect x="354.4" y="87.7" width="12.5" height="6.4" fill="#3aa2fa"/>
<rect x="366.6" y="87.7" width="6.4" height="6.4" fill="#3a5cf5"/>
<rect x="372.7" y="87.7" width="12.5" height="6.4" fill="#3aa2fa"/>
<rect x="68.7" y="93.8" width="36.8" height="6.4" fill="#3a5cf5"/>
<rect x="105.1" y="93.8" width="6.4" height="6.4" fill="#3aa2fa"/>
<rect x="111.2" y="93.8" width="12.5" height="6.4" fill="#86ffbe"/>
<rect x="123.4" y="93.8" width="36.8" height="6.4" fill="#00ffff"/>
<rect x="159.9" y="93.8" width="6.4" height="6.4" fill="#86ffbe"/>
<rect x="251.1" y="93.8" width="48.9" height="6.4" fill="#3aa2fa"/>
<rect x="299.7" y="93.8" width="6.4" height="6.4" fill="#00ffff"/>
<rect x="305.8" y="93.8" width="6.4" height="6.4" fill="#86ffbe"/>
<rect x="311.9" y="93.8" width="12.5" height="6.4" fill="#00ffff"/>
<rect x="324" y="93.8" width="12.5" height="6.4" fill="#3aa2fa"/>
<rect x="336.2" y="93.8" width="24.6" height="6.4" fill="#00ffff"/>
<rect x="360.5" y="93.8" width="24.6" height="6.4" fill="#3aa2fa"/>
<rect x="68.7" y="99.9" width="30.7" height="6.4" fill="#3a5cf5"/>
<rect x="99.1" y="99.9" width="6.4" height="6.4" fill="#3aa2fa"/>
<rect x="105.1" y="99.9" width="6.4" height="6.4" fill="#00ffff"/>
<rect x="111.2" y="99.9" width="24.6" height="6.4" fill="#86ffbe"/>
<rect x="135.5" y="99.9" width="6.4" height="6.4" fill="#00ffff"/>
<rect x="141.6" y="99.9" width="12.5" height="6.4" fill="#3aa2fa"/>
<rect x="153.8" y="99.9" width="18.5" height="6.4" fill="#00ffff"/>
<rect x="178.1" y="99.9" width="18.5" height="6.4" fill="#86ffbe"/>
<rect x="196.3" y="99.9" width="6.4" height="6.4" fill="#00ffff"/>
<rect x="226.7" y="99.9" width="12.5" height="6.4" fill="#00ffff"/>
<rect x="245" y="99.9" width="12.5" height="6.4" fill="#00ffff"/>
<rect x="263.2" y="99.9" width="36.8" height="6.4" fill="#00ffff"/>
<rect x="299.7" y="99.9" width="12.5" height="6.4" fill="#ccff66"/>
<rect x="311.9" y="99.9" width="6.4" height="6.4" fill="#86ffbe"/>
<rect x="317.9" y="99.9" width="6.4" height="6.4" fill="#00ffff"/>
<rect x="324" y="99.9" width="24.6" height="6.4" fill="#86ffbe"/>
<rect x="348.3" y="99.9" width="12.5" height="6.4" fill="#00ffff"/>
<rect x="360.5" y="99.9" width="12.5" height="6.4" fill="#3aa2fa"/>
<rect x="372.7" y="99.9" width="6.4" height="6.4" fill="#00ffff"/>
<rect x="56.5" y="106" width="30.7" height="6.4" fill="#3a5cf5"/>
<rect x="86.9" y="106" width="12.5" height="6.4" fill="#3aa2fa"/>
<rect x="99.1" y="106" width="6.4" height="6.4" fill="#00ffff"/>
<rect x="105.1" y="106" width="6.4" height="6.4" fill="#86ffbe"/>
<rect x="111.2" y="106" width="6.4" height="6.4" fill="#ccff66"/>
<rect x="117.3" y="106" width="18.5" height="6.4" fill="#86ffbe"/>
<rect x="135.5" y="106" width="6.4" height="6.4" fill="#00ffff"/>
<rect x="147.7" y="106" width="6.4" height="6.4" fill="#3aa2fa"/>
<rect x="153.8" y="106" width="12.5" height="6.4" fill="#00ffff"/>
<rect x="165.9" y="106" width="6.4" height="6.4" fill="#3aa2fa"/>
<rect x="172" y="106" width="6.4" height="6.4" fill="#00ffff"/>
<rect x="184.2" y="106" width="12.5" height="6.4" fill="#00ffff"/>
<rect x="196.3" y="106" width="6.4" height="6.4" fill="#3a5cf5"/>
<rect x="226.7" y="106" width="6.4" height="6.4" fill="#3aa2fa"/>
<rect x="232.8" y="106" width="6.4" height="6.4" fill="#00ffff"/>
<rect x="238.9" y="106" width="18.5" height="6.4" fill="#86ffbe"/>
<rect x="257.1" y="106" width="12.5" height="6.4" fill="#ccff66"/>
<rect x="269.3" y="106" width="12.5" height="6.4" fill="#86ffbe"/>
<rect x="281.5" y="106" width="6.4" height="6.4" fill="#ccff66"/>
<rect x="287.5" y="106" width="18.5" height="6.4" fill="#ffff00"/>
<rect x="305.8" y="106" width="6.4" height="6.4" fill="#ffb400"/>
<rect x="311.9" y="106" width="6.4" height="6.4" fill="#ffff00"/>
<rect x="317.9" y="106" width="30.7" height="6.4" fill="#ccff66"/>
<rect x="348.3" y="106" width="12.5" height="6.4" fill="#86ffbe"/>
<rect x="360.5" y="106" width="6.4" height="6.4" fill="#00ffff"/>
<rect x="56.5" y="112" width="12.5" height="6.4" fill="#3a5cf5"/>
<rect x="68.7" y="112" width="18.5" height="6.4" fill="#3aa2fa"/>
<rect x="86.9" y="112" width="12.5" height="6.4" fill="#00ffff"/>
<rect x="105.1" y="112" width="12.5" height="6.4" fill="#86ffbe"/>
<rect x="135.5" y="112" width="6.4" height="6.4" fill="#00ffff"/>
<rect x="153.8" y="112" width="30.7" height="6.4" fill="#00ffff"/>
<rect x="184.2" y="112" width="6.4" height="6.4" fill="#86ffbe"/>
<rect x="190.3" y="112" width="6.4" height="6.4" fill="#00ffff"/>
<rect x="208.5" y="112" width="12.5" height="6.4" fill="#3a5cf5"/>
<rect x="226.7" y="112" width="12.5" height="6.4" fill="#00ffff"/>
<rect x="238.9" y="112" width="6.4" height="6.4" fill="#ccff66"/>
<rect x="245" y="112" width="42.9" height="6.4" fill="#ffff00"/>
<rect x="287.5" y="112" width="30.7" height="6.4" fill="#ffb400"/>
<rect x="317.9" y="112" width="18.5" height="6.4" fill="#ffff00"/>
<rect x="336.2" y="112" width="12.5" height="6.4" fill="#ccff66"/>
<rect x="348.3" y="112" width="6.4" height="6.4" fill="#86ffbe"/>
<rect x="26.1" y="118.1" width="6.4" height="6.4" fill="#3aa2fa"/>
<rect x="38.3" y="118.1" width="6.4" height="6.4" fill="#3aa2fa"/>
<rect x="44.3" y="118.1" width="6.4" height="6.4" fill="#00ffff"/>
<rect x="50.4" y="118.1" width="6.4" height="6.4" fill="#86ffbe"/>
<rect x="56.5" y="118.1" width="18.5" height="6.4" fill="#00ffff"/>
<rect x="80.8" y="118.1" width="6.4" height="6.4" fill="#00ffff"/>
<rect x="86.9" y="118.1" width="6.4" height="6.4" fill="#86ffbe"/>
<rect x="117.3" y="118.1" width="6.4" height="6.4" fill="#3aa2fa"/>
<rect x="147.7" y="118.1" width="12.5" height="6.4" fill="#0000ff"/>
<rect x="165.9" y="118.1" width="6.4" height="6.4" fill="#3a5cf5"/>
<rect x="172" y="118.1" width="12.5" height="6.4" fill="#3aa2fa"/>
<rect x="184.2" y="118.1" width="12.5" height="6.4" fill="#00ffff"/>
<rect x="196.3" y="118.1" width="12.5" height="6.4" fill="#3aa2fa"/>
<rect x="208.5" y="118.1" width="6.4" height="6.4" fill="#3a5cf5"/>
<rect x="220.7" y="118.1" width="6.4" height="6.4" fill="#3aa2fa"/>
<rect x="226.7" y="118.1" width="12.5" height="6.4" fill="#00ffff"/>
<rect x="238.9" y="118.1" width="12.5" height="6.4" fill="#86ffbe"/>
<rect x="251.1" y="118.1" width="6.4" height="6.4" fill="#ffff00"/>
<rect x="257.1" y="118.1" width="36.8" height="6.4" fill="#ffb400"/>
<rect x="293.6" y="118.1" width="12.5" height="6.4" fill="#ff6a00"/>
<rect x="305.8" y="118.1" width="18.5" height="6.4" fill="#ffb400"/>
<rect x="324" y="118.1" width="6.4" height="6.4" fill="#ffff00"/>
<rect x="330.1" y="118.1" width="6.4" height="6.4" fill="#ccff66"/>
<rect x="38.3" y="124.2" width="6.4" height="6.4" fill="#3aa2fa"/>
<rect x="44.3" y="124.2" width="6.4" height="6.4" fill="#00ffff"/>
<rect x="50.4" y="124.2" width="6.4" height="6.4" fill="#86ffbe"/>
<rect x="68.7" y="124.2" width="6.4" height="6.4" fill="#86ffbe"/>
<rect x="86.9" y="124.2" width="12.5" height="6.4" fill="#00ffff"/>
<rect x="99.1" y="124.2" width="6.4" height="6.4" fill="#3aa2fa"/>
<rect x="111.2" y="124.2" width="6.4" height="6.4" fill="#3a5cf5"/>
<rect x="117.3" y="124.2" width="6.4" height="6.4" fill="#0000ff"/>
<rect x="129.5" y="124.2" width="30.7" height="6.4" fill="#3a5cf5"/>
<rect x="178.1" y="124.2" width="36.8" height="6.4" fill="#3aa2fa"/>
<rect x="220.7" y="124.2" width="6.4" height="6.4" fill="#00ffff"/>
<rect x="226.7" y="124.2" width="6.4" height="6.4" fill="#ccff66"/>
<rect x="232.8" y="124.2" width="18.5" height="6.4" fill="#86ffbe"/>
<rect x="251.1" y="124.2" width="6.4" height="6.4" fill="#ccff66"/>
<rect x="257.1" y="124.2" width="12.5" height="6.4" fill="#ffff00"/>
<rect x="269.3" y="124.2" width="12.5" height="6.4" fill="#ffb400"/>
<rect x="281.5" y="124.2" width="6.4" height="6.4" fill="#ffff00"/>
<rect x="287.5" y="124.2" width="12.5" height="6.4" fill="#ffb400"/>
<rect x="38.3" y="130.3" width="6.4" height="6.4" fill="#3aa2fa"/>
<rect x="44.3" y="130.3" width="12.5" height="6.4" fill="#00ffff"/>
<rect x="56.5" y="130.3" width="24.6" height="6.4" fill="#86ffbe"/>
<rect x="80.8" y="130.3" width="6.4" height="6.4" fill="#00ffff"/>
<rect x="93" y="130.3" width="6.4" height="6.4" fill="#3aa2fa"/>
<rect x="117.3" y="130.3" width="6.4" height="6.4" fill="#3a5cf5"/>
<rect x="135.5" y="130.3" width="18.5" height="6.4" fill="#3aa2fa"/>
<rect x="153.8" y="130.3" width="24.6" height="6.4" fill="#00ffff"/>
<rect x="178.1" y="130.3" width="12.5" height="6.4" fill="#86ffbe"/>
<rect x="190.3" y="130.3" width="6.4" height="6.4" fill="#00ffff"/>
<rect x="196.3" y="130.3" width="18.5" height="6.4" fill="#3aa2fa"/>
<rect x="214.6" y="130.3" width="6.4" height="6.4" fill="#00ffff"/>
<rect x="220.7" y="130.3" width="18.5" height="6.4" fill="#86ffbe"/>
<rect x="238.9" y="130.3" width="6.4" height="6.4" fill="#00ffff"/>
<rect x="245" y="130.3" width="12.5" height="6.4" fill="#ccff66"/>
<rect x="257.1" y="130.3" width="6.4" height="6.4" fill="#ffff00"/>
<rect x="263.2" y="130.3" width="12.5" height="6.4" fill="#ffb400"/>
<rect x="275.4" y="130.3" width="6.4" height="6.4" fill="#ff6a00"/>
<rect x="281.5" y="130.3" width="6.4" height="6.4" fill="#ffb400"/>
<rect x="287.5" y="130.3" width="6.4" height="6.4" fill="#ffff00"/>
<rect x="293.6" y="130.3" width="12.5" height="6.4" fill="#ccff66"/>
<rect x="305.8" y="130.3" width="12.5" height="6.4" fill="#ffff00"/>
<rect x="317.9" y="130.3" width="12.5" height="6.4" fill="#ccff66"/>
<rect x="38.3" y="136.4" width="6.4" height="6.4" fill="#3aa2fa"/>
<rect x="56.5" y="136.4" width="12.5" height="6.4" fill="#00ffff"/>
<rect x="68.7" y="136.4" width="12.5" height="6.4" fill="#3aa2fa"/>
<rect x="86.9" y="136.4" width="6.4" height="6.4" fill="#3a5cf5"/>
<rect x="135.5" y="136.4" width="24.6" height="6.4" fill="#3aa2fa"/>
<rect x="159.9" y="136.4" width="6.4" height="6.4" fill="#00ffff"/>
<rect x="165.9" y="136.4" width="36.8" height="6.4" fill="#86ffbe"/>
<rect x="202.4" y="136.4" width="6.4" height="6.4" fill="#ccff66"/>
<rect x="208.5" y="136.4" width="12.5" height="6.4" fill="#86ffbe"/>
<rect x="220.7" y="136.4" width="18.5" height="6.4" fill="#00ffff"/>
<rect x="238.9" y="136.4" width="6.4" height="6.4" fill="#86ffbe"/>
<rect x="245" y="136.4" width="12.5" height="6.4" fill="#ccff66"/>
<rect x="257.1" y="136.4" width="6.4" height="6.4" fill="#ffff00"/>
<rect x="263.2" y="136.4" width="12.5" height="6.4" fill="#ffb400"/>
<rect x="275.4" y="136.4" width="6.4" height="6.4" fill="#ff6a00"/>
<rect x="281.5" y="136.4" width="6.4" height="6.4" fill="#ffb400"/>
<rect x="287.5" y="136.4" width="24.6" height="6.4" fill="#ffff00"/>
<rect x="311.9" y="136.4" width="12.5" height="6.4" fill="#ccff66"/>
<rect x="68.7" y="142.4" width="18.5" height="6.4" fill="#3aa2fa"/>
<rect x="99.1" y="142.4" width="6.4" height="6.4" fill="#3a5cf5"/>
<rect x="147.7" y="142.4" width="6.4" height="6.4" fill="#3aa2fa"/>
<rect x="153.8" y="142.4" width="6.4" height="6.4" fill="#00ffff"/>
<rect x="172" y="142.4" width="30.7" height="6.4" fill="#00ffff"/>
<rect x="202.4" y="142.4" width="12.5" height="6.4" fill="#86ffbe"/>
<rect x="214.6" y="142.4" width="12.5" height="6.4" fill="#00ffff"/>
<rect x="226.7" y="142.4" width="6.4" height="6.4" fill="#3aa2fa"/>
<rect x="232.8" y="142.4" width="6.4" height="6.4" fill="#00ffff"/>
<rect x="238.9" y="142.4" width="6.4" height="6.4" fill="#86ffbe"/>
<rect x="245" y="142.4" width="6.4" height="6.4" fill="#ffff00"/>
<rect x="251.1" y="142.4" width="30.7" height="6.4" fill="#ffb400"/>
<rect x="281.5" y="142.4" width="24.6" height="6.4" fill="#ffff00"/>
<rect x="305.8" y="142.4" width="6.4" height="6.4" fill="#ccff66"/>
<rect x="80.8" y="148.5" width="6.4" height="6.4" fill="#3aa2fa"/>
<rect x="123.4" y="148.5" width="6.4" height="6.4" fill="#3aa2fa"/>
<rect x="141.6" y="148.5" width="6.4" height="6.4" fill="#3aa2fa"/>
<rect x="159.9" y="148.5" width="6.4" height="6.4" fill="#3aa2fa"/>
<rect x="178.1" y="148.5" width="6.4" height="6.4" fill="#3aa2fa"/>
<rect x="190.3" y="148.5" width="30.7" height="6.4" fill="#00ffff"/>
<rect x="220.7" y="148.5" width="6.4" height="6.4" fill="#3aa2fa"/>
<rect x="226.7" y="148.5" width="12.5" height="6.4" fill="#00ffff"/>
<rect x="238.9" y="148.5" width="6.4" height="6.4" fill="#86ffbe"/>
<rect x="245" y="148.5" width="6.4" height="6.4" fill="#ccff66"/>
<rect x="251.1" y="148.5" width="6.4" height="6.4" fill="#ffff00"/>
<rect x="257.1" y="148.5" width="18.5" height="6.4" fill="#ffb400"/>
<rect x="275.4" y="148.5" width="30.7" height="6.4" fill="#ffff00"/>
<rect x="305.8" y="148.5" width="12.5" height="6.4" fill="#ccff66"/>
<rect x="62.6" y="154.6" width="6.4" height="6.4" fill="#00ffff"/>
<rect x="141.6" y="154.6" width="6.4" height="6.4" fill="#3aa2fa"/>
<rect x="159.9" y="154.6" width="6.4" height="6.4" fill="#3aa2fa"/>
<rect x="165.9" y="154.6" width="6.4" height="6.4" fill="#00ffff"/>
<rect x="172" y="154.6" width="6.4" height="6.4" fill="#3aa2fa"/>
<rect x="178.1" y="154.6" width="42.9" height="6.4" fill="#00ffff"/>
<rect x="220.7" y="154.6" width="6.4" height="6.4" fill="#86ffbe"/>
<rect x="226.7" y="154.6" width="12.5" height="6.4" fill="#00ffff"/>
<rect x="238.9" y="154.6" width="6.4" height="6.4" fill="#86ffbe"/>
<rect x="245" y="154.6" width="6.4" height="6.4" fill="#ccff66"/>
<rect x="251.1" y="154.6" width="67.2" height="6.4" fill="#ffff00"/>
<rect x="68.7" y="160.7" width="6.4" height="6.4" fill="#00ffff"/>
<rect x="135.5" y="160.7" width="12.5" height="6.4" fill="#00ffff"/>
<rect x="159.9" y="160.7" width="24.6" height="6.4" fill="#3aa2fa"/>
<rect x="190.3" y="160.7" width="18.5" height="6.4" fill="#00ffff"/>
<rect x="208.5" y="160.7" width="36.8" height="6.4" fill="#86ffbe"/>
<rect x="245" y="160.7" width="6.4" height="6.4" fill="#ccff66"/>
<rect x="251.1" y="160.7" width="36.8" height="6.4" fill="#ffff00"/>
<rect x="287.5" y="160.7" width="18.5" height="6.4" fill="#ffb400"/>
<rect x="305.8" y="160.7" width="6.4" height="6.4" fill="#ff6a00"/>
<rect x="311.9" y="160.7" width="12.5" height="6.4" fill="#ffb400"/>
<rect x="56.5" y="166.7" width="6.4" height="6.4" fill="#3aa2fa"/>
<rect x="111.2" y="166.7" width="6.4" height="6.4" fill="#3a5cf5"/>
<rect x="123.4" y="166.7" width="12.5" height="6.4" fill="#3aa2fa"/>
<rect x="135.5" y="166.7" width="18.5" height="6.4" fill="#00ffff"/>
<rect x="159.9" y="166.7" width="24.6" height="6.4" fill="#3a5cf5"/>
<rect x="184.2" y="166.7" width="12.5" height="6.4" fill="#3aa2fa"/>
<rect x="196.3" y="166.7" width="12.5" height="6.4" fill="#00ffff"/>
<rect x="208.5" y="166.7" width="12.5" height="6.4" fill="#86ffbe"/>
<rect x="220.7" y="166.7" width="6.4" height="6.4" fill="#ccff66"/>
<rect x="226.7" y="166.7" width="12.5" height="6.4" fill="#86ffbe"/>
<rect x="238.9" y="166.7" width="6.4" height="6.4" fill="#00ffff"/>
<rect x="245" y="166.7" width="6.4" height="6.4" fill="#86ffbe"/>
<rect x="251.1" y="166.7" width="42.9" height="6.4" fill="#ffff00"/>
<rect x="293.6" y="166.7" width="6.4" height="6.4" fill="#ffb400"/>
<rect x="299.7" y="166.7" width="24.6" height="6.4" fill="#ff6a00"/>
<rect x="68.7" y="172.8" width="12.5" height="6.4" fill="#0000ff"/>
<rect x="117.3" y="172.8" width="6.4" height="6.4" fill="#3aa2fa"/>
<rect x="129.5" y="172.8" width="12.5" height="6.4" fill="#00ffff"/>
<rect x="147.7" y="172.8" width="6.4" height="6.4" fill="#00ffff"/>
<rect x="153.8" y="172.8" width="6.4" height="6.4" fill="#3aa2fa"/>
<rect x="159.9" y="172.8" width="24.6" height="6.4" fill="#3a5cf5"/>
<rect x="184.2" y="172.8" width="30.7" height="6.4" fill="#3aa2fa"/>
<rect x="214.6" y="172.8" width="6.4" height="6.4" fill="#00ffff"/>
<rect x="220.7" y="172.8" width="6.4" height="6.4" fill="#86ffbe"/>
<rect x="226.7" y="172.8" width="6.4" height="6.4" fill="#ccff66"/>
<rect x="232.8" y="172.8" width="12.5" height="6.4" fill="#86ffbe"/>
<rect x="245" y="172.8" width="6.4" height="6.4" fill="#ccff66"/>
<rect x="251.1" y="172.8" width="12.5" height="6.4" fill="#ffff00"/>
<rect x="263.2" y="172.8" width="12.5" height="6.4" fill="#ffb400"/>
<rect x="275.4" y="172.8" width="18.5" height="6.4" fill="#ffff00"/>
<rect x="293.6" y="172.8" width="12.5" height="6.4" fill="#ffb400"/>
<rect x="305.8" y="172.8" width="18.5" height="6.4" fill="#ff6a00"/>
<rect x="111.2" y="178.9" width="12.5" height="6.4" fill="#00ffff"/>
<rect x="123.4" y="178.9" width="6.4" height="6.4" fill="#86ffbe"/>
<rect x="129.5" y="178.9" width="6.4" height="6.4" fill="#00ffff"/>
<rect x="135.5" y="178.9" width="12.5" height="6.4" fill="#3aa2fa"/>
<rect x="147.7" y="178.9" width="6.4" height="6.4" fill="#00ffff"/>
<rect x="153.8" y="178.9" width="6.4" height="6.4" fill="#3aa2fa"/>
<rect x="159.9" y="178.9" width="6.4" height="6.4" fill="#3a5cf5"/>
<rect x="172" y="178.9" width="6.4" height="6.4" fill="#3a5cf5"/>
<rect x="178.1" y="178.9" width="6.4" height="6.4" fill="#3aa2fa"/>
<rect x="184.2" y="178.9" width="12.5" height="6.4" fill="#00ffff"/>
<rect x="196.3" y="178.9" width="12.5" height="6.4" fill="#3aa2fa"/>
<rect x="208.5" y="178.9" width="12.5" height="6.4" fill="#00ffff"/>
<rect x="220.7" y="178.9" width="6.4" height="6.4" fill="#86ffbe"/>
<rect x="226.7" y="178.9" width="24.6" height="6.4" fill="#ccff66"/>
<rect x="251.1" y="178.9" width="30.7" height="6.4" fill="#ffff00"/>
<rect x="281.5" y="178.9" width="6.4" height="6.4" fill="#ffb400"/>
<rect x="287.5" y="178.9" width="6.4" height="6.4" fill="#ffff00"/>
<rect x="293.6" y="178.9" width="6.4" height="6.4" fill="#ffb400"/>
<rect x="299.7" y="178.9" width="6.4" height="6.4" fill="#ffff00"/>
<rect x="305.8" y="178.9" width="12.5" height="6.4" fill="#ffb400"/>
<rect x="317.9" y="178.9" width="6.4" height="6.4" fill="#ff0000"/>
<rect x="93" y="185" width="6.4" height="6.4" fill="#3a5cf5"/>
<rect x="99.1" y="185" width="6.4" height="6.4" fill="#0000ff"/>
<rect x="111.2" y="185" width="18.5" height="6.4" fill="#3aa2fa"/>
<rect x="129.5" y="185" width="12.5" height="6.4" fill="#00ffff"/>
<rect x="141.6" y="185" width="6.4" height="6.4" fill="#3aa2fa"/>
<rect x="153.8" y="185" width="18.5" height="6.4" fill="#00ffff"/>
<rect x="172" y="185" width="6.4" height="6.4" fill="#86ffbe"/>
<rect x="178.1" y="185" width="18.5" height="6.4" fill="#ccff66"/>
<rect x="196.3" y="185" width="12.5" height="6.4" fill="#00ffff"/>
<rect x="208.5" y="185" width="6.4" height="6.4" fill="#3aa2fa"/>
<rect x="214.6" y="185" width="12.5" height="6.4" fill="#86ffbe"/>
<rect x="226.7" y="185" width="24.6" height="6.4" fill="#ccff66"/>
<rect x="251.1" y="185" width="55" height="6.4" fill="#ffff00"/>
<rect x="305.8" y="185" width="12.5" height="6.4" fill="#ffb400"/>
<rect x="317.9" y="185" width="6.4" height="6.4" fill="#ff6a00"/>
<rect x="123.4" y="191.1" width="6.4" height="6.4" fill="#3a5cf5"/>
<rect x="135.5" y="191.1" width="6.4" height="6.4" fill="#3a5cf5"/>
<rect x="141.6" y="191.1" width="6.4" height="6.4" fill="#0000ff"/>
<rect x="147.7" y="191.1" width="30.7" height="6.4" fill="#3a5cf5"/>
<rect x="178.1" y="191.1" width="30.7" height="6.4" fill="#ccff66"/>
<rect x="208.5" y="191.1" width="6.4" height="6.4" fill="#3aa2fa"/>
<rect x="214.6" y="191.1" width="12.5" height="6.4" fill="#00ffff"/>
<rect x="226.7" y="191.1" width="12.5" height="6.4" fill="#86ffbe"/>
<rect x="238.9" y="191.1" width="18.5" height="6.4" fill="#ccff66"/>
<rect x="257.1" y="191.1" width="24.6" height="6.4" fill="#ffff00"/>
<rect x="281.5" y="191.1" width="12.5" height="6.4" fill="#ffb400"/>
<rect x="293.6" y="191.1" width="24.6" height="6.4" fill="#ffff00"/>
<rect x="178.1" y="197.1" width="18.5" height="6.4" fill="#86ffbe"/>
<rect x="196.3" y="197.1" width="12.5" height="6.4" fill="#ccff66"/>
<rect x="208.5" y="197.1" width="6.4" height="6.4" fill="#00ffff"/>
<rect x="214.6" y="197.1" width="6.4" height="6.4" fill="#86ffbe"/>
<rect x="220.7" y="197.1" width="6.4" height="6.4" fill="#00ffff"/>
<rect x="226.7" y="197.1" width="18.5" height="6.4" fill="#86ffbe"/>
<rect x="245" y="197.1" width="12.5" height="6.4" fill="#ccff66"/>
<rect x="257.1" y="197.1" width="18.5" height="6.4" fill="#ffff00"/>
<rect x="275.4" y="197.1" width="24.6" height="6.4" fill="#ffb400"/>
<rect x="299.7" y="197.1" width="18.5" height="6.4" fill="#ffff00"/>
<rect x="178.1" y="203.2" width="24.6" height="6.4" fill="#86ffbe"/>
<rect x="202.4" y="203.2" width="12.5" height="6.4" fill="#ccff66"/>
<rect x="214.6" y="203.2" width="12.5" height="6.4" fill="#86ffbe"/>
<rect x="226.7" y="203.2" width="30.7" height="6.4" fill="#ccff66"/>
<rect x="257.1" y="203.2" width="18.5" height="6.4" fill="#ffff00"/>
<rect x="275.4" y="203.2" width="24.6" height="6.4" fill="#ffb400"/>
<rect x="299.7" y="203.2" width="12.5" height="6.4" fill="#ffff00"/>
<rect x="172" y="209.3" width="30.7" height="6.4" fill="#86ffbe"/>
<rect x="202.4" y="209.3" width="55" height="6.4" fill="#ccff66"/>
<rect x="257.1" y="209.3" width="30.7" height="6.4" fill="#ffff00"/>
<rect x="287.5" y="209.3" width="36.8" height="6.4" fill="#ffb400"/>
<rect x="184.2" y="215.4" width="18.5" height="6.4" fill="#ccff66"/>
<rect x="202.4" y="215.4" width="6.4" height="6.4" fill="#86ffbe"/>
<rect x="208.5" y="215.4" width="6.4" height="6.4" fill="#ccff66"/>
<rect x="214.6" y="215.4" width="6.4" height="6.4" fill="#ffff00"/>
<rect x="220.7" y="215.4" width="12.5" height="6.4" fill="#ccff66"/>
<rect x="232.8" y="215.4" width="18.5" height="6.4" fill="#86ffbe"/>
<rect x="251.1" y="215.4" width="6.4" height="6.4" fill="#ccff66"/>
<rect x="257.1" y="215.4" width="12.5" height="6.4" fill="#ffff00"/>
<rect x="269.3" y="215.4" width="30.7" height="6.4" fill="#ffb400"/>
<rect x="311.9" y="215.4" width="12.5" height="6.4" fill="#ff6a00"/>
<rect x="184.2" y="221.4" width="18.5" height="6.4" fill="#ccff66"/>
<rect x="202.4" y="221.4" width="6.4" height="6.4" fill="#86ffbe"/>
<rect x="208.5" y="221.4" width="6.4" height="6.4" fill="#ffff00"/>
<rect x="214.6" y="221.4" width="24.6" height="6.4" fill="#ccff66"/>
<rect x="238.9" y="221.4" width="6.4" height="6.4" fill="#00ffff"/>
<rect x="245" y="221.4" width="6.4" height="6.4" fill="#86ffbe"/>
<rect x="251.1" y="221.4" width="6.4" height="6.4" fill="#ccff66"/>
<rect x="257.1" y="221.4" width="12.5" height="6.4" fill="#ffff00"/>
<rect x="269.3" y="221.4" width="18.5" height="6.4" fill="#ffb400"/>
<rect x="311.9" y="221.4" width="12.5" height="6.4" fill="#ff6a00"/>
<rect x="190.3" y="227.5" width="12.5" height="6.4" fill="#ccff66"/>
<rect x="232.8" y="227.5" width="6.4" height="6.4" fill="#ccff66"/>
<rect x="238.9" y="227.5" width="6.4" height="6.4" fill="#86ffbe"/>
<rect x="245" y="227.5" width="6.4" height="6.4" fill="#00ffff"/>
<rect x="251.1" y="227.5" width="6.4" height="6.4" fill="#ccff66"/>
<rect x="257.1" y="227.5" width="6.4" height="6.4" fill="#ffff00"/>
<rect x="245" y="233.6" width="12.5" height="6.4" fill="#ffff00"/>
<rect x="238.9" y="239.7" width="18.5" height="6.4" fill="#ffff00"/>
<rect x="238.9" y="245.8" width="18.5" height="6.4" fill="#ffff00"/>
<path d="M26.1 33V264M32.2 33V264M38.3 33V264M44.3 33V264M50.4 33V264M56.5 33V264M62.6 33V264M68.7 33V264M74.7 33V264M80.8 33V264M86.9 33V264M93 33V264M99.1 33V264M105.1 33V264M111.2 33V264M117.3 33V264M123.4 33V264M129.5 33V264M135.5 33V264M141.6 33V264M147.7 33V264M153.8 33V264M159.9 33V264M165.9 33V264M172 33V264M178.1 33V264M184.2 33V264M190.3 33V264M196.3 33V264M202.4 33V264M208.5 33V264M214.6 33V264M220.7 33V264M226.7 33V264M232.8 33V264M238.9 33V264M245 33V264M251.1 33V264M257.1 33V264M263.2 33V264M269.3 33V264M275.4 33V264M281.5 33V264M287.5 33V264M293.6 33V264M299.7 33V264M305.8 33V264M311.9 33V264M317.9 33V264M324 33V264M330.1 33V264M336.2 33V264M342.3 33V264M348.3 33V264M354.4 33V264M360.5 33V264M366.6 33V264M372.7 33V264M378.7 33V264M384.8 33V264M390.9 33V264M397 33V264M403.1 33V264M409.1 33V264M415.2 33V264M26.1 264H415.2M26.1 257.9H415.2M26.1 251.8H415.2M26.1 245.8H415.2M26.1 239.7H415.2M26.1 233.6H415.2M26.1 227.5H415.2M26.1 221.4H415.2M26.1 215.4H415.2M26.1 209.3H415.2M26.1 203.2H415.2M26.1 197.1H415.2M26.1 191.1H415.2M26.1 185H415.2M26.1 178.9H415.2M26.1 172.8H415.2M26.1 166.7H415.2M26.1 160.7H415.2M26.1 154.6H415.2M26.1 148.5H415.2M26.1 142.4H415.2M26.1 136.4H415.2M26.1 130.3H415.2M26.1 124.2H415.2M26.1 118.1H415.2M26.1 112H415.2M26.1 106H415.2M26.1 99.9H415.2M26.1 93.8H415.2M26.1 87.7H415.2M26.1 81.7H415.2M26.1 75.6H415.2M26.1 69.5H415.2M26.1 63.4H415.2M26.1 57.3H415.2M26.1 51.3H415.2M26.1 45.2H415.2M26.1 39.1H415.2M26.1 33H415.2" stroke="#444" stroke-opacity="0.6" stroke-width="0.5" fill="none"/>
</g>
<polygon points="29,122.4 31,119.7 33,117.7 37.7,115.7 41.1,114.3 43.1,115.7 47.1,113 51.8,111.7 56.5,110.3 65.2,107 70.5,104.3 69.9,100.9 72.5,96.9 70.5,91.6 68.5,88.2 74.5,86.9 81.2,85.5 83.9,80.9 86.6,74.2 91.9,74.8 100,74.8 102.7,72.8 103.3,68.8 108.7,66.8 110.7,62.8 116,62.4 117.4,65.5 121.4,68.1 128.1,69.5 132.1,71.5 135.5,75.5 135.9,80.2 134.8,84.9 138.8,86.9 146.8,87.6 153,88.6 157,91.6 161.7,92.9 163.7,94.9 166.4,99.6 171.7,101.3 177.1,100.9 183.8,102.6 193.2,101.3 201.2,103 206.6,105 211.9,107 218.6,107.4 225.3,105.6 233.3,103.6 241.4,103 249.4,102.6 254.8,100.3 258.8,96.9 262.8,94.9 260.1,91.6 261.4,88.2 264.8,86.9 269.5,88.6 274.8,87.6 278.9,85.5 281,85.5 286.4,82.9 294.4,78.9 302.4,77.5 309.8,77.1 311.1,74.8 307.1,71.5 301.1,69.5 293.7,70.4 287,71.5 285,69.5 287,64.8 290.4,60.1 293.7,58.1 298.4,60.1 305.1,57.8 307.8,54.1 311.8,48.7 316.5,45.4 317.1,42 312.5,40.7 315.8,38 323.8,36.4 334.6,35.3 342.6,37.3 347.9,39.4 350.6,44.7 354,50.1 357.3,55.4 358.7,59.4 366.7,60.8 374.7,64.1 377.4,67.5 379.4,70.8 386.8,69.5 394.8,68.1 403.1,66.5 400.8,70.8 397.5,75.5 394.8,80.2 391.5,85.5 386.8,86.9 380.1,87.6 380.7,92.9 379.4,98.3 375.4,100.9 376.1,103 372,101.6 366.7,105 361.3,108.3 354,107.7 350.2,111.4 346.2,114.4 342.2,116.7 338.2,119.4 334.2,119.7 330.2,121.4 327.5,122.8 324.1,124.1 321.5,125.1 318.8,125.4 319.8,124.1 319.5,121.4 321.5,119.4 323.5,117.7 325.1,115.4 324.1,113.7 322.1,112.4 319.1,113.1 316.8,115.1 314.8,116.7 311.4,118.4 308.1,120.1 306.1,121.8 303.4,123.4 300,123.8 298.4,125.1 297.4,126.8 298.7,128.4 300.7,129.1 304.4,129.5 306.4,130.8 307.1,132.1 305.7,133.5 306.1,134.8 309.4,135.8 312.1,134.5 314.8,132.1 316.8,129.5 318.8,132 321.5,133 324.8,133.3 328.2,134.1 327.8,135.8 325.5,137.5 322.1,138.5 319.5,139.5 316.8,140.8 313.4,142.8 310.1,146.2 307.7,148.9 310.1,151.5 312.8,153.5 314.8,156 315.1,156 317.1,160.1 319.8,164.1 323.2,166.8 324.1,170.1 323.8,173 322.6,174 320.5,174.9 319.9,176.1 320.9,177.4 322.6,178.2 324.3,178 326.8,176.7 329.3,174.4 327.2,179 325.1,180.9 324.3,183.4 322.6,185.1 322,187.2 321.8,189.3 319.7,191 317.6,193.1 315.5,195.6 313.8,197.7 311.7,200 309.8,202.9 310.5,206.2 307.8,208.3 303.8,210.9 299.7,212.9 295.7,216.3 291.7,219.6 289,222.3 285,223 281,223.4 277.5,225 273.5,225.7 269.5,227.7 264.1,229 266,229.1 264.2,229.5 261.1,230.2 258,231.1 256.1,232 254.2,233 252.9,234.2 253.9,235.8 254.5,237.7 252.6,238.8 250.7,238.3 249.5,236.7 249,235.2 249.2,233 249.5,231.4 248.6,230.2 246,231.4 245.1,230.6 242.3,230.3 239.1,230.2 236,229.7 232,227.7 230.7,225 226,223 222.6,219.9 217.3,222.3 213.2,223 209.2,224.3 205.2,223.7 201.9,226.3 200.5,232.4 199.9,227.7 197.9,226.3 196.5,229.7 193.2,230.3 189.8,227.7 185.8,224.3 184.5,219 181.1,215 177.1,215 175.8,211.6 177.8,208.3 180.4,204.9 183.1,200.9 182.5,195.5 179.8,190.9 176.4,188.8 171.7,192.2 166.4,190.9 161,192.2 155.7,194.2 153,196.6 148.2,197.5 142.8,196.9 140.1,192.9 136.1,191.3 130.8,190.9 125.4,192.2 123.4,195.3 122.1,192.9 118.7,191.5 112,191.3 105.3,191.5 100.6,188.8 96,186.2 91.9,184.8 89.3,182.1 83.9,179.5 79.9,176.8 76.5,178.8 74.5,177.5 69.2,174.8 65.8,172.8 61.8,170.8 59.1,166.1 60.5,162.1 63.8,158.7 63.2,154 61.1,150 56.5,147.3 53.8,146 48.4,143.1 45.8,141.1 43.7,137.8 38.4,136.8 35,136 38.4,133.1 37.7,127.7 34.4,126.4 31,125" fill="none" stroke="#555" stroke-width="0.8" stroke-linejoin="round"/>
<polygon points="249.5,240.2 252.3,239.9 254.8,239.4 256.7,240.5 257.3,241.5 256.1,243.3 254.8,245.2 254.5,247.1 252.3,248.7 250.1,249.9 248.6,250.9 246.4,250.2 243.5,249.3 242.6,247.1 242.6,244.6 244.2,242.7 246.4,241.1" fill="none" stroke="#555" stroke-width="0.8" stroke-linejoin="round"/>
<polygon points="321.8,207.9 323.8,208.9 323.6,212.3 321.8,217 320.5,221 318.5,224.3 316.5,227.9 314.5,225 312.9,221 313.1,217 315.1,213.6 317.8,210.3 319.8,208.5" fill="none" stroke="#555" stroke-width="0.8" stroke-linejoin="round"/>
<path d="M319.1 234.4L323.5 230.0M308.4 252.0L311.6 246.3M306.3 264.5L306.3 270.2M303.4 295.3L305.9 289.3M285.2 317.9L289.2 312.9M262.0 341.1L268.3 339.0M240.3 318.5L240.3 325.2M251.3 293.4L253.6 287.1M247.3 263.7L250.7 269.6M327.2 218.3L328.9 212.3M333.2 204.9L334.8 203.3" stroke="#222" stroke-width="0.7" fill="none"/>
<path d="M291.8 236.0h1.8M297.9 269.2h1.0M291.7 262.3h0.8M320.6 227.0h1.2M265.2 327.3h1.2M260.2 262.0h0.9M264.7 258.9h0.9M259.7 257.6h0.9M265.9 263.9h0.9M257.8 265.2h0.9M262.1 260.3h0.9M267.1 260.5h0.9M279.7 298.7h0.8M273.5 304.5h0.6M273.2 304.3h0.5M282.6 297.1h0.5M282.3 305.5h0.5M277.1 304.6h0.9M286.0 299.8h0.9M272.9 308.2h0.6M275.3 299.4h0.6M292.0 295.9h0.7M287.6 299.2h0.7M273.3 299.3h0.6M288.7 299.5h0.6M286.3 300.4h0.6M291.6 301.8h0.6M285.9 301.2h0.9M289.8 297.7h0.9M274.6 302.9h0.8M275.5 303.5h0.5M288.3 303.3h0.7M293.5 297.0h0.8M286.5 301.7h0.7M292.7 304.2h0.7M288.2 295.6h0.8M287.8 305.9h0.8M278.7 301.5h0.8M272.3 304.0h0.6M274.5 299.0h0.8M274.9 301.0h0.7M293.4 294.5h0.7M285.3 305.3h0.8M293.3 296.7h0.7M280.5 306.5h0.9M275.5 300.0h0.6M256.6 315.7h0.7M257.6 312.5h0.7M261.1 314.9h0.9M272.1 311.5h0.7M271.6 308.9h0.9M275.1 312.8h0.8M262.1 313.7h0.5M270.3 309.3h0.5M255.8 314.0h0.6M250.5 314.5h0.6M252.2 316.2h0.5M278.4 310.4h0.6M257.3 314.7h0.6M252.7 318.9h0.9M264.6 313.5h0.5M252.2 316.1h0.6M276.9 308.1h0.5M281.1 309.1h0.6M267.1 310.0h0.7M281.9 310.9h0.8M257.6 314.7h0.6M274.8 310.8h0.8M326.0 174.2h1.0M327.7 175.5h1.0M326.9 177.8h1.0M325.4 179.6h1.0M326.3 182.0h1.0M324.1 184.5h1.0M323.4 187.2h1.0M322.0 189.0h1.0M317.0 197.5h1.0M315.3 199.8h1.0M311.9 204.3h1.0" stroke="#333" stroke-width="0.8" stroke-linecap="round" fill="none"/>
<path d="M308.2 217.6L308.9 220.6" stroke="#222" stroke-width="1" fill="none"/>
<ellipse cx="277.4" cy="265.4" rx="3.5" ry="1.6" transform="rotate(-25 277.4 265.4)" fill="none" stroke="#333" stroke-width="0.5"/>
<text x="32.5" y="226.1" class="t" font-size="11.3">XCO<tspan font-size="7.4" dy="1.9">2ano</tspan><tspan dy="-1.9">(ppm)</tspan></text>
<rect x="27" y="234.2" width="28.4" height="14" fill="#0000ff" stroke="#aaa" stroke-width="0.4"/>
<rect x="130.1" y="234.2" width="28.2" height="14" fill="#ccff66" stroke="#aaa" stroke-width="0.4"/>
<text x="60.4" y="245.7" class="t" font-size="11"><tspan fill="#777">−</tspan>1.55 <tspan fill="#777">−</tspan> <tspan fill="#777">−</tspan>0.57</text>
<text x="163.3" y="245.7" class="t" font-size="11">0.73 <tspan fill="#777">−</tspan> 1.08</text>
<rect x="27" y="253.2" width="28.4" height="14" fill="#3a5cf5" stroke="#aaa" stroke-width="0.4"/>
<rect x="130.1" y="253.2" width="28.2" height="14" fill="#ffff00" stroke="#aaa" stroke-width="0.4"/>
<text x="60.4" y="264.8" class="t" font-size="11"><tspan fill="#a8a8a8">−</tspan>0.56 <tspan fill="#a8a8a8">−</tspan> <tspan fill="#a8a8a8">−</tspan>0.16</text>
<text x="163.3" y="264.8" class="t" font-size="11">1.09 <tspan fill="#a8a8a8">−</tspan> 1.46</text>
<rect x="27" y="272.3" width="28.4" height="14" fill="#3aa2fa" stroke="#aaa" stroke-width="0.4"/>
<rect x="130.1" y="272.3" width="28.2" height="14" fill="#ffb400" stroke="#aaa" stroke-width="0.4"/>
<text x="60.4" y="283.8" class="t" font-size="11"><tspan fill="#999">−</tspan>0.15 <tspan fill="#999">−</tspan> 0.14</text>
<text x="163.3" y="283.8" class="t" font-size="11">1.47 <tspan fill="#999">−</tspan> 1.85</text>
<rect x="27" y="291.4" width="28.4" height="14" fill="#00ffff" stroke="#aaa" stroke-width="0.4"/>
<rect x="130.1" y="291.4" width="28.2" height="14" fill="#ff6a00" stroke="#aaa" stroke-width="0.4"/>
<text x="60.4" y="302.9" class="t" font-size="11">0.15 <tspan fill="#222">−</tspan> 0.41</text>
<text x="163.3" y="302.9" class="t" font-size="11">1.86 <tspan fill="#222">−</tspan> 2.28</text>
<rect x="27" y="310.4" width="28.4" height="14" fill="#86ffbe" stroke="#aaa" stroke-width="0.4"/>
<rect x="130.1" y="310.4" width="28.2" height="14" fill="#ff0000" stroke="#aaa" stroke-width="0.4"/>
<text x="60.4" y="321.9" class="t" font-size="11">0.42 <tspan fill="#dcdcdc">−</tspan> 0.72</text>
<text x="163.3" y="321.9" class="t" font-size="11">2.29 <tspan fill="#dcdcdc">−</tspan> 3.24</text>
<rect x="24.6" y="330.4" width="18.2" height="9.3" fill="#fff" stroke="#888" stroke-width="0.5"/>
<text x="46.6" y="338.5" class="t" font-size="11">National boundaries</text>
<path clip-path="url(#lg)" d="M135 340l10 -10M137.9 340l10 -10M140.8 340l10 -10M143.7 340l10 -10M146.6 340l10 -10M149.5 340l10 -10M152.4 340l10 -10M155.3 340l10 -10M158.2 340l10 -10M161.1 340l10 -10" stroke="#404040" stroke-width="0.5" fill="none"/>
<rect x="144.7" y="329.8" width="18" height="9.4" fill="none" stroke="#aaa" stroke-width="0.4"/>
<text x="167" y="338.2" class="t" font-size="11">Background area</text>
<rect x="292.2" y="339.8" width="83.4" height="4" fill="#fff" stroke="#000" stroke-width="0.5"/>
<rect x="292.2" y="339.6" width="41.7" height="4.4" fill="#000"/>
<text x="292.2" y="335" class="t" font-size="9.6" text-anchor="middle">0</text>
<text x="334" y="335" class="t" font-size="9.6" text-anchor="middle">750</text>
<text x="365.6" y="335" class="t" font-size="9.6">1500 km</text>
<text x="403.9" y="32" font-family="'Liberation Sans',sans-serif" font-weight="bold" font-size="5.2" text-anchor="middle" fill="#000">N</text>
<path d="M403.8 33.9L399 49L403.9 44.2Z" fill="#000"/><path d="M403.8 33.9L408.2 48.6L403.9 44.2Z" fill="#fff" stroke="#000" stroke-width="0.5"/>
<rect x="20.9" y="22.5" width="396" height="328.9" fill="none" stroke="#3c3c3c" stroke-width="1.4"/>
<text x="71.5" y="18.9" class="t" font-size="10" text-anchor="middle">80°E</text>
<text x="71.5" y="363.8" class="t" font-size="10" text-anchor="middle">80°E</text>
<text x="132.3" y="18.9" class="t" font-size="10" text-anchor="middle">90°E</text>
<text x="132.3" y="363.8" class="t" font-size="10" text-anchor="middle">90°E</text>
<text x="193.1" y="18.9" class="t" font-size="10" text-anchor="middle">100°E</text>
<text x="193.1" y="363.8" class="t" font-size="10" text-anchor="middle">100°E</text>
<text x="253.9" y="18.9" class="t" font-size="10" text-anchor="middle">110°E</text>
<text x="253.9" y="363.8" class="t" font-size="10" text-anchor="middle">110°E</text>
<text x="314.7" y="18.9" class="t" font-size="10" text-anchor="middle">120°E</text>
<text x="314.7" y="363.8" class="t" font-size="10" text-anchor="middle">120°E</text>
<text x="375.5" y="18.9" class="t" font-size="10" text-anchor="middle">130°E</text>
<text x="375.5" y="363.8" class="t" font-size="10" text-anchor="middle">130°E</text>
<text transform="translate(17.8 305.8) rotate(-90)" class="t" font-size="10" text-anchor="middle">10°N</text>
<text transform="translate(429.6 305.8) rotate(-90)" class="t" font-size="10" text-anchor="middle">10°N</text>
<text transform="translate(17.8 245) rotate(-90)" class="t" font-size="10" text-anchor="middle">20°N</text>
<text transform="translate(429.6 245) rotate(-90)" class="t" font-size="10" text-anchor="middle">20°N</text>
<text transform="translate(17.8 184.2) rotate(-90)" class="t" font-size="10" text-anchor="middle">30°N</text>
<text transform="translate(429.6 184.2) rotate(-90)" class="t" font-size="10" text-anchor="middle">30°N</text>
<text transform="translate(17.8 123.5) rotate(-90)" class="t" font-size="10" text-anchor="middle">40°N</text>
<text transform="translate(429.6 123.5) rotate(-90)" class="t" font-size="10" text-anchor="middle">40°N</text>
<text transform="translate(17.8 62.7) rotate(-90)" class="t" font-size="10" text-anchor="middle">50°N</text>
<text transform="translate(429.6 62.7) rotate(-90)" class="t" font-size="10" text-anchor="middle">50°N</text>
<text x="218.6" y="388.2" class="c" text-anchor="middle"><tspan>(</tspan><tspan font-weight="normal">f</tspan><tspan>) 2017</tspan></text>
</g>
</svg></body></html>
